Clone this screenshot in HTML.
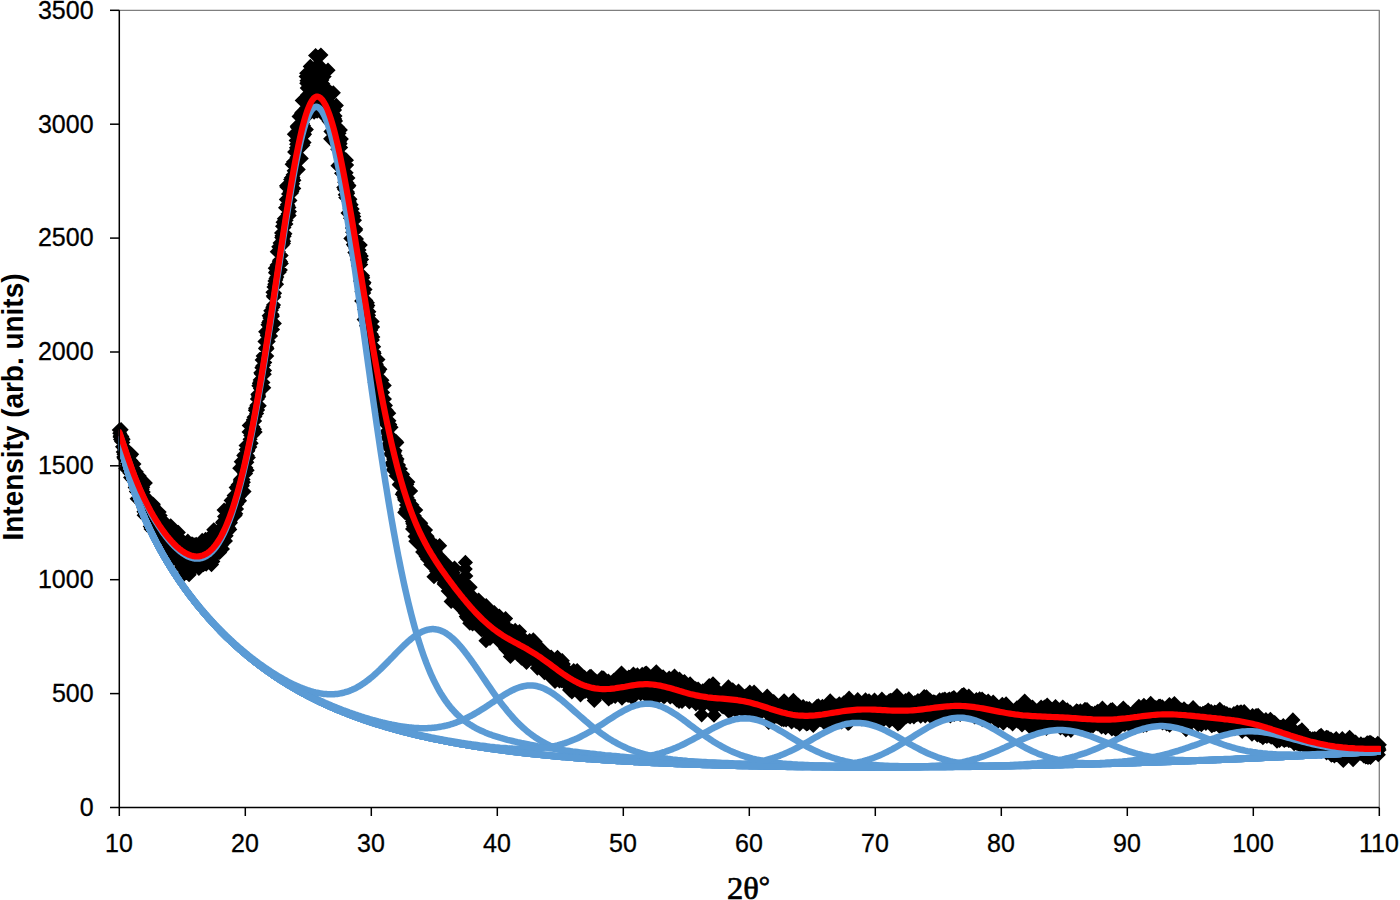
<!DOCTYPE html>
<html><head><meta charset="utf-8"><style>
html,body{margin:0;padding:0;background:#fff;}
body{width:1400px;height:900px;overflow:hidden;position:relative;}
svg{position:absolute;left:0;top:0;}
.t{font-family:"Liberation Sans",sans-serif;font-size:25px;fill:#000;stroke:#000;stroke-width:0.3;}
</style></head><body>
<svg width="1400" height="900" viewBox="0 0 1400 900">
<rect width="1400" height="900" fill="#fff"/>
<path d="M119.3 10.3H1379.3V807.5" fill="none" stroke="#7f7f7f" stroke-width="1.3" stroke-linejoin="round"/>
<clipPath id="c"><rect x="118.8" y="0" width="1262.2" height="900"/></clipPath>
<path d="M119.3 422.5l7.6 7.6-7.6 7.6-7.6-7.6zM119.6 422.2l7.6 7.6-7.6 7.6-7.6-7.6zM119.8 425.6l7.6 7.6-7.6 7.6-7.6-7.6zM120.1 429.3l7.6 7.6-7.6 7.6-7.6-7.6zM120.3 428.3l7.6 7.6-7.6 7.6-7.6-7.6zM120.6 431.8l7.6 7.6-7.6 7.6-7.6-7.6zM120.8 427.6l7.6 7.6-7.6 7.6-7.6-7.6zM121.1 422.1l7.6 7.6-7.6 7.6-7.6-7.6zM121.3 432.2l7.6 7.6-7.6 7.6-7.6-7.6zM121.6 433.8l7.6 7.6-7.6 7.6-7.6-7.6zM121.8 428.9l7.6 7.6-7.6 7.6-7.6-7.6zM122.1 430.4l7.6 7.6-7.6 7.6-7.6-7.6zM122.3 432.6l7.6 7.6-7.6 7.6-7.6-7.6zM122.6 439.2l7.6 7.6-7.6 7.6-7.6-7.6zM122.8 435l7.6 7.6-7.6 7.6-7.6-7.6zM123.1 431.7l7.6 7.6-7.6 7.6-7.6-7.6zM123.3 444.3l7.6 7.6-7.6 7.6-7.6-7.6zM123.6 440l7.6 7.6-7.6 7.6-7.6-7.6zM123.8 449.5l7.6 7.6-7.6 7.6-7.6-7.6zM124.1 446.7l7.6 7.6-7.6 7.6-7.6-7.6zM124.3 451l7.6 7.6-7.6 7.6-7.6-7.6zM124.6 442.1l7.6 7.6-7.6 7.6-7.6-7.6zM124.8 449.3l7.6 7.6-7.6 7.6-7.6-7.6zM125.1 440.5l7.6 7.6-7.6 7.6-7.6-7.6zM125.3 442l7.6 7.6-7.6 7.6-7.6-7.6zM125.6 445l7.6 7.6-7.6 7.6-7.6-7.6zM125.9 460.8l7.6 7.6-7.6 7.6-7.6-7.6zM126.1 448.9l7.6 7.6-7.6 7.6-7.6-7.6zM126.4 446.5l7.6 7.6-7.6 7.6-7.6-7.6zM126.6 446.2l7.6 7.6-7.6 7.6-7.6-7.6zM126.9 457.9l7.6 7.6-7.6 7.6-7.6-7.6zM127.1 451.7l7.6 7.6-7.6 7.6-7.6-7.6zM127.4 455.8l7.6 7.6-7.6 7.6-7.6-7.6zM127.6 455.5l7.6 7.6-7.6 7.6-7.6-7.6zM127.9 443.4l7.6 7.6-7.6 7.6-7.6-7.6zM128.1 457l7.6 7.6-7.6 7.6-7.6-7.6zM128.4 452.4l7.6 7.6-7.6 7.6-7.6-7.6zM128.6 446.8l7.6 7.6-7.6 7.6-7.6-7.6zM128.9 457.8l7.6 7.6-7.6 7.6-7.6-7.6zM129.1 455.2l7.6 7.6-7.6 7.6-7.6-7.6zM129.4 454.3l7.6 7.6-7.6 7.6-7.6-7.6zM129.6 455.4l7.6 7.6-7.6 7.6-7.6-7.6zM129.9 465.3l7.6 7.6-7.6 7.6-7.6-7.6zM130.1 456.7l7.6 7.6-7.6 7.6-7.6-7.6zM130.4 448.1l7.6 7.6-7.6 7.6-7.6-7.6zM130.6 469.9l7.6 7.6-7.6 7.6-7.6-7.6zM130.9 453.1l7.6 7.6-7.6 7.6-7.6-7.6zM131.1 459.2l7.6 7.6-7.6 7.6-7.6-7.6zM131.4 465.5l7.6 7.6-7.6 7.6-7.6-7.6zM131.6 446.7l7.6 7.6-7.6 7.6-7.6-7.6zM131.9 456.5l7.6 7.6-7.6 7.6-7.6-7.6zM132.2 471.7l7.6 7.6-7.6 7.6-7.6-7.6zM132.4 462.9l7.6 7.6-7.6 7.6-7.6-7.6zM132.7 459.8l7.6 7.6-7.6 7.6-7.6-7.6zM132.9 466.2l7.6 7.6-7.6 7.6-7.6-7.6zM133.2 460.3l7.6 7.6-7.6 7.6-7.6-7.6zM133.4 466.6l7.6 7.6-7.6 7.6-7.6-7.6zM133.7 461.7l7.6 7.6-7.6 7.6-7.6-7.6zM133.9 456.5l7.6 7.6-7.6 7.6-7.6-7.6zM134.2 473.2l7.6 7.6-7.6 7.6-7.6-7.6zM134.4 467.2l7.6 7.6-7.6 7.6-7.6-7.6zM134.7 472.9l7.6 7.6-7.6 7.6-7.6-7.6zM134.9 469l7.6 7.6-7.6 7.6-7.6-7.6zM135.2 479.8l7.6 7.6-7.6 7.6-7.6-7.6zM135.4 475.7l7.6 7.6-7.6 7.6-7.6-7.6zM135.7 473.4l7.6 7.6-7.6 7.6-7.6-7.6zM135.9 465.6l7.6 7.6-7.6 7.6-7.6-7.6zM136.2 464.2l7.6 7.6-7.6 7.6-7.6-7.6zM136.4 484l7.6 7.6-7.6 7.6-7.6-7.6zM136.7 480.6l7.6 7.6-7.6 7.6-7.6-7.6zM136.9 469.9l7.6 7.6-7.6 7.6-7.6-7.6zM137.2 491.1l7.6 7.6-7.6 7.6-7.6-7.6zM137.4 479.8l7.6 7.6-7.6 7.6-7.6-7.6zM137.7 477.5l7.6 7.6-7.6 7.6-7.6-7.6zM137.9 467.5l7.6 7.6-7.6 7.6-7.6-7.6zM138.2 472.5l7.6 7.6-7.6 7.6-7.6-7.6zM138.5 481.1l7.6 7.6-7.6 7.6-7.6-7.6zM138.7 482l7.6 7.6-7.6 7.6-7.6-7.6zM139 481.7l7.6 7.6-7.6 7.6-7.6-7.6zM139.2 468.3l7.6 7.6-7.6 7.6-7.6-7.6zM139.5 484.3l7.6 7.6-7.6 7.6-7.6-7.6zM139.7 483.9l7.6 7.6-7.6 7.6-7.6-7.6zM140 479.2l7.6 7.6-7.6 7.6-7.6-7.6zM140.2 483.5l7.6 7.6-7.6 7.6-7.6-7.6zM140.5 484.7l7.6 7.6-7.6 7.6-7.6-7.6zM140.7 492.6l7.6 7.6-7.6 7.6-7.6-7.6zM141 484.4l7.6 7.6-7.6 7.6-7.6-7.6zM141.2 488.4l7.6 7.6-7.6 7.6-7.6-7.6zM141.5 476.1l7.6 7.6-7.6 7.6-7.6-7.6zM141.7 480.7l7.6 7.6-7.6 7.6-7.6-7.6zM142 486.7l7.6 7.6-7.6 7.6-7.6-7.6zM142.2 481.7l7.6 7.6-7.6 7.6-7.6-7.6zM142.5 490.3l7.6 7.6-7.6 7.6-7.6-7.6zM142.7 479.7l7.6 7.6-7.6 7.6-7.6-7.6zM143 488.7l7.6 7.6-7.6 7.6-7.6-7.6zM143.2 484.5l7.6 7.6-7.6 7.6-7.6-7.6zM143.5 500l7.6 7.6-7.6 7.6-7.6-7.6zM143.7 487.4l7.6 7.6-7.6 7.6-7.6-7.6zM144 504.2l7.6 7.6-7.6 7.6-7.6-7.6zM144.2 507.6l7.6 7.6-7.6 7.6-7.6-7.6zM144.5 494.2l7.6 7.6-7.6 7.6-7.6-7.6zM144.8 499.5l7.6 7.6-7.6 7.6-7.6-7.6zM145 491.5l7.6 7.6-7.6 7.6-7.6-7.6zM145.3 475.3l7.6 7.6-7.6 7.6-7.6-7.6zM145.5 500.5l7.6 7.6-7.6 7.6-7.6-7.6zM145.8 499.3l7.6 7.6-7.6 7.6-7.6-7.6zM146 493.2l7.6 7.6-7.6 7.6-7.6-7.6zM146.3 491.4l7.6 7.6-7.6 7.6-7.6-7.6zM146.5 497.2l7.6 7.6-7.6 7.6-7.6-7.6zM146.8 498l7.6 7.6-7.6 7.6-7.6-7.6zM147 491.2l7.6 7.6-7.6 7.6-7.6-7.6zM147.3 493.1l7.6 7.6-7.6 7.6-7.6-7.6zM147.5 506.1l7.6 7.6-7.6 7.6-7.6-7.6zM147.8 498.9l7.6 7.6-7.6 7.6-7.6-7.6zM148 498.5l7.6 7.6-7.6 7.6-7.6-7.6zM148.3 507.7l7.6 7.6-7.6 7.6-7.6-7.6zM148.5 497.6l7.6 7.6-7.6 7.6-7.6-7.6zM148.8 507.1l7.6 7.6-7.6 7.6-7.6-7.6zM149 492.8l7.6 7.6-7.6 7.6-7.6-7.6zM149.3 499.6l7.6 7.6-7.6 7.6-7.6-7.6zM149.5 500.9l7.6 7.6-7.6 7.6-7.6-7.6zM149.8 506.8l7.6 7.6-7.6 7.6-7.6-7.6zM150 503.4l7.6 7.6-7.6 7.6-7.6-7.6zM150.3 519l7.6 7.6-7.6 7.6-7.6-7.6zM150.5 512.5l7.6 7.6-7.6 7.6-7.6-7.6zM150.8 501l7.6 7.6-7.6 7.6-7.6-7.6zM151.1 521.4l7.6 7.6-7.6 7.6-7.6-7.6zM151.3 498l7.6 7.6-7.6 7.6-7.6-7.6zM151.6 519.2l7.6 7.6-7.6 7.6-7.6-7.6zM151.8 499.6l7.6 7.6-7.6 7.6-7.6-7.6zM152.1 512.9l7.6 7.6-7.6 7.6-7.6-7.6zM152.3 500.3l7.6 7.6-7.6 7.6-7.6-7.6zM152.6 505.9l7.6 7.6-7.6 7.6-7.6-7.6zM152.8 519.7l7.6 7.6-7.6 7.6-7.6-7.6zM153.1 497.8l7.6 7.6-7.6 7.6-7.6-7.6zM153.3 496.7l7.6 7.6-7.6 7.6-7.6-7.6zM153.6 509.2l7.6 7.6-7.6 7.6-7.6-7.6zM153.8 511.3l7.6 7.6-7.6 7.6-7.6-7.6zM154.1 510.8l7.6 7.6-7.6 7.6-7.6-7.6zM154.3 517.8l7.6 7.6-7.6 7.6-7.6-7.6zM154.6 501.6l7.6 7.6-7.6 7.6-7.6-7.6zM154.8 515.2l7.6 7.6-7.6 7.6-7.6-7.6zM155.1 511.6l7.6 7.6-7.6 7.6-7.6-7.6zM155.3 518l7.6 7.6-7.6 7.6-7.6-7.6zM155.6 517.1l7.6 7.6-7.6 7.6-7.6-7.6zM155.8 522.7l7.6 7.6-7.6 7.6-7.6-7.6zM156.1 502.8l7.6 7.6-7.6 7.6-7.6-7.6zM156.3 514.5l7.6 7.6-7.6 7.6-7.6-7.6zM156.6 506l7.6 7.6-7.6 7.6-7.6-7.6zM156.8 514l7.6 7.6-7.6 7.6-7.6-7.6zM157.1 520l7.6 7.6-7.6 7.6-7.6-7.6zM157.4 517.5l7.6 7.6-7.6 7.6-7.6-7.6zM157.6 519.7l7.6 7.6-7.6 7.6-7.6-7.6zM157.9 515.6l7.6 7.6-7.6 7.6-7.6-7.6zM158.1 519l7.6 7.6-7.6 7.6-7.6-7.6zM158.4 518.8l7.6 7.6-7.6 7.6-7.6-7.6zM158.6 527.8l7.6 7.6-7.6 7.6-7.6-7.6zM158.9 523.6l7.6 7.6-7.6 7.6-7.6-7.6zM159.1 504.5l7.6 7.6-7.6 7.6-7.6-7.6zM159.4 523.3l7.6 7.6-7.6 7.6-7.6-7.6zM159.6 526.7l7.6 7.6-7.6 7.6-7.6-7.6zM159.9 516l7.6 7.6-7.6 7.6-7.6-7.6zM160.1 507.9l7.6 7.6-7.6 7.6-7.6-7.6zM160.4 531l7.6 7.6-7.6 7.6-7.6-7.6zM160.6 521.5l7.6 7.6-7.6 7.6-7.6-7.6zM160.9 525.2l7.6 7.6-7.6 7.6-7.6-7.6zM161.1 534.5l7.6 7.6-7.6 7.6-7.6-7.6zM161.4 515.1l7.6 7.6-7.6 7.6-7.6-7.6zM161.6 521.5l7.6 7.6-7.6 7.6-7.6-7.6zM161.9 521.1l7.6 7.6-7.6 7.6-7.6-7.6zM162.1 527.9l7.6 7.6-7.6 7.6-7.6-7.6zM162.4 518.7l7.6 7.6-7.6 7.6-7.6-7.6zM162.6 526.9l7.6 7.6-7.6 7.6-7.6-7.6zM162.9 524.2l7.6 7.6-7.6 7.6-7.6-7.6zM163.1 532.1l7.6 7.6-7.6 7.6-7.6-7.6zM163.4 533.3l7.6 7.6-7.6 7.6-7.6-7.6zM163.7 513.6l7.6 7.6-7.6 7.6-7.6-7.6zM163.9 528.4l7.6 7.6-7.6 7.6-7.6-7.6zM164.2 522.5l7.6 7.6-7.6 7.6-7.6-7.6zM164.4 525.4l7.6 7.6-7.6 7.6-7.6-7.6zM164.7 528.9l7.6 7.6-7.6 7.6-7.6-7.6zM164.9 529.7l7.6 7.6-7.6 7.6-7.6-7.6zM165.2 521.1l7.6 7.6-7.6 7.6-7.6-7.6zM165.4 528.8l7.6 7.6-7.6 7.6-7.6-7.6zM165.7 527.9l7.6 7.6-7.6 7.6-7.6-7.6zM165.9 526.9l7.6 7.6-7.6 7.6-7.6-7.6zM166.2 518.2l7.6 7.6-7.6 7.6-7.6-7.6zM166.4 522.4l7.6 7.6-7.6 7.6-7.6-7.6zM166.7 525l7.6 7.6-7.6 7.6-7.6-7.6zM166.9 532.8l7.6 7.6-7.6 7.6-7.6-7.6zM167.2 539.5l7.6 7.6-7.6 7.6-7.6-7.6zM167.4 521.5l7.6 7.6-7.6 7.6-7.6-7.6zM167.7 521.7l7.6 7.6-7.6 7.6-7.6-7.6zM167.9 530.7l7.6 7.6-7.6 7.6-7.6-7.6zM168.2 525.7l7.6 7.6-7.6 7.6-7.6-7.6zM168.4 524.1l7.6 7.6-7.6 7.6-7.6-7.6zM168.7 524l7.6 7.6-7.6 7.6-7.6-7.6zM168.9 523.6l7.6 7.6-7.6 7.6-7.6-7.6zM169.2 534.6l7.6 7.6-7.6 7.6-7.6-7.6zM169.4 519.6l7.6 7.6-7.6 7.6-7.6-7.6zM169.7 541.4l7.6 7.6-7.6 7.6-7.6-7.6zM170 525.3l7.6 7.6-7.6 7.6-7.6-7.6zM170.2 528.4l7.6 7.6-7.6 7.6-7.6-7.6zM170.5 525.7l7.6 7.6-7.6 7.6-7.6-7.6zM170.7 518.2l7.6 7.6-7.6 7.6-7.6-7.6zM171 521.6l7.6 7.6-7.6 7.6-7.6-7.6zM171.2 542.3l7.6 7.6-7.6 7.6-7.6-7.6zM171.5 546.8l7.6 7.6-7.6 7.6-7.6-7.6zM171.7 527.6l7.6 7.6-7.6 7.6-7.6-7.6zM172 542.1l7.6 7.6-7.6 7.6-7.6-7.6zM172.2 534.6l7.6 7.6-7.6 7.6-7.6-7.6zM172.5 528.2l7.6 7.6-7.6 7.6-7.6-7.6zM172.7 547.8l7.6 7.6-7.6 7.6-7.6-7.6zM173 551.6l7.6 7.6-7.6 7.6-7.6-7.6zM173.2 533.5l7.6 7.6-7.6 7.6-7.6-7.6zM173.5 535.5l7.6 7.6-7.6 7.6-7.6-7.6zM173.7 538l7.6 7.6-7.6 7.6-7.6-7.6zM174 536l7.6 7.6-7.6 7.6-7.6-7.6zM174.2 543.2l7.6 7.6-7.6 7.6-7.6-7.6zM174.5 548.5l7.6 7.6-7.6 7.6-7.6-7.6zM174.7 538.4l7.6 7.6-7.6 7.6-7.6-7.6zM175 544.8l7.6 7.6-7.6 7.6-7.6-7.6zM175.2 550.2l7.6 7.6-7.6 7.6-7.6-7.6zM175.5 533.9l7.6 7.6-7.6 7.6-7.6-7.6zM175.7 538.5l7.6 7.6-7.6 7.6-7.6-7.6zM176 535.2l7.6 7.6-7.6 7.6-7.6-7.6zM176.3 546.1l7.6 7.6-7.6 7.6-7.6-7.6zM176.5 543.8l7.6 7.6-7.6 7.6-7.6-7.6zM176.8 546.7l7.6 7.6-7.6 7.6-7.6-7.6zM177 546l7.6 7.6-7.6 7.6-7.6-7.6zM177.3 537.9l7.6 7.6-7.6 7.6-7.6-7.6zM177.5 545.7l7.6 7.6-7.6 7.6-7.6-7.6zM177.8 537.2l7.6 7.6-7.6 7.6-7.6-7.6zM178 537.5l7.6 7.6-7.6 7.6-7.6-7.6zM178.3 524.8l7.6 7.6-7.6 7.6-7.6-7.6zM178.5 551.2l7.6 7.6-7.6 7.6-7.6-7.6zM178.8 533.9l7.6 7.6-7.6 7.6-7.6-7.6zM179 541.7l7.6 7.6-7.6 7.6-7.6-7.6zM179.3 541.3l7.6 7.6-7.6 7.6-7.6-7.6zM179.5 552.5l7.6 7.6-7.6 7.6-7.6-7.6zM179.8 545.1l7.6 7.6-7.6 7.6-7.6-7.6zM180 536.1l7.6 7.6-7.6 7.6-7.6-7.6zM180.3 542.6l7.6 7.6-7.6 7.6-7.6-7.6zM180.5 541.6l7.6 7.6-7.6 7.6-7.6-7.6zM180.8 544.6l7.6 7.6-7.6 7.6-7.6-7.6zM181 533.7l7.6 7.6-7.6 7.6-7.6-7.6zM181.3 542.9l7.6 7.6-7.6 7.6-7.6-7.6zM181.5 559.7l7.6 7.6-7.6 7.6-7.6-7.6zM181.8 548.4l7.6 7.6-7.6 7.6-7.6-7.6zM182 558.3l7.6 7.6-7.6 7.6-7.6-7.6zM182.3 568.3l7.6 7.6-7.6 7.6-7.6-7.6zM182.6 547.7l7.6 7.6-7.6 7.6-7.6-7.6zM182.8 533.6l7.6 7.6-7.6 7.6-7.6-7.6zM183.1 543.6l7.6 7.6-7.6 7.6-7.6-7.6zM183.3 553.1l7.6 7.6-7.6 7.6-7.6-7.6zM183.6 551.5l7.6 7.6-7.6 7.6-7.6-7.6zM183.8 535.9l7.6 7.6-7.6 7.6-7.6-7.6zM184.1 543.4l7.6 7.6-7.6 7.6-7.6-7.6zM184.3 544.4l7.6 7.6-7.6 7.6-7.6-7.6zM184.6 545.4l7.6 7.6-7.6 7.6-7.6-7.6zM184.8 544.8l7.6 7.6-7.6 7.6-7.6-7.6zM185.1 539.1l7.6 7.6-7.6 7.6-7.6-7.6zM185.3 541.2l7.6 7.6-7.6 7.6-7.6-7.6zM185.6 543.9l7.6 7.6-7.6 7.6-7.6-7.6zM185.8 553.6l7.6 7.6-7.6 7.6-7.6-7.6zM186.1 541.9l7.6 7.6-7.6 7.6-7.6-7.6zM186.3 551.2l7.6 7.6-7.6 7.6-7.6-7.6zM186.6 537.8l7.6 7.6-7.6 7.6-7.6-7.6zM186.8 555.9l7.6 7.6-7.6 7.6-7.6-7.6zM187.1 547.4l7.6 7.6-7.6 7.6-7.6-7.6zM187.3 546.5l7.6 7.6-7.6 7.6-7.6-7.6zM187.6 556.6l7.6 7.6-7.6 7.6-7.6-7.6zM187.8 533.6l7.6 7.6-7.6 7.6-7.6-7.6zM188.1 535.7l7.6 7.6-7.6 7.6-7.6-7.6zM188.3 550.4l7.6 7.6-7.6 7.6-7.6-7.6zM188.6 541.2l7.6 7.6-7.6 7.6-7.6-7.6zM188.9 544.3l7.6 7.6-7.6 7.6-7.6-7.6zM189.1 567.1l7.6 7.6-7.6 7.6-7.6-7.6zM189.4 545.4l7.6 7.6-7.6 7.6-7.6-7.6zM189.6 547.9l7.6 7.6-7.6 7.6-7.6-7.6zM189.9 546.9l7.6 7.6-7.6 7.6-7.6-7.6zM190.1 555.8l7.6 7.6-7.6 7.6-7.6-7.6zM190.4 549.8l7.6 7.6-7.6 7.6-7.6-7.6zM190.6 549.2l7.6 7.6-7.6 7.6-7.6-7.6zM190.9 538.9l7.6 7.6-7.6 7.6-7.6-7.6zM191.1 545.4l7.6 7.6-7.6 7.6-7.6-7.6zM191.4 548.1l7.6 7.6-7.6 7.6-7.6-7.6zM191.6 536.5l7.6 7.6-7.6 7.6-7.6-7.6zM191.9 552.4l7.6 7.6-7.6 7.6-7.6-7.6zM192.1 551.2l7.6 7.6-7.6 7.6-7.6-7.6zM192.4 562.1l7.6 7.6-7.6 7.6-7.6-7.6zM192.6 536.5l7.6 7.6-7.6 7.6-7.6-7.6zM192.9 541.1l7.6 7.6-7.6 7.6-7.6-7.6zM193.1 541.5l7.6 7.6-7.6 7.6-7.6-7.6zM193.4 543.5l7.6 7.6-7.6 7.6-7.6-7.6zM193.6 547.7l7.6 7.6-7.6 7.6-7.6-7.6zM193.9 547l7.6 7.6-7.6 7.6-7.6-7.6zM194.1 550.6l7.6 7.6-7.6 7.6-7.6-7.6zM194.4 550.2l7.6 7.6-7.6 7.6-7.6-7.6zM194.6 548.3l7.6 7.6-7.6 7.6-7.6-7.6zM194.9 537.3l7.6 7.6-7.6 7.6-7.6-7.6zM195.2 544.6l7.6 7.6-7.6 7.6-7.6-7.6zM195.4 549.3l7.6 7.6-7.6 7.6-7.6-7.6zM195.7 553.2l7.6 7.6-7.6 7.6-7.6-7.6zM195.9 553.6l7.6 7.6-7.6 7.6-7.6-7.6zM196.2 536.7l7.6 7.6-7.6 7.6-7.6-7.6zM196.4 545l7.6 7.6-7.6 7.6-7.6-7.6zM196.7 548.4l7.6 7.6-7.6 7.6-7.6-7.6zM196.9 551.5l7.6 7.6-7.6 7.6-7.6-7.6zM197.2 557.3l7.6 7.6-7.6 7.6-7.6-7.6zM197.4 549.4l7.6 7.6-7.6 7.6-7.6-7.6zM197.7 542.3l7.6 7.6-7.6 7.6-7.6-7.6zM197.9 551.8l7.6 7.6-7.6 7.6-7.6-7.6zM198.2 550.6l7.6 7.6-7.6 7.6-7.6-7.6zM198.4 550.5l7.6 7.6-7.6 7.6-7.6-7.6zM198.7 548l7.6 7.6-7.6 7.6-7.6-7.6zM198.9 560.8l7.6 7.6-7.6 7.6-7.6-7.6zM199.2 550.5l7.6 7.6-7.6 7.6-7.6-7.6zM199.4 555.2l7.6 7.6-7.6 7.6-7.6-7.6zM199.7 542l7.6 7.6-7.6 7.6-7.6-7.6zM199.9 554.4l7.6 7.6-7.6 7.6-7.6-7.6zM200.2 544.2l7.6 7.6-7.6 7.6-7.6-7.6zM200.4 537l7.6 7.6-7.6 7.6-7.6-7.6zM200.7 550.8l7.6 7.6-7.6 7.6-7.6-7.6zM200.9 553l7.6 7.6-7.6 7.6-7.6-7.6zM201.2 546.9l7.6 7.6-7.6 7.6-7.6-7.6zM201.5 548.3l7.6 7.6-7.6 7.6-7.6-7.6zM201.7 555.7l7.6 7.6-7.6 7.6-7.6-7.6zM202 544.6l7.6 7.6-7.6 7.6-7.6-7.6zM202.2 532.8l7.6 7.6-7.6 7.6-7.6-7.6zM202.5 549.9l7.6 7.6-7.6 7.6-7.6-7.6zM202.7 549.4l7.6 7.6-7.6 7.6-7.6-7.6zM203 555.7l7.6 7.6-7.6 7.6-7.6-7.6zM203.2 545.3l7.6 7.6-7.6 7.6-7.6-7.6zM203.5 557l7.6 7.6-7.6 7.6-7.6-7.6zM203.7 555.9l7.6 7.6-7.6 7.6-7.6-7.6zM204 537.7l7.6 7.6-7.6 7.6-7.6-7.6zM204.2 554.1l7.6 7.6-7.6 7.6-7.6-7.6zM204.5 539l7.6 7.6-7.6 7.6-7.6-7.6zM204.7 535.5l7.6 7.6-7.6 7.6-7.6-7.6zM205 544.9l7.6 7.6-7.6 7.6-7.6-7.6zM205.2 542.6l7.6 7.6-7.6 7.6-7.6-7.6zM205.5 531.8l7.6 7.6-7.6 7.6-7.6-7.6zM205.7 548l7.6 7.6-7.6 7.6-7.6-7.6zM206 550.9l7.6 7.6-7.6 7.6-7.6-7.6zM206.2 556.5l7.6 7.6-7.6 7.6-7.6-7.6zM206.5 545.8l7.6 7.6-7.6 7.6-7.6-7.6zM206.7 534.7l7.6 7.6-7.6 7.6-7.6-7.6zM207 538.5l7.6 7.6-7.6 7.6-7.6-7.6zM207.2 552.8l7.6 7.6-7.6 7.6-7.6-7.6zM207.5 551.9l7.6 7.6-7.6 7.6-7.6-7.6zM207.8 549.1l7.6 7.6-7.6 7.6-7.6-7.6zM208 542.8l7.6 7.6-7.6 7.6-7.6-7.6zM208.3 546.4l7.6 7.6-7.6 7.6-7.6-7.6zM208.5 543.1l7.6 7.6-7.6 7.6-7.6-7.6zM208.8 542.2l7.6 7.6-7.6 7.6-7.6-7.6zM209 546.6l7.6 7.6-7.6 7.6-7.6-7.6zM209.3 544.4l7.6 7.6-7.6 7.6-7.6-7.6zM209.5 542.3l7.6 7.6-7.6 7.6-7.6-7.6zM209.8 544.3l7.6 7.6-7.6 7.6-7.6-7.6zM210 539.6l7.6 7.6-7.6 7.6-7.6-7.6zM210.3 528.9l7.6 7.6-7.6 7.6-7.6-7.6zM210.5 538.5l7.6 7.6-7.6 7.6-7.6-7.6zM210.8 542.3l7.6 7.6-7.6 7.6-7.6-7.6zM211 555.4l7.6 7.6-7.6 7.6-7.6-7.6zM211.3 539.3l7.6 7.6-7.6 7.6-7.6-7.6zM211.5 557l7.6 7.6-7.6 7.6-7.6-7.6zM211.8 552.6l7.6 7.6-7.6 7.6-7.6-7.6zM212 535l7.6 7.6-7.6 7.6-7.6-7.6zM212.3 535.9l7.6 7.6-7.6 7.6-7.6-7.6zM212.5 542.2l7.6 7.6-7.6 7.6-7.6-7.6zM212.8 553.9l7.6 7.6-7.6 7.6-7.6-7.6zM213 543.3l7.6 7.6-7.6 7.6-7.6-7.6zM213.3 545.4l7.6 7.6-7.6 7.6-7.6-7.6zM213.5 535l7.6 7.6-7.6 7.6-7.6-7.6zM213.8 522.2l7.6 7.6-7.6 7.6-7.6-7.6zM214.1 537.6l7.6 7.6-7.6 7.6-7.6-7.6zM214.3 545l7.6 7.6-7.6 7.6-7.6-7.6zM214.6 547.7l7.6 7.6-7.6 7.6-7.6-7.6zM214.8 538.8l7.6 7.6-7.6 7.6-7.6-7.6zM215.1 539.4l7.6 7.6-7.6 7.6-7.6-7.6zM215.3 546.6l7.6 7.6-7.6 7.6-7.6-7.6zM215.6 536.5l7.6 7.6-7.6 7.6-7.6-7.6zM215.8 546l7.6 7.6-7.6 7.6-7.6-7.6zM216.1 528.1l7.6 7.6-7.6 7.6-7.6-7.6zM216.3 528.1l7.6 7.6-7.6 7.6-7.6-7.6zM216.6 527.6l7.6 7.6-7.6 7.6-7.6-7.6zM216.8 539.3l7.6 7.6-7.6 7.6-7.6-7.6zM217.1 531.3l7.6 7.6-7.6 7.6-7.6-7.6zM217.3 535.9l7.6 7.6-7.6 7.6-7.6-7.6zM217.6 537.6l7.6 7.6-7.6 7.6-7.6-7.6zM217.8 536.8l7.6 7.6-7.6 7.6-7.6-7.6zM218.1 543.9l7.6 7.6-7.6 7.6-7.6-7.6zM218.3 544.6l7.6 7.6-7.6 7.6-7.6-7.6zM218.6 526.8l7.6 7.6-7.6 7.6-7.6-7.6zM218.8 534.1l7.6 7.6-7.6 7.6-7.6-7.6zM219.1 530.5l7.6 7.6-7.6 7.6-7.6-7.6zM219.3 523.9l7.6 7.6-7.6 7.6-7.6-7.6zM219.6 544.9l7.6 7.6-7.6 7.6-7.6-7.6zM219.8 537l7.6 7.6-7.6 7.6-7.6-7.6zM220.1 529.1l7.6 7.6-7.6 7.6-7.6-7.6zM220.4 526.9l7.6 7.6-7.6 7.6-7.6-7.6zM220.6 532.5l7.6 7.6-7.6 7.6-7.6-7.6zM220.9 521l7.6 7.6-7.6 7.6-7.6-7.6zM221.1 527l7.6 7.6-7.6 7.6-7.6-7.6zM221.4 537.7l7.6 7.6-7.6 7.6-7.6-7.6zM221.6 535l7.6 7.6-7.6 7.6-7.6-7.6zM221.9 520.9l7.6 7.6-7.6 7.6-7.6-7.6zM222.1 523.1l7.6 7.6-7.6 7.6-7.6-7.6zM222.4 541.3l7.6 7.6-7.6 7.6-7.6-7.6zM222.6 515.1l7.6 7.6-7.6 7.6-7.6-7.6zM222.9 520.5l7.6 7.6-7.6 7.6-7.6-7.6zM223.1 514.1l7.6 7.6-7.6 7.6-7.6-7.6zM223.4 527.3l7.6 7.6-7.6 7.6-7.6-7.6zM223.6 526.1l7.6 7.6-7.6 7.6-7.6-7.6zM223.9 532.2l7.6 7.6-7.6 7.6-7.6-7.6zM224.1 502.5l7.6 7.6-7.6 7.6-7.6-7.6zM224.4 523.5l7.6 7.6-7.6 7.6-7.6-7.6zM224.6 509l7.6 7.6-7.6 7.6-7.6-7.6zM224.9 526.2l7.6 7.6-7.6 7.6-7.6-7.6zM225.1 519.2l7.6 7.6-7.6 7.6-7.6-7.6zM225.4 533.3l7.6 7.6-7.6 7.6-7.6-7.6zM225.6 522.4l7.6 7.6-7.6 7.6-7.6-7.6zM225.9 510.9l7.6 7.6-7.6 7.6-7.6-7.6zM226.1 528.2l7.6 7.6-7.6 7.6-7.6-7.6zM226.4 509l7.6 7.6-7.6 7.6-7.6-7.6zM226.7 514.3l7.6 7.6-7.6 7.6-7.6-7.6zM226.9 524.8l7.6 7.6-7.6 7.6-7.6-7.6zM227.2 519.8l7.6 7.6-7.6 7.6-7.6-7.6zM227.4 518.9l7.6 7.6-7.6 7.6-7.6-7.6zM227.7 514.9l7.6 7.6-7.6 7.6-7.6-7.6zM227.9 518.2l7.6 7.6-7.6 7.6-7.6-7.6zM228.2 520l7.6 7.6-7.6 7.6-7.6-7.6zM228.4 515.1l7.6 7.6-7.6 7.6-7.6-7.6zM228.7 520.3l7.6 7.6-7.6 7.6-7.6-7.6zM228.9 521.8l7.6 7.6-7.6 7.6-7.6-7.6zM229.2 511.1l7.6 7.6-7.6 7.6-7.6-7.6zM229.4 502.8l7.6 7.6-7.6 7.6-7.6-7.6zM229.7 521.8l7.6 7.6-7.6 7.6-7.6-7.6zM229.9 508.6l7.6 7.6-7.6 7.6-7.6-7.6zM230.2 513.2l7.6 7.6-7.6 7.6-7.6-7.6zM230.4 515.2l7.6 7.6-7.6 7.6-7.6-7.6zM230.7 499.6l7.6 7.6-7.6 7.6-7.6-7.6zM230.9 510.1l7.6 7.6-7.6 7.6-7.6-7.6zM231.2 492.8l7.6 7.6-7.6 7.6-7.6-7.6zM231.4 510.8l7.6 7.6-7.6 7.6-7.6-7.6zM231.7 500.5l7.6 7.6-7.6 7.6-7.6-7.6zM231.9 504.8l7.6 7.6-7.6 7.6-7.6-7.6zM232.2 508.4l7.6 7.6-7.6 7.6-7.6-7.6zM232.4 496.6l7.6 7.6-7.6 7.6-7.6-7.6zM232.7 501.9l7.6 7.6-7.6 7.6-7.6-7.6zM233 494.9l7.6 7.6-7.6 7.6-7.6-7.6zM233.2 499.5l7.6 7.6-7.6 7.6-7.6-7.6zM233.5 507.3l7.6 7.6-7.6 7.6-7.6-7.6zM233.7 498.4l7.6 7.6-7.6 7.6-7.6-7.6zM234 496.3l7.6 7.6-7.6 7.6-7.6-7.6zM234.2 488l7.6 7.6-7.6 7.6-7.6-7.6zM234.5 502.7l7.6 7.6-7.6 7.6-7.6-7.6zM234.7 494.7l7.6 7.6-7.6 7.6-7.6-7.6zM235 507.9l7.6 7.6-7.6 7.6-7.6-7.6zM235.2 487.2l7.6 7.6-7.6 7.6-7.6-7.6zM235.5 500.9l7.6 7.6-7.6 7.6-7.6-7.6zM235.7 506.2l7.6 7.6-7.6 7.6-7.6-7.6zM236 490.6l7.6 7.6-7.6 7.6-7.6-7.6zM236.2 480l7.6 7.6-7.6 7.6-7.6-7.6zM236.5 501.3l7.6 7.6-7.6 7.6-7.6-7.6zM236.7 496.7l7.6 7.6-7.6 7.6-7.6-7.6zM237 493l7.6 7.6-7.6 7.6-7.6-7.6zM237.2 495.3l7.6 7.6-7.6 7.6-7.6-7.6zM237.5 481.7l7.6 7.6-7.6 7.6-7.6-7.6zM237.7 490.8l7.6 7.6-7.6 7.6-7.6-7.6zM238 489.2l7.6 7.6-7.6 7.6-7.6-7.6zM238.2 477.2l7.6 7.6-7.6 7.6-7.6-7.6zM238.5 487.7l7.6 7.6-7.6 7.6-7.6-7.6zM238.7 476.6l7.6 7.6-7.6 7.6-7.6-7.6zM239 487.7l7.6 7.6-7.6 7.6-7.6-7.6zM239.3 488.8l7.6 7.6-7.6 7.6-7.6-7.6zM239.5 493.2l7.6 7.6-7.6 7.6-7.6-7.6zM239.8 460.6l7.6 7.6-7.6 7.6-7.6-7.6zM240 478.3l7.6 7.6-7.6 7.6-7.6-7.6zM240.3 472.5l7.6 7.6-7.6 7.6-7.6-7.6zM240.5 473.9l7.6 7.6-7.6 7.6-7.6-7.6zM240.8 471.3l7.6 7.6-7.6 7.6-7.6-7.6zM241 471.2l7.6 7.6-7.6 7.6-7.6-7.6zM241.3 454.1l7.6 7.6-7.6 7.6-7.6-7.6zM241.5 478.6l7.6 7.6-7.6 7.6-7.6-7.6zM241.8 482.1l7.6 7.6-7.6 7.6-7.6-7.6zM242 476.4l7.6 7.6-7.6 7.6-7.6-7.6zM242.3 478.2l7.6 7.6-7.6 7.6-7.6-7.6zM242.5 459l7.6 7.6-7.6 7.6-7.6-7.6zM242.8 457.3l7.6 7.6-7.6 7.6-7.6-7.6zM243 471.8l7.6 7.6-7.6 7.6-7.6-7.6zM243.3 474.6l7.6 7.6-7.6 7.6-7.6-7.6zM243.5 464.4l7.6 7.6-7.6 7.6-7.6-7.6zM243.8 448l7.6 7.6-7.6 7.6-7.6-7.6zM244 484l7.6 7.6-7.6 7.6-7.6-7.6zM244.3 453.4l7.6 7.6-7.6 7.6-7.6-7.6zM244.5 466.5l7.6 7.6-7.6 7.6-7.6-7.6zM244.8 446.7l7.6 7.6-7.6 7.6-7.6-7.6zM245 464.3l7.6 7.6-7.6 7.6-7.6-7.6zM245.3 456.2l7.6 7.6-7.6 7.6-7.6-7.6zM245.6 465.9l7.6 7.6-7.6 7.6-7.6-7.6zM245.8 460.1l7.6 7.6-7.6 7.6-7.6-7.6zM246.1 437.9l7.6 7.6-7.6 7.6-7.6-7.6zM246.3 441.8l7.6 7.6-7.6 7.6-7.6-7.6zM246.6 451.6l7.6 7.6-7.6 7.6-7.6-7.6zM246.8 454.6l7.6 7.6-7.6 7.6-7.6-7.6zM247.1 462.7l7.6 7.6-7.6 7.6-7.6-7.6zM247.3 448l7.6 7.6-7.6 7.6-7.6-7.6zM247.6 443.6l7.6 7.6-7.6 7.6-7.6-7.6zM247.8 442.9l7.6 7.6-7.6 7.6-7.6-7.6zM248.1 441.8l7.6 7.6-7.6 7.6-7.6-7.6zM248.3 449.9l7.6 7.6-7.6 7.6-7.6-7.6zM248.6 439.1l7.6 7.6-7.6 7.6-7.6-7.6zM248.8 437.7l7.6 7.6-7.6 7.6-7.6-7.6zM249.1 424.3l7.6 7.6-7.6 7.6-7.6-7.6zM249.3 417.8l7.6 7.6-7.6 7.6-7.6-7.6zM249.6 434.9l7.6 7.6-7.6 7.6-7.6-7.6zM249.8 439.4l7.6 7.6-7.6 7.6-7.6-7.6zM250.1 431.7l7.6 7.6-7.6 7.6-7.6-7.6zM250.3 435.5l7.6 7.6-7.6 7.6-7.6-7.6zM250.6 435.4l7.6 7.6-7.6 7.6-7.6-7.6zM250.8 427.9l7.6 7.6-7.6 7.6-7.6-7.6zM251.1 435.7l7.6 7.6-7.6 7.6-7.6-7.6zM251.3 419.2l7.6 7.6-7.6 7.6-7.6-7.6zM251.6 424.5l7.6 7.6-7.6 7.6-7.6-7.6zM251.9 419.9l7.6 7.6-7.6 7.6-7.6-7.6zM252.1 422.6l7.6 7.6-7.6 7.6-7.6-7.6zM252.4 426.4l7.6 7.6-7.6 7.6-7.6-7.6zM252.6 427.1l7.6 7.6-7.6 7.6-7.6-7.6zM252.9 419.2l7.6 7.6-7.6 7.6-7.6-7.6zM253.1 420.8l7.6 7.6-7.6 7.6-7.6-7.6zM253.4 412.1l7.6 7.6-7.6 7.6-7.6-7.6zM253.6 413l7.6 7.6-7.6 7.6-7.6-7.6zM253.9 424.4l7.6 7.6-7.6 7.6-7.6-7.6zM254.1 409.6l7.6 7.6-7.6 7.6-7.6-7.6zM254.4 421.6l7.6 7.6-7.6 7.6-7.6-7.6zM254.6 413.4l7.6 7.6-7.6 7.6-7.6-7.6zM254.9 409l7.6 7.6-7.6 7.6-7.6-7.6zM255.1 424.5l7.6 7.6-7.6 7.6-7.6-7.6zM255.4 402.6l7.6 7.6-7.6 7.6-7.6-7.6zM255.6 400.6l7.6 7.6-7.6 7.6-7.6-7.6zM255.9 402.1l7.6 7.6-7.6 7.6-7.6-7.6zM256.1 403.3l7.6 7.6-7.6 7.6-7.6-7.6zM256.4 401.4l7.6 7.6-7.6 7.6-7.6-7.6zM256.6 405.8l7.6 7.6-7.6 7.6-7.6-7.6zM256.9 397.6l7.6 7.6-7.6 7.6-7.6-7.6zM257.1 398.9l7.6 7.6-7.6 7.6-7.6-7.6zM257.4 391.3l7.6 7.6-7.6 7.6-7.6-7.6zM257.6 402.3l7.6 7.6-7.6 7.6-7.6-7.6zM257.9 387l7.6 7.6-7.6 7.6-7.6-7.6zM258.2 386.4l7.6 7.6-7.6 7.6-7.6-7.6zM258.4 387.7l7.6 7.6-7.6 7.6-7.6-7.6zM258.7 389.2l7.6 7.6-7.6 7.6-7.6-7.6zM258.9 378.1l7.6 7.6-7.6 7.6-7.6-7.6zM259.2 398.2l7.6 7.6-7.6 7.6-7.6-7.6zM259.4 376l7.6 7.6-7.6 7.6-7.6-7.6zM259.7 376.6l7.6 7.6-7.6 7.6-7.6-7.6zM259.9 374.7l7.6 7.6-7.6 7.6-7.6-7.6zM260.2 372.3l7.6 7.6-7.6 7.6-7.6-7.6zM260.4 381l7.6 7.6-7.6 7.6-7.6-7.6zM260.7 375.6l7.6 7.6-7.6 7.6-7.6-7.6zM260.9 365.2l7.6 7.6-7.6 7.6-7.6-7.6zM261.2 365.7l7.6 7.6-7.6 7.6-7.6-7.6zM261.4 366.4l7.6 7.6-7.6 7.6-7.6-7.6zM261.7 382l7.6 7.6-7.6 7.6-7.6-7.6zM261.9 360.1l7.6 7.6-7.6 7.6-7.6-7.6zM262.2 352.3l7.6 7.6-7.6 7.6-7.6-7.6zM262.4 352.3l7.6 7.6-7.6 7.6-7.6-7.6zM262.7 358.5l7.6 7.6-7.6 7.6-7.6-7.6zM262.9 374.9l7.6 7.6-7.6 7.6-7.6-7.6zM263.2 348.3l7.6 7.6-7.6 7.6-7.6-7.6zM263.4 357.6l7.6 7.6-7.6 7.6-7.6-7.6zM263.7 380.1l7.6 7.6-7.6 7.6-7.6-7.6zM263.9 349.2l7.6 7.6-7.6 7.6-7.6-7.6zM264.2 366.6l7.6 7.6-7.6 7.6-7.6-7.6zM264.5 363l7.6 7.6-7.6 7.6-7.6-7.6zM264.7 354.8l7.6 7.6-7.6 7.6-7.6-7.6zM265 333.8l7.6 7.6-7.6 7.6-7.6-7.6zM265.2 348.9l7.6 7.6-7.6 7.6-7.6-7.6zM265.5 340.8l7.6 7.6-7.6 7.6-7.6-7.6zM265.7 324.1l7.6 7.6-7.6 7.6-7.6-7.6zM266 324.1l7.6 7.6-7.6 7.6-7.6-7.6zM266.2 339.8l7.6 7.6-7.6 7.6-7.6-7.6zM266.5 339.6l7.6 7.6-7.6 7.6-7.6-7.6zM266.7 348.5l7.6 7.6-7.6 7.6-7.6-7.6zM267 341.1l7.6 7.6-7.6 7.6-7.6-7.6zM267.2 327.9l7.6 7.6-7.6 7.6-7.6-7.6zM267.5 326.6l7.6 7.6-7.6 7.6-7.6-7.6zM267.7 327.9l7.6 7.6-7.6 7.6-7.6-7.6zM268 317.1l7.6 7.6-7.6 7.6-7.6-7.6zM268.2 333.8l7.6 7.6-7.6 7.6-7.6-7.6zM268.5 324.8l7.6 7.6-7.6 7.6-7.6-7.6zM268.7 314.9l7.6 7.6-7.6 7.6-7.6-7.6zM269 314.8l7.6 7.6-7.6 7.6-7.6-7.6zM269.2 308.1l7.6 7.6-7.6 7.6-7.6-7.6zM269.5 313.4l7.6 7.6-7.6 7.6-7.6-7.6zM269.7 319.2l7.6 7.6-7.6 7.6-7.6-7.6zM270 310.5l7.6 7.6-7.6 7.6-7.6-7.6zM270.2 323.2l7.6 7.6-7.6 7.6-7.6-7.6zM270.5 328.3l7.6 7.6-7.6 7.6-7.6-7.6zM270.8 303.2l7.6 7.6-7.6 7.6-7.6-7.6zM271 308.3l7.6 7.6-7.6 7.6-7.6-7.6zM271.3 302.7l7.6 7.6-7.6 7.6-7.6-7.6zM271.5 322.4l7.6 7.6-7.6 7.6-7.6-7.6zM271.8 306.6l7.6 7.6-7.6 7.6-7.6-7.6zM272 307.4l7.6 7.6-7.6 7.6-7.6-7.6zM272.3 308.6l7.6 7.6-7.6 7.6-7.6-7.6zM272.5 321.8l7.6 7.6-7.6 7.6-7.6-7.6zM272.8 299.6l7.6 7.6-7.6 7.6-7.6-7.6zM273 284.7l7.6 7.6-7.6 7.6-7.6-7.6zM273.3 288.5l7.6 7.6-7.6 7.6-7.6-7.6zM273.5 297.4l7.6 7.6-7.6 7.6-7.6-7.6zM273.8 289.4l7.6 7.6-7.6 7.6-7.6-7.6zM274 279.4l7.6 7.6-7.6 7.6-7.6-7.6zM274.3 315.8l7.6 7.6-7.6 7.6-7.6-7.6zM274.5 285.6l7.6 7.6-7.6 7.6-7.6-7.6zM274.8 276.6l7.6 7.6-7.6 7.6-7.6-7.6zM275 273.4l7.6 7.6-7.6 7.6-7.6-7.6zM275.3 260.6l7.6 7.6-7.6 7.6-7.6-7.6zM275.5 265.1l7.6 7.6-7.6 7.6-7.6-7.6zM275.8 272.4l7.6 7.6-7.6 7.6-7.6-7.6zM276 270.8l7.6 7.6-7.6 7.6-7.6-7.6zM276.3 263.8l7.6 7.6-7.6 7.6-7.6-7.6zM276.5 276.6l7.6 7.6-7.6 7.6-7.6-7.6zM276.8 269.5l7.6 7.6-7.6 7.6-7.6-7.6zM277.1 257.4l7.6 7.6-7.6 7.6-7.6-7.6zM277.3 244.1l7.6 7.6-7.6 7.6-7.6-7.6zM277.6 265.7l7.6 7.6-7.6 7.6-7.6-7.6zM277.8 262.8l7.6 7.6-7.6 7.6-7.6-7.6zM278.1 258.4l7.6 7.6-7.6 7.6-7.6-7.6zM278.3 244l7.6 7.6-7.6 7.6-7.6-7.6zM278.6 257.6l7.6 7.6-7.6 7.6-7.6-7.6zM278.8 239.2l7.6 7.6-7.6 7.6-7.6-7.6zM279.1 264.6l7.6 7.6-7.6 7.6-7.6-7.6zM279.3 254.2l7.6 7.6-7.6 7.6-7.6-7.6zM279.6 252.7l7.6 7.6-7.6 7.6-7.6-7.6zM279.8 240l7.6 7.6-7.6 7.6-7.6-7.6zM280.1 235.4l7.6 7.6-7.6 7.6-7.6-7.6zM280.3 262.4l7.6 7.6-7.6 7.6-7.6-7.6zM280.6 254.1l7.6 7.6-7.6 7.6-7.6-7.6zM280.8 238.3l7.6 7.6-7.6 7.6-7.6-7.6zM281.1 247.8l7.6 7.6-7.6 7.6-7.6-7.6zM281.3 255.9l7.6 7.6-7.6 7.6-7.6-7.6zM281.6 225.3l7.6 7.6-7.6 7.6-7.6-7.6zM281.8 229.8l7.6 7.6-7.6 7.6-7.6-7.6zM282.1 228.1l7.6 7.6-7.6 7.6-7.6-7.6zM282.3 237.5l7.6 7.6-7.6 7.6-7.6-7.6zM282.6 218.7l7.6 7.6-7.6 7.6-7.6-7.6zM282.8 231.5l7.6 7.6-7.6 7.6-7.6-7.6zM283.1 214.6l7.6 7.6-7.6 7.6-7.6-7.6zM283.4 235.9l7.6 7.6-7.6 7.6-7.6-7.6zM283.6 233.6l7.6 7.6-7.6 7.6-7.6-7.6zM283.9 219.8l7.6 7.6-7.6 7.6-7.6-7.6zM284.1 228.6l7.6 7.6-7.6 7.6-7.6-7.6zM284.4 211.1l7.6 7.6-7.6 7.6-7.6-7.6zM284.6 214.2l7.6 7.6-7.6 7.6-7.6-7.6zM284.9 226.2l7.6 7.6-7.6 7.6-7.6-7.6zM285.1 213.1l7.6 7.6-7.6 7.6-7.6-7.6zM285.4 216.4l7.6 7.6-7.6 7.6-7.6-7.6zM285.6 200.1l7.6 7.6-7.6 7.6-7.6-7.6zM285.9 216.4l7.6 7.6-7.6 7.6-7.6-7.6zM286.1 212.6l7.6 7.6-7.6 7.6-7.6-7.6zM286.4 191.8l7.6 7.6-7.6 7.6-7.6-7.6zM286.6 178.2l7.6 7.6-7.6 7.6-7.6-7.6zM286.9 179.3l7.6 7.6-7.6 7.6-7.6-7.6zM287.1 200.3l7.6 7.6-7.6 7.6-7.6-7.6zM287.4 196.9l7.6 7.6-7.6 7.6-7.6-7.6zM287.6 179.9l7.6 7.6-7.6 7.6-7.6-7.6zM287.9 197.8l7.6 7.6-7.6 7.6-7.6-7.6zM288.1 206.2l7.6 7.6-7.6 7.6-7.6-7.6zM288.4 191.8l7.6 7.6-7.6 7.6-7.6-7.6zM288.6 186.3l7.6 7.6-7.6 7.6-7.6-7.6zM288.9 199.8l7.6 7.6-7.6 7.6-7.6-7.6zM289.1 207.9l7.6 7.6-7.6 7.6-7.6-7.6zM289.4 203.9l7.6 7.6-7.6 7.6-7.6-7.6zM289.7 177.5l7.6 7.6-7.6 7.6-7.6-7.6zM289.9 192.8l7.6 7.6-7.6 7.6-7.6-7.6zM290.2 184l7.6 7.6-7.6 7.6-7.6-7.6zM290.4 178.2l7.6 7.6-7.6 7.6-7.6-7.6zM290.7 171.9l7.6 7.6-7.6 7.6-7.6-7.6zM290.9 181.7l7.6 7.6-7.6 7.6-7.6-7.6zM291.2 170.3l7.6 7.6-7.6 7.6-7.6-7.6zM291.4 185.3l7.6 7.6-7.6 7.6-7.6-7.6zM291.7 177.6l7.6 7.6-7.6 7.6-7.6-7.6zM291.9 184l7.6 7.6-7.6 7.6-7.6-7.6zM292.2 156.7l7.6 7.6-7.6 7.6-7.6-7.6zM292.4 169.1l7.6 7.6-7.6 7.6-7.6-7.6zM292.7 176.2l7.6 7.6-7.6 7.6-7.6-7.6zM292.9 170.1l7.6 7.6-7.6 7.6-7.6-7.6zM293.2 167.1l7.6 7.6-7.6 7.6-7.6-7.6zM293.4 154.5l7.6 7.6-7.6 7.6-7.6-7.6zM293.7 180.8l7.6 7.6-7.6 7.6-7.6-7.6zM293.9 172.6l7.6 7.6-7.6 7.6-7.6-7.6zM294.2 163.2l7.6 7.6-7.6 7.6-7.6-7.6zM294.4 126.6l7.6 7.6-7.6 7.6-7.6-7.6zM294.7 144.3l7.6 7.6-7.6 7.6-7.6-7.6zM294.9 155.8l7.6 7.6-7.6 7.6-7.6-7.6zM295.2 144.4l7.6 7.6-7.6 7.6-7.6-7.6zM295.4 126.7l7.6 7.6-7.6 7.6-7.6-7.6zM295.7 153.1l7.6 7.6-7.6 7.6-7.6-7.6zM296 153.4l7.6 7.6-7.6 7.6-7.6-7.6zM296.2 132.8l7.6 7.6-7.6 7.6-7.6-7.6zM296.5 140.2l7.6 7.6-7.6 7.6-7.6-7.6zM296.7 136.6l7.6 7.6-7.6 7.6-7.6-7.6zM297 149.7l7.6 7.6-7.6 7.6-7.6-7.6zM297.2 118.6l7.6 7.6-7.6 7.6-7.6-7.6zM297.5 119.9l7.6 7.6-7.6 7.6-7.6-7.6zM297.7 132.6l7.6 7.6-7.6 7.6-7.6-7.6zM298 129.8l7.6 7.6-7.6 7.6-7.6-7.6zM298.2 161.8l7.6 7.6-7.6 7.6-7.6-7.6zM298.5 127.8l7.6 7.6-7.6 7.6-7.6-7.6zM298.7 136.8l7.6 7.6-7.6 7.6-7.6-7.6zM299 127.8l7.6 7.6-7.6 7.6-7.6-7.6zM299.2 123.4l7.6 7.6-7.6 7.6-7.6-7.6zM299.5 134.8l7.6 7.6-7.6 7.6-7.6-7.6zM299.7 150.2l7.6 7.6-7.6 7.6-7.6-7.6zM300 123.6l7.6 7.6-7.6 7.6-7.6-7.6zM300.2 136.1l7.6 7.6-7.6 7.6-7.6-7.6zM300.5 129.8l7.6 7.6-7.6 7.6-7.6-7.6zM300.7 132l7.6 7.6-7.6 7.6-7.6-7.6zM301 127.5l7.6 7.6-7.6 7.6-7.6-7.6zM301.2 150.8l7.6 7.6-7.6 7.6-7.6-7.6zM301.5 105.8l7.6 7.6-7.6 7.6-7.6-7.6zM301.7 116.6l7.6 7.6-7.6 7.6-7.6-7.6zM302 104.8l7.6 7.6-7.6 7.6-7.6-7.6zM302.3 92.9l7.6 7.6-7.6 7.6-7.6-7.6zM302.5 116.1l7.6 7.6-7.6 7.6-7.6-7.6zM302.8 137.7l7.6 7.6-7.6 7.6-7.6-7.6zM303 125.3l7.6 7.6-7.6 7.6-7.6-7.6zM303.3 128.1l7.6 7.6-7.6 7.6-7.6-7.6zM303.5 118.2l7.6 7.6-7.6 7.6-7.6-7.6zM303.8 109.9l7.6 7.6-7.6 7.6-7.6-7.6zM304 134.8l7.6 7.6-7.6 7.6-7.6-7.6zM304.3 104.5l7.6 7.6-7.6 7.6-7.6-7.6zM304.5 126.6l7.6 7.6-7.6 7.6-7.6-7.6zM304.8 102.9l7.6 7.6-7.6 7.6-7.6-7.6zM305 107l7.6 7.6-7.6 7.6-7.6-7.6zM305.3 108.6l7.6 7.6-7.6 7.6-7.6-7.6zM305.5 104.6l7.6 7.6-7.6 7.6-7.6-7.6zM305.8 109.5l7.6 7.6-7.6 7.6-7.6-7.6zM306 109.4l7.6 7.6-7.6 7.6-7.6-7.6zM306.3 121.9l7.6 7.6-7.6 7.6-7.6-7.6zM306.5 100.2l7.6 7.6-7.6 7.6-7.6-7.6zM306.8 75.7l7.6 7.6-7.6 7.6-7.6-7.6zM307 73.1l7.6 7.6-7.6 7.6-7.6-7.6zM307.3 80.5l7.6 7.6-7.6 7.6-7.6-7.6zM307.5 87.3l7.6 7.6-7.6 7.6-7.6-7.6zM307.8 103.9l7.6 7.6-7.6 7.6-7.6-7.6zM308 76.3l7.6 7.6-7.6 7.6-7.6-7.6zM308.3 94.4l7.6 7.6-7.6 7.6-7.6-7.6zM308.6 93.8l7.6 7.6-7.6 7.6-7.6-7.6zM308.8 95.8l7.6 7.6-7.6 7.6-7.6-7.6zM309.1 90.2l7.6 7.6-7.6 7.6-7.6-7.6zM309.3 96.1l7.6 7.6-7.6 7.6-7.6-7.6zM309.6 90.9l7.6 7.6-7.6 7.6-7.6-7.6zM309.8 102.8l7.6 7.6-7.6 7.6-7.6-7.6zM310.1 93.1l7.6 7.6-7.6 7.6-7.6-7.6zM310.3 58.8l7.6 7.6-7.6 7.6-7.6-7.6zM310.6 87.9l7.6 7.6-7.6 7.6-7.6-7.6zM310.8 89.4l7.6 7.6-7.6 7.6-7.6-7.6zM311.1 79l7.6 7.6-7.6 7.6-7.6-7.6zM311.3 76.1l7.6 7.6-7.6 7.6-7.6-7.6zM311.6 98.6l7.6 7.6-7.6 7.6-7.6-7.6zM311.8 86.6l7.6 7.6-7.6 7.6-7.6-7.6zM312.1 71.7l7.6 7.6-7.6 7.6-7.6-7.6zM312.3 79.4l7.6 7.6-7.6 7.6-7.6-7.6zM312.6 80.8l7.6 7.6-7.6 7.6-7.6-7.6zM312.8 62.1l7.6 7.6-7.6 7.6-7.6-7.6zM313.1 90l7.6 7.6-7.6 7.6-7.6-7.6zM313.3 79.9l7.6 7.6-7.6 7.6-7.6-7.6zM313.6 87.1l7.6 7.6-7.6 7.6-7.6-7.6zM313.8 61.2l7.6 7.6-7.6 7.6-7.6-7.6zM314.1 104.6l7.6 7.6-7.6 7.6-7.6-7.6zM314.3 87.9l7.6 7.6-7.6 7.6-7.6-7.6zM314.6 85.8l7.6 7.6-7.6 7.6-7.6-7.6zM314.9 70.4l7.6 7.6-7.6 7.6-7.6-7.6zM315.1 70.8l7.6 7.6-7.6 7.6-7.6-7.6zM315.4 60.5l7.6 7.6-7.6 7.6-7.6-7.6zM315.6 98.1l7.6 7.6-7.6 7.6-7.6-7.6zM315.9 68.3l7.6 7.6-7.6 7.6-7.6-7.6zM316.1 81.4l7.6 7.6-7.6 7.6-7.6-7.6zM316.4 86l7.6 7.6-7.6 7.6-7.6-7.6zM316.6 70.5l7.6 7.6-7.6 7.6-7.6-7.6zM316.9 89l7.6 7.6-7.6 7.6-7.6-7.6zM317.1 103.6l7.6 7.6-7.6 7.6-7.6-7.6zM317.4 81.9l7.6 7.6-7.6 7.6-7.6-7.6zM317.6 96.2l7.6 7.6-7.6 7.6-7.6-7.6zM317.9 85.4l7.6 7.6-7.6 7.6-7.6-7.6zM318.1 72.4l7.6 7.6-7.6 7.6-7.6-7.6zM318.4 73.2l7.6 7.6-7.6 7.6-7.6-7.6zM318.6 57.1l7.6 7.6-7.6 7.6-7.6-7.6zM318.9 79.9l7.6 7.6-7.6 7.6-7.6-7.6zM319.1 97l7.6 7.6-7.6 7.6-7.6-7.6zM319.4 87.3l7.6 7.6-7.6 7.6-7.6-7.6zM319.6 89.5l7.6 7.6-7.6 7.6-7.6-7.6zM319.9 93.5l7.6 7.6-7.6 7.6-7.6-7.6zM320.1 72.7l7.6 7.6-7.6 7.6-7.6-7.6zM320.4 86.6l7.6 7.6-7.6 7.6-7.6-7.6zM320.6 103.8l7.6 7.6-7.6 7.6-7.6-7.6zM320.9 70.1l7.6 7.6-7.6 7.6-7.6-7.6zM321.2 80.7l7.6 7.6-7.6 7.6-7.6-7.6zM321.4 75.1l7.6 7.6-7.6 7.6-7.6-7.6zM321.7 78.6l7.6 7.6-7.6 7.6-7.6-7.6zM321.9 72.3l7.6 7.6-7.6 7.6-7.6-7.6zM322.2 80.2l7.6 7.6-7.6 7.6-7.6-7.6zM322.4 65.4l7.6 7.6-7.6 7.6-7.6-7.6zM322.7 76.1l7.6 7.6-7.6 7.6-7.6-7.6zM322.9 77l7.6 7.6-7.6 7.6-7.6-7.6zM323.2 77.3l7.6 7.6-7.6 7.6-7.6-7.6zM323.4 101.4l7.6 7.6-7.6 7.6-7.6-7.6zM323.7 85.6l7.6 7.6-7.6 7.6-7.6-7.6zM323.9 87.3l7.6 7.6-7.6 7.6-7.6-7.6zM324.2 81.9l7.6 7.6-7.6 7.6-7.6-7.6zM324.4 102.3l7.6 7.6-7.6 7.6-7.6-7.6zM324.7 65l7.6 7.6-7.6 7.6-7.6-7.6zM324.9 85l7.6 7.6-7.6 7.6-7.6-7.6zM325.2 102.3l7.6 7.6-7.6 7.6-7.6-7.6zM325.4 109.2l7.6 7.6-7.6 7.6-7.6-7.6zM325.7 91.8l7.6 7.6-7.6 7.6-7.6-7.6zM325.9 90.1l7.6 7.6-7.6 7.6-7.6-7.6zM326.2 98.7l7.6 7.6-7.6 7.6-7.6-7.6zM326.4 89.2l7.6 7.6-7.6 7.6-7.6-7.6zM326.7 99.2l7.6 7.6-7.6 7.6-7.6-7.6zM326.9 84.9l7.6 7.6-7.6 7.6-7.6-7.6zM327.2 101.8l7.6 7.6-7.6 7.6-7.6-7.6zM327.5 93.9l7.6 7.6-7.6 7.6-7.6-7.6zM327.7 81.9l7.6 7.6-7.6 7.6-7.6-7.6zM328 62.6l7.6 7.6-7.6 7.6-7.6-7.6zM328.2 108.6l7.6 7.6-7.6 7.6-7.6-7.6zM328.5 102.6l7.6 7.6-7.6 7.6-7.6-7.6zM328.7 108.1l7.6 7.6-7.6 7.6-7.6-7.6zM329 88.6l7.6 7.6-7.6 7.6-7.6-7.6zM329.2 113.7l7.6 7.6-7.6 7.6-7.6-7.6zM329.5 106.3l7.6 7.6-7.6 7.6-7.6-7.6zM329.7 101.5l7.6 7.6-7.6 7.6-7.6-7.6zM330 114.3l7.6 7.6-7.6 7.6-7.6-7.6zM330.2 115l7.6 7.6-7.6 7.6-7.6-7.6zM330.5 109.9l7.6 7.6-7.6 7.6-7.6-7.6zM330.7 131.2l7.6 7.6-7.6 7.6-7.6-7.6zM331 124l7.6 7.6-7.6 7.6-7.6-7.6zM331.2 112l7.6 7.6-7.6 7.6-7.6-7.6zM331.5 106l7.6 7.6-7.6 7.6-7.6-7.6zM331.7 111.2l7.6 7.6-7.6 7.6-7.6-7.6zM332 132l7.6 7.6-7.6 7.6-7.6-7.6zM332.2 116.7l7.6 7.6-7.6 7.6-7.6-7.6zM332.5 101.9l7.6 7.6-7.6 7.6-7.6-7.6zM332.7 106l7.6 7.6-7.6 7.6-7.6-7.6zM333 115l7.6 7.6-7.6 7.6-7.6-7.6zM333.2 126.1l7.6 7.6-7.6 7.6-7.6-7.6zM333.5 108.3l7.6 7.6-7.6 7.6-7.6-7.6zM333.8 124.4l7.6 7.6-7.6 7.6-7.6-7.6zM334 132.8l7.6 7.6-7.6 7.6-7.6-7.6zM334.3 129.3l7.6 7.6-7.6 7.6-7.6-7.6zM334.5 102.5l7.6 7.6-7.6 7.6-7.6-7.6zM334.8 118.9l7.6 7.6-7.6 7.6-7.6-7.6zM335 108.4l7.6 7.6-7.6 7.6-7.6-7.6zM335.3 129.8l7.6 7.6-7.6 7.6-7.6-7.6zM335.5 113.4l7.6 7.6-7.6 7.6-7.6-7.6zM335.8 133.6l7.6 7.6-7.6 7.6-7.6-7.6zM336 129.2l7.6 7.6-7.6 7.6-7.6-7.6zM336.3 97.8l7.6 7.6-7.6 7.6-7.6-7.6zM336.5 120.2l7.6 7.6-7.6 7.6-7.6-7.6zM336.8 137l7.6 7.6-7.6 7.6-7.6-7.6zM337 133l7.6 7.6-7.6 7.6-7.6-7.6zM337.3 129.1l7.6 7.6-7.6 7.6-7.6-7.6zM337.5 119.5l7.6 7.6-7.6 7.6-7.6-7.6zM337.8 141.6l7.6 7.6-7.6 7.6-7.6-7.6zM338 158.1l7.6 7.6-7.6 7.6-7.6-7.6zM338.3 141.4l7.6 7.6-7.6 7.6-7.6-7.6zM338.5 139l7.6 7.6-7.6 7.6-7.6-7.6zM338.8 139.1l7.6 7.6-7.6 7.6-7.6-7.6zM339 125.6l7.6 7.6-7.6 7.6-7.6-7.6zM339.3 139l7.6 7.6-7.6 7.6-7.6-7.6zM339.5 134.2l7.6 7.6-7.6 7.6-7.6-7.6zM339.8 158.8l7.6 7.6-7.6 7.6-7.6-7.6zM340.1 136.1l7.6 7.6-7.6 7.6-7.6-7.6zM340.3 122.4l7.6 7.6-7.6 7.6-7.6-7.6zM340.6 139.8l7.6 7.6-7.6 7.6-7.6-7.6zM340.8 147.4l7.6 7.6-7.6 7.6-7.6-7.6zM341.1 149.9l7.6 7.6-7.6 7.6-7.6-7.6zM341.3 131.4l7.6 7.6-7.6 7.6-7.6-7.6zM341.6 165.6l7.6 7.6-7.6 7.6-7.6-7.6zM341.8 157l7.6 7.6-7.6 7.6-7.6-7.6zM342.1 151.4l7.6 7.6-7.6 7.6-7.6-7.6zM342.3 149.3l7.6 7.6-7.6 7.6-7.6-7.6zM342.6 164.9l7.6 7.6-7.6 7.6-7.6-7.6zM342.8 157.2l7.6 7.6-7.6 7.6-7.6-7.6zM343.1 165.6l7.6 7.6-7.6 7.6-7.6-7.6zM343.3 162.1l7.6 7.6-7.6 7.6-7.6-7.6zM343.6 166.5l7.6 7.6-7.6 7.6-7.6-7.6zM343.8 180l7.6 7.6-7.6 7.6-7.6-7.6zM344.1 167.9l7.6 7.6-7.6 7.6-7.6-7.6zM344.3 158.5l7.6 7.6-7.6 7.6-7.6-7.6zM344.6 181.9l7.6 7.6-7.6 7.6-7.6-7.6zM344.8 174.6l7.6 7.6-7.6 7.6-7.6-7.6zM345.1 165.2l7.6 7.6-7.6 7.6-7.6-7.6zM345.3 187.2l7.6 7.6-7.6 7.6-7.6-7.6zM345.6 173.7l7.6 7.6-7.6 7.6-7.6-7.6zM345.8 189.9l7.6 7.6-7.6 7.6-7.6-7.6zM346.1 165.2l7.6 7.6-7.6 7.6-7.6-7.6zM346.4 152.6l7.6 7.6-7.6 7.6-7.6-7.6zM346.6 157.5l7.6 7.6-7.6 7.6-7.6-7.6zM346.9 185.5l7.6 7.6-7.6 7.6-7.6-7.6zM347.1 175.5l7.6 7.6-7.6 7.6-7.6-7.6zM347.4 184.3l7.6 7.6-7.6 7.6-7.6-7.6zM347.6 185.9l7.6 7.6-7.6 7.6-7.6-7.6zM347.9 170.3l7.6 7.6-7.6 7.6-7.6-7.6zM348.1 205.5l7.6 7.6-7.6 7.6-7.6-7.6zM348.4 179l7.6 7.6-7.6 7.6-7.6-7.6zM348.6 193.4l7.6 7.6-7.6 7.6-7.6-7.6zM348.9 177.8l7.6 7.6-7.6 7.6-7.6-7.6zM349.1 193.6l7.6 7.6-7.6 7.6-7.6-7.6zM349.4 205.1l7.6 7.6-7.6 7.6-7.6-7.6zM349.6 195.4l7.6 7.6-7.6 7.6-7.6-7.6zM349.9 191.6l7.6 7.6-7.6 7.6-7.6-7.6zM350.1 201.2l7.6 7.6-7.6 7.6-7.6-7.6zM350.4 197.4l7.6 7.6-7.6 7.6-7.6-7.6zM350.6 210.6l7.6 7.6-7.6 7.6-7.6-7.6zM350.9 230.9l7.6 7.6-7.6 7.6-7.6-7.6zM351.1 197.1l7.6 7.6-7.6 7.6-7.6-7.6zM351.4 200.9l7.6 7.6-7.6 7.6-7.6-7.6zM351.6 208.8l7.6 7.6-7.6 7.6-7.6-7.6zM351.9 211.2l7.6 7.6-7.6 7.6-7.6-7.6zM352.1 201.5l7.6 7.6-7.6 7.6-7.6-7.6zM352.4 220.3l7.6 7.6-7.6 7.6-7.6-7.6zM352.7 224.7l7.6 7.6-7.6 7.6-7.6-7.6zM352.9 220.2l7.6 7.6-7.6 7.6-7.6-7.6zM353.2 205.9l7.6 7.6-7.6 7.6-7.6-7.6zM353.4 237l7.6 7.6-7.6 7.6-7.6-7.6zM353.7 208.9l7.6 7.6-7.6 7.6-7.6-7.6zM353.9 231.4l7.6 7.6-7.6 7.6-7.6-7.6zM354.2 238.2l7.6 7.6-7.6 7.6-7.6-7.6zM354.4 212.7l7.6 7.6-7.6 7.6-7.6-7.6zM354.7 229.8l7.6 7.6-7.6 7.6-7.6-7.6zM354.9 245l7.6 7.6-7.6 7.6-7.6-7.6zM355.2 235.8l7.6 7.6-7.6 7.6-7.6-7.6zM355.4 222.7l7.6 7.6-7.6 7.6-7.6-7.6zM355.7 221.3l7.6 7.6-7.6 7.6-7.6-7.6zM355.9 241.2l7.6 7.6-7.6 7.6-7.6-7.6zM356.2 233.3l7.6 7.6-7.6 7.6-7.6-7.6zM356.4 231.3l7.6 7.6-7.6 7.6-7.6-7.6zM356.7 248.2l7.6 7.6-7.6 7.6-7.6-7.6zM356.9 238.5l7.6 7.6-7.6 7.6-7.6-7.6zM357.2 244.4l7.6 7.6-7.6 7.6-7.6-7.6zM357.4 251.6l7.6 7.6-7.6 7.6-7.6-7.6zM357.7 252.7l7.6 7.6-7.6 7.6-7.6-7.6zM357.9 247.9l7.6 7.6-7.6 7.6-7.6-7.6zM358.2 249.9l7.6 7.6-7.6 7.6-7.6-7.6zM358.4 258.1l7.6 7.6-7.6 7.6-7.6-7.6zM358.7 258.1l7.6 7.6-7.6 7.6-7.6-7.6zM359 242.5l7.6 7.6-7.6 7.6-7.6-7.6zM359.2 254.1l7.6 7.6-7.6 7.6-7.6-7.6zM359.5 248.2l7.6 7.6-7.6 7.6-7.6-7.6zM359.7 246.2l7.6 7.6-7.6 7.6-7.6-7.6zM360 254.6l7.6 7.6-7.6 7.6-7.6-7.6zM360.2 237.5l7.6 7.6-7.6 7.6-7.6-7.6zM360.5 273.3l7.6 7.6-7.6 7.6-7.6-7.6zM360.7 256.9l7.6 7.6-7.6 7.6-7.6-7.6zM361 270.8l7.6 7.6-7.6 7.6-7.6-7.6zM361.2 248.5l7.6 7.6-7.6 7.6-7.6-7.6zM361.5 251.8l7.6 7.6-7.6 7.6-7.6-7.6zM361.7 293.4l7.6 7.6-7.6 7.6-7.6-7.6zM362 284.2l7.6 7.6-7.6 7.6-7.6-7.6zM362.2 267.9l7.6 7.6-7.6 7.6-7.6-7.6zM362.5 268.1l7.6 7.6-7.6 7.6-7.6-7.6zM362.7 270.2l7.6 7.6-7.6 7.6-7.6-7.6zM363 280.6l7.6 7.6-7.6 7.6-7.6-7.6zM363.2 276.4l7.6 7.6-7.6 7.6-7.6-7.6zM363.5 275.8l7.6 7.6-7.6 7.6-7.6-7.6zM363.7 285.3l7.6 7.6-7.6 7.6-7.6-7.6zM364 274.9l7.6 7.6-7.6 7.6-7.6-7.6zM364.2 312l7.6 7.6-7.6 7.6-7.6-7.6zM364.5 282.3l7.6 7.6-7.6 7.6-7.6-7.6zM364.7 301.8l7.6 7.6-7.6 7.6-7.6-7.6zM365 281.9l7.6 7.6-7.6 7.6-7.6-7.6zM365.3 296.2l7.6 7.6-7.6 7.6-7.6-7.6zM365.5 304.8l7.6 7.6-7.6 7.6-7.6-7.6zM365.8 292.8l7.6 7.6-7.6 7.6-7.6-7.6zM366 308.1l7.6 7.6-7.6 7.6-7.6-7.6zM366.3 309.7l7.6 7.6-7.6 7.6-7.6-7.6zM366.5 318.2l7.6 7.6-7.6 7.6-7.6-7.6zM366.8 303.3l7.6 7.6-7.6 7.6-7.6-7.6zM367 299.3l7.6 7.6-7.6 7.6-7.6-7.6zM367.3 295.2l7.6 7.6-7.6 7.6-7.6-7.6zM367.5 309.1l7.6 7.6-7.6 7.6-7.6-7.6zM367.8 298l7.6 7.6-7.6 7.6-7.6-7.6zM368 310.5l7.6 7.6-7.6 7.6-7.6-7.6zM368.3 313.2l7.6 7.6-7.6 7.6-7.6-7.6zM368.5 307.7l7.6 7.6-7.6 7.6-7.6-7.6zM368.8 304.1l7.6 7.6-7.6 7.6-7.6-7.6zM369 320.3l7.6 7.6-7.6 7.6-7.6-7.6zM369.3 320.8l7.6 7.6-7.6 7.6-7.6-7.6zM369.5 321.4l7.6 7.6-7.6 7.6-7.6-7.6zM369.8 320.4l7.6 7.6-7.6 7.6-7.6-7.6zM370 332.2l7.6 7.6-7.6 7.6-7.6-7.6zM370.3 313.6l7.6 7.6-7.6 7.6-7.6-7.6zM370.5 329.9l7.6 7.6-7.6 7.6-7.6-7.6zM370.8 322.5l7.6 7.6-7.6 7.6-7.6-7.6zM371 337.3l7.6 7.6-7.6 7.6-7.6-7.6zM371.3 326.6l7.6 7.6-7.6 7.6-7.6-7.6zM371.6 327.7l7.6 7.6-7.6 7.6-7.6-7.6zM371.8 337.6l7.6 7.6-7.6 7.6-7.6-7.6zM372.1 313.9l7.6 7.6-7.6 7.6-7.6-7.6zM372.3 332.4l7.6 7.6-7.6 7.6-7.6-7.6zM372.6 319.4l7.6 7.6-7.6 7.6-7.6-7.6zM372.8 329.3l7.6 7.6-7.6 7.6-7.6-7.6zM373.1 347.4l7.6 7.6-7.6 7.6-7.6-7.6zM373.3 346l7.6 7.6-7.6 7.6-7.6-7.6zM373.6 339.1l7.6 7.6-7.6 7.6-7.6-7.6zM373.8 344.4l7.6 7.6-7.6 7.6-7.6-7.6zM374.1 346l7.6 7.6-7.6 7.6-7.6-7.6zM374.3 350.8l7.6 7.6-7.6 7.6-7.6-7.6zM374.6 367.7l7.6 7.6-7.6 7.6-7.6-7.6zM374.8 353.1l7.6 7.6-7.6 7.6-7.6-7.6zM375.1 374.6l7.6 7.6-7.6 7.6-7.6-7.6zM375.3 349.9l7.6 7.6-7.6 7.6-7.6-7.6zM375.6 362.4l7.6 7.6-7.6 7.6-7.6-7.6zM375.8 363.7l7.6 7.6-7.6 7.6-7.6-7.6zM376.1 360.2l7.6 7.6-7.6 7.6-7.6-7.6zM376.3 356.6l7.6 7.6-7.6 7.6-7.6-7.6zM376.6 375.1l7.6 7.6-7.6 7.6-7.6-7.6zM376.8 379.7l7.6 7.6-7.6 7.6-7.6-7.6zM377.1 374.2l7.6 7.6-7.6 7.6-7.6-7.6zM377.3 385.3l7.6 7.6-7.6 7.6-7.6-7.6zM377.6 376l7.6 7.6-7.6 7.6-7.6-7.6zM377.9 352l7.6 7.6-7.6 7.6-7.6-7.6zM378.1 379.6l7.6 7.6-7.6 7.6-7.6-7.6zM378.4 364.1l7.6 7.6-7.6 7.6-7.6-7.6zM378.6 385.5l7.6 7.6-7.6 7.6-7.6-7.6zM378.9 370.4l7.6 7.6-7.6 7.6-7.6-7.6zM379.1 377.8l7.6 7.6-7.6 7.6-7.6-7.6zM379.4 376.6l7.6 7.6-7.6 7.6-7.6-7.6zM379.6 371.8l7.6 7.6-7.6 7.6-7.6-7.6zM379.9 361.6l7.6 7.6-7.6 7.6-7.6-7.6zM380.1 378.2l7.6 7.6-7.6 7.6-7.6-7.6zM380.4 380.2l7.6 7.6-7.6 7.6-7.6-7.6zM380.6 392.3l7.6 7.6-7.6 7.6-7.6-7.6zM380.9 378.5l7.6 7.6-7.6 7.6-7.6-7.6zM381.1 387.9l7.6 7.6-7.6 7.6-7.6-7.6zM381.4 378.7l7.6 7.6-7.6 7.6-7.6-7.6zM381.6 388.5l7.6 7.6-7.6 7.6-7.6-7.6zM381.9 372.6l7.6 7.6-7.6 7.6-7.6-7.6zM382.1 409.9l7.6 7.6-7.6 7.6-7.6-7.6zM382.4 394.9l7.6 7.6-7.6 7.6-7.6-7.6zM382.6 384.9l7.6 7.6-7.6 7.6-7.6-7.6zM382.9 398l7.6 7.6-7.6 7.6-7.6-7.6zM383.1 403.5l7.6 7.6-7.6 7.6-7.6-7.6zM383.4 399.7l7.6 7.6-7.6 7.6-7.6-7.6zM383.6 411.7l7.6 7.6-7.6 7.6-7.6-7.6zM383.9 398.6l7.6 7.6-7.6 7.6-7.6-7.6zM384.2 377.8l7.6 7.6-7.6 7.6-7.6-7.6zM384.4 391.4l7.6 7.6-7.6 7.6-7.6-7.6zM384.7 414.1l7.6 7.6-7.6 7.6-7.6-7.6zM384.9 413.1l7.6 7.6-7.6 7.6-7.6-7.6zM385.2 409.9l7.6 7.6-7.6 7.6-7.6-7.6zM385.4 397.8l7.6 7.6-7.6 7.6-7.6-7.6zM385.7 416.3l7.6 7.6-7.6 7.6-7.6-7.6zM385.9 416.3l7.6 7.6-7.6 7.6-7.6-7.6zM386.2 402.6l7.6 7.6-7.6 7.6-7.6-7.6zM386.4 404.1l7.6 7.6-7.6 7.6-7.6-7.6zM386.7 416.9l7.6 7.6-7.6 7.6-7.6-7.6zM386.9 425.1l7.6 7.6-7.6 7.6-7.6-7.6zM387.2 430.3l7.6 7.6-7.6 7.6-7.6-7.6zM387.4 423.5l7.6 7.6-7.6 7.6-7.6-7.6zM387.7 439l7.6 7.6-7.6 7.6-7.6-7.6zM387.9 412.4l7.6 7.6-7.6 7.6-7.6-7.6zM388.2 426.4l7.6 7.6-7.6 7.6-7.6-7.6zM388.4 417.3l7.6 7.6-7.6 7.6-7.6-7.6zM388.7 405.6l7.6 7.6-7.6 7.6-7.6-7.6zM388.9 413.2l7.6 7.6-7.6 7.6-7.6-7.6zM389.2 435.9l7.6 7.6-7.6 7.6-7.6-7.6zM389.4 418.4l7.6 7.6-7.6 7.6-7.6-7.6zM389.7 416.8l7.6 7.6-7.6 7.6-7.6-7.6zM389.9 435.5l7.6 7.6-7.6 7.6-7.6-7.6zM390.2 438.5l7.6 7.6-7.6 7.6-7.6-7.6zM390.5 431.9l7.6 7.6-7.6 7.6-7.6-7.6zM390.7 446.7l7.6 7.6-7.6 7.6-7.6-7.6zM391 419.7l7.6 7.6-7.6 7.6-7.6-7.6zM391.2 456.2l7.6 7.6-7.6 7.6-7.6-7.6zM391.5 445.4l7.6 7.6-7.6 7.6-7.6-7.6zM391.7 438.9l7.6 7.6-7.6 7.6-7.6-7.6zM392 439.6l7.6 7.6-7.6 7.6-7.6-7.6zM392.2 437.1l7.6 7.6-7.6 7.6-7.6-7.6zM392.5 437.3l7.6 7.6-7.6 7.6-7.6-7.6zM392.7 442.7l7.6 7.6-7.6 7.6-7.6-7.6zM393 431.6l7.6 7.6-7.6 7.6-7.6-7.6zM393.2 462.2l7.6 7.6-7.6 7.6-7.6-7.6zM393.5 444l7.6 7.6-7.6 7.6-7.6-7.6zM393.7 451.5l7.6 7.6-7.6 7.6-7.6-7.6zM394 444.9l7.6 7.6-7.6 7.6-7.6-7.6zM394.2 445.1l7.6 7.6-7.6 7.6-7.6-7.6zM394.5 456.3l7.6 7.6-7.6 7.6-7.6-7.6zM394.7 454.9l7.6 7.6-7.6 7.6-7.6-7.6zM395 443.1l7.6 7.6-7.6 7.6-7.6-7.6zM395.2 448.1l7.6 7.6-7.6 7.6-7.6-7.6zM395.5 458.3l7.6 7.6-7.6 7.6-7.6-7.6zM395.7 435.1l7.6 7.6-7.6 7.6-7.6-7.6zM396 433.7l7.6 7.6-7.6 7.6-7.6-7.6zM396.2 468.2l7.6 7.6-7.6 7.6-7.6-7.6zM396.5 453.5l7.6 7.6-7.6 7.6-7.6-7.6zM396.8 435l7.6 7.6-7.6 7.6-7.6-7.6zM397 451.3l7.6 7.6-7.6 7.6-7.6-7.6zM397.3 457.2l7.6 7.6-7.6 7.6-7.6-7.6zM397.5 461.9l7.6 7.6-7.6 7.6-7.6-7.6zM397.8 465.8l7.6 7.6-7.6 7.6-7.6-7.6zM398 463.9l7.6 7.6-7.6 7.6-7.6-7.6zM398.3 467.8l7.6 7.6-7.6 7.6-7.6-7.6zM398.5 457.4l7.6 7.6-7.6 7.6-7.6-7.6zM398.8 468.3l7.6 7.6-7.6 7.6-7.6-7.6zM399 469.6l7.6 7.6-7.6 7.6-7.6-7.6zM399.3 477.2l7.6 7.6-7.6 7.6-7.6-7.6zM399.5 468l7.6 7.6-7.6 7.6-7.6-7.6zM399.8 476.3l7.6 7.6-7.6 7.6-7.6-7.6zM400 471l7.6 7.6-7.6 7.6-7.6-7.6zM400.3 461.3l7.6 7.6-7.6 7.6-7.6-7.6zM400.5 468l7.6 7.6-7.6 7.6-7.6-7.6zM400.8 467.7l7.6 7.6-7.6 7.6-7.6-7.6zM401 469.9l7.6 7.6-7.6 7.6-7.6-7.6zM401.3 473.4l7.6 7.6-7.6 7.6-7.6-7.6zM401.5 475.8l7.6 7.6-7.6 7.6-7.6-7.6zM401.8 478.3l7.6 7.6-7.6 7.6-7.6-7.6zM402 470l7.6 7.6-7.6 7.6-7.6-7.6zM402.3 486.6l7.6 7.6-7.6 7.6-7.6-7.6zM402.5 466.7l7.6 7.6-7.6 7.6-7.6-7.6zM402.8 478.7l7.6 7.6-7.6 7.6-7.6-7.6zM403.1 486.2l7.6 7.6-7.6 7.6-7.6-7.6zM403.3 484.9l7.6 7.6-7.6 7.6-7.6-7.6zM403.6 487.3l7.6 7.6-7.6 7.6-7.6-7.6zM403.8 481l7.6 7.6-7.6 7.6-7.6-7.6zM404.1 489.3l7.6 7.6-7.6 7.6-7.6-7.6zM404.3 474.3l7.6 7.6-7.6 7.6-7.6-7.6zM404.6 491.4l7.6 7.6-7.6 7.6-7.6-7.6zM404.8 504.8l7.6 7.6-7.6 7.6-7.6-7.6zM405.1 492.6l7.6 7.6-7.6 7.6-7.6-7.6zM405.3 504.1l7.6 7.6-7.6 7.6-7.6-7.6zM405.6 488.3l7.6 7.6-7.6 7.6-7.6-7.6zM405.8 479.8l7.6 7.6-7.6 7.6-7.6-7.6zM406.1 484.1l7.6 7.6-7.6 7.6-7.6-7.6zM406.3 501.5l7.6 7.6-7.6 7.6-7.6-7.6zM406.6 497.4l7.6 7.6-7.6 7.6-7.6-7.6zM406.8 476.9l7.6 7.6-7.6 7.6-7.6-7.6zM407.1 489.9l7.6 7.6-7.6 7.6-7.6-7.6zM407.3 493.3l7.6 7.6-7.6 7.6-7.6-7.6zM407.6 485.2l7.6 7.6-7.6 7.6-7.6-7.6zM407.8 474.3l7.6 7.6-7.6 7.6-7.6-7.6zM408.1 484.7l7.6 7.6-7.6 7.6-7.6-7.6zM408.3 495.1l7.6 7.6-7.6 7.6-7.6-7.6zM408.6 494l7.6 7.6-7.6 7.6-7.6-7.6zM408.8 492.6l7.6 7.6-7.6 7.6-7.6-7.6zM409.1 503.5l7.6 7.6-7.6 7.6-7.6-7.6zM409.4 507.9l7.6 7.6-7.6 7.6-7.6-7.6zM409.6 499.4l7.6 7.6-7.6 7.6-7.6-7.6zM409.9 508.3l7.6 7.6-7.6 7.6-7.6-7.6zM410.1 501.7l7.6 7.6-7.6 7.6-7.6-7.6zM410.4 501.1l7.6 7.6-7.6 7.6-7.6-7.6zM410.6 483.3l7.6 7.6-7.6 7.6-7.6-7.6zM410.9 510.3l7.6 7.6-7.6 7.6-7.6-7.6zM411.1 505l7.6 7.6-7.6 7.6-7.6-7.6zM411.4 506l7.6 7.6-7.6 7.6-7.6-7.6zM411.6 501.7l7.6 7.6-7.6 7.6-7.6-7.6zM411.9 497.4l7.6 7.6-7.6 7.6-7.6-7.6zM412.1 510.6l7.6 7.6-7.6 7.6-7.6-7.6zM412.4 514l7.6 7.6-7.6 7.6-7.6-7.6zM412.6 521.3l7.6 7.6-7.6 7.6-7.6-7.6zM412.9 516.1l7.6 7.6-7.6 7.6-7.6-7.6zM413.1 504.8l7.6 7.6-7.6 7.6-7.6-7.6zM413.4 509.5l7.6 7.6-7.6 7.6-7.6-7.6zM413.6 518.7l7.6 7.6-7.6 7.6-7.6-7.6zM413.9 514.1l7.6 7.6-7.6 7.6-7.6-7.6zM414.1 511.5l7.6 7.6-7.6 7.6-7.6-7.6zM414.4 508.3l7.6 7.6-7.6 7.6-7.6-7.6zM414.6 517.8l7.6 7.6-7.6 7.6-7.6-7.6zM414.9 515.6l7.6 7.6-7.6 7.6-7.6-7.6zM415.1 528.8l7.6 7.6-7.6 7.6-7.6-7.6zM415.4 524.1l7.6 7.6-7.6 7.6-7.6-7.6zM415.7 502.4l7.6 7.6-7.6 7.6-7.6-7.6zM415.9 533.6l7.6 7.6-7.6 7.6-7.6-7.6zM416.2 519.3l7.6 7.6-7.6 7.6-7.6-7.6zM416.4 515.4l7.6 7.6-7.6 7.6-7.6-7.6zM416.7 520.7l7.6 7.6-7.6 7.6-7.6-7.6zM416.9 524.8l7.6 7.6-7.6 7.6-7.6-7.6zM417.2 519.4l7.6 7.6-7.6 7.6-7.6-7.6zM417.4 519.5l7.6 7.6-7.6 7.6-7.6-7.6zM417.7 520.7l7.6 7.6-7.6 7.6-7.6-7.6zM417.9 535.6l7.6 7.6-7.6 7.6-7.6-7.6zM418.2 522.3l7.6 7.6-7.6 7.6-7.6-7.6zM418.4 528.5l7.6 7.6-7.6 7.6-7.6-7.6zM418.7 526.6l7.6 7.6-7.6 7.6-7.6-7.6zM418.9 521l7.6 7.6-7.6 7.6-7.6-7.6zM419.2 518.3l7.6 7.6-7.6 7.6-7.6-7.6zM419.4 516.8l7.6 7.6-7.6 7.6-7.6-7.6zM419.7 528.4l7.6 7.6-7.6 7.6-7.6-7.6zM419.9 517.7l7.6 7.6-7.6 7.6-7.6-7.6zM420.2 516.2l7.6 7.6-7.6 7.6-7.6-7.6zM420.4 517.1l7.6 7.6-7.6 7.6-7.6-7.6zM420.7 515.6l7.6 7.6-7.6 7.6-7.6-7.6zM420.9 528.2l7.6 7.6-7.6 7.6-7.6-7.6zM421.2 529l7.6 7.6-7.6 7.6-7.6-7.6zM421.4 521.6l7.6 7.6-7.6 7.6-7.6-7.6zM421.7 539.4l7.6 7.6-7.6 7.6-7.6-7.6zM422 527.5l7.6 7.6-7.6 7.6-7.6-7.6zM422.2 533.8l7.6 7.6-7.6 7.6-7.6-7.6zM422.5 533l7.6 7.6-7.6 7.6-7.6-7.6zM422.7 544.3l7.6 7.6-7.6 7.6-7.6-7.6zM423 538.1l7.6 7.6-7.6 7.6-7.6-7.6zM423.2 531.8l7.6 7.6-7.6 7.6-7.6-7.6zM423.5 525.2l7.6 7.6-7.6 7.6-7.6-7.6zM423.7 524.9l7.6 7.6-7.6 7.6-7.6-7.6zM424 533.7l7.6 7.6-7.6 7.6-7.6-7.6zM424.2 535.1l7.6 7.6-7.6 7.6-7.6-7.6zM424.5 540.5l7.6 7.6-7.6 7.6-7.6-7.6zM424.7 531.4l7.6 7.6-7.6 7.6-7.6-7.6zM425 536.9l7.6 7.6-7.6 7.6-7.6-7.6zM425.2 530.8l7.6 7.6-7.6 7.6-7.6-7.6zM425.5 522.4l7.6 7.6-7.6 7.6-7.6-7.6zM425.7 536.7l7.6 7.6-7.6 7.6-7.6-7.6zM426 548.5l7.6 7.6-7.6 7.6-7.6-7.6zM426.2 544l7.6 7.6-7.6 7.6-7.6-7.6zM426.5 549.1l7.6 7.6-7.6 7.6-7.6-7.6zM426.7 547.5l7.6 7.6-7.6 7.6-7.6-7.6zM427 528.7l7.6 7.6-7.6 7.6-7.6-7.6zM427.2 537.4l7.6 7.6-7.6 7.6-7.6-7.6zM427.5 551.3l7.6 7.6-7.6 7.6-7.6-7.6zM427.7 535.1l7.6 7.6-7.6 7.6-7.6-7.6zM428 530.8l7.6 7.6-7.6 7.6-7.6-7.6zM428.3 543.7l7.6 7.6-7.6 7.6-7.6-7.6zM428.5 546.6l7.6 7.6-7.6 7.6-7.6-7.6zM428.8 544.4l7.6 7.6-7.6 7.6-7.6-7.6zM429 540.1l7.6 7.6-7.6 7.6-7.6-7.6zM429.3 537.8l7.6 7.6-7.6 7.6-7.6-7.6zM429.5 534.1l7.6 7.6-7.6 7.6-7.6-7.6zM429.8 534.3l7.6 7.6-7.6 7.6-7.6-7.6zM430 535l7.6 7.6-7.6 7.6-7.6-7.6zM430.3 534l7.6 7.6-7.6 7.6-7.6-7.6zM430.5 539.8l7.6 7.6-7.6 7.6-7.6-7.6zM430.8 556.9l7.6 7.6-7.6 7.6-7.6-7.6zM431 546.7l7.6 7.6-7.6 7.6-7.6-7.6zM431.3 543.7l7.6 7.6-7.6 7.6-7.6-7.6zM431.5 549.4l7.6 7.6-7.6 7.6-7.6-7.6zM431.8 540l7.6 7.6-7.6 7.6-7.6-7.6zM432 550.1l7.6 7.6-7.6 7.6-7.6-7.6zM432.3 554.8l7.6 7.6-7.6 7.6-7.6-7.6zM432.5 537.3l7.6 7.6-7.6 7.6-7.6-7.6zM432.8 543.6l7.6 7.6-7.6 7.6-7.6-7.6zM433 547.3l7.6 7.6-7.6 7.6-7.6-7.6zM433.3 542.4l7.6 7.6-7.6 7.6-7.6-7.6zM433.5 541.8l7.6 7.6-7.6 7.6-7.6-7.6zM433.8 547.6l7.6 7.6-7.6 7.6-7.6-7.6zM434 569.1l7.6 7.6-7.6 7.6-7.6-7.6zM434.3 556.1l7.6 7.6-7.6 7.6-7.6-7.6zM434.6 554.8l7.6 7.6-7.6 7.6-7.6-7.6zM434.8 559.2l7.6 7.6-7.6 7.6-7.6-7.6zM435.1 550.7l7.6 7.6-7.6 7.6-7.6-7.6zM435.3 543.6l7.6 7.6-7.6 7.6-7.6-7.6zM435.6 556.6l7.6 7.6-7.6 7.6-7.6-7.6zM435.8 561.9l7.6 7.6-7.6 7.6-7.6-7.6zM436.1 538.6l7.6 7.6-7.6 7.6-7.6-7.6zM436.3 557.5l7.6 7.6-7.6 7.6-7.6-7.6zM436.6 563.7l7.6 7.6-7.6 7.6-7.6-7.6zM436.8 553.1l7.6 7.6-7.6 7.6-7.6-7.6zM437.1 552.1l7.6 7.6-7.6 7.6-7.6-7.6zM437.3 560.9l7.6 7.6-7.6 7.6-7.6-7.6zM437.6 550.2l7.6 7.6-7.6 7.6-7.6-7.6zM437.8 560.1l7.6 7.6-7.6 7.6-7.6-7.6zM438.1 563.7l7.6 7.6-7.6 7.6-7.6-7.6zM438.3 555.9l7.6 7.6-7.6 7.6-7.6-7.6zM438.6 551.8l7.6 7.6-7.6 7.6-7.6-7.6zM438.8 562.6l7.6 7.6-7.6 7.6-7.6-7.6zM439.1 555.9l7.6 7.6-7.6 7.6-7.6-7.6zM439.3 559.4l7.6 7.6-7.6 7.6-7.6-7.6zM439.6 538.1l7.6 7.6-7.6 7.6-7.6-7.6zM439.8 564.7l7.6 7.6-7.6 7.6-7.6-7.6zM440.1 549.6l7.6 7.6-7.6 7.6-7.6-7.6zM440.3 560.6l7.6 7.6-7.6 7.6-7.6-7.6zM440.6 561.5l7.6 7.6-7.6 7.6-7.6-7.6zM440.9 555.6l7.6 7.6-7.6 7.6-7.6-7.6zM441.1 554.7l7.6 7.6-7.6 7.6-7.6-7.6zM441.4 552.3l7.6 7.6-7.6 7.6-7.6-7.6zM441.6 559.6l7.6 7.6-7.6 7.6-7.6-7.6zM441.9 566.8l7.6 7.6-7.6 7.6-7.6-7.6zM442.1 566.7l7.6 7.6-7.6 7.6-7.6-7.6zM442.4 559.3l7.6 7.6-7.6 7.6-7.6-7.6zM442.6 559.2l7.6 7.6-7.6 7.6-7.6-7.6zM442.9 553.6l7.6 7.6-7.6 7.6-7.6-7.6zM443.1 561.1l7.6 7.6-7.6 7.6-7.6-7.6zM443.4 556.8l7.6 7.6-7.6 7.6-7.6-7.6zM443.6 553.8l7.6 7.6-7.6 7.6-7.6-7.6zM443.9 564l7.6 7.6-7.6 7.6-7.6-7.6zM444.1 576.4l7.6 7.6-7.6 7.6-7.6-7.6zM444.4 574.6l7.6 7.6-7.6 7.6-7.6-7.6zM444.6 576.8l7.6 7.6-7.6 7.6-7.6-7.6zM444.9 555l7.6 7.6-7.6 7.6-7.6-7.6zM445.1 573.2l7.6 7.6-7.6 7.6-7.6-7.6zM445.4 558.4l7.6 7.6-7.6 7.6-7.6-7.6zM445.6 563.4l7.6 7.6-7.6 7.6-7.6-7.6zM445.9 555.6l7.6 7.6-7.6 7.6-7.6-7.6zM446.1 561.1l7.6 7.6-7.6 7.6-7.6-7.6zM446.4 569.5l7.6 7.6-7.6 7.6-7.6-7.6zM446.6 570.6l7.6 7.6-7.6 7.6-7.6-7.6zM446.9 568.8l7.6 7.6-7.6 7.6-7.6-7.6zM447.2 568.5l7.6 7.6-7.6 7.6-7.6-7.6zM447.4 574l7.6 7.6-7.6 7.6-7.6-7.6zM447.7 570.7l7.6 7.6-7.6 7.6-7.6-7.6zM447.9 559.2l7.6 7.6-7.6 7.6-7.6-7.6zM448.2 583.5l7.6 7.6-7.6 7.6-7.6-7.6zM448.4 569.7l7.6 7.6-7.6 7.6-7.6-7.6zM448.7 578.4l7.6 7.6-7.6 7.6-7.6-7.6zM448.9 570.9l7.6 7.6-7.6 7.6-7.6-7.6zM449.2 566.5l7.6 7.6-7.6 7.6-7.6-7.6zM449.4 573.3l7.6 7.6-7.6 7.6-7.6-7.6zM449.7 567.7l7.6 7.6-7.6 7.6-7.6-7.6zM449.9 585l7.6 7.6-7.6 7.6-7.6-7.6zM450.2 566l7.6 7.6-7.6 7.6-7.6-7.6zM450.4 578.6l7.6 7.6-7.6 7.6-7.6-7.6zM450.7 570.1l7.6 7.6-7.6 7.6-7.6-7.6zM450.9 573.6l7.6 7.6-7.6 7.6-7.6-7.6zM451.2 593.8l7.6 7.6-7.6 7.6-7.6-7.6zM451.4 581l7.6 7.6-7.6 7.6-7.6-7.6zM451.7 574.4l7.6 7.6-7.6 7.6-7.6-7.6zM451.9 565.2l7.6 7.6-7.6 7.6-7.6-7.6zM452.2 574.6l7.6 7.6-7.6 7.6-7.6-7.6zM452.4 575.1l7.6 7.6-7.6 7.6-7.6-7.6zM452.7 587.3l7.6 7.6-7.6 7.6-7.6-7.6zM452.9 567.4l7.6 7.6-7.6 7.6-7.6-7.6zM453.2 565.1l7.6 7.6-7.6 7.6-7.6-7.6zM453.5 578.1l7.6 7.6-7.6 7.6-7.6-7.6zM453.7 580.2l7.6 7.6-7.6 7.6-7.6-7.6zM454 590.4l7.6 7.6-7.6 7.6-7.6-7.6zM454.2 573l7.6 7.6-7.6 7.6-7.6-7.6zM454.5 560.4l7.6 7.6-7.6 7.6-7.6-7.6zM454.7 574.8l7.6 7.6-7.6 7.6-7.6-7.6zM455 571.3l7.6 7.6-7.6 7.6-7.6-7.6zM455.2 576.7l7.6 7.6-7.6 7.6-7.6-7.6zM455.5 587.9l7.6 7.6-7.6 7.6-7.6-7.6zM455.7 571.8l7.6 7.6-7.6 7.6-7.6-7.6zM456 590.3l7.6 7.6-7.6 7.6-7.6-7.6zM456.2 583.4l7.6 7.6-7.6 7.6-7.6-7.6zM456.5 580.2l7.6 7.6-7.6 7.6-7.6-7.6zM456.7 576.3l7.6 7.6-7.6 7.6-7.6-7.6zM457 579.9l7.6 7.6-7.6 7.6-7.6-7.6zM457.2 580.5l7.6 7.6-7.6 7.6-7.6-7.6zM457.5 588.8l7.6 7.6-7.6 7.6-7.6-7.6zM457.7 592.9l7.6 7.6-7.6 7.6-7.6-7.6zM458 583.7l7.6 7.6-7.6 7.6-7.6-7.6zM458.2 589.4l7.6 7.6-7.6 7.6-7.6-7.6zM458.5 593.9l7.6 7.6-7.6 7.6-7.6-7.6zM458.7 594l7.6 7.6-7.6 7.6-7.6-7.6zM459 588.8l7.6 7.6-7.6 7.6-7.6-7.6zM459.2 598.7l7.6 7.6-7.6 7.6-7.6-7.6zM459.5 595.5l7.6 7.6-7.6 7.6-7.6-7.6zM459.8 597.8l7.6 7.6-7.6 7.6-7.6-7.6zM460 585.4l7.6 7.6-7.6 7.6-7.6-7.6zM460.3 584.2l7.6 7.6-7.6 7.6-7.6-7.6zM460.5 573.4l7.6 7.6-7.6 7.6-7.6-7.6zM460.8 598.1l7.6 7.6-7.6 7.6-7.6-7.6zM461 592.7l7.6 7.6-7.6 7.6-7.6-7.6zM461.3 581.9l7.6 7.6-7.6 7.6-7.6-7.6zM461.5 590.1l7.6 7.6-7.6 7.6-7.6-7.6zM461.8 591.2l7.6 7.6-7.6 7.6-7.6-7.6zM462 577.4l7.6 7.6-7.6 7.6-7.6-7.6zM462.3 591.9l7.6 7.6-7.6 7.6-7.6-7.6zM462.5 597.8l7.6 7.6-7.6 7.6-7.6-7.6zM462.8 599.2l7.6 7.6-7.6 7.6-7.6-7.6zM463 588.1l7.6 7.6-7.6 7.6-7.6-7.6zM463.3 588.6l7.6 7.6-7.6 7.6-7.6-7.6zM463.5 600.5l7.6 7.6-7.6 7.6-7.6-7.6zM463.8 598.2l7.6 7.6-7.6 7.6-7.6-7.6zM464 588l7.6 7.6-7.6 7.6-7.6-7.6zM464.3 588l7.6 7.6-7.6 7.6-7.6-7.6zM464.5 596.7l7.6 7.6-7.6 7.6-7.6-7.6zM464.8 588.3l7.6 7.6-7.6 7.6-7.6-7.6zM465 589l7.6 7.6-7.6 7.6-7.6-7.6zM465.3 605.4l7.6 7.6-7.6 7.6-7.6-7.6zM465.5 595.6l7.6 7.6-7.6 7.6-7.6-7.6zM465.8 591l7.6 7.6-7.6 7.6-7.6-7.6zM466.1 598l7.6 7.6-7.6 7.6-7.6-7.6zM466.3 609l7.6 7.6-7.6 7.6-7.6-7.6zM466.6 596.6l7.6 7.6-7.6 7.6-7.6-7.6zM466.8 589.9l7.6 7.6-7.6 7.6-7.6-7.6zM467.1 584.5l7.6 7.6-7.6 7.6-7.6-7.6zM467.3 610.5l7.6 7.6-7.6 7.6-7.6-7.6zM467.6 578.1l7.6 7.6-7.6 7.6-7.6-7.6zM467.8 603.9l7.6 7.6-7.6 7.6-7.6-7.6zM468.1 590l7.6 7.6-7.6 7.6-7.6-7.6zM468.3 588.4l7.6 7.6-7.6 7.6-7.6-7.6zM468.6 590.4l7.6 7.6-7.6 7.6-7.6-7.6zM468.8 596.3l7.6 7.6-7.6 7.6-7.6-7.6zM469.1 605.5l7.6 7.6-7.6 7.6-7.6-7.6zM469.3 593.7l7.6 7.6-7.6 7.6-7.6-7.6zM469.6 603.1l7.6 7.6-7.6 7.6-7.6-7.6zM469.8 615.6l7.6 7.6-7.6 7.6-7.6-7.6zM470.1 579.7l7.6 7.6-7.6 7.6-7.6-7.6zM470.3 594.3l7.6 7.6-7.6 7.6-7.6-7.6zM470.6 587.1l7.6 7.6-7.6 7.6-7.6-7.6zM470.8 605.8l7.6 7.6-7.6 7.6-7.6-7.6zM471.1 590l7.6 7.6-7.6 7.6-7.6-7.6zM471.3 589.5l7.6 7.6-7.6 7.6-7.6-7.6zM471.6 590l7.6 7.6-7.6 7.6-7.6-7.6zM471.8 600.9l7.6 7.6-7.6 7.6-7.6-7.6zM472.1 609.2l7.6 7.6-7.6 7.6-7.6-7.6zM472.4 602.6l7.6 7.6-7.6 7.6-7.6-7.6zM472.6 616.4l7.6 7.6-7.6 7.6-7.6-7.6zM472.9 613.4l7.6 7.6-7.6 7.6-7.6-7.6zM473.1 601.6l7.6 7.6-7.6 7.6-7.6-7.6zM473.4 609.1l7.6 7.6-7.6 7.6-7.6-7.6zM473.6 603.9l7.6 7.6-7.6 7.6-7.6-7.6zM473.9 603.8l7.6 7.6-7.6 7.6-7.6-7.6zM474.1 590.4l7.6 7.6-7.6 7.6-7.6-7.6zM474.4 594.9l7.6 7.6-7.6 7.6-7.6-7.6zM474.6 604.1l7.6 7.6-7.6 7.6-7.6-7.6zM474.9 596l7.6 7.6-7.6 7.6-7.6-7.6zM475.1 609.6l7.6 7.6-7.6 7.6-7.6-7.6zM475.4 606.9l7.6 7.6-7.6 7.6-7.6-7.6zM475.6 598.9l7.6 7.6-7.6 7.6-7.6-7.6zM475.9 613.5l7.6 7.6-7.6 7.6-7.6-7.6zM476.1 607.3l7.6 7.6-7.6 7.6-7.6-7.6zM476.4 614.5l7.6 7.6-7.6 7.6-7.6-7.6zM476.6 605.2l7.6 7.6-7.6 7.6-7.6-7.6zM476.9 595.4l7.6 7.6-7.6 7.6-7.6-7.6zM477.1 611.5l7.6 7.6-7.6 7.6-7.6-7.6zM477.4 605.3l7.6 7.6-7.6 7.6-7.6-7.6zM477.6 613l7.6 7.6-7.6 7.6-7.6-7.6zM477.9 614.9l7.6 7.6-7.6 7.6-7.6-7.6zM478.1 615.7l7.6 7.6-7.6 7.6-7.6-7.6zM478.4 598.2l7.6 7.6-7.6 7.6-7.6-7.6zM478.7 592.5l7.6 7.6-7.6 7.6-7.6-7.6zM478.9 605.1l7.6 7.6-7.6 7.6-7.6-7.6zM479.2 613.3l7.6 7.6-7.6 7.6-7.6-7.6zM479.4 604.2l7.6 7.6-7.6 7.6-7.6-7.6zM479.7 611.3l7.6 7.6-7.6 7.6-7.6-7.6zM479.9 604.1l7.6 7.6-7.6 7.6-7.6-7.6zM480.2 607.7l7.6 7.6-7.6 7.6-7.6-7.6zM480.4 608l7.6 7.6-7.6 7.6-7.6-7.6zM480.7 606.1l7.6 7.6-7.6 7.6-7.6-7.6zM480.9 614.2l7.6 7.6-7.6 7.6-7.6-7.6zM481.2 613.2l7.6 7.6-7.6 7.6-7.6-7.6zM481.4 622.1l7.6 7.6-7.6 7.6-7.6-7.6zM481.7 614l7.6 7.6-7.6 7.6-7.6-7.6zM481.9 620.6l7.6 7.6-7.6 7.6-7.6-7.6zM482.2 612.5l7.6 7.6-7.6 7.6-7.6-7.6zM482.4 618.1l7.6 7.6-7.6 7.6-7.6-7.6zM482.7 611.4l7.6 7.6-7.6 7.6-7.6-7.6zM482.9 609.3l7.6 7.6-7.6 7.6-7.6-7.6zM483.2 621.8l7.6 7.6-7.6 7.6-7.6-7.6zM483.4 618.1l7.6 7.6-7.6 7.6-7.6-7.6zM483.7 619.2l7.6 7.6-7.6 7.6-7.6-7.6zM483.9 608.4l7.6 7.6-7.6 7.6-7.6-7.6zM484.2 602.4l7.6 7.6-7.6 7.6-7.6-7.6zM484.4 608.2l7.6 7.6-7.6 7.6-7.6-7.6zM484.7 616.2l7.6 7.6-7.6 7.6-7.6-7.6zM485 604.6l7.6 7.6-7.6 7.6-7.6-7.6zM485.2 624.2l7.6 7.6-7.6 7.6-7.6-7.6zM485.5 604.9l7.6 7.6-7.6 7.6-7.6-7.6zM485.7 619.1l7.6 7.6-7.6 7.6-7.6-7.6zM486 633.1l7.6 7.6-7.6 7.6-7.6-7.6zM486.2 598.1l7.6 7.6-7.6 7.6-7.6-7.6zM486.5 605.3l7.6 7.6-7.6 7.6-7.6-7.6zM486.7 622.4l7.6 7.6-7.6 7.6-7.6-7.6zM487 614.9l7.6 7.6-7.6 7.6-7.6-7.6zM487.2 617.6l7.6 7.6-7.6 7.6-7.6-7.6zM487.5 615.8l7.6 7.6-7.6 7.6-7.6-7.6zM487.7 626.2l7.6 7.6-7.6 7.6-7.6-7.6zM488 621.3l7.6 7.6-7.6 7.6-7.6-7.6zM488.2 614.1l7.6 7.6-7.6 7.6-7.6-7.6zM488.5 615.9l7.6 7.6-7.6 7.6-7.6-7.6zM488.7 609.8l7.6 7.6-7.6 7.6-7.6-7.6zM489 617.2l7.6 7.6-7.6 7.6-7.6-7.6zM489.2 602.8l7.6 7.6-7.6 7.6-7.6-7.6zM489.5 622.7l7.6 7.6-7.6 7.6-7.6-7.6zM489.7 616.7l7.6 7.6-7.6 7.6-7.6-7.6zM490 630.9l7.6 7.6-7.6 7.6-7.6-7.6zM490.2 626.8l7.6 7.6-7.6 7.6-7.6-7.6zM490.5 610.4l7.6 7.6-7.6 7.6-7.6-7.6zM490.7 625.2l7.6 7.6-7.6 7.6-7.6-7.6zM491 616l7.6 7.6-7.6 7.6-7.6-7.6zM491.3 620l7.6 7.6-7.6 7.6-7.6-7.6zM491.5 626.5l7.6 7.6-7.6 7.6-7.6-7.6zM491.8 622.2l7.6 7.6-7.6 7.6-7.6-7.6zM492 623.5l7.6 7.6-7.6 7.6-7.6-7.6zM492.3 623.5l7.6 7.6-7.6 7.6-7.6-7.6zM492.5 615.8l7.6 7.6-7.6 7.6-7.6-7.6zM492.8 616.6l7.6 7.6-7.6 7.6-7.6-7.6zM493 624.7l7.6 7.6-7.6 7.6-7.6-7.6zM493.3 627l7.6 7.6-7.6 7.6-7.6-7.6zM493.5 619.6l7.6 7.6-7.6 7.6-7.6-7.6zM493.8 622.2l7.6 7.6-7.6 7.6-7.6-7.6zM494 615.2l7.6 7.6-7.6 7.6-7.6-7.6zM494.3 605l7.6 7.6-7.6 7.6-7.6-7.6zM494.5 616.8l7.6 7.6-7.6 7.6-7.6-7.6zM494.8 622.6l7.6 7.6-7.6 7.6-7.6-7.6zM495 623.6l7.6 7.6-7.6 7.6-7.6-7.6zM495.3 628.2l7.6 7.6-7.6 7.6-7.6-7.6zM495.5 628.7l7.6 7.6-7.6 7.6-7.6-7.6zM495.8 629.4l7.6 7.6-7.6 7.6-7.6-7.6zM496 625.8l7.6 7.6-7.6 7.6-7.6-7.6zM496.3 626.2l7.6 7.6-7.6 7.6-7.6-7.6zM496.5 618.9l7.6 7.6-7.6 7.6-7.6-7.6zM496.8 626.3l7.6 7.6-7.6 7.6-7.6-7.6zM497 625.2l7.6 7.6-7.6 7.6-7.6-7.6zM497.3 631.9l7.6 7.6-7.6 7.6-7.6-7.6zM497.6 614l7.6 7.6-7.6 7.6-7.6-7.6zM497.8 621.3l7.6 7.6-7.6 7.6-7.6-7.6zM498.1 613.4l7.6 7.6-7.6 7.6-7.6-7.6zM498.3 619.8l7.6 7.6-7.6 7.6-7.6-7.6zM498.6 615.7l7.6 7.6-7.6 7.6-7.6-7.6zM498.8 626.8l7.6 7.6-7.6 7.6-7.6-7.6zM499.1 620.9l7.6 7.6-7.6 7.6-7.6-7.6zM499.3 608.5l7.6 7.6-7.6 7.6-7.6-7.6zM499.6 633.4l7.6 7.6-7.6 7.6-7.6-7.6zM499.8 618.5l7.6 7.6-7.6 7.6-7.6-7.6zM500.1 615.4l7.6 7.6-7.6 7.6-7.6-7.6zM500.3 623.6l7.6 7.6-7.6 7.6-7.6-7.6zM500.6 621.6l7.6 7.6-7.6 7.6-7.6-7.6zM500.8 618.5l7.6 7.6-7.6 7.6-7.6-7.6zM501.1 631l7.6 7.6-7.6 7.6-7.6-7.6zM501.3 624.3l7.6 7.6-7.6 7.6-7.6-7.6zM501.6 632.7l7.6 7.6-7.6 7.6-7.6-7.6zM501.8 631.6l7.6 7.6-7.6 7.6-7.6-7.6zM502.1 631.4l7.6 7.6-7.6 7.6-7.6-7.6zM502.3 628.5l7.6 7.6-7.6 7.6-7.6-7.6zM502.6 626.8l7.6 7.6-7.6 7.6-7.6-7.6zM502.8 625l7.6 7.6-7.6 7.6-7.6-7.6zM503.1 637.1l7.6 7.6-7.6 7.6-7.6-7.6zM503.3 615.5l7.6 7.6-7.6 7.6-7.6-7.6zM503.6 621l7.6 7.6-7.6 7.6-7.6-7.6zM503.9 623.9l7.6 7.6-7.6 7.6-7.6-7.6zM504.1 631l7.6 7.6-7.6 7.6-7.6-7.6zM504.4 629.4l7.6 7.6-7.6 7.6-7.6-7.6zM504.6 625.5l7.6 7.6-7.6 7.6-7.6-7.6zM504.9 626.5l7.6 7.6-7.6 7.6-7.6-7.6zM505.1 640l7.6 7.6-7.6 7.6-7.6-7.6zM505.4 624.7l7.6 7.6-7.6 7.6-7.6-7.6zM505.6 611l7.6 7.6-7.6 7.6-7.6-7.6zM505.9 641.5l7.6 7.6-7.6 7.6-7.6-7.6zM506.1 623.6l7.6 7.6-7.6 7.6-7.6-7.6zM506.4 627.7l7.6 7.6-7.6 7.6-7.6-7.6zM506.6 630.9l7.6 7.6-7.6 7.6-7.6-7.6zM506.9 621.6l7.6 7.6-7.6 7.6-7.6-7.6zM507.1 638l7.6 7.6-7.6 7.6-7.6-7.6zM507.4 629.6l7.6 7.6-7.6 7.6-7.6-7.6zM507.6 621.5l7.6 7.6-7.6 7.6-7.6-7.6zM507.9 632.2l7.6 7.6-7.6 7.6-7.6-7.6zM508.1 633.7l7.6 7.6-7.6 7.6-7.6-7.6zM508.4 630.5l7.6 7.6-7.6 7.6-7.6-7.6zM508.6 634.2l7.6 7.6-7.6 7.6-7.6-7.6zM508.9 621.7l7.6 7.6-7.6 7.6-7.6-7.6zM509.1 637.4l7.6 7.6-7.6 7.6-7.6-7.6zM509.4 626.3l7.6 7.6-7.6 7.6-7.6-7.6zM509.6 639.9l7.6 7.6-7.6 7.6-7.6-7.6zM509.9 627.8l7.6 7.6-7.6 7.6-7.6-7.6zM510.2 632.9l7.6 7.6-7.6 7.6-7.6-7.6zM510.4 648.8l7.6 7.6-7.6 7.6-7.6-7.6zM510.7 632.5l7.6 7.6-7.6 7.6-7.6-7.6zM510.9 639.4l7.6 7.6-7.6 7.6-7.6-7.6zM511.2 635.6l7.6 7.6-7.6 7.6-7.6-7.6zM511.4 623.2l7.6 7.6-7.6 7.6-7.6-7.6zM511.7 640.1l7.6 7.6-7.6 7.6-7.6-7.6zM511.9 639.9l7.6 7.6-7.6 7.6-7.6-7.6zM512.2 624.2l7.6 7.6-7.6 7.6-7.6-7.6zM512.4 632.8l7.6 7.6-7.6 7.6-7.6-7.6zM512.7 623.9l7.6 7.6-7.6 7.6-7.6-7.6zM512.9 631.7l7.6 7.6-7.6 7.6-7.6-7.6zM513.2 639.5l7.6 7.6-7.6 7.6-7.6-7.6zM513.4 634.5l7.6 7.6-7.6 7.6-7.6-7.6zM513.7 626.4l7.6 7.6-7.6 7.6-7.6-7.6zM513.9 628.4l7.6 7.6-7.6 7.6-7.6-7.6zM514.2 634.4l7.6 7.6-7.6 7.6-7.6-7.6zM514.4 634.3l7.6 7.6-7.6 7.6-7.6-7.6zM514.7 635.4l7.6 7.6-7.6 7.6-7.6-7.6zM514.9 638.5l7.6 7.6-7.6 7.6-7.6-7.6zM515.2 622.8l7.6 7.6-7.6 7.6-7.6-7.6zM515.4 635.1l7.6 7.6-7.6 7.6-7.6-7.6zM515.7 642.4l7.6 7.6-7.6 7.6-7.6-7.6zM515.9 638.4l7.6 7.6-7.6 7.6-7.6-7.6zM516.2 631l7.6 7.6-7.6 7.6-7.6-7.6zM516.5 631.6l7.6 7.6-7.6 7.6-7.6-7.6zM516.7 636.7l7.6 7.6-7.6 7.6-7.6-7.6zM517 640.1l7.6 7.6-7.6 7.6-7.6-7.6zM517.2 635.9l7.6 7.6-7.6 7.6-7.6-7.6zM517.5 646.7l7.6 7.6-7.6 7.6-7.6-7.6zM517.7 644.5l7.6 7.6-7.6 7.6-7.6-7.6zM518 631.5l7.6 7.6-7.6 7.6-7.6-7.6zM518.2 639.6l7.6 7.6-7.6 7.6-7.6-7.6zM518.5 634.4l7.6 7.6-7.6 7.6-7.6-7.6zM518.7 629.2l7.6 7.6-7.6 7.6-7.6-7.6zM519 632.9l7.6 7.6-7.6 7.6-7.6-7.6zM519.2 637l7.6 7.6-7.6 7.6-7.6-7.6zM519.5 624l7.6 7.6-7.6 7.6-7.6-7.6zM519.7 633.2l7.6 7.6-7.6 7.6-7.6-7.6zM520 639.8l7.6 7.6-7.6 7.6-7.6-7.6zM520.2 633.1l7.6 7.6-7.6 7.6-7.6-7.6zM520.5 635.3l7.6 7.6-7.6 7.6-7.6-7.6zM520.7 643.3l7.6 7.6-7.6 7.6-7.6-7.6zM521 637.6l7.6 7.6-7.6 7.6-7.6-7.6zM521.2 639.3l7.6 7.6-7.6 7.6-7.6-7.6zM521.5 650.6l7.6 7.6-7.6 7.6-7.6-7.6zM521.7 639.6l7.6 7.6-7.6 7.6-7.6-7.6zM522 640.4l7.6 7.6-7.6 7.6-7.6-7.6zM522.2 641.5l7.6 7.6-7.6 7.6-7.6-7.6zM522.5 649.2l7.6 7.6-7.6 7.6-7.6-7.6zM522.8 641.3l7.6 7.6-7.6 7.6-7.6-7.6zM523 639.4l7.6 7.6-7.6 7.6-7.6-7.6zM523.3 638.7l7.6 7.6-7.6 7.6-7.6-7.6zM523.5 646.5l7.6 7.6-7.6 7.6-7.6-7.6zM523.8 635.7l7.6 7.6-7.6 7.6-7.6-7.6zM524 647.3l7.6 7.6-7.6 7.6-7.6-7.6zM524.3 641.3l7.6 7.6-7.6 7.6-7.6-7.6zM524.5 631.9l7.6 7.6-7.6 7.6-7.6-7.6zM524.8 644.5l7.6 7.6-7.6 7.6-7.6-7.6zM525 643.5l7.6 7.6-7.6 7.6-7.6-7.6zM525.3 633.8l7.6 7.6-7.6 7.6-7.6-7.6zM525.5 643l7.6 7.6-7.6 7.6-7.6-7.6zM525.8 642.6l7.6 7.6-7.6 7.6-7.6-7.6zM526 639.5l7.6 7.6-7.6 7.6-7.6-7.6zM526.3 634.5l7.6 7.6-7.6 7.6-7.6-7.6zM526.5 654.8l7.6 7.6-7.6 7.6-7.6-7.6zM526.8 646.4l7.6 7.6-7.6 7.6-7.6-7.6zM527 647.7l7.6 7.6-7.6 7.6-7.6-7.6zM527.3 648.3l7.6 7.6-7.6 7.6-7.6-7.6zM527.5 647l7.6 7.6-7.6 7.6-7.6-7.6zM527.8 647l7.6 7.6-7.6 7.6-7.6-7.6zM528 640.2l7.6 7.6-7.6 7.6-7.6-7.6zM528.3 647.6l7.6 7.6-7.6 7.6-7.6-7.6zM528.5 641.6l7.6 7.6-7.6 7.6-7.6-7.6zM528.8 640l7.6 7.6-7.6 7.6-7.6-7.6zM529.1 647.1l7.6 7.6-7.6 7.6-7.6-7.6zM529.3 642l7.6 7.6-7.6 7.6-7.6-7.6zM529.6 632.9l7.6 7.6-7.6 7.6-7.6-7.6zM529.8 641.1l7.6 7.6-7.6 7.6-7.6-7.6zM530.1 647.1l7.6 7.6-7.6 7.6-7.6-7.6zM530.3 643.7l7.6 7.6-7.6 7.6-7.6-7.6zM530.6 649.1l7.6 7.6-7.6 7.6-7.6-7.6zM530.8 642l7.6 7.6-7.6 7.6-7.6-7.6zM531.1 638.5l7.6 7.6-7.6 7.6-7.6-7.6zM531.3 648.9l7.6 7.6-7.6 7.6-7.6-7.6zM531.6 645.4l7.6 7.6-7.6 7.6-7.6-7.6zM531.8 637.5l7.6 7.6-7.6 7.6-7.6-7.6zM532.1 647.4l7.6 7.6-7.6 7.6-7.6-7.6zM532.3 643.4l7.6 7.6-7.6 7.6-7.6-7.6zM532.6 650.9l7.6 7.6-7.6 7.6-7.6-7.6zM532.8 649.9l7.6 7.6-7.6 7.6-7.6-7.6zM533.1 648.1l7.6 7.6-7.6 7.6-7.6-7.6zM533.3 632.3l7.6 7.6-7.6 7.6-7.6-7.6zM533.6 647.8l7.6 7.6-7.6 7.6-7.6-7.6zM533.8 648.6l7.6 7.6-7.6 7.6-7.6-7.6zM534.1 649l7.6 7.6-7.6 7.6-7.6-7.6zM534.3 646.8l7.6 7.6-7.6 7.6-7.6-7.6zM534.6 642.1l7.6 7.6-7.6 7.6-7.6-7.6zM534.8 645l7.6 7.6-7.6 7.6-7.6-7.6zM535.1 634.1l7.6 7.6-7.6 7.6-7.6-7.6zM535.4 645.2l7.6 7.6-7.6 7.6-7.6-7.6zM535.6 638.1l7.6 7.6-7.6 7.6-7.6-7.6zM535.9 645.2l7.6 7.6-7.6 7.6-7.6-7.6zM536.1 643.4l7.6 7.6-7.6 7.6-7.6-7.6zM536.4 655.6l7.6 7.6-7.6 7.6-7.6-7.6zM536.6 648l7.6 7.6-7.6 7.6-7.6-7.6zM536.9 647.9l7.6 7.6-7.6 7.6-7.6-7.6zM537.1 649l7.6 7.6-7.6 7.6-7.6-7.6zM537.4 660.5l7.6 7.6-7.6 7.6-7.6-7.6zM537.6 642.8l7.6 7.6-7.6 7.6-7.6-7.6zM537.9 650.4l7.6 7.6-7.6 7.6-7.6-7.6zM538.1 650.9l7.6 7.6-7.6 7.6-7.6-7.6zM538.4 649.9l7.6 7.6-7.6 7.6-7.6-7.6zM538.6 650l7.6 7.6-7.6 7.6-7.6-7.6zM538.9 646.4l7.6 7.6-7.6 7.6-7.6-7.6zM539.1 656.4l7.6 7.6-7.6 7.6-7.6-7.6zM539.4 654.6l7.6 7.6-7.6 7.6-7.6-7.6zM539.6 647.6l7.6 7.6-7.6 7.6-7.6-7.6zM539.9 648.6l7.6 7.6-7.6 7.6-7.6-7.6zM540.1 651.8l7.6 7.6-7.6 7.6-7.6-7.6zM540.4 653.2l7.6 7.6-7.6 7.6-7.6-7.6zM540.6 654.9l7.6 7.6-7.6 7.6-7.6-7.6zM540.9 650.5l7.6 7.6-7.6 7.6-7.6-7.6zM541.1 643.4l7.6 7.6-7.6 7.6-7.6-7.6zM541.4 656.7l7.6 7.6-7.6 7.6-7.6-7.6zM541.7 641.8l7.6 7.6-7.6 7.6-7.6-7.6zM541.9 645.9l7.6 7.6-7.6 7.6-7.6-7.6zM542.2 653.7l7.6 7.6-7.6 7.6-7.6-7.6zM542.4 646.7l7.6 7.6-7.6 7.6-7.6-7.6zM542.7 659.9l7.6 7.6-7.6 7.6-7.6-7.6zM542.9 661.6l7.6 7.6-7.6 7.6-7.6-7.6zM543.2 659.2l7.6 7.6-7.6 7.6-7.6-7.6zM543.4 654.3l7.6 7.6-7.6 7.6-7.6-7.6zM543.7 654l7.6 7.6-7.6 7.6-7.6-7.6zM543.9 655.3l7.6 7.6-7.6 7.6-7.6-7.6zM544.2 651.9l7.6 7.6-7.6 7.6-7.6-7.6zM544.4 665l7.6 7.6-7.6 7.6-7.6-7.6zM544.7 650l7.6 7.6-7.6 7.6-7.6-7.6zM544.9 661.2l7.6 7.6-7.6 7.6-7.6-7.6zM545.2 657l7.6 7.6-7.6 7.6-7.6-7.6zM545.4 655.8l7.6 7.6-7.6 7.6-7.6-7.6zM545.7 660.2l7.6 7.6-7.6 7.6-7.6-7.6zM545.9 661.7l7.6 7.6-7.6 7.6-7.6-7.6zM546.2 659.7l7.6 7.6-7.6 7.6-7.6-7.6zM546.4 654.2l7.6 7.6-7.6 7.6-7.6-7.6zM546.7 650.9l7.6 7.6-7.6 7.6-7.6-7.6zM546.9 651.2l7.6 7.6-7.6 7.6-7.6-7.6zM547.2 660.4l7.6 7.6-7.6 7.6-7.6-7.6zM547.4 659.4l7.6 7.6-7.6 7.6-7.6-7.6zM547.7 660.3l7.6 7.6-7.6 7.6-7.6-7.6zM548 652.6l7.6 7.6-7.6 7.6-7.6-7.6zM548.2 667.1l7.6 7.6-7.6 7.6-7.6-7.6zM548.5 648.5l7.6 7.6-7.6 7.6-7.6-7.6zM548.7 658.5l7.6 7.6-7.6 7.6-7.6-7.6zM549 660.4l7.6 7.6-7.6 7.6-7.6-7.6zM549.2 654.2l7.6 7.6-7.6 7.6-7.6-7.6zM549.5 650.4l7.6 7.6-7.6 7.6-7.6-7.6zM549.7 654.6l7.6 7.6-7.6 7.6-7.6-7.6zM550 650.7l7.6 7.6-7.6 7.6-7.6-7.6zM550.2 656.1l7.6 7.6-7.6 7.6-7.6-7.6zM550.5 650.1l7.6 7.6-7.6 7.6-7.6-7.6zM550.7 650.2l7.6 7.6-7.6 7.6-7.6-7.6zM551 658l7.6 7.6-7.6 7.6-7.6-7.6zM551.2 649.4l7.6 7.6-7.6 7.6-7.6-7.6zM551.5 656.9l7.6 7.6-7.6 7.6-7.6-7.6zM551.7 657.5l7.6 7.6-7.6 7.6-7.6-7.6zM552 663.4l7.6 7.6-7.6 7.6-7.6-7.6zM552.2 660l7.6 7.6-7.6 7.6-7.6-7.6zM552.5 654.2l7.6 7.6-7.6 7.6-7.6-7.6zM552.7 666.2l7.6 7.6-7.6 7.6-7.6-7.6zM553 655.3l7.6 7.6-7.6 7.6-7.6-7.6zM553.2 657.2l7.6 7.6-7.6 7.6-7.6-7.6zM553.5 657.7l7.6 7.6-7.6 7.6-7.6-7.6zM553.7 672l7.6 7.6-7.6 7.6-7.6-7.6zM554 660.3l7.6 7.6-7.6 7.6-7.6-7.6zM554.3 656.2l7.6 7.6-7.6 7.6-7.6-7.6zM554.5 664.4l7.6 7.6-7.6 7.6-7.6-7.6zM554.8 659.7l7.6 7.6-7.6 7.6-7.6-7.6zM555 673.8l7.6 7.6-7.6 7.6-7.6-7.6zM555.3 656.8l7.6 7.6-7.6 7.6-7.6-7.6zM555.5 664.5l7.6 7.6-7.6 7.6-7.6-7.6zM555.8 656.1l7.6 7.6-7.6 7.6-7.6-7.6zM556 671.5l7.6 7.6-7.6 7.6-7.6-7.6zM556.3 657.5l7.6 7.6-7.6 7.6-7.6-7.6zM556.5 662.9l7.6 7.6-7.6 7.6-7.6-7.6zM556.8 657.2l7.6 7.6-7.6 7.6-7.6-7.6zM557 667.1l7.6 7.6-7.6 7.6-7.6-7.6zM557.3 665.6l7.6 7.6-7.6 7.6-7.6-7.6zM557.5 649.7l7.6 7.6-7.6 7.6-7.6-7.6zM557.8 667.1l7.6 7.6-7.6 7.6-7.6-7.6zM558 666.6l7.6 7.6-7.6 7.6-7.6-7.6zM558.3 664.4l7.6 7.6-7.6 7.6-7.6-7.6zM558.5 668.7l7.6 7.6-7.6 7.6-7.6-7.6zM558.8 656.6l7.6 7.6-7.6 7.6-7.6-7.6zM559 653.8l7.6 7.6-7.6 7.6-7.6-7.6zM559.3 667.5l7.6 7.6-7.6 7.6-7.6-7.6zM559.5 673.4l7.6 7.6-7.6 7.6-7.6-7.6zM559.8 657.4l7.6 7.6-7.6 7.6-7.6-7.6zM560 658l7.6 7.6-7.6 7.6-7.6-7.6zM560.3 659.7l7.6 7.6-7.6 7.6-7.6-7.6zM560.6 658.1l7.6 7.6-7.6 7.6-7.6-7.6zM560.8 669.5l7.6 7.6-7.6 7.6-7.6-7.6zM561.1 665.8l7.6 7.6-7.6 7.6-7.6-7.6zM561.3 672.7l7.6 7.6-7.6 7.6-7.6-7.6zM561.6 673.1l7.6 7.6-7.6 7.6-7.6-7.6zM561.8 660l7.6 7.6-7.6 7.6-7.6-7.6zM562.1 669.3l7.6 7.6-7.6 7.6-7.6-7.6zM562.3 653.1l7.6 7.6-7.6 7.6-7.6-7.6zM562.6 665.5l7.6 7.6-7.6 7.6-7.6-7.6zM562.8 669.6l7.6 7.6-7.6 7.6-7.6-7.6zM563.1 661.9l7.6 7.6-7.6 7.6-7.6-7.6zM563.3 656.5l7.6 7.6-7.6 7.6-7.6-7.6zM563.6 663.9l7.6 7.6-7.6 7.6-7.6-7.6zM563.8 673.5l7.6 7.6-7.6 7.6-7.6-7.6zM564.1 664.9l7.6 7.6-7.6 7.6-7.6-7.6zM564.3 659.6l7.6 7.6-7.6 7.6-7.6-7.6zM564.6 670l7.6 7.6-7.6 7.6-7.6-7.6zM564.8 671.7l7.6 7.6-7.6 7.6-7.6-7.6zM565.1 662.1l7.6 7.6-7.6 7.6-7.6-7.6zM565.3 667l7.6 7.6-7.6 7.6-7.6-7.6zM565.6 674l7.6 7.6-7.6 7.6-7.6-7.6zM565.8 670.2l7.6 7.6-7.6 7.6-7.6-7.6zM566.1 672.5l7.6 7.6-7.6 7.6-7.6-7.6zM566.3 666.9l7.6 7.6-7.6 7.6-7.6-7.6zM566.6 668.1l7.6 7.6-7.6 7.6-7.6-7.6zM566.9 662.5l7.6 7.6-7.6 7.6-7.6-7.6zM567.1 665.1l7.6 7.6-7.6 7.6-7.6-7.6zM567.4 677.7l7.6 7.6-7.6 7.6-7.6-7.6zM567.6 667.1l7.6 7.6-7.6 7.6-7.6-7.6zM567.9 664.6l7.6 7.6-7.6 7.6-7.6-7.6zM568.1 667.2l7.6 7.6-7.6 7.6-7.6-7.6zM568.4 664.2l7.6 7.6-7.6 7.6-7.6-7.6zM568.6 672.9l7.6 7.6-7.6 7.6-7.6-7.6zM568.9 675.3l7.6 7.6-7.6 7.6-7.6-7.6zM569.1 665.2l7.6 7.6-7.6 7.6-7.6-7.6zM569.4 676.2l7.6 7.6-7.6 7.6-7.6-7.6zM569.6 682.3l7.6 7.6-7.6 7.6-7.6-7.6zM569.9 665.2l7.6 7.6-7.6 7.6-7.6-7.6zM570.1 674.8l7.6 7.6-7.6 7.6-7.6-7.6zM570.4 672.7l7.6 7.6-7.6 7.6-7.6-7.6zM570.6 678.8l7.6 7.6-7.6 7.6-7.6-7.6zM570.9 678.5l7.6 7.6-7.6 7.6-7.6-7.6zM571.1 677.8l7.6 7.6-7.6 7.6-7.6-7.6zM571.4 673.6l7.6 7.6-7.6 7.6-7.6-7.6zM571.6 669.8l7.6 7.6-7.6 7.6-7.6-7.6zM571.9 684.4l7.6 7.6-7.6 7.6-7.6-7.6zM572.1 668l7.6 7.6-7.6 7.6-7.6-7.6zM572.4 678.6l7.6 7.6-7.6 7.6-7.6-7.6zM572.6 678.1l7.6 7.6-7.6 7.6-7.6-7.6zM572.9 668.9l7.6 7.6-7.6 7.6-7.6-7.6zM573.2 673.1l7.6 7.6-7.6 7.6-7.6-7.6zM573.4 681.1l7.6 7.6-7.6 7.6-7.6-7.6zM573.7 663.1l7.6 7.6-7.6 7.6-7.6-7.6zM573.9 677.7l7.6 7.6-7.6 7.6-7.6-7.6zM574.2 671.9l7.6 7.6-7.6 7.6-7.6-7.6zM574.4 672.3l7.6 7.6-7.6 7.6-7.6-7.6zM574.7 666l7.6 7.6-7.6 7.6-7.6-7.6zM574.9 676.1l7.6 7.6-7.6 7.6-7.6-7.6zM575.2 668.4l7.6 7.6-7.6 7.6-7.6-7.6zM575.4 677.9l7.6 7.6-7.6 7.6-7.6-7.6zM575.7 668.1l7.6 7.6-7.6 7.6-7.6-7.6zM575.9 678.3l7.6 7.6-7.6 7.6-7.6-7.6zM576.2 676.3l7.6 7.6-7.6 7.6-7.6-7.6zM576.4 664.3l7.6 7.6-7.6 7.6-7.6-7.6zM576.7 672.9l7.6 7.6-7.6 7.6-7.6-7.6zM576.9 674.1l7.6 7.6-7.6 7.6-7.6-7.6zM577.2 662.9l7.6 7.6-7.6 7.6-7.6-7.6zM577.4 673l7.6 7.6-7.6 7.6-7.6-7.6zM577.7 679.4l7.6 7.6-7.6 7.6-7.6-7.6zM577.9 671.3l7.6 7.6-7.6 7.6-7.6-7.6zM578.2 681.6l7.6 7.6-7.6 7.6-7.6-7.6zM578.4 669.5l7.6 7.6-7.6 7.6-7.6-7.6zM578.7 669.2l7.6 7.6-7.6 7.6-7.6-7.6zM578.9 678.8l7.6 7.6-7.6 7.6-7.6-7.6zM579.2 679.2l7.6 7.6-7.6 7.6-7.6-7.6zM579.5 675l7.6 7.6-7.6 7.6-7.6-7.6zM579.7 676l7.6 7.6-7.6 7.6-7.6-7.6zM580 681.4l7.6 7.6-7.6 7.6-7.6-7.6zM580.2 673.3l7.6 7.6-7.6 7.6-7.6-7.6zM580.5 687.2l7.6 7.6-7.6 7.6-7.6-7.6zM580.7 678.8l7.6 7.6-7.6 7.6-7.6-7.6zM581 678.8l7.6 7.6-7.6 7.6-7.6-7.6zM581.2 678.2l7.6 7.6-7.6 7.6-7.6-7.6zM581.5 675.2l7.6 7.6-7.6 7.6-7.6-7.6zM581.7 683.4l7.6 7.6-7.6 7.6-7.6-7.6zM582 673.9l7.6 7.6-7.6 7.6-7.6-7.6zM582.2 678.1l7.6 7.6-7.6 7.6-7.6-7.6zM582.5 680.7l7.6 7.6-7.6 7.6-7.6-7.6zM582.7 684.6l7.6 7.6-7.6 7.6-7.6-7.6zM583 683.7l7.6 7.6-7.6 7.6-7.6-7.6zM583.2 675.6l7.6 7.6-7.6 7.6-7.6-7.6zM583.5 682.7l7.6 7.6-7.6 7.6-7.6-7.6zM583.7 677.4l7.6 7.6-7.6 7.6-7.6-7.6zM584 672.2l7.6 7.6-7.6 7.6-7.6-7.6zM584.2 672.5l7.6 7.6-7.6 7.6-7.6-7.6zM584.5 669.8l7.6 7.6-7.6 7.6-7.6-7.6zM584.7 679.7l7.6 7.6-7.6 7.6-7.6-7.6zM585 683.9l7.6 7.6-7.6 7.6-7.6-7.6zM585.2 672.9l7.6 7.6-7.6 7.6-7.6-7.6zM585.5 676.8l7.6 7.6-7.6 7.6-7.6-7.6zM585.8 672.6l7.6 7.6-7.6 7.6-7.6-7.6zM586 678.5l7.6 7.6-7.6 7.6-7.6-7.6zM586.3 672.4l7.6 7.6-7.6 7.6-7.6-7.6zM586.5 674.3l7.6 7.6-7.6 7.6-7.6-7.6zM586.8 675l7.6 7.6-7.6 7.6-7.6-7.6zM587 676.2l7.6 7.6-7.6 7.6-7.6-7.6zM587.3 676.9l7.6 7.6-7.6 7.6-7.6-7.6zM587.5 677.8l7.6 7.6-7.6 7.6-7.6-7.6zM587.8 677.9l7.6 7.6-7.6 7.6-7.6-7.6zM588 674l7.6 7.6-7.6 7.6-7.6-7.6zM588.3 682l7.6 7.6-7.6 7.6-7.6-7.6zM588.5 670.2l7.6 7.6-7.6 7.6-7.6-7.6zM588.8 680l7.6 7.6-7.6 7.6-7.6-7.6zM589 674.3l7.6 7.6-7.6 7.6-7.6-7.6zM589.3 680l7.6 7.6-7.6 7.6-7.6-7.6zM589.5 680.9l7.6 7.6-7.6 7.6-7.6-7.6zM589.8 669.1l7.6 7.6-7.6 7.6-7.6-7.6zM590 681.4l7.6 7.6-7.6 7.6-7.6-7.6zM590.3 686.5l7.6 7.6-7.6 7.6-7.6-7.6zM590.5 683.6l7.6 7.6-7.6 7.6-7.6-7.6zM590.8 681.6l7.6 7.6-7.6 7.6-7.6-7.6zM591 668.7l7.6 7.6-7.6 7.6-7.6-7.6zM591.3 679l7.6 7.6-7.6 7.6-7.6-7.6zM591.5 675.2l7.6 7.6-7.6 7.6-7.6-7.6zM591.8 685.4l7.6 7.6-7.6 7.6-7.6-7.6zM592.1 678.4l7.6 7.6-7.6 7.6-7.6-7.6zM592.3 676.8l7.6 7.6-7.6 7.6-7.6-7.6zM592.6 670.9l7.6 7.6-7.6 7.6-7.6-7.6zM592.8 684l7.6 7.6-7.6 7.6-7.6-7.6zM593.1 677.3l7.6 7.6-7.6 7.6-7.6-7.6zM593.3 678.9l7.6 7.6-7.6 7.6-7.6-7.6zM593.6 685.9l7.6 7.6-7.6 7.6-7.6-7.6zM593.8 680.7l7.6 7.6-7.6 7.6-7.6-7.6zM594.1 682l7.6 7.6-7.6 7.6-7.6-7.6zM594.3 692.8l7.6 7.6-7.6 7.6-7.6-7.6zM594.6 677.6l7.6 7.6-7.6 7.6-7.6-7.6zM594.8 677.9l7.6 7.6-7.6 7.6-7.6-7.6zM595.1 683.1l7.6 7.6-7.6 7.6-7.6-7.6zM595.3 687.8l7.6 7.6-7.6 7.6-7.6-7.6zM595.6 673.2l7.6 7.6-7.6 7.6-7.6-7.6zM595.8 679.5l7.6 7.6-7.6 7.6-7.6-7.6zM596.1 675.7l7.6 7.6-7.6 7.6-7.6-7.6zM596.3 673.7l7.6 7.6-7.6 7.6-7.6-7.6zM596.6 683.7l7.6 7.6-7.6 7.6-7.6-7.6zM596.8 676.8l7.6 7.6-7.6 7.6-7.6-7.6zM597.1 682.3l7.6 7.6-7.6 7.6-7.6-7.6zM597.3 681.4l7.6 7.6-7.6 7.6-7.6-7.6zM597.6 681.6l7.6 7.6-7.6 7.6-7.6-7.6zM597.8 681.2l7.6 7.6-7.6 7.6-7.6-7.6zM598.1 675.4l7.6 7.6-7.6 7.6-7.6-7.6zM598.4 680.6l7.6 7.6-7.6 7.6-7.6-7.6zM598.6 682.1l7.6 7.6-7.6 7.6-7.6-7.6zM598.9 682.7l7.6 7.6-7.6 7.6-7.6-7.6zM599.1 679.5l7.6 7.6-7.6 7.6-7.6-7.6zM599.4 686l7.6 7.6-7.6 7.6-7.6-7.6zM599.6 684l7.6 7.6-7.6 7.6-7.6-7.6zM599.9 681.6l7.6 7.6-7.6 7.6-7.6-7.6zM600.1 684.3l7.6 7.6-7.6 7.6-7.6-7.6zM600.4 682l7.6 7.6-7.6 7.6-7.6-7.6zM600.6 684.6l7.6 7.6-7.6 7.6-7.6-7.6zM600.9 671l7.6 7.6-7.6 7.6-7.6-7.6zM601.1 674.5l7.6 7.6-7.6 7.6-7.6-7.6zM601.4 679.1l7.6 7.6-7.6 7.6-7.6-7.6zM601.6 681.7l7.6 7.6-7.6 7.6-7.6-7.6zM601.9 670.1l7.6 7.6-7.6 7.6-7.6-7.6zM602.1 679.8l7.6 7.6-7.6 7.6-7.6-7.6zM602.4 681.9l7.6 7.6-7.6 7.6-7.6-7.6zM602.6 679.9l7.6 7.6-7.6 7.6-7.6-7.6zM602.9 679.9l7.6 7.6-7.6 7.6-7.6-7.6zM603.1 674.2l7.6 7.6-7.6 7.6-7.6-7.6zM603.4 681.6l7.6 7.6-7.6 7.6-7.6-7.6zM603.6 670.6l7.6 7.6-7.6 7.6-7.6-7.6zM603.9 686.1l7.6 7.6-7.6 7.6-7.6-7.6zM604.1 677.9l7.6 7.6-7.6 7.6-7.6-7.6zM604.4 686.7l7.6 7.6-7.6 7.6-7.6-7.6zM604.7 672.1l7.6 7.6-7.6 7.6-7.6-7.6zM604.9 683.2l7.6 7.6-7.6 7.6-7.6-7.6zM605.2 681.8l7.6 7.6-7.6 7.6-7.6-7.6zM605.4 676.7l7.6 7.6-7.6 7.6-7.6-7.6zM605.7 675l7.6 7.6-7.6 7.6-7.6-7.6zM605.9 687.3l7.6 7.6-7.6 7.6-7.6-7.6zM606.2 683.3l7.6 7.6-7.6 7.6-7.6-7.6zM606.4 688.7l7.6 7.6-7.6 7.6-7.6-7.6zM606.7 680.8l7.6 7.6-7.6 7.6-7.6-7.6zM606.9 682l7.6 7.6-7.6 7.6-7.6-7.6zM607.2 683.3l7.6 7.6-7.6 7.6-7.6-7.6zM607.4 685l7.6 7.6-7.6 7.6-7.6-7.6zM607.7 683.4l7.6 7.6-7.6 7.6-7.6-7.6zM607.9 685.3l7.6 7.6-7.6 7.6-7.6-7.6zM608.2 678.6l7.6 7.6-7.6 7.6-7.6-7.6zM608.4 673.5l7.6 7.6-7.6 7.6-7.6-7.6zM608.7 691.4l7.6 7.6-7.6 7.6-7.6-7.6zM608.9 681.9l7.6 7.6-7.6 7.6-7.6-7.6zM609.2 683.5l7.6 7.6-7.6 7.6-7.6-7.6zM609.4 678.7l7.6 7.6-7.6 7.6-7.6-7.6zM609.7 686.2l7.6 7.6-7.6 7.6-7.6-7.6zM609.9 682l7.6 7.6-7.6 7.6-7.6-7.6zM610.2 686.7l7.6 7.6-7.6 7.6-7.6-7.6zM610.4 677.6l7.6 7.6-7.6 7.6-7.6-7.6zM610.7 680.7l7.6 7.6-7.6 7.6-7.6-7.6zM611 682l7.6 7.6-7.6 7.6-7.6-7.6zM611.2 679.2l7.6 7.6-7.6 7.6-7.6-7.6zM611.5 682.4l7.6 7.6-7.6 7.6-7.6-7.6zM611.7 689.2l7.6 7.6-7.6 7.6-7.6-7.6zM612 678l7.6 7.6-7.6 7.6-7.6-7.6zM612.2 679.6l7.6 7.6-7.6 7.6-7.6-7.6zM612.5 681.8l7.6 7.6-7.6 7.6-7.6-7.6zM612.7 675.9l7.6 7.6-7.6 7.6-7.6-7.6zM613 674.6l7.6 7.6-7.6 7.6-7.6-7.6zM613.2 686.6l7.6 7.6-7.6 7.6-7.6-7.6zM613.5 685l7.6 7.6-7.6 7.6-7.6-7.6zM613.7 672.8l7.6 7.6-7.6 7.6-7.6-7.6zM614 673.5l7.6 7.6-7.6 7.6-7.6-7.6zM614.2 684.7l7.6 7.6-7.6 7.6-7.6-7.6zM614.5 686.9l7.6 7.6-7.6 7.6-7.6-7.6zM614.7 684.1l7.6 7.6-7.6 7.6-7.6-7.6zM615 683.3l7.6 7.6-7.6 7.6-7.6-7.6zM615.2 688.9l7.6 7.6-7.6 7.6-7.6-7.6zM615.5 680.5l7.6 7.6-7.6 7.6-7.6-7.6zM615.7 687.3l7.6 7.6-7.6 7.6-7.6-7.6zM616 686.9l7.6 7.6-7.6 7.6-7.6-7.6zM616.2 675.8l7.6 7.6-7.6 7.6-7.6-7.6zM616.5 684.1l7.6 7.6-7.6 7.6-7.6-7.6zM616.7 680.8l7.6 7.6-7.6 7.6-7.6-7.6zM617 677.1l7.6 7.6-7.6 7.6-7.6-7.6zM617.3 676.1l7.6 7.6-7.6 7.6-7.6-7.6zM617.5 682.1l7.6 7.6-7.6 7.6-7.6-7.6zM617.8 680.1l7.6 7.6-7.6 7.6-7.6-7.6zM618 684.6l7.6 7.6-7.6 7.6-7.6-7.6zM618.3 671.1l7.6 7.6-7.6 7.6-7.6-7.6zM618.5 676.8l7.6 7.6-7.6 7.6-7.6-7.6zM618.8 685.9l7.6 7.6-7.6 7.6-7.6-7.6zM619 680.1l7.6 7.6-7.6 7.6-7.6-7.6zM619.3 676.3l7.6 7.6-7.6 7.6-7.6-7.6zM619.5 677.5l7.6 7.6-7.6 7.6-7.6-7.6zM619.8 670.4l7.6 7.6-7.6 7.6-7.6-7.6zM620 672.8l7.6 7.6-7.6 7.6-7.6-7.6zM620.3 682.7l7.6 7.6-7.6 7.6-7.6-7.6zM620.5 680.3l7.6 7.6-7.6 7.6-7.6-7.6zM620.8 686.5l7.6 7.6-7.6 7.6-7.6-7.6zM621 678.5l7.6 7.6-7.6 7.6-7.6-7.6zM621.3 678.9l7.6 7.6-7.6 7.6-7.6-7.6zM621.5 665.5l7.6 7.6-7.6 7.6-7.6-7.6zM621.8 679.1l7.6 7.6-7.6 7.6-7.6-7.6zM622 690.5l7.6 7.6-7.6 7.6-7.6-7.6zM622.3 683.1l7.6 7.6-7.6 7.6-7.6-7.6zM622.5 678.9l7.6 7.6-7.6 7.6-7.6-7.6zM622.8 686l7.6 7.6-7.6 7.6-7.6-7.6zM623 684l7.6 7.6-7.6 7.6-7.6-7.6zM623.3 681.3l7.6 7.6-7.6 7.6-7.6-7.6zM623.6 677.5l7.6 7.6-7.6 7.6-7.6-7.6zM623.8 680.1l7.6 7.6-7.6 7.6-7.6-7.6zM624.1 683.9l7.6 7.6-7.6 7.6-7.6-7.6zM624.3 675.1l7.6 7.6-7.6 7.6-7.6-7.6zM624.6 682l7.6 7.6-7.6 7.6-7.6-7.6zM624.8 681.7l7.6 7.6-7.6 7.6-7.6-7.6zM625.1 686.3l7.6 7.6-7.6 7.6-7.6-7.6zM625.3 683.1l7.6 7.6-7.6 7.6-7.6-7.6zM625.6 675.5l7.6 7.6-7.6 7.6-7.6-7.6zM625.8 687.4l7.6 7.6-7.6 7.6-7.6-7.6zM626.1 679.2l7.6 7.6-7.6 7.6-7.6-7.6zM626.3 675l7.6 7.6-7.6 7.6-7.6-7.6zM626.6 680.8l7.6 7.6-7.6 7.6-7.6-7.6zM626.8 677.5l7.6 7.6-7.6 7.6-7.6-7.6zM627.1 684.6l7.6 7.6-7.6 7.6-7.6-7.6zM627.3 671.8l7.6 7.6-7.6 7.6-7.6-7.6zM627.6 672.8l7.6 7.6-7.6 7.6-7.6-7.6zM627.8 677.3l7.6 7.6-7.6 7.6-7.6-7.6zM628.1 687.7l7.6 7.6-7.6 7.6-7.6-7.6zM628.3 684l7.6 7.6-7.6 7.6-7.6-7.6zM628.6 673.3l7.6 7.6-7.6 7.6-7.6-7.6zM628.8 669.4l7.6 7.6-7.6 7.6-7.6-7.6zM629.1 676.8l7.6 7.6-7.6 7.6-7.6-7.6zM629.3 671.7l7.6 7.6-7.6 7.6-7.6-7.6zM629.6 681.4l7.6 7.6-7.6 7.6-7.6-7.6zM629.9 679.2l7.6 7.6-7.6 7.6-7.6-7.6zM630.1 678.1l7.6 7.6-7.6 7.6-7.6-7.6zM630.4 675.9l7.6 7.6-7.6 7.6-7.6-7.6zM630.6 686.1l7.6 7.6-7.6 7.6-7.6-7.6zM630.9 673.1l7.6 7.6-7.6 7.6-7.6-7.6zM631.1 671l7.6 7.6-7.6 7.6-7.6-7.6zM631.4 684l7.6 7.6-7.6 7.6-7.6-7.6zM631.6 685l7.6 7.6-7.6 7.6-7.6-7.6zM631.9 676l7.6 7.6-7.6 7.6-7.6-7.6zM632.1 681.3l7.6 7.6-7.6 7.6-7.6-7.6zM632.4 690.3l7.6 7.6-7.6 7.6-7.6-7.6zM632.6 673.5l7.6 7.6-7.6 7.6-7.6-7.6zM632.9 676.9l7.6 7.6-7.6 7.6-7.6-7.6zM633.1 680.2l7.6 7.6-7.6 7.6-7.6-7.6zM633.4 666.5l7.6 7.6-7.6 7.6-7.6-7.6zM633.6 676.9l7.6 7.6-7.6 7.6-7.6-7.6zM633.9 681.5l7.6 7.6-7.6 7.6-7.6-7.6zM634.1 677l7.6 7.6-7.6 7.6-7.6-7.6zM634.4 683l7.6 7.6-7.6 7.6-7.6-7.6zM634.6 681.5l7.6 7.6-7.6 7.6-7.6-7.6zM634.9 675.4l7.6 7.6-7.6 7.6-7.6-7.6zM635.1 680.3l7.6 7.6-7.6 7.6-7.6-7.6zM635.4 679.7l7.6 7.6-7.6 7.6-7.6-7.6zM635.6 668.5l7.6 7.6-7.6 7.6-7.6-7.6zM635.9 672.7l7.6 7.6-7.6 7.6-7.6-7.6zM636.2 673l7.6 7.6-7.6 7.6-7.6-7.6zM636.4 674.4l7.6 7.6-7.6 7.6-7.6-7.6zM636.7 674.6l7.6 7.6-7.6 7.6-7.6-7.6zM636.9 669.5l7.6 7.6-7.6 7.6-7.6-7.6zM637.2 677.2l7.6 7.6-7.6 7.6-7.6-7.6zM637.4 667.3l7.6 7.6-7.6 7.6-7.6-7.6zM637.7 682.1l7.6 7.6-7.6 7.6-7.6-7.6zM637.9 678.4l7.6 7.6-7.6 7.6-7.6-7.6zM638.2 684.3l7.6 7.6-7.6 7.6-7.6-7.6zM638.4 678.8l7.6 7.6-7.6 7.6-7.6-7.6zM638.7 674.2l7.6 7.6-7.6 7.6-7.6-7.6zM638.9 669.3l7.6 7.6-7.6 7.6-7.6-7.6zM639.2 680.4l7.6 7.6-7.6 7.6-7.6-7.6zM639.4 676.9l7.6 7.6-7.6 7.6-7.6-7.6zM639.7 678.8l7.6 7.6-7.6 7.6-7.6-7.6zM639.9 680.8l7.6 7.6-7.6 7.6-7.6-7.6zM640.2 683.1l7.6 7.6-7.6 7.6-7.6-7.6zM640.4 676.5l7.6 7.6-7.6 7.6-7.6-7.6zM640.7 686l7.6 7.6-7.6 7.6-7.6-7.6zM640.9 676.2l7.6 7.6-7.6 7.6-7.6-7.6zM641.2 676.6l7.6 7.6-7.6 7.6-7.6-7.6zM641.4 680.2l7.6 7.6-7.6 7.6-7.6-7.6zM641.7 682.1l7.6 7.6-7.6 7.6-7.6-7.6zM641.9 684l7.6 7.6-7.6 7.6-7.6-7.6zM642.2 666.8l7.6 7.6-7.6 7.6-7.6-7.6zM642.5 683.8l7.6 7.6-7.6 7.6-7.6-7.6zM642.7 668.4l7.6 7.6-7.6 7.6-7.6-7.6zM643 673.5l7.6 7.6-7.6 7.6-7.6-7.6zM643.2 678.6l7.6 7.6-7.6 7.6-7.6-7.6zM643.5 682.8l7.6 7.6-7.6 7.6-7.6-7.6zM643.7 671.1l7.6 7.6-7.6 7.6-7.6-7.6zM644 667.5l7.6 7.6-7.6 7.6-7.6-7.6zM644.2 681.6l7.6 7.6-7.6 7.6-7.6-7.6zM644.5 678.2l7.6 7.6-7.6 7.6-7.6-7.6zM644.7 671l7.6 7.6-7.6 7.6-7.6-7.6zM645 674.8l7.6 7.6-7.6 7.6-7.6-7.6zM645.2 666l7.6 7.6-7.6 7.6-7.6-7.6zM645.5 679.6l7.6 7.6-7.6 7.6-7.6-7.6zM645.7 673.7l7.6 7.6-7.6 7.6-7.6-7.6zM646 683.2l7.6 7.6-7.6 7.6-7.6-7.6zM646.2 665.5l7.6 7.6-7.6 7.6-7.6-7.6zM646.5 680.5l7.6 7.6-7.6 7.6-7.6-7.6zM646.7 688.3l7.6 7.6-7.6 7.6-7.6-7.6zM647 677.3l7.6 7.6-7.6 7.6-7.6-7.6zM647.2 677.3l7.6 7.6-7.6 7.6-7.6-7.6zM647.5 666.5l7.6 7.6-7.6 7.6-7.6-7.6zM647.7 678.4l7.6 7.6-7.6 7.6-7.6-7.6zM648 676.7l7.6 7.6-7.6 7.6-7.6-7.6zM648.2 673.5l7.6 7.6-7.6 7.6-7.6-7.6zM648.5 668.2l7.6 7.6-7.6 7.6-7.6-7.6zM648.8 677l7.6 7.6-7.6 7.6-7.6-7.6zM649 671.1l7.6 7.6-7.6 7.6-7.6-7.6zM649.3 673.9l7.6 7.6-7.6 7.6-7.6-7.6zM649.5 678.2l7.6 7.6-7.6 7.6-7.6-7.6zM649.8 676.3l7.6 7.6-7.6 7.6-7.6-7.6zM650 676.6l7.6 7.6-7.6 7.6-7.6-7.6zM650.3 681.6l7.6 7.6-7.6 7.6-7.6-7.6zM650.5 670.3l7.6 7.6-7.6 7.6-7.6-7.6zM650.8 684.1l7.6 7.6-7.6 7.6-7.6-7.6zM651 670.6l7.6 7.6-7.6 7.6-7.6-7.6zM651.3 671.7l7.6 7.6-7.6 7.6-7.6-7.6zM651.5 677.3l7.6 7.6-7.6 7.6-7.6-7.6zM651.8 680.9l7.6 7.6-7.6 7.6-7.6-7.6zM652 678.1l7.6 7.6-7.6 7.6-7.6-7.6zM652.3 674.4l7.6 7.6-7.6 7.6-7.6-7.6zM652.5 673l7.6 7.6-7.6 7.6-7.6-7.6zM652.8 675.4l7.6 7.6-7.6 7.6-7.6-7.6zM653 671.7l7.6 7.6-7.6 7.6-7.6-7.6zM653.3 679.9l7.6 7.6-7.6 7.6-7.6-7.6zM653.5 675.8l7.6 7.6-7.6 7.6-7.6-7.6zM653.8 685.3l7.6 7.6-7.6 7.6-7.6-7.6zM654 673l7.6 7.6-7.6 7.6-7.6-7.6zM654.3 676.3l7.6 7.6-7.6 7.6-7.6-7.6zM654.5 679.3l7.6 7.6-7.6 7.6-7.6-7.6zM654.8 671l7.6 7.6-7.6 7.6-7.6-7.6zM655.1 673.5l7.6 7.6-7.6 7.6-7.6-7.6zM655.3 692.1l7.6 7.6-7.6 7.6-7.6-7.6zM655.6 677.1l7.6 7.6-7.6 7.6-7.6-7.6zM655.8 685l7.6 7.6-7.6 7.6-7.6-7.6zM656.1 671.7l7.6 7.6-7.6 7.6-7.6-7.6zM656.3 664.2l7.6 7.6-7.6 7.6-7.6-7.6zM656.6 680.2l7.6 7.6-7.6 7.6-7.6-7.6zM656.8 677.1l7.6 7.6-7.6 7.6-7.6-7.6zM657.1 678.8l7.6 7.6-7.6 7.6-7.6-7.6zM657.3 675.7l7.6 7.6-7.6 7.6-7.6-7.6zM657.6 674.2l7.6 7.6-7.6 7.6-7.6-7.6zM657.8 670.8l7.6 7.6-7.6 7.6-7.6-7.6zM658.1 682.9l7.6 7.6-7.6 7.6-7.6-7.6zM658.3 669.4l7.6 7.6-7.6 7.6-7.6-7.6zM658.6 682.7l7.6 7.6-7.6 7.6-7.6-7.6zM658.8 676.3l7.6 7.6-7.6 7.6-7.6-7.6zM659.1 671.7l7.6 7.6-7.6 7.6-7.6-7.6zM659.3 674.1l7.6 7.6-7.6 7.6-7.6-7.6zM659.6 682.9l7.6 7.6-7.6 7.6-7.6-7.6zM659.8 681.7l7.6 7.6-7.6 7.6-7.6-7.6zM660.1 680.5l7.6 7.6-7.6 7.6-7.6-7.6zM660.3 678.4l7.6 7.6-7.6 7.6-7.6-7.6zM660.6 672.1l7.6 7.6-7.6 7.6-7.6-7.6zM660.8 685l7.6 7.6-7.6 7.6-7.6-7.6zM661.1 675.8l7.6 7.6-7.6 7.6-7.6-7.6zM661.4 675.1l7.6 7.6-7.6 7.6-7.6-7.6zM661.6 675.4l7.6 7.6-7.6 7.6-7.6-7.6zM661.9 676l7.6 7.6-7.6 7.6-7.6-7.6zM662.1 670.5l7.6 7.6-7.6 7.6-7.6-7.6zM662.4 676l7.6 7.6-7.6 7.6-7.6-7.6zM662.6 674.1l7.6 7.6-7.6 7.6-7.6-7.6zM662.9 675.7l7.6 7.6-7.6 7.6-7.6-7.6zM663.1 669.3l7.6 7.6-7.6 7.6-7.6-7.6zM663.4 688.7l7.6 7.6-7.6 7.6-7.6-7.6zM663.6 672.1l7.6 7.6-7.6 7.6-7.6-7.6zM663.9 680.3l7.6 7.6-7.6 7.6-7.6-7.6zM664.1 680.4l7.6 7.6-7.6 7.6-7.6-7.6zM664.4 684.1l7.6 7.6-7.6 7.6-7.6-7.6zM664.6 688.9l7.6 7.6-7.6 7.6-7.6-7.6zM664.9 681.1l7.6 7.6-7.6 7.6-7.6-7.6zM665.1 682.8l7.6 7.6-7.6 7.6-7.6-7.6zM665.4 676.7l7.6 7.6-7.6 7.6-7.6-7.6zM665.6 687l7.6 7.6-7.6 7.6-7.6-7.6zM665.9 671.9l7.6 7.6-7.6 7.6-7.6-7.6zM666.1 678l7.6 7.6-7.6 7.6-7.6-7.6zM666.4 680.8l7.6 7.6-7.6 7.6-7.6-7.6zM666.6 683.3l7.6 7.6-7.6 7.6-7.6-7.6zM666.9 683.8l7.6 7.6-7.6 7.6-7.6-7.6zM667.1 685.6l7.6 7.6-7.6 7.6-7.6-7.6zM667.4 682.6l7.6 7.6-7.6 7.6-7.6-7.6zM667.7 679.8l7.6 7.6-7.6 7.6-7.6-7.6zM667.9 680.9l7.6 7.6-7.6 7.6-7.6-7.6zM668.2 687.4l7.6 7.6-7.6 7.6-7.6-7.6zM668.4 681.5l7.6 7.6-7.6 7.6-7.6-7.6zM668.7 684.8l7.6 7.6-7.6 7.6-7.6-7.6zM668.9 679.4l7.6 7.6-7.6 7.6-7.6-7.6zM669.2 670.5l7.6 7.6-7.6 7.6-7.6-7.6zM669.4 677.1l7.6 7.6-7.6 7.6-7.6-7.6zM669.7 682.1l7.6 7.6-7.6 7.6-7.6-7.6zM669.9 689l7.6 7.6-7.6 7.6-7.6-7.6zM670.2 687.9l7.6 7.6-7.6 7.6-7.6-7.6zM670.4 689.4l7.6 7.6-7.6 7.6-7.6-7.6zM670.7 676.9l7.6 7.6-7.6 7.6-7.6-7.6zM670.9 684.8l7.6 7.6-7.6 7.6-7.6-7.6zM671.2 680.5l7.6 7.6-7.6 7.6-7.6-7.6zM671.4 684.2l7.6 7.6-7.6 7.6-7.6-7.6zM671.7 680.5l7.6 7.6-7.6 7.6-7.6-7.6zM671.9 673.8l7.6 7.6-7.6 7.6-7.6-7.6zM672.2 684.7l7.6 7.6-7.6 7.6-7.6-7.6zM672.4 683l7.6 7.6-7.6 7.6-7.6-7.6zM672.7 685.5l7.6 7.6-7.6 7.6-7.6-7.6zM672.9 676.8l7.6 7.6-7.6 7.6-7.6-7.6zM673.2 686.8l7.6 7.6-7.6 7.6-7.6-7.6zM673.4 687.4l7.6 7.6-7.6 7.6-7.6-7.6zM673.7 688.8l7.6 7.6-7.6 7.6-7.6-7.6zM674 689l7.6 7.6-7.6 7.6-7.6-7.6zM674.2 679.3l7.6 7.6-7.6 7.6-7.6-7.6zM674.5 668.5l7.6 7.6-7.6 7.6-7.6-7.6zM674.7 687.1l7.6 7.6-7.6 7.6-7.6-7.6zM675 677l7.6 7.6-7.6 7.6-7.6-7.6zM675.2 680.8l7.6 7.6-7.6 7.6-7.6-7.6zM675.5 687.8l7.6 7.6-7.6 7.6-7.6-7.6zM675.7 683.6l7.6 7.6-7.6 7.6-7.6-7.6zM676 683.5l7.6 7.6-7.6 7.6-7.6-7.6zM676.2 685.9l7.6 7.6-7.6 7.6-7.6-7.6zM676.5 672.4l7.6 7.6-7.6 7.6-7.6-7.6zM676.7 692.4l7.6 7.6-7.6 7.6-7.6-7.6zM677 680.6l7.6 7.6-7.6 7.6-7.6-7.6zM677.2 680.9l7.6 7.6-7.6 7.6-7.6-7.6zM677.5 685.7l7.6 7.6-7.6 7.6-7.6-7.6zM677.7 682l7.6 7.6-7.6 7.6-7.6-7.6zM678 678.4l7.6 7.6-7.6 7.6-7.6-7.6zM678.2 682.2l7.6 7.6-7.6 7.6-7.6-7.6zM678.5 680.9l7.6 7.6-7.6 7.6-7.6-7.6zM678.7 679.5l7.6 7.6-7.6 7.6-7.6-7.6zM679 693.7l7.6 7.6-7.6 7.6-7.6-7.6zM679.2 675.6l7.6 7.6-7.6 7.6-7.6-7.6zM679.5 671.6l7.6 7.6-7.6 7.6-7.6-7.6zM679.7 678.4l7.6 7.6-7.6 7.6-7.6-7.6zM680 678.3l7.6 7.6-7.6 7.6-7.6-7.6zM680.3 690.8l7.6 7.6-7.6 7.6-7.6-7.6zM680.5 684.3l7.6 7.6-7.6 7.6-7.6-7.6zM680.8 687.9l7.6 7.6-7.6 7.6-7.6-7.6zM681 686.8l7.6 7.6-7.6 7.6-7.6-7.6zM681.3 678.9l7.6 7.6-7.6 7.6-7.6-7.6zM681.5 688.1l7.6 7.6-7.6 7.6-7.6-7.6zM681.8 684.7l7.6 7.6-7.6 7.6-7.6-7.6zM682 693.9l7.6 7.6-7.6 7.6-7.6-7.6zM682.3 685l7.6 7.6-7.6 7.6-7.6-7.6zM682.5 683.8l7.6 7.6-7.6 7.6-7.6-7.6zM682.8 687.9l7.6 7.6-7.6 7.6-7.6-7.6zM683 688.1l7.6 7.6-7.6 7.6-7.6-7.6zM683.3 674.8l7.6 7.6-7.6 7.6-7.6-7.6zM683.5 690.7l7.6 7.6-7.6 7.6-7.6-7.6zM683.8 690l7.6 7.6-7.6 7.6-7.6-7.6zM684 688.8l7.6 7.6-7.6 7.6-7.6-7.6zM684.3 678.6l7.6 7.6-7.6 7.6-7.6-7.6zM684.5 674.1l7.6 7.6-7.6 7.6-7.6-7.6zM684.8 683.2l7.6 7.6-7.6 7.6-7.6-7.6zM685 688.6l7.6 7.6-7.6 7.6-7.6-7.6zM685.3 687.2l7.6 7.6-7.6 7.6-7.6-7.6zM685.5 679.7l7.6 7.6-7.6 7.6-7.6-7.6zM685.8 689.8l7.6 7.6-7.6 7.6-7.6-7.6zM686 677.8l7.6 7.6-7.6 7.6-7.6-7.6zM686.3 678.1l7.6 7.6-7.6 7.6-7.6-7.6zM686.6 685l7.6 7.6-7.6 7.6-7.6-7.6zM686.8 682.2l7.6 7.6-7.6 7.6-7.6-7.6zM687.1 681.7l7.6 7.6-7.6 7.6-7.6-7.6zM687.3 677.7l7.6 7.6-7.6 7.6-7.6-7.6zM687.6 691l7.6 7.6-7.6 7.6-7.6-7.6zM687.8 679.7l7.6 7.6-7.6 7.6-7.6-7.6zM688.1 687.7l7.6 7.6-7.6 7.6-7.6-7.6zM688.3 689.8l7.6 7.6-7.6 7.6-7.6-7.6zM688.6 685.4l7.6 7.6-7.6 7.6-7.6-7.6zM688.8 687.1l7.6 7.6-7.6 7.6-7.6-7.6zM689.1 691.1l7.6 7.6-7.6 7.6-7.6-7.6zM689.3 694.3l7.6 7.6-7.6 7.6-7.6-7.6zM689.6 691l7.6 7.6-7.6 7.6-7.6-7.6zM689.8 678.9l7.6 7.6-7.6 7.6-7.6-7.6zM690.1 676.3l7.6 7.6-7.6 7.6-7.6-7.6zM690.3 683.1l7.6 7.6-7.6 7.6-7.6-7.6zM690.6 680.4l7.6 7.6-7.6 7.6-7.6-7.6zM690.8 689.1l7.6 7.6-7.6 7.6-7.6-7.6zM691.1 687l7.6 7.6-7.6 7.6-7.6-7.6zM691.3 685.2l7.6 7.6-7.6 7.6-7.6-7.6zM691.6 692.2l7.6 7.6-7.6 7.6-7.6-7.6zM691.8 691.8l7.6 7.6-7.6 7.6-7.6-7.6zM692.1 686.3l7.6 7.6-7.6 7.6-7.6-7.6zM692.3 688.5l7.6 7.6-7.6 7.6-7.6-7.6zM692.6 692.3l7.6 7.6-7.6 7.6-7.6-7.6zM692.9 685l7.6 7.6-7.6 7.6-7.6-7.6zM693.1 688.4l7.6 7.6-7.6 7.6-7.6-7.6zM693.4 682l7.6 7.6-7.6 7.6-7.6-7.6zM693.6 687.2l7.6 7.6-7.6 7.6-7.6-7.6zM693.9 688.8l7.6 7.6-7.6 7.6-7.6-7.6zM694.1 686.7l7.6 7.6-7.6 7.6-7.6-7.6zM694.4 688.2l7.6 7.6-7.6 7.6-7.6-7.6zM694.6 690.8l7.6 7.6-7.6 7.6-7.6-7.6zM694.9 689.5l7.6 7.6-7.6 7.6-7.6-7.6zM695.1 683.7l7.6 7.6-7.6 7.6-7.6-7.6zM695.4 684.3l7.6 7.6-7.6 7.6-7.6-7.6zM695.6 681.1l7.6 7.6-7.6 7.6-7.6-7.6zM695.9 696.2l7.6 7.6-7.6 7.6-7.6-7.6zM696.1 689.7l7.6 7.6-7.6 7.6-7.6-7.6zM696.4 689.9l7.6 7.6-7.6 7.6-7.6-7.6zM696.6 687l7.6 7.6-7.6 7.6-7.6-7.6zM696.9 690.2l7.6 7.6-7.6 7.6-7.6-7.6zM697.1 690.5l7.6 7.6-7.6 7.6-7.6-7.6zM697.4 684.1l7.6 7.6-7.6 7.6-7.6-7.6zM697.6 687.2l7.6 7.6-7.6 7.6-7.6-7.6zM697.9 694l7.6 7.6-7.6 7.6-7.6-7.6zM698.1 681.4l7.6 7.6-7.6 7.6-7.6-7.6zM698.4 683.2l7.6 7.6-7.6 7.6-7.6-7.6zM698.6 691.2l7.6 7.6-7.6 7.6-7.6-7.6zM698.9 684.1l7.6 7.6-7.6 7.6-7.6-7.6zM699.2 692.1l7.6 7.6-7.6 7.6-7.6-7.6zM699.4 682.7l7.6 7.6-7.6 7.6-7.6-7.6zM699.7 689.5l7.6 7.6-7.6 7.6-7.6-7.6zM699.9 692.5l7.6 7.6-7.6 7.6-7.6-7.6zM700.2 690.4l7.6 7.6-7.6 7.6-7.6-7.6zM700.4 692.4l7.6 7.6-7.6 7.6-7.6-7.6zM700.7 687.7l7.6 7.6-7.6 7.6-7.6-7.6zM700.9 687.8l7.6 7.6-7.6 7.6-7.6-7.6zM701.2 688.5l7.6 7.6-7.6 7.6-7.6-7.6zM701.4 691.6l7.6 7.6-7.6 7.6-7.6-7.6zM701.7 707.2l7.6 7.6-7.6 7.6-7.6-7.6zM701.9 688.4l7.6 7.6-7.6 7.6-7.6-7.6zM702.2 698.4l7.6 7.6-7.6 7.6-7.6-7.6zM702.4 687.7l7.6 7.6-7.6 7.6-7.6-7.6zM702.7 683.3l7.6 7.6-7.6 7.6-7.6-7.6zM702.9 687.6l7.6 7.6-7.6 7.6-7.6-7.6zM703.2 691l7.6 7.6-7.6 7.6-7.6-7.6zM703.4 690l7.6 7.6-7.6 7.6-7.6-7.6zM703.7 689.8l7.6 7.6-7.6 7.6-7.6-7.6zM703.9 691.9l7.6 7.6-7.6 7.6-7.6-7.6zM704.2 692.1l7.6 7.6-7.6 7.6-7.6-7.6zM704.4 693.9l7.6 7.6-7.6 7.6-7.6-7.6zM704.7 683.3l7.6 7.6-7.6 7.6-7.6-7.6zM704.9 689.4l7.6 7.6-7.6 7.6-7.6-7.6zM705.2 684.6l7.6 7.6-7.6 7.6-7.6-7.6zM705.5 690.7l7.6 7.6-7.6 7.6-7.6-7.6zM705.7 689.1l7.6 7.6-7.6 7.6-7.6-7.6zM706 690.3l7.6 7.6-7.6 7.6-7.6-7.6zM706.2 687.2l7.6 7.6-7.6 7.6-7.6-7.6zM706.5 685.4l7.6 7.6-7.6 7.6-7.6-7.6zM706.7 688.4l7.6 7.6-7.6 7.6-7.6-7.6zM707 693l7.6 7.6-7.6 7.6-7.6-7.6zM707.2 693.6l7.6 7.6-7.6 7.6-7.6-7.6zM707.5 681.4l7.6 7.6-7.6 7.6-7.6-7.6zM707.7 691.1l7.6 7.6-7.6 7.6-7.6-7.6zM708 691.2l7.6 7.6-7.6 7.6-7.6-7.6zM708.2 682.4l7.6 7.6-7.6 7.6-7.6-7.6zM708.5 684.4l7.6 7.6-7.6 7.6-7.6-7.6zM708.7 687.2l7.6 7.6-7.6 7.6-7.6-7.6zM709 691.9l7.6 7.6-7.6 7.6-7.6-7.6zM709.2 678.1l7.6 7.6-7.6 7.6-7.6-7.6zM709.5 688l7.6 7.6-7.6 7.6-7.6-7.6zM709.7 687.2l7.6 7.6-7.6 7.6-7.6-7.6zM710 690.8l7.6 7.6-7.6 7.6-7.6-7.6zM710.2 697.1l7.6 7.6-7.6 7.6-7.6-7.6zM710.5 696.7l7.6 7.6-7.6 7.6-7.6-7.6zM710.7 688l7.6 7.6-7.6 7.6-7.6-7.6zM711 688.1l7.6 7.6-7.6 7.6-7.6-7.6zM711.2 691.3l7.6 7.6-7.6 7.6-7.6-7.6zM711.5 696l7.6 7.6-7.6 7.6-7.6-7.6zM711.8 697.4l7.6 7.6-7.6 7.6-7.6-7.6zM712 691.8l7.6 7.6-7.6 7.6-7.6-7.6zM712.3 697.5l7.6 7.6-7.6 7.6-7.6-7.6zM712.5 685.8l7.6 7.6-7.6 7.6-7.6-7.6zM712.8 684.5l7.6 7.6-7.6 7.6-7.6-7.6zM713 676.2l7.6 7.6-7.6 7.6-7.6-7.6zM713.3 685.9l7.6 7.6-7.6 7.6-7.6-7.6zM713.5 693.3l7.6 7.6-7.6 7.6-7.6-7.6zM713.8 694.7l7.6 7.6-7.6 7.6-7.6-7.6zM714 707.6l7.6 7.6-7.6 7.6-7.6-7.6zM714.3 693.4l7.6 7.6-7.6 7.6-7.6-7.6zM714.5 691.3l7.6 7.6-7.6 7.6-7.6-7.6zM714.8 685.6l7.6 7.6-7.6 7.6-7.6-7.6zM715 687.4l7.6 7.6-7.6 7.6-7.6-7.6zM715.3 687.6l7.6 7.6-7.6 7.6-7.6-7.6zM715.5 689.5l7.6 7.6-7.6 7.6-7.6-7.6zM715.8 687.3l7.6 7.6-7.6 7.6-7.6-7.6zM716 683.4l7.6 7.6-7.6 7.6-7.6-7.6zM716.3 695.9l7.6 7.6-7.6 7.6-7.6-7.6zM716.5 692.9l7.6 7.6-7.6 7.6-7.6-7.6zM716.8 697.6l7.6 7.6-7.6 7.6-7.6-7.6zM717 682.6l7.6 7.6-7.6 7.6-7.6-7.6zM717.3 684.2l7.6 7.6-7.6 7.6-7.6-7.6zM717.5 687l7.6 7.6-7.6 7.6-7.6-7.6zM717.8 696.7l7.6 7.6-7.6 7.6-7.6-7.6zM718.1 689.9l7.6 7.6-7.6 7.6-7.6-7.6zM718.3 691.9l7.6 7.6-7.6 7.6-7.6-7.6zM718.6 690.4l7.6 7.6-7.6 7.6-7.6-7.6zM718.8 691.8l7.6 7.6-7.6 7.6-7.6-7.6zM719.1 688.2l7.6 7.6-7.6 7.6-7.6-7.6zM719.3 692.8l7.6 7.6-7.6 7.6-7.6-7.6zM719.6 686.6l7.6 7.6-7.6 7.6-7.6-7.6zM719.8 689.7l7.6 7.6-7.6 7.6-7.6-7.6zM720.1 692.4l7.6 7.6-7.6 7.6-7.6-7.6zM720.3 691.5l7.6 7.6-7.6 7.6-7.6-7.6zM720.6 693.2l7.6 7.6-7.6 7.6-7.6-7.6zM720.8 686.9l7.6 7.6-7.6 7.6-7.6-7.6zM721.1 692.4l7.6 7.6-7.6 7.6-7.6-7.6zM721.3 689.6l7.6 7.6-7.6 7.6-7.6-7.6zM721.6 693l7.6 7.6-7.6 7.6-7.6-7.6zM721.8 698.5l7.6 7.6-7.6 7.6-7.6-7.6zM722.1 686.6l7.6 7.6-7.6 7.6-7.6-7.6zM722.3 696.4l7.6 7.6-7.6 7.6-7.6-7.6zM722.6 687.7l7.6 7.6-7.6 7.6-7.6-7.6zM722.8 689l7.6 7.6-7.6 7.6-7.6-7.6zM723.1 699.4l7.6 7.6-7.6 7.6-7.6-7.6zM723.3 695.9l7.6 7.6-7.6 7.6-7.6-7.6zM723.6 693.8l7.6 7.6-7.6 7.6-7.6-7.6zM723.8 695.3l7.6 7.6-7.6 7.6-7.6-7.6zM724.1 697.1l7.6 7.6-7.6 7.6-7.6-7.6zM724.4 687.6l7.6 7.6-7.6 7.6-7.6-7.6zM724.6 692.5l7.6 7.6-7.6 7.6-7.6-7.6zM724.9 689.4l7.6 7.6-7.6 7.6-7.6-7.6zM725.1 693.5l7.6 7.6-7.6 7.6-7.6-7.6zM725.4 689.8l7.6 7.6-7.6 7.6-7.6-7.6zM725.6 695.1l7.6 7.6-7.6 7.6-7.6-7.6zM725.9 691.5l7.6 7.6-7.6 7.6-7.6-7.6zM726.1 688.5l7.6 7.6-7.6 7.6-7.6-7.6zM726.4 691.2l7.6 7.6-7.6 7.6-7.6-7.6zM726.6 693.7l7.6 7.6-7.6 7.6-7.6-7.6zM726.9 696.9l7.6 7.6-7.6 7.6-7.6-7.6zM727.1 690.6l7.6 7.6-7.6 7.6-7.6-7.6zM727.4 689.8l7.6 7.6-7.6 7.6-7.6-7.6zM727.6 692.8l7.6 7.6-7.6 7.6-7.6-7.6zM727.9 695.4l7.6 7.6-7.6 7.6-7.6-7.6zM728.1 688.9l7.6 7.6-7.6 7.6-7.6-7.6zM728.4 679.3l7.6 7.6-7.6 7.6-7.6-7.6zM728.6 693.1l7.6 7.6-7.6 7.6-7.6-7.6zM728.9 690l7.6 7.6-7.6 7.6-7.6-7.6zM729.1 689.8l7.6 7.6-7.6 7.6-7.6-7.6zM729.4 704.4l7.6 7.6-7.6 7.6-7.6-7.6zM729.6 691.1l7.6 7.6-7.6 7.6-7.6-7.6zM729.9 695.2l7.6 7.6-7.6 7.6-7.6-7.6zM730.1 684.9l7.6 7.6-7.6 7.6-7.6-7.6zM730.4 693l7.6 7.6-7.6 7.6-7.6-7.6zM730.7 695.7l7.6 7.6-7.6 7.6-7.6-7.6zM730.9 692.9l7.6 7.6-7.6 7.6-7.6-7.6zM731.2 691l7.6 7.6-7.6 7.6-7.6-7.6zM731.4 694.6l7.6 7.6-7.6 7.6-7.6-7.6zM731.7 692.2l7.6 7.6-7.6 7.6-7.6-7.6zM731.9 698.6l7.6 7.6-7.6 7.6-7.6-7.6zM732.2 693.1l7.6 7.6-7.6 7.6-7.6-7.6zM732.4 688.1l7.6 7.6-7.6 7.6-7.6-7.6zM732.7 682.2l7.6 7.6-7.6 7.6-7.6-7.6zM732.9 688.5l7.6 7.6-7.6 7.6-7.6-7.6zM733.2 690.7l7.6 7.6-7.6 7.6-7.6-7.6zM733.4 686.2l7.6 7.6-7.6 7.6-7.6-7.6zM733.7 687.1l7.6 7.6-7.6 7.6-7.6-7.6zM733.9 683.9l7.6 7.6-7.6 7.6-7.6-7.6zM734.2 686.8l7.6 7.6-7.6 7.6-7.6-7.6zM734.4 692.8l7.6 7.6-7.6 7.6-7.6-7.6zM734.7 690.9l7.6 7.6-7.6 7.6-7.6-7.6zM734.9 691.4l7.6 7.6-7.6 7.6-7.6-7.6zM735.2 690.8l7.6 7.6-7.6 7.6-7.6-7.6zM735.4 691.3l7.6 7.6-7.6 7.6-7.6-7.6zM735.7 696.2l7.6 7.6-7.6 7.6-7.6-7.6zM735.9 702.8l7.6 7.6-7.6 7.6-7.6-7.6zM736.2 695.7l7.6 7.6-7.6 7.6-7.6-7.6zM736.4 702.5l7.6 7.6-7.6 7.6-7.6-7.6zM736.7 692.1l7.6 7.6-7.6 7.6-7.6-7.6zM737 692.5l7.6 7.6-7.6 7.6-7.6-7.6zM737.2 700.8l7.6 7.6-7.6 7.6-7.6-7.6zM737.5 689.2l7.6 7.6-7.6 7.6-7.6-7.6zM737.7 688.3l7.6 7.6-7.6 7.6-7.6-7.6zM738 692.2l7.6 7.6-7.6 7.6-7.6-7.6zM738.2 684.4l7.6 7.6-7.6 7.6-7.6-7.6zM738.5 683.5l7.6 7.6-7.6 7.6-7.6-7.6zM738.7 698.7l7.6 7.6-7.6 7.6-7.6-7.6zM739 687.7l7.6 7.6-7.6 7.6-7.6-7.6zM739.2 690.7l7.6 7.6-7.6 7.6-7.6-7.6zM739.5 690.8l7.6 7.6-7.6 7.6-7.6-7.6zM739.7 688.3l7.6 7.6-7.6 7.6-7.6-7.6zM740 696.5l7.6 7.6-7.6 7.6-7.6-7.6zM740.2 695.9l7.6 7.6-7.6 7.6-7.6-7.6zM740.5 697.1l7.6 7.6-7.6 7.6-7.6-7.6zM740.7 696.8l7.6 7.6-7.6 7.6-7.6-7.6zM741 693.6l7.6 7.6-7.6 7.6-7.6-7.6zM741.2 700.3l7.6 7.6-7.6 7.6-7.6-7.6zM741.5 698.4l7.6 7.6-7.6 7.6-7.6-7.6zM741.7 690.4l7.6 7.6-7.6 7.6-7.6-7.6zM742 693.6l7.6 7.6-7.6 7.6-7.6-7.6zM742.2 691.4l7.6 7.6-7.6 7.6-7.6-7.6zM742.5 702.7l7.6 7.6-7.6 7.6-7.6-7.6zM742.7 697.3l7.6 7.6-7.6 7.6-7.6-7.6zM743 696.2l7.6 7.6-7.6 7.6-7.6-7.6zM743.3 693.3l7.6 7.6-7.6 7.6-7.6-7.6zM743.5 696.4l7.6 7.6-7.6 7.6-7.6-7.6zM743.8 689l7.6 7.6-7.6 7.6-7.6-7.6zM744 693.9l7.6 7.6-7.6 7.6-7.6-7.6zM744.3 693.6l7.6 7.6-7.6 7.6-7.6-7.6zM744.5 693.7l7.6 7.6-7.6 7.6-7.6-7.6zM744.8 690.3l7.6 7.6-7.6 7.6-7.6-7.6zM745 696.2l7.6 7.6-7.6 7.6-7.6-7.6zM745.3 688.4l7.6 7.6-7.6 7.6-7.6-7.6zM745.5 691.7l7.6 7.6-7.6 7.6-7.6-7.6zM745.8 693.2l7.6 7.6-7.6 7.6-7.6-7.6zM746 693.9l7.6 7.6-7.6 7.6-7.6-7.6zM746.3 691.6l7.6 7.6-7.6 7.6-7.6-7.6zM746.5 689.2l7.6 7.6-7.6 7.6-7.6-7.6zM746.8 689.6l7.6 7.6-7.6 7.6-7.6-7.6zM747 692.4l7.6 7.6-7.6 7.6-7.6-7.6zM747.3 690l7.6 7.6-7.6 7.6-7.6-7.6zM747.5 693.8l7.6 7.6-7.6 7.6-7.6-7.6zM747.8 688.3l7.6 7.6-7.6 7.6-7.6-7.6zM748 694.6l7.6 7.6-7.6 7.6-7.6-7.6zM748.3 704.7l7.6 7.6-7.6 7.6-7.6-7.6zM748.5 688.1l7.6 7.6-7.6 7.6-7.6-7.6zM748.8 694.1l7.6 7.6-7.6 7.6-7.6-7.6zM749 700.5l7.6 7.6-7.6 7.6-7.6-7.6zM749.3 695.8l7.6 7.6-7.6 7.6-7.6-7.6zM749.6 699.2l7.6 7.6-7.6 7.6-7.6-7.6zM749.8 684.6l7.6 7.6-7.6 7.6-7.6-7.6zM750.1 692.5l7.6 7.6-7.6 7.6-7.6-7.6zM750.3 702.7l7.6 7.6-7.6 7.6-7.6-7.6zM750.6 692.4l7.6 7.6-7.6 7.6-7.6-7.6zM750.8 697.1l7.6 7.6-7.6 7.6-7.6-7.6zM751.1 685.9l7.6 7.6-7.6 7.6-7.6-7.6zM751.3 700.4l7.6 7.6-7.6 7.6-7.6-7.6zM751.6 706.3l7.6 7.6-7.6 7.6-7.6-7.6zM751.8 695.1l7.6 7.6-7.6 7.6-7.6-7.6zM752.1 697.2l7.6 7.6-7.6 7.6-7.6-7.6zM752.3 697.6l7.6 7.6-7.6 7.6-7.6-7.6zM752.6 706.1l7.6 7.6-7.6 7.6-7.6-7.6zM752.8 693.6l7.6 7.6-7.6 7.6-7.6-7.6zM753.1 687.6l7.6 7.6-7.6 7.6-7.6-7.6zM753.3 705.1l7.6 7.6-7.6 7.6-7.6-7.6zM753.6 690.2l7.6 7.6-7.6 7.6-7.6-7.6zM753.8 698.7l7.6 7.6-7.6 7.6-7.6-7.6zM754.1 684.6l7.6 7.6-7.6 7.6-7.6-7.6zM754.3 694l7.6 7.6-7.6 7.6-7.6-7.6zM754.6 697.1l7.6 7.6-7.6 7.6-7.6-7.6zM754.8 690.9l7.6 7.6-7.6 7.6-7.6-7.6zM755.1 693.8l7.6 7.6-7.6 7.6-7.6-7.6zM755.3 699.3l7.6 7.6-7.6 7.6-7.6-7.6zM755.6 693l7.6 7.6-7.6 7.6-7.6-7.6zM755.9 699l7.6 7.6-7.6 7.6-7.6-7.6zM756.1 705.3l7.6 7.6-7.6 7.6-7.6-7.6zM756.4 686.8l7.6 7.6-7.6 7.6-7.6-7.6zM756.6 698.5l7.6 7.6-7.6 7.6-7.6-7.6zM756.9 699.8l7.6 7.6-7.6 7.6-7.6-7.6zM757.1 695.3l7.6 7.6-7.6 7.6-7.6-7.6zM757.4 704.5l7.6 7.6-7.6 7.6-7.6-7.6zM757.6 703.6l7.6 7.6-7.6 7.6-7.6-7.6zM757.9 699.6l7.6 7.6-7.6 7.6-7.6-7.6zM758.1 699.7l7.6 7.6-7.6 7.6-7.6-7.6zM758.4 696.9l7.6 7.6-7.6 7.6-7.6-7.6zM758.6 691.9l7.6 7.6-7.6 7.6-7.6-7.6zM758.9 699.7l7.6 7.6-7.6 7.6-7.6-7.6zM759.1 695.1l7.6 7.6-7.6 7.6-7.6-7.6zM759.4 694.7l7.6 7.6-7.6 7.6-7.6-7.6zM759.6 702.9l7.6 7.6-7.6 7.6-7.6-7.6zM759.9 696.7l7.6 7.6-7.6 7.6-7.6-7.6zM760.1 702.4l7.6 7.6-7.6 7.6-7.6-7.6zM760.4 692.8l7.6 7.6-7.6 7.6-7.6-7.6zM760.6 695.8l7.6 7.6-7.6 7.6-7.6-7.6zM760.9 698l7.6 7.6-7.6 7.6-7.6-7.6zM761.1 704.6l7.6 7.6-7.6 7.6-7.6-7.6zM761.4 697.7l7.6 7.6-7.6 7.6-7.6-7.6zM761.6 702l7.6 7.6-7.6 7.6-7.6-7.6zM761.9 695l7.6 7.6-7.6 7.6-7.6-7.6zM762.2 699.1l7.6 7.6-7.6 7.6-7.6-7.6zM762.4 702.5l7.6 7.6-7.6 7.6-7.6-7.6zM762.7 694.2l7.6 7.6-7.6 7.6-7.6-7.6zM762.9 695.3l7.6 7.6-7.6 7.6-7.6-7.6zM763.2 701.7l7.6 7.6-7.6 7.6-7.6-7.6zM763.4 693.3l7.6 7.6-7.6 7.6-7.6-7.6zM763.7 700.4l7.6 7.6-7.6 7.6-7.6-7.6zM763.9 700.5l7.6 7.6-7.6 7.6-7.6-7.6zM764.2 698.5l7.6 7.6-7.6 7.6-7.6-7.6zM764.4 702.8l7.6 7.6-7.6 7.6-7.6-7.6zM764.7 701.4l7.6 7.6-7.6 7.6-7.6-7.6zM764.9 700.2l7.6 7.6-7.6 7.6-7.6-7.6zM765.2 692.1l7.6 7.6-7.6 7.6-7.6-7.6zM765.4 692.4l7.6 7.6-7.6 7.6-7.6-7.6zM765.7 700.9l7.6 7.6-7.6 7.6-7.6-7.6zM765.9 692l7.6 7.6-7.6 7.6-7.6-7.6zM766.2 700l7.6 7.6-7.6 7.6-7.6-7.6zM766.4 698.1l7.6 7.6-7.6 7.6-7.6-7.6zM766.7 695.8l7.6 7.6-7.6 7.6-7.6-7.6zM766.9 698.7l7.6 7.6-7.6 7.6-7.6-7.6zM767.2 688.6l7.6 7.6-7.6 7.6-7.6-7.6zM767.4 699.1l7.6 7.6-7.6 7.6-7.6-7.6zM767.7 706l7.6 7.6-7.6 7.6-7.6-7.6zM767.9 694.2l7.6 7.6-7.6 7.6-7.6-7.6zM768.2 702.4l7.6 7.6-7.6 7.6-7.6-7.6zM768.5 702l7.6 7.6-7.6 7.6-7.6-7.6zM768.7 714.9l7.6 7.6-7.6 7.6-7.6-7.6zM769 696l7.6 7.6-7.6 7.6-7.6-7.6zM769.2 696.9l7.6 7.6-7.6 7.6-7.6-7.6zM769.5 697.1l7.6 7.6-7.6 7.6-7.6-7.6zM769.7 696.3l7.6 7.6-7.6 7.6-7.6-7.6zM770 693l7.6 7.6-7.6 7.6-7.6-7.6zM770.2 701.4l7.6 7.6-7.6 7.6-7.6-7.6zM770.5 696.8l7.6 7.6-7.6 7.6-7.6-7.6zM770.7 704.8l7.6 7.6-7.6 7.6-7.6-7.6zM771 703.1l7.6 7.6-7.6 7.6-7.6-7.6zM771.2 696.5l7.6 7.6-7.6 7.6-7.6-7.6zM771.5 699.7l7.6 7.6-7.6 7.6-7.6-7.6zM771.7 707.9l7.6 7.6-7.6 7.6-7.6-7.6zM772 700l7.6 7.6-7.6 7.6-7.6-7.6zM772.2 702.7l7.6 7.6-7.6 7.6-7.6-7.6zM772.5 705.8l7.6 7.6-7.6 7.6-7.6-7.6zM772.7 699.9l7.6 7.6-7.6 7.6-7.6-7.6zM773 704l7.6 7.6-7.6 7.6-7.6-7.6zM773.2 709.5l7.6 7.6-7.6 7.6-7.6-7.6zM773.5 707.5l7.6 7.6-7.6 7.6-7.6-7.6zM773.7 693.9l7.6 7.6-7.6 7.6-7.6-7.6zM774 709.5l7.6 7.6-7.6 7.6-7.6-7.6zM774.2 701.4l7.6 7.6-7.6 7.6-7.6-7.6zM774.5 699.7l7.6 7.6-7.6 7.6-7.6-7.6zM774.8 699.6l7.6 7.6-7.6 7.6-7.6-7.6zM775 708.5l7.6 7.6-7.6 7.6-7.6-7.6zM775.3 704.3l7.6 7.6-7.6 7.6-7.6-7.6zM775.5 702.2l7.6 7.6-7.6 7.6-7.6-7.6zM775.8 699.2l7.6 7.6-7.6 7.6-7.6-7.6zM776 706l7.6 7.6-7.6 7.6-7.6-7.6zM776.3 708.5l7.6 7.6-7.6 7.6-7.6-7.6zM776.5 698.5l7.6 7.6-7.6 7.6-7.6-7.6zM776.8 698.1l7.6 7.6-7.6 7.6-7.6-7.6zM777 701.6l7.6 7.6-7.6 7.6-7.6-7.6zM777.3 706.2l7.6 7.6-7.6 7.6-7.6-7.6zM777.5 701.6l7.6 7.6-7.6 7.6-7.6-7.6zM777.8 703l7.6 7.6-7.6 7.6-7.6-7.6zM778 699.7l7.6 7.6-7.6 7.6-7.6-7.6zM778.3 709.5l7.6 7.6-7.6 7.6-7.6-7.6zM778.5 703.2l7.6 7.6-7.6 7.6-7.6-7.6zM778.8 704.6l7.6 7.6-7.6 7.6-7.6-7.6zM779 709.1l7.6 7.6-7.6 7.6-7.6-7.6zM779.3 703l7.6 7.6-7.6 7.6-7.6-7.6zM779.5 703.9l7.6 7.6-7.6 7.6-7.6-7.6zM779.8 706.1l7.6 7.6-7.6 7.6-7.6-7.6zM780 702.4l7.6 7.6-7.6 7.6-7.6-7.6zM780.3 710.9l7.6 7.6-7.6 7.6-7.6-7.6zM780.5 704.6l7.6 7.6-7.6 7.6-7.6-7.6zM780.8 702.4l7.6 7.6-7.6 7.6-7.6-7.6zM781.1 703.2l7.6 7.6-7.6 7.6-7.6-7.6zM781.3 699.6l7.6 7.6-7.6 7.6-7.6-7.6zM781.6 710.2l7.6 7.6-7.6 7.6-7.6-7.6zM781.8 711.7l7.6 7.6-7.6 7.6-7.6-7.6zM782.1 703.7l7.6 7.6-7.6 7.6-7.6-7.6zM782.3 702.7l7.6 7.6-7.6 7.6-7.6-7.6zM782.6 695.1l7.6 7.6-7.6 7.6-7.6-7.6zM782.8 702.1l7.6 7.6-7.6 7.6-7.6-7.6zM783.1 709.1l7.6 7.6-7.6 7.6-7.6-7.6zM783.3 701.4l7.6 7.6-7.6 7.6-7.6-7.6zM783.6 709.1l7.6 7.6-7.6 7.6-7.6-7.6zM783.8 712.1l7.6 7.6-7.6 7.6-7.6-7.6zM784.1 693.2l7.6 7.6-7.6 7.6-7.6-7.6zM784.3 703.9l7.6 7.6-7.6 7.6-7.6-7.6zM784.6 702.1l7.6 7.6-7.6 7.6-7.6-7.6zM784.8 702.9l7.6 7.6-7.6 7.6-7.6-7.6zM785.1 697.2l7.6 7.6-7.6 7.6-7.6-7.6zM785.3 704.3l7.6 7.6-7.6 7.6-7.6-7.6zM785.6 700l7.6 7.6-7.6 7.6-7.6-7.6zM785.8 710.5l7.6 7.6-7.6 7.6-7.6-7.6zM786.1 712.2l7.6 7.6-7.6 7.6-7.6-7.6zM786.3 699.3l7.6 7.6-7.6 7.6-7.6-7.6zM786.6 699.1l7.6 7.6-7.6 7.6-7.6-7.6zM786.8 703.6l7.6 7.6-7.6 7.6-7.6-7.6zM787.1 705l7.6 7.6-7.6 7.6-7.6-7.6zM787.4 705.3l7.6 7.6-7.6 7.6-7.6-7.6zM787.6 709.3l7.6 7.6-7.6 7.6-7.6-7.6zM787.9 699.1l7.6 7.6-7.6 7.6-7.6-7.6zM788.1 703.2l7.6 7.6-7.6 7.6-7.6-7.6zM788.4 704l7.6 7.6-7.6 7.6-7.6-7.6zM788.6 704.6l7.6 7.6-7.6 7.6-7.6-7.6zM788.9 701.6l7.6 7.6-7.6 7.6-7.6-7.6zM789.1 704.1l7.6 7.6-7.6 7.6-7.6-7.6zM789.4 703.1l7.6 7.6-7.6 7.6-7.6-7.6zM789.6 711.9l7.6 7.6-7.6 7.6-7.6-7.6zM789.9 704.3l7.6 7.6-7.6 7.6-7.6-7.6zM790.1 696.6l7.6 7.6-7.6 7.6-7.6-7.6zM790.4 709.1l7.6 7.6-7.6 7.6-7.6-7.6zM790.6 707.3l7.6 7.6-7.6 7.6-7.6-7.6zM790.9 702.7l7.6 7.6-7.6 7.6-7.6-7.6zM791.1 702.4l7.6 7.6-7.6 7.6-7.6-7.6zM791.4 704l7.6 7.6-7.6 7.6-7.6-7.6zM791.6 714.4l7.6 7.6-7.6 7.6-7.6-7.6zM791.9 704.7l7.6 7.6-7.6 7.6-7.6-7.6zM792.1 712.5l7.6 7.6-7.6 7.6-7.6-7.6zM792.4 710.9l7.6 7.6-7.6 7.6-7.6-7.6zM792.6 704.6l7.6 7.6-7.6 7.6-7.6-7.6zM792.9 708.5l7.6 7.6-7.6 7.6-7.6-7.6zM793.1 703.5l7.6 7.6-7.6 7.6-7.6-7.6zM793.4 692.8l7.6 7.6-7.6 7.6-7.6-7.6zM793.7 703.7l7.6 7.6-7.6 7.6-7.6-7.6zM793.9 704l7.6 7.6-7.6 7.6-7.6-7.6zM794.2 711.4l7.6 7.6-7.6 7.6-7.6-7.6zM794.4 710.3l7.6 7.6-7.6 7.6-7.6-7.6zM794.7 712.3l7.6 7.6-7.6 7.6-7.6-7.6zM794.9 709.9l7.6 7.6-7.6 7.6-7.6-7.6zM795.2 712.5l7.6 7.6-7.6 7.6-7.6-7.6zM795.4 710.5l7.6 7.6-7.6 7.6-7.6-7.6zM795.7 708.5l7.6 7.6-7.6 7.6-7.6-7.6zM795.9 712.2l7.6 7.6-7.6 7.6-7.6-7.6zM796.2 714.1l7.6 7.6-7.6 7.6-7.6-7.6zM796.4 713.9l7.6 7.6-7.6 7.6-7.6-7.6zM796.7 705.6l7.6 7.6-7.6 7.6-7.6-7.6zM796.9 707.4l7.6 7.6-7.6 7.6-7.6-7.6zM797.2 703l7.6 7.6-7.6 7.6-7.6-7.6zM797.4 703l7.6 7.6-7.6 7.6-7.6-7.6zM797.7 709.3l7.6 7.6-7.6 7.6-7.6-7.6zM797.9 704.7l7.6 7.6-7.6 7.6-7.6-7.6zM798.2 714.4l7.6 7.6-7.6 7.6-7.6-7.6zM798.4 697.4l7.6 7.6-7.6 7.6-7.6-7.6zM798.7 702.4l7.6 7.6-7.6 7.6-7.6-7.6zM798.9 708.9l7.6 7.6-7.6 7.6-7.6-7.6zM799.2 713.2l7.6 7.6-7.6 7.6-7.6-7.6zM799.4 706.2l7.6 7.6-7.6 7.6-7.6-7.6zM799.7 716.5l7.6 7.6-7.6 7.6-7.6-7.6zM800 711.5l7.6 7.6-7.6 7.6-7.6-7.6zM800.2 704.6l7.6 7.6-7.6 7.6-7.6-7.6zM800.5 707.7l7.6 7.6-7.6 7.6-7.6-7.6zM800.7 710.3l7.6 7.6-7.6 7.6-7.6-7.6zM801 703.7l7.6 7.6-7.6 7.6-7.6-7.6zM801.2 712.8l7.6 7.6-7.6 7.6-7.6-7.6zM801.5 706.8l7.6 7.6-7.6 7.6-7.6-7.6zM801.7 710.4l7.6 7.6-7.6 7.6-7.6-7.6zM802 712l7.6 7.6-7.6 7.6-7.6-7.6zM802.2 706l7.6 7.6-7.6 7.6-7.6-7.6zM802.5 712.7l7.6 7.6-7.6 7.6-7.6-7.6zM802.7 699.4l7.6 7.6-7.6 7.6-7.6-7.6zM803 710.8l7.6 7.6-7.6 7.6-7.6-7.6zM803.2 699.1l7.6 7.6-7.6 7.6-7.6-7.6zM803.5 713.2l7.6 7.6-7.6 7.6-7.6-7.6zM803.7 705.4l7.6 7.6-7.6 7.6-7.6-7.6zM804 713.7l7.6 7.6-7.6 7.6-7.6-7.6zM804.2 714.3l7.6 7.6-7.6 7.6-7.6-7.6zM804.5 707.5l7.6 7.6-7.6 7.6-7.6-7.6zM804.7 705.1l7.6 7.6-7.6 7.6-7.6-7.6zM805 714l7.6 7.6-7.6 7.6-7.6-7.6zM805.2 702.8l7.6 7.6-7.6 7.6-7.6-7.6zM805.5 711.8l7.6 7.6-7.6 7.6-7.6-7.6zM805.7 707.6l7.6 7.6-7.6 7.6-7.6-7.6zM806 706.5l7.6 7.6-7.6 7.6-7.6-7.6zM806.3 705.5l7.6 7.6-7.6 7.6-7.6-7.6zM806.5 716.4l7.6 7.6-7.6 7.6-7.6-7.6zM806.8 700.8l7.6 7.6-7.6 7.6-7.6-7.6zM807 705.6l7.6 7.6-7.6 7.6-7.6-7.6zM807.3 710.1l7.6 7.6-7.6 7.6-7.6-7.6zM807.5 712.9l7.6 7.6-7.6 7.6-7.6-7.6zM807.8 715.9l7.6 7.6-7.6 7.6-7.6-7.6zM808 714.4l7.6 7.6-7.6 7.6-7.6-7.6zM808.3 705.7l7.6 7.6-7.6 7.6-7.6-7.6zM808.5 709.7l7.6 7.6-7.6 7.6-7.6-7.6zM808.8 713.3l7.6 7.6-7.6 7.6-7.6-7.6zM809 710.6l7.6 7.6-7.6 7.6-7.6-7.6zM809.3 701l7.6 7.6-7.6 7.6-7.6-7.6zM809.5 709.7l7.6 7.6-7.6 7.6-7.6-7.6zM809.8 710.8l7.6 7.6-7.6 7.6-7.6-7.6zM810 701.9l7.6 7.6-7.6 7.6-7.6-7.6zM810.3 706l7.6 7.6-7.6 7.6-7.6-7.6zM810.5 707.9l7.6 7.6-7.6 7.6-7.6-7.6zM810.8 710.9l7.6 7.6-7.6 7.6-7.6-7.6zM811 715.2l7.6 7.6-7.6 7.6-7.6-7.6zM811.3 713.4l7.6 7.6-7.6 7.6-7.6-7.6zM811.5 710.2l7.6 7.6-7.6 7.6-7.6-7.6zM811.8 709l7.6 7.6-7.6 7.6-7.6-7.6zM812 706.4l7.6 7.6-7.6 7.6-7.6-7.6zM812.3 705.5l7.6 7.6-7.6 7.6-7.6-7.6zM812.6 707l7.6 7.6-7.6 7.6-7.6-7.6zM812.8 707l7.6 7.6-7.6 7.6-7.6-7.6zM813.1 712.6l7.6 7.6-7.6 7.6-7.6-7.6zM813.3 717.8l7.6 7.6-7.6 7.6-7.6-7.6zM813.6 710.3l7.6 7.6-7.6 7.6-7.6-7.6zM813.8 712.3l7.6 7.6-7.6 7.6-7.6-7.6zM814.1 710.9l7.6 7.6-7.6 7.6-7.6-7.6zM814.3 709.1l7.6 7.6-7.6 7.6-7.6-7.6zM814.6 713.5l7.6 7.6-7.6 7.6-7.6-7.6zM814.8 712.9l7.6 7.6-7.6 7.6-7.6-7.6zM815.1 708.2l7.6 7.6-7.6 7.6-7.6-7.6zM815.3 707.2l7.6 7.6-7.6 7.6-7.6-7.6zM815.6 710.7l7.6 7.6-7.6 7.6-7.6-7.6zM815.8 705.4l7.6 7.6-7.6 7.6-7.6-7.6zM816.1 708.7l7.6 7.6-7.6 7.6-7.6-7.6zM816.3 712.3l7.6 7.6-7.6 7.6-7.6-7.6zM816.6 707.5l7.6 7.6-7.6 7.6-7.6-7.6zM816.8 699l7.6 7.6-7.6 7.6-7.6-7.6zM817.1 710.7l7.6 7.6-7.6 7.6-7.6-7.6zM817.3 702.2l7.6 7.6-7.6 7.6-7.6-7.6zM817.6 701.2l7.6 7.6-7.6 7.6-7.6-7.6zM817.8 700.6l7.6 7.6-7.6 7.6-7.6-7.6zM818.1 711.3l7.6 7.6-7.6 7.6-7.6-7.6zM818.3 698.2l7.6 7.6-7.6 7.6-7.6-7.6zM818.6 706.9l7.6 7.6-7.6 7.6-7.6-7.6zM818.9 708.6l7.6 7.6-7.6 7.6-7.6-7.6zM819.1 708.4l7.6 7.6-7.6 7.6-7.6-7.6zM819.4 704.6l7.6 7.6-7.6 7.6-7.6-7.6zM819.6 707.1l7.6 7.6-7.6 7.6-7.6-7.6zM819.9 708.1l7.6 7.6-7.6 7.6-7.6-7.6zM820.1 701.3l7.6 7.6-7.6 7.6-7.6-7.6zM820.4 710.5l7.6 7.6-7.6 7.6-7.6-7.6zM820.6 712l7.6 7.6-7.6 7.6-7.6-7.6zM820.9 703.5l7.6 7.6-7.6 7.6-7.6-7.6zM821.1 703.9l7.6 7.6-7.6 7.6-7.6-7.6zM821.4 702l7.6 7.6-7.6 7.6-7.6-7.6zM821.6 712l7.6 7.6-7.6 7.6-7.6-7.6zM821.9 702l7.6 7.6-7.6 7.6-7.6-7.6zM822.1 704.7l7.6 7.6-7.6 7.6-7.6-7.6zM822.4 698.8l7.6 7.6-7.6 7.6-7.6-7.6zM822.6 712.6l7.6 7.6-7.6 7.6-7.6-7.6zM822.9 705.8l7.6 7.6-7.6 7.6-7.6-7.6zM823.1 708.1l7.6 7.6-7.6 7.6-7.6-7.6zM823.4 714.1l7.6 7.6-7.6 7.6-7.6-7.6zM823.6 710l7.6 7.6-7.6 7.6-7.6-7.6zM823.9 701.5l7.6 7.6-7.6 7.6-7.6-7.6zM824.1 708.8l7.6 7.6-7.6 7.6-7.6-7.6zM824.4 710l7.6 7.6-7.6 7.6-7.6-7.6zM824.6 702.6l7.6 7.6-7.6 7.6-7.6-7.6zM824.9 702l7.6 7.6-7.6 7.6-7.6-7.6zM825.2 702l7.6 7.6-7.6 7.6-7.6-7.6zM825.4 710.1l7.6 7.6-7.6 7.6-7.6-7.6zM825.7 706.7l7.6 7.6-7.6 7.6-7.6-7.6zM825.9 701.6l7.6 7.6-7.6 7.6-7.6-7.6zM826.2 709.4l7.6 7.6-7.6 7.6-7.6-7.6zM826.4 709.8l7.6 7.6-7.6 7.6-7.6-7.6zM826.7 702.4l7.6 7.6-7.6 7.6-7.6-7.6zM826.9 699l7.6 7.6-7.6 7.6-7.6-7.6zM827.2 711.5l7.6 7.6-7.6 7.6-7.6-7.6zM827.4 718.2l7.6 7.6-7.6 7.6-7.6-7.6zM827.7 712.8l7.6 7.6-7.6 7.6-7.6-7.6zM827.9 710.7l7.6 7.6-7.6 7.6-7.6-7.6zM828.2 706.7l7.6 7.6-7.6 7.6-7.6-7.6zM828.4 703.1l7.6 7.6-7.6 7.6-7.6-7.6zM828.7 706.6l7.6 7.6-7.6 7.6-7.6-7.6zM828.9 709.1l7.6 7.6-7.6 7.6-7.6-7.6zM829.2 705.2l7.6 7.6-7.6 7.6-7.6-7.6zM829.4 710.3l7.6 7.6-7.6 7.6-7.6-7.6zM829.7 706l7.6 7.6-7.6 7.6-7.6-7.6zM829.9 708.7l7.6 7.6-7.6 7.6-7.6-7.6zM830.2 693.3l7.6 7.6-7.6 7.6-7.6-7.6zM830.4 701.9l7.6 7.6-7.6 7.6-7.6-7.6zM830.7 709.5l7.6 7.6-7.6 7.6-7.6-7.6zM830.9 710.2l7.6 7.6-7.6 7.6-7.6-7.6zM831.2 707.6l7.6 7.6-7.6 7.6-7.6-7.6zM831.5 713.1l7.6 7.6-7.6 7.6-7.6-7.6zM831.7 708.8l7.6 7.6-7.6 7.6-7.6-7.6zM832 708.8l7.6 7.6-7.6 7.6-7.6-7.6zM832.2 701.2l7.6 7.6-7.6 7.6-7.6-7.6zM832.5 707.3l7.6 7.6-7.6 7.6-7.6-7.6zM832.7 708.9l7.6 7.6-7.6 7.6-7.6-7.6zM833 711.4l7.6 7.6-7.6 7.6-7.6-7.6zM833.2 710.6l7.6 7.6-7.6 7.6-7.6-7.6zM833.5 705.4l7.6 7.6-7.6 7.6-7.6-7.6zM833.7 706.1l7.6 7.6-7.6 7.6-7.6-7.6zM834 699.8l7.6 7.6-7.6 7.6-7.6-7.6zM834.2 707.9l7.6 7.6-7.6 7.6-7.6-7.6zM834.5 700l7.6 7.6-7.6 7.6-7.6-7.6zM834.7 703.7l7.6 7.6-7.6 7.6-7.6-7.6zM835 704.9l7.6 7.6-7.6 7.6-7.6-7.6zM835.2 714.2l7.6 7.6-7.6 7.6-7.6-7.6zM835.5 710.8l7.6 7.6-7.6 7.6-7.6-7.6zM835.7 701.3l7.6 7.6-7.6 7.6-7.6-7.6zM836 698.2l7.6 7.6-7.6 7.6-7.6-7.6zM836.2 703.7l7.6 7.6-7.6 7.6-7.6-7.6zM836.5 701.1l7.6 7.6-7.6 7.6-7.6-7.6zM836.7 706.5l7.6 7.6-7.6 7.6-7.6-7.6zM837 706.3l7.6 7.6-7.6 7.6-7.6-7.6zM837.2 707.6l7.6 7.6-7.6 7.6-7.6-7.6zM837.5 699.9l7.6 7.6-7.6 7.6-7.6-7.6zM837.8 702.8l7.6 7.6-7.6 7.6-7.6-7.6zM838 705.5l7.6 7.6-7.6 7.6-7.6-7.6zM838.3 705.9l7.6 7.6-7.6 7.6-7.6-7.6zM838.5 701.7l7.6 7.6-7.6 7.6-7.6-7.6zM838.8 702.7l7.6 7.6-7.6 7.6-7.6-7.6zM839 708.1l7.6 7.6-7.6 7.6-7.6-7.6zM839.3 696.2l7.6 7.6-7.6 7.6-7.6-7.6zM839.5 702.9l7.6 7.6-7.6 7.6-7.6-7.6zM839.8 704l7.6 7.6-7.6 7.6-7.6-7.6zM840 697.2l7.6 7.6-7.6 7.6-7.6-7.6zM840.3 699.2l7.6 7.6-7.6 7.6-7.6-7.6zM840.5 704.4l7.6 7.6-7.6 7.6-7.6-7.6zM840.8 701.4l7.6 7.6-7.6 7.6-7.6-7.6zM841 708.9l7.6 7.6-7.6 7.6-7.6-7.6zM841.3 706.9l7.6 7.6-7.6 7.6-7.6-7.6zM841.5 714.4l7.6 7.6-7.6 7.6-7.6-7.6zM841.8 698.1l7.6 7.6-7.6 7.6-7.6-7.6zM842 712.6l7.6 7.6-7.6 7.6-7.6-7.6zM842.3 700.5l7.6 7.6-7.6 7.6-7.6-7.6zM842.5 707.6l7.6 7.6-7.6 7.6-7.6-7.6zM842.8 708.2l7.6 7.6-7.6 7.6-7.6-7.6zM843 704.5l7.6 7.6-7.6 7.6-7.6-7.6zM843.3 702.3l7.6 7.6-7.6 7.6-7.6-7.6zM843.5 700.7l7.6 7.6-7.6 7.6-7.6-7.6zM843.8 695.2l7.6 7.6-7.6 7.6-7.6-7.6zM844.1 701.8l7.6 7.6-7.6 7.6-7.6-7.6zM844.3 699.3l7.6 7.6-7.6 7.6-7.6-7.6zM844.6 706.2l7.6 7.6-7.6 7.6-7.6-7.6zM844.8 700l7.6 7.6-7.6 7.6-7.6-7.6zM845.1 702.6l7.6 7.6-7.6 7.6-7.6-7.6zM845.3 705.5l7.6 7.6-7.6 7.6-7.6-7.6zM845.6 703.7l7.6 7.6-7.6 7.6-7.6-7.6zM845.8 703.5l7.6 7.6-7.6 7.6-7.6-7.6zM846.1 702.3l7.6 7.6-7.6 7.6-7.6-7.6zM846.3 701.3l7.6 7.6-7.6 7.6-7.6-7.6zM846.6 705.5l7.6 7.6-7.6 7.6-7.6-7.6zM846.8 706.6l7.6 7.6-7.6 7.6-7.6-7.6zM847.1 699.5l7.6 7.6-7.6 7.6-7.6-7.6zM847.3 711l7.6 7.6-7.6 7.6-7.6-7.6zM847.6 705.9l7.6 7.6-7.6 7.6-7.6-7.6zM847.8 695.7l7.6 7.6-7.6 7.6-7.6-7.6zM848.1 715.7l7.6 7.6-7.6 7.6-7.6-7.6zM848.3 706.2l7.6 7.6-7.6 7.6-7.6-7.6zM848.6 699.6l7.6 7.6-7.6 7.6-7.6-7.6zM848.8 710.6l7.6 7.6-7.6 7.6-7.6-7.6zM849.1 690.6l7.6 7.6-7.6 7.6-7.6-7.6zM849.3 715l7.6 7.6-7.6 7.6-7.6-7.6zM849.6 696l7.6 7.6-7.6 7.6-7.6-7.6zM849.8 695.4l7.6 7.6-7.6 7.6-7.6-7.6zM850.1 698.4l7.6 7.6-7.6 7.6-7.6-7.6zM850.4 703.7l7.6 7.6-7.6 7.6-7.6-7.6zM850.6 701l7.6 7.6-7.6 7.6-7.6-7.6zM850.9 706.8l7.6 7.6-7.6 7.6-7.6-7.6zM851.1 698.8l7.6 7.6-7.6 7.6-7.6-7.6zM851.4 707.8l7.6 7.6-7.6 7.6-7.6-7.6zM851.6 703.8l7.6 7.6-7.6 7.6-7.6-7.6zM851.9 697.8l7.6 7.6-7.6 7.6-7.6-7.6zM852.1 707.8l7.6 7.6-7.6 7.6-7.6-7.6zM852.4 704.2l7.6 7.6-7.6 7.6-7.6-7.6zM852.6 701.7l7.6 7.6-7.6 7.6-7.6-7.6zM852.9 708.8l7.6 7.6-7.6 7.6-7.6-7.6zM853.1 696.9l7.6 7.6-7.6 7.6-7.6-7.6zM853.4 700.8l7.6 7.6-7.6 7.6-7.6-7.6zM853.6 709.5l7.6 7.6-7.6 7.6-7.6-7.6zM853.9 702.6l7.6 7.6-7.6 7.6-7.6-7.6zM854.1 706l7.6 7.6-7.6 7.6-7.6-7.6zM854.4 705.4l7.6 7.6-7.6 7.6-7.6-7.6zM854.6 701.9l7.6 7.6-7.6 7.6-7.6-7.6zM854.9 705.6l7.6 7.6-7.6 7.6-7.6-7.6zM855.1 697.7l7.6 7.6-7.6 7.6-7.6-7.6zM855.4 705.6l7.6 7.6-7.6 7.6-7.6-7.6zM855.6 697.6l7.6 7.6-7.6 7.6-7.6-7.6zM855.9 702.4l7.6 7.6-7.6 7.6-7.6-7.6zM856.1 698.1l7.6 7.6-7.6 7.6-7.6-7.6zM856.4 704.7l7.6 7.6-7.6 7.6-7.6-7.6zM856.7 704.5l7.6 7.6-7.6 7.6-7.6-7.6zM856.9 707.6l7.6 7.6-7.6 7.6-7.6-7.6zM857.2 699.4l7.6 7.6-7.6 7.6-7.6-7.6zM857.4 697.7l7.6 7.6-7.6 7.6-7.6-7.6zM857.7 692.1l7.6 7.6-7.6 7.6-7.6-7.6zM857.9 696l7.6 7.6-7.6 7.6-7.6-7.6zM858.2 700.9l7.6 7.6-7.6 7.6-7.6-7.6zM858.4 703l7.6 7.6-7.6 7.6-7.6-7.6zM858.7 700.2l7.6 7.6-7.6 7.6-7.6-7.6zM858.9 702.2l7.6 7.6-7.6 7.6-7.6-7.6zM859.2 695.1l7.6 7.6-7.6 7.6-7.6-7.6zM859.4 697.5l7.6 7.6-7.6 7.6-7.6-7.6zM859.7 705.9l7.6 7.6-7.6 7.6-7.6-7.6zM859.9 705.2l7.6 7.6-7.6 7.6-7.6-7.6zM860.2 695.5l7.6 7.6-7.6 7.6-7.6-7.6zM860.4 700.5l7.6 7.6-7.6 7.6-7.6-7.6zM860.7 703.1l7.6 7.6-7.6 7.6-7.6-7.6zM860.9 696.3l7.6 7.6-7.6 7.6-7.6-7.6zM861.2 703.8l7.6 7.6-7.6 7.6-7.6-7.6zM861.4 703.3l7.6 7.6-7.6 7.6-7.6-7.6zM861.7 704.1l7.6 7.6-7.6 7.6-7.6-7.6zM861.9 711.2l7.6 7.6-7.6 7.6-7.6-7.6zM862.2 697.8l7.6 7.6-7.6 7.6-7.6-7.6zM862.4 707.6l7.6 7.6-7.6 7.6-7.6-7.6zM862.7 704.6l7.6 7.6-7.6 7.6-7.6-7.6zM863 705.4l7.6 7.6-7.6 7.6-7.6-7.6zM863.2 698.5l7.6 7.6-7.6 7.6-7.6-7.6zM863.5 702.2l7.6 7.6-7.6 7.6-7.6-7.6zM863.7 701.8l7.6 7.6-7.6 7.6-7.6-7.6zM864 709.8l7.6 7.6-7.6 7.6-7.6-7.6zM864.2 702.3l7.6 7.6-7.6 7.6-7.6-7.6zM864.5 708.9l7.6 7.6-7.6 7.6-7.6-7.6zM864.7 700.4l7.6 7.6-7.6 7.6-7.6-7.6zM865 700.1l7.6 7.6-7.6 7.6-7.6-7.6zM865.2 702l7.6 7.6-7.6 7.6-7.6-7.6zM865.5 692.2l7.6 7.6-7.6 7.6-7.6-7.6zM865.7 699.4l7.6 7.6-7.6 7.6-7.6-7.6zM866 699.1l7.6 7.6-7.6 7.6-7.6-7.6zM866.2 701.2l7.6 7.6-7.6 7.6-7.6-7.6zM866.5 702.8l7.6 7.6-7.6 7.6-7.6-7.6zM866.7 697.3l7.6 7.6-7.6 7.6-7.6-7.6zM867 696.7l7.6 7.6-7.6 7.6-7.6-7.6zM867.2 708l7.6 7.6-7.6 7.6-7.6-7.6zM867.5 696.9l7.6 7.6-7.6 7.6-7.6-7.6zM867.7 699.5l7.6 7.6-7.6 7.6-7.6-7.6zM868 697.3l7.6 7.6-7.6 7.6-7.6-7.6zM868.2 699.7l7.6 7.6-7.6 7.6-7.6-7.6zM868.5 707.8l7.6 7.6-7.6 7.6-7.6-7.6zM868.7 707.4l7.6 7.6-7.6 7.6-7.6-7.6zM869 693.3l7.6 7.6-7.6 7.6-7.6-7.6zM869.3 700.7l7.6 7.6-7.6 7.6-7.6-7.6zM869.5 708.6l7.6 7.6-7.6 7.6-7.6-7.6zM869.8 700.3l7.6 7.6-7.6 7.6-7.6-7.6zM870 703.6l7.6 7.6-7.6 7.6-7.6-7.6zM870.3 710.6l7.6 7.6-7.6 7.6-7.6-7.6zM870.5 712.7l7.6 7.6-7.6 7.6-7.6-7.6zM870.8 709.5l7.6 7.6-7.6 7.6-7.6-7.6zM871 700.7l7.6 7.6-7.6 7.6-7.6-7.6zM871.3 702.2l7.6 7.6-7.6 7.6-7.6-7.6zM871.5 703.1l7.6 7.6-7.6 7.6-7.6-7.6zM871.8 700.6l7.6 7.6-7.6 7.6-7.6-7.6zM872 699.1l7.6 7.6-7.6 7.6-7.6-7.6zM872.3 711.9l7.6 7.6-7.6 7.6-7.6-7.6zM872.5 703.4l7.6 7.6-7.6 7.6-7.6-7.6zM872.8 705.9l7.6 7.6-7.6 7.6-7.6-7.6zM873 707.8l7.6 7.6-7.6 7.6-7.6-7.6zM873.3 704.6l7.6 7.6-7.6 7.6-7.6-7.6zM873.5 702.6l7.6 7.6-7.6 7.6-7.6-7.6zM873.8 703.3l7.6 7.6-7.6 7.6-7.6-7.6zM874 708.9l7.6 7.6-7.6 7.6-7.6-7.6zM874.3 704.3l7.6 7.6-7.6 7.6-7.6-7.6zM874.5 692.5l7.6 7.6-7.6 7.6-7.6-7.6zM874.8 707.1l7.6 7.6-7.6 7.6-7.6-7.6zM875 710l7.6 7.6-7.6 7.6-7.6-7.6zM875.3 700.8l7.6 7.6-7.6 7.6-7.6-7.6zM875.6 699.3l7.6 7.6-7.6 7.6-7.6-7.6zM875.8 699.9l7.6 7.6-7.6 7.6-7.6-7.6zM876.1 707.4l7.6 7.6-7.6 7.6-7.6-7.6zM876.3 697.4l7.6 7.6-7.6 7.6-7.6-7.6zM876.6 705.9l7.6 7.6-7.6 7.6-7.6-7.6zM876.8 707.5l7.6 7.6-7.6 7.6-7.6-7.6zM877.1 705l7.6 7.6-7.6 7.6-7.6-7.6zM877.3 702.7l7.6 7.6-7.6 7.6-7.6-7.6zM877.6 698.8l7.6 7.6-7.6 7.6-7.6-7.6zM877.8 699.3l7.6 7.6-7.6 7.6-7.6-7.6zM878.1 702.3l7.6 7.6-7.6 7.6-7.6-7.6zM878.3 697.8l7.6 7.6-7.6 7.6-7.6-7.6zM878.6 701.9l7.6 7.6-7.6 7.6-7.6-7.6zM878.8 698l7.6 7.6-7.6 7.6-7.6-7.6zM879.1 708.9l7.6 7.6-7.6 7.6-7.6-7.6zM879.3 709.7l7.6 7.6-7.6 7.6-7.6-7.6zM879.6 698.6l7.6 7.6-7.6 7.6-7.6-7.6zM879.8 708.9l7.6 7.6-7.6 7.6-7.6-7.6zM880.1 703.8l7.6 7.6-7.6 7.6-7.6-7.6zM880.3 702.8l7.6 7.6-7.6 7.6-7.6-7.6zM880.6 704.7l7.6 7.6-7.6 7.6-7.6-7.6zM880.8 704.5l7.6 7.6-7.6 7.6-7.6-7.6zM881.1 695.8l7.6 7.6-7.6 7.6-7.6-7.6zM881.3 714.3l7.6 7.6-7.6 7.6-7.6-7.6zM881.6 698.2l7.6 7.6-7.6 7.6-7.6-7.6zM881.9 691.6l7.6 7.6-7.6 7.6-7.6-7.6zM882.1 702.3l7.6 7.6-7.6 7.6-7.6-7.6zM882.4 702.5l7.6 7.6-7.6 7.6-7.6-7.6zM882.6 699l7.6 7.6-7.6 7.6-7.6-7.6zM882.9 693.9l7.6 7.6-7.6 7.6-7.6-7.6zM883.1 708.1l7.6 7.6-7.6 7.6-7.6-7.6zM883.4 702.1l7.6 7.6-7.6 7.6-7.6-7.6zM883.6 703.4l7.6 7.6-7.6 7.6-7.6-7.6zM883.9 699.9l7.6 7.6-7.6 7.6-7.6-7.6zM884.1 701.8l7.6 7.6-7.6 7.6-7.6-7.6zM884.4 699.5l7.6 7.6-7.6 7.6-7.6-7.6zM884.6 704.6l7.6 7.6-7.6 7.6-7.6-7.6zM884.9 702.4l7.6 7.6-7.6 7.6-7.6-7.6zM885.1 705.8l7.6 7.6-7.6 7.6-7.6-7.6zM885.4 705.7l7.6 7.6-7.6 7.6-7.6-7.6zM885.6 703.3l7.6 7.6-7.6 7.6-7.6-7.6zM885.9 703.3l7.6 7.6-7.6 7.6-7.6-7.6zM886.1 708.2l7.6 7.6-7.6 7.6-7.6-7.6zM886.4 695.3l7.6 7.6-7.6 7.6-7.6-7.6zM886.6 703.3l7.6 7.6-7.6 7.6-7.6-7.6zM886.9 709.2l7.6 7.6-7.6 7.6-7.6-7.6zM887.1 697.5l7.6 7.6-7.6 7.6-7.6-7.6zM887.4 706.2l7.6 7.6-7.6 7.6-7.6-7.6zM887.6 700.3l7.6 7.6-7.6 7.6-7.6-7.6zM887.9 702.8l7.6 7.6-7.6 7.6-7.6-7.6zM888.2 701.6l7.6 7.6-7.6 7.6-7.6-7.6zM888.4 702l7.6 7.6-7.6 7.6-7.6-7.6zM888.7 705.5l7.6 7.6-7.6 7.6-7.6-7.6zM888.9 702.6l7.6 7.6-7.6 7.6-7.6-7.6zM889.2 693.3l7.6 7.6-7.6 7.6-7.6-7.6zM889.4 713.3l7.6 7.6-7.6 7.6-7.6-7.6zM889.7 702.5l7.6 7.6-7.6 7.6-7.6-7.6zM889.9 700.8l7.6 7.6-7.6 7.6-7.6-7.6zM890.2 707.8l7.6 7.6-7.6 7.6-7.6-7.6zM890.4 709.3l7.6 7.6-7.6 7.6-7.6-7.6zM890.7 692.7l7.6 7.6-7.6 7.6-7.6-7.6zM890.9 704.6l7.6 7.6-7.6 7.6-7.6-7.6zM891.2 693.1l7.6 7.6-7.6 7.6-7.6-7.6zM891.4 700.4l7.6 7.6-7.6 7.6-7.6-7.6zM891.7 702.6l7.6 7.6-7.6 7.6-7.6-7.6zM891.9 700.7l7.6 7.6-7.6 7.6-7.6-7.6zM892.2 700l7.6 7.6-7.6 7.6-7.6-7.6zM892.4 697.4l7.6 7.6-7.6 7.6-7.6-7.6zM892.7 700.9l7.6 7.6-7.6 7.6-7.6-7.6zM892.9 702.3l7.6 7.6-7.6 7.6-7.6-7.6zM893.2 702.2l7.6 7.6-7.6 7.6-7.6-7.6zM893.4 696.6l7.6 7.6-7.6 7.6-7.6-7.6zM893.7 699.2l7.6 7.6-7.6 7.6-7.6-7.6zM893.9 707.7l7.6 7.6-7.6 7.6-7.6-7.6zM894.2 706l7.6 7.6-7.6 7.6-7.6-7.6zM894.5 701.5l7.6 7.6-7.6 7.6-7.6-7.6zM894.7 706l7.6 7.6-7.6 7.6-7.6-7.6zM895 704.8l7.6 7.6-7.6 7.6-7.6-7.6zM895.2 707.5l7.6 7.6-7.6 7.6-7.6-7.6zM895.5 704.3l7.6 7.6-7.6 7.6-7.6-7.6zM895.7 701.1l7.6 7.6-7.6 7.6-7.6-7.6zM896 698.4l7.6 7.6-7.6 7.6-7.6-7.6zM896.2 703l7.6 7.6-7.6 7.6-7.6-7.6zM896.5 693.3l7.6 7.6-7.6 7.6-7.6-7.6zM896.7 703.4l7.6 7.6-7.6 7.6-7.6-7.6zM897 688.1l7.6 7.6-7.6 7.6-7.6-7.6zM897.2 698.4l7.6 7.6-7.6 7.6-7.6-7.6zM897.5 700.8l7.6 7.6-7.6 7.6-7.6-7.6zM897.7 705.4l7.6 7.6-7.6 7.6-7.6-7.6zM898 716.4l7.6 7.6-7.6 7.6-7.6-7.6zM898.2 703.8l7.6 7.6-7.6 7.6-7.6-7.6zM898.5 702.3l7.6 7.6-7.6 7.6-7.6-7.6zM898.7 694.1l7.6 7.6-7.6 7.6-7.6-7.6zM899 709.6l7.6 7.6-7.6 7.6-7.6-7.6zM899.2 694.2l7.6 7.6-7.6 7.6-7.6-7.6zM899.5 704.3l7.6 7.6-7.6 7.6-7.6-7.6zM899.7 699.7l7.6 7.6-7.6 7.6-7.6-7.6zM900 715l7.6 7.6-7.6 7.6-7.6-7.6zM900.2 702.5l7.6 7.6-7.6 7.6-7.6-7.6zM900.5 704.7l7.6 7.6-7.6 7.6-7.6-7.6zM900.8 699.9l7.6 7.6-7.6 7.6-7.6-7.6zM901 702.7l7.6 7.6-7.6 7.6-7.6-7.6zM901.3 708.5l7.6 7.6-7.6 7.6-7.6-7.6zM901.5 698.7l7.6 7.6-7.6 7.6-7.6-7.6zM901.8 699.9l7.6 7.6-7.6 7.6-7.6-7.6zM902 700.3l7.6 7.6-7.6 7.6-7.6-7.6zM902.3 698.4l7.6 7.6-7.6 7.6-7.6-7.6zM902.5 697.9l7.6 7.6-7.6 7.6-7.6-7.6zM902.8 703.2l7.6 7.6-7.6 7.6-7.6-7.6zM903 709.5l7.6 7.6-7.6 7.6-7.6-7.6zM903.3 709.6l7.6 7.6-7.6 7.6-7.6-7.6zM903.5 696.8l7.6 7.6-7.6 7.6-7.6-7.6zM903.8 699.8l7.6 7.6-7.6 7.6-7.6-7.6zM904 702.6l7.6 7.6-7.6 7.6-7.6-7.6zM904.3 705.1l7.6 7.6-7.6 7.6-7.6-7.6zM904.5 702.9l7.6 7.6-7.6 7.6-7.6-7.6zM904.8 703l7.6 7.6-7.6 7.6-7.6-7.6zM905 704.6l7.6 7.6-7.6 7.6-7.6-7.6zM905.3 706.3l7.6 7.6-7.6 7.6-7.6-7.6zM905.5 692.9l7.6 7.6-7.6 7.6-7.6-7.6zM905.8 702l7.6 7.6-7.6 7.6-7.6-7.6zM906 705.9l7.6 7.6-7.6 7.6-7.6-7.6zM906.3 709.1l7.6 7.6-7.6 7.6-7.6-7.6zM906.5 706.4l7.6 7.6-7.6 7.6-7.6-7.6zM906.8 699.6l7.6 7.6-7.6 7.6-7.6-7.6zM907.1 699.4l7.6 7.6-7.6 7.6-7.6-7.6zM907.3 704l7.6 7.6-7.6 7.6-7.6-7.6zM907.6 702.7l7.6 7.6-7.6 7.6-7.6-7.6zM907.8 704.4l7.6 7.6-7.6 7.6-7.6-7.6zM908.1 708.2l7.6 7.6-7.6 7.6-7.6-7.6zM908.3 696.8l7.6 7.6-7.6 7.6-7.6-7.6zM908.6 701.2l7.6 7.6-7.6 7.6-7.6-7.6zM908.8 691.3l7.6 7.6-7.6 7.6-7.6-7.6zM909.1 706.5l7.6 7.6-7.6 7.6-7.6-7.6zM909.3 703.5l7.6 7.6-7.6 7.6-7.6-7.6zM909.6 698.7l7.6 7.6-7.6 7.6-7.6-7.6zM909.8 704l7.6 7.6-7.6 7.6-7.6-7.6zM910.1 709.4l7.6 7.6-7.6 7.6-7.6-7.6zM910.3 707.3l7.6 7.6-7.6 7.6-7.6-7.6zM910.6 702.3l7.6 7.6-7.6 7.6-7.6-7.6zM910.8 701.2l7.6 7.6-7.6 7.6-7.6-7.6zM911.1 703.2l7.6 7.6-7.6 7.6-7.6-7.6zM911.3 698.1l7.6 7.6-7.6 7.6-7.6-7.6zM911.6 698.1l7.6 7.6-7.6 7.6-7.6-7.6zM911.8 701.2l7.6 7.6-7.6 7.6-7.6-7.6zM912.1 702.6l7.6 7.6-7.6 7.6-7.6-7.6zM912.3 703.9l7.6 7.6-7.6 7.6-7.6-7.6zM912.6 700.1l7.6 7.6-7.6 7.6-7.6-7.6zM912.8 698.3l7.6 7.6-7.6 7.6-7.6-7.6zM913.1 702.4l7.6 7.6-7.6 7.6-7.6-7.6zM913.4 700.5l7.6 7.6-7.6 7.6-7.6-7.6zM913.6 704.1l7.6 7.6-7.6 7.6-7.6-7.6zM913.9 709.2l7.6 7.6-7.6 7.6-7.6-7.6zM914.1 707.3l7.6 7.6-7.6 7.6-7.6-7.6zM914.4 698.9l7.6 7.6-7.6 7.6-7.6-7.6zM914.6 700.4l7.6 7.6-7.6 7.6-7.6-7.6zM914.9 695l7.6 7.6-7.6 7.6-7.6-7.6zM915.1 702.2l7.6 7.6-7.6 7.6-7.6-7.6zM915.4 698.4l7.6 7.6-7.6 7.6-7.6-7.6zM915.6 696.2l7.6 7.6-7.6 7.6-7.6-7.6zM915.9 697.7l7.6 7.6-7.6 7.6-7.6-7.6zM916.1 705.3l7.6 7.6-7.6 7.6-7.6-7.6zM916.4 703.2l7.6 7.6-7.6 7.6-7.6-7.6zM916.6 701.7l7.6 7.6-7.6 7.6-7.6-7.6zM916.9 707l7.6 7.6-7.6 7.6-7.6-7.6zM917.1 700.1l7.6 7.6-7.6 7.6-7.6-7.6zM917.4 697.5l7.6 7.6-7.6 7.6-7.6-7.6zM917.6 704.5l7.6 7.6-7.6 7.6-7.6-7.6zM917.9 692.9l7.6 7.6-7.6 7.6-7.6-7.6zM918.1 703.6l7.6 7.6-7.6 7.6-7.6-7.6zM918.4 703.1l7.6 7.6-7.6 7.6-7.6-7.6zM918.6 703.3l7.6 7.6-7.6 7.6-7.6-7.6zM918.9 705.5l7.6 7.6-7.6 7.6-7.6-7.6zM919.1 700.1l7.6 7.6-7.6 7.6-7.6-7.6zM919.4 702l7.6 7.6-7.6 7.6-7.6-7.6zM919.7 694.2l7.6 7.6-7.6 7.6-7.6-7.6zM919.9 699.2l7.6 7.6-7.6 7.6-7.6-7.6zM920.2 699.5l7.6 7.6-7.6 7.6-7.6-7.6zM920.4 703l7.6 7.6-7.6 7.6-7.6-7.6zM920.7 708.6l7.6 7.6-7.6 7.6-7.6-7.6zM920.9 702.3l7.6 7.6-7.6 7.6-7.6-7.6zM921.2 705.9l7.6 7.6-7.6 7.6-7.6-7.6zM921.4 697.4l7.6 7.6-7.6 7.6-7.6-7.6zM921.7 702l7.6 7.6-7.6 7.6-7.6-7.6zM921.9 693.9l7.6 7.6-7.6 7.6-7.6-7.6zM922.2 698.3l7.6 7.6-7.6 7.6-7.6-7.6zM922.4 697.8l7.6 7.6-7.6 7.6-7.6-7.6zM922.7 700.6l7.6 7.6-7.6 7.6-7.6-7.6zM922.9 700.7l7.6 7.6-7.6 7.6-7.6-7.6zM923.2 698.6l7.6 7.6-7.6 7.6-7.6-7.6zM923.4 697.2l7.6 7.6-7.6 7.6-7.6-7.6zM923.7 704.9l7.6 7.6-7.6 7.6-7.6-7.6zM923.9 699.2l7.6 7.6-7.6 7.6-7.6-7.6zM924.2 689.1l7.6 7.6-7.6 7.6-7.6-7.6zM924.4 701.9l7.6 7.6-7.6 7.6-7.6-7.6zM924.7 702.7l7.6 7.6-7.6 7.6-7.6-7.6zM924.9 704.7l7.6 7.6-7.6 7.6-7.6-7.6zM925.2 708.3l7.6 7.6-7.6 7.6-7.6-7.6zM925.4 695.7l7.6 7.6-7.6 7.6-7.6-7.6zM925.7 701l7.6 7.6-7.6 7.6-7.6-7.6zM926 699.9l7.6 7.6-7.6 7.6-7.6-7.6zM926.2 692.5l7.6 7.6-7.6 7.6-7.6-7.6zM926.5 689.3l7.6 7.6-7.6 7.6-7.6-7.6zM926.7 705.4l7.6 7.6-7.6 7.6-7.6-7.6zM927 696.2l7.6 7.6-7.6 7.6-7.6-7.6zM927.2 698.2l7.6 7.6-7.6 7.6-7.6-7.6zM927.5 699.2l7.6 7.6-7.6 7.6-7.6-7.6zM927.7 698.8l7.6 7.6-7.6 7.6-7.6-7.6zM928 701.1l7.6 7.6-7.6 7.6-7.6-7.6zM928.2 693.4l7.6 7.6-7.6 7.6-7.6-7.6zM928.5 698l7.6 7.6-7.6 7.6-7.6-7.6zM928.7 699.3l7.6 7.6-7.6 7.6-7.6-7.6zM929 695l7.6 7.6-7.6 7.6-7.6-7.6zM929.2 696.6l7.6 7.6-7.6 7.6-7.6-7.6zM929.5 698.6l7.6 7.6-7.6 7.6-7.6-7.6zM929.7 699.2l7.6 7.6-7.6 7.6-7.6-7.6zM930 692.4l7.6 7.6-7.6 7.6-7.6-7.6zM930.2 698.3l7.6 7.6-7.6 7.6-7.6-7.6zM930.5 701.1l7.6 7.6-7.6 7.6-7.6-7.6zM930.7 704.7l7.6 7.6-7.6 7.6-7.6-7.6zM931 702.3l7.6 7.6-7.6 7.6-7.6-7.6zM931.2 705.6l7.6 7.6-7.6 7.6-7.6-7.6zM931.5 700l7.6 7.6-7.6 7.6-7.6-7.6zM931.7 699.3l7.6 7.6-7.6 7.6-7.6-7.6zM932 710.2l7.6 7.6-7.6 7.6-7.6-7.6zM932.3 700.4l7.6 7.6-7.6 7.6-7.6-7.6zM932.5 697.3l7.6 7.6-7.6 7.6-7.6-7.6zM932.8 699.6l7.6 7.6-7.6 7.6-7.6-7.6zM933 704.9l7.6 7.6-7.6 7.6-7.6-7.6zM933.3 694.3l7.6 7.6-7.6 7.6-7.6-7.6zM933.5 703.6l7.6 7.6-7.6 7.6-7.6-7.6zM933.8 706.1l7.6 7.6-7.6 7.6-7.6-7.6zM934 705.4l7.6 7.6-7.6 7.6-7.6-7.6zM934.3 700.2l7.6 7.6-7.6 7.6-7.6-7.6zM934.5 695.5l7.6 7.6-7.6 7.6-7.6-7.6zM934.8 694.6l7.6 7.6-7.6 7.6-7.6-7.6zM935 699.1l7.6 7.6-7.6 7.6-7.6-7.6zM935.3 705.7l7.6 7.6-7.6 7.6-7.6-7.6zM935.5 703.1l7.6 7.6-7.6 7.6-7.6-7.6zM935.8 704.3l7.6 7.6-7.6 7.6-7.6-7.6zM936 700.8l7.6 7.6-7.6 7.6-7.6-7.6zM936.3 708.4l7.6 7.6-7.6 7.6-7.6-7.6zM936.5 699.4l7.6 7.6-7.6 7.6-7.6-7.6zM936.8 696.8l7.6 7.6-7.6 7.6-7.6-7.6zM937 700.5l7.6 7.6-7.6 7.6-7.6-7.6zM937.3 697.6l7.6 7.6-7.6 7.6-7.6-7.6zM937.5 704.2l7.6 7.6-7.6 7.6-7.6-7.6zM937.8 706.7l7.6 7.6-7.6 7.6-7.6-7.6zM938 702.7l7.6 7.6-7.6 7.6-7.6-7.6zM938.3 694.1l7.6 7.6-7.6 7.6-7.6-7.6zM938.6 694.7l7.6 7.6-7.6 7.6-7.6-7.6zM938.8 701.8l7.6 7.6-7.6 7.6-7.6-7.6zM939.1 693.8l7.6 7.6-7.6 7.6-7.6-7.6zM939.3 701.1l7.6 7.6-7.6 7.6-7.6-7.6zM939.6 692.3l7.6 7.6-7.6 7.6-7.6-7.6zM939.8 697.2l7.6 7.6-7.6 7.6-7.6-7.6zM940.1 701.6l7.6 7.6-7.6 7.6-7.6-7.6zM940.3 695.6l7.6 7.6-7.6 7.6-7.6-7.6zM940.6 703.1l7.6 7.6-7.6 7.6-7.6-7.6zM940.8 703.9l7.6 7.6-7.6 7.6-7.6-7.6zM941.1 706.3l7.6 7.6-7.6 7.6-7.6-7.6zM941.3 698.1l7.6 7.6-7.6 7.6-7.6-7.6zM941.6 699.5l7.6 7.6-7.6 7.6-7.6-7.6zM941.8 699.6l7.6 7.6-7.6 7.6-7.6-7.6zM942.1 701.2l7.6 7.6-7.6 7.6-7.6-7.6zM942.3 692.3l7.6 7.6-7.6 7.6-7.6-7.6zM942.6 701.2l7.6 7.6-7.6 7.6-7.6-7.6zM942.8 702.6l7.6 7.6-7.6 7.6-7.6-7.6zM943.1 693.2l7.6 7.6-7.6 7.6-7.6-7.6zM943.3 692.3l7.6 7.6-7.6 7.6-7.6-7.6zM943.6 697.5l7.6 7.6-7.6 7.6-7.6-7.6zM943.8 707.4l7.6 7.6-7.6 7.6-7.6-7.6zM944.1 701.9l7.6 7.6-7.6 7.6-7.6-7.6zM944.3 696.1l7.6 7.6-7.6 7.6-7.6-7.6zM944.6 698.9l7.6 7.6-7.6 7.6-7.6-7.6zM944.9 691.5l7.6 7.6-7.6 7.6-7.6-7.6zM945.1 705.5l7.6 7.6-7.6 7.6-7.6-7.6zM945.4 695.7l7.6 7.6-7.6 7.6-7.6-7.6zM945.6 701.9l7.6 7.6-7.6 7.6-7.6-7.6zM945.9 692.5l7.6 7.6-7.6 7.6-7.6-7.6zM946.1 699.2l7.6 7.6-7.6 7.6-7.6-7.6zM946.4 693.9l7.6 7.6-7.6 7.6-7.6-7.6zM946.6 701.9l7.6 7.6-7.6 7.6-7.6-7.6zM946.9 705.5l7.6 7.6-7.6 7.6-7.6-7.6zM947.1 704.1l7.6 7.6-7.6 7.6-7.6-7.6zM947.4 701.6l7.6 7.6-7.6 7.6-7.6-7.6zM947.6 703.6l7.6 7.6-7.6 7.6-7.6-7.6zM947.9 692.9l7.6 7.6-7.6 7.6-7.6-7.6zM948.1 692.2l7.6 7.6-7.6 7.6-7.6-7.6zM948.4 697.3l7.6 7.6-7.6 7.6-7.6-7.6zM948.6 703.6l7.6 7.6-7.6 7.6-7.6-7.6zM948.9 699.2l7.6 7.6-7.6 7.6-7.6-7.6zM949.1 701.9l7.6 7.6-7.6 7.6-7.6-7.6zM949.4 691.6l7.6 7.6-7.6 7.6-7.6-7.6zM949.6 697.1l7.6 7.6-7.6 7.6-7.6-7.6zM949.9 696.2l7.6 7.6-7.6 7.6-7.6-7.6zM950.1 700.5l7.6 7.6-7.6 7.6-7.6-7.6zM950.4 708.2l7.6 7.6-7.6 7.6-7.6-7.6zM950.6 702.2l7.6 7.6-7.6 7.6-7.6-7.6zM950.9 703.9l7.6 7.6-7.6 7.6-7.6-7.6zM951.2 696.7l7.6 7.6-7.6 7.6-7.6-7.6zM951.4 698l7.6 7.6-7.6 7.6-7.6-7.6zM951.7 702.3l7.6 7.6-7.6 7.6-7.6-7.6zM951.9 700.3l7.6 7.6-7.6 7.6-7.6-7.6zM952.2 690.9l7.6 7.6-7.6 7.6-7.6-7.6zM952.4 703l7.6 7.6-7.6 7.6-7.6-7.6zM952.7 702.8l7.6 7.6-7.6 7.6-7.6-7.6zM952.9 699.5l7.6 7.6-7.6 7.6-7.6-7.6zM953.2 701.8l7.6 7.6-7.6 7.6-7.6-7.6zM953.4 700.4l7.6 7.6-7.6 7.6-7.6-7.6zM953.7 695.8l7.6 7.6-7.6 7.6-7.6-7.6zM953.9 690l7.6 7.6-7.6 7.6-7.6-7.6zM954.2 706.9l7.6 7.6-7.6 7.6-7.6-7.6zM954.4 698.4l7.6 7.6-7.6 7.6-7.6-7.6zM954.7 698.1l7.6 7.6-7.6 7.6-7.6-7.6zM954.9 698.7l7.6 7.6-7.6 7.6-7.6-7.6zM955.2 699.2l7.6 7.6-7.6 7.6-7.6-7.6zM955.4 700l7.6 7.6-7.6 7.6-7.6-7.6zM955.7 693.5l7.6 7.6-7.6 7.6-7.6-7.6zM955.9 700.6l7.6 7.6-7.6 7.6-7.6-7.6zM956.2 698.9l7.6 7.6-7.6 7.6-7.6-7.6zM956.4 698.3l7.6 7.6-7.6 7.6-7.6-7.6zM956.7 697.8l7.6 7.6-7.6 7.6-7.6-7.6zM956.9 699.1l7.6 7.6-7.6 7.6-7.6-7.6zM957.2 693.5l7.6 7.6-7.6 7.6-7.6-7.6zM957.5 698.4l7.6 7.6-7.6 7.6-7.6-7.6zM957.7 697.5l7.6 7.6-7.6 7.6-7.6-7.6zM958 698.6l7.6 7.6-7.6 7.6-7.6-7.6zM958.2 703.1l7.6 7.6-7.6 7.6-7.6-7.6zM958.5 702.3l7.6 7.6-7.6 7.6-7.6-7.6zM958.7 703.4l7.6 7.6-7.6 7.6-7.6-7.6zM959 697.4l7.6 7.6-7.6 7.6-7.6-7.6zM959.2 701.8l7.6 7.6-7.6 7.6-7.6-7.6zM959.5 703.4l7.6 7.6-7.6 7.6-7.6-7.6zM959.7 697.2l7.6 7.6-7.6 7.6-7.6-7.6zM960 695.8l7.6 7.6-7.6 7.6-7.6-7.6zM960.2 706.8l7.6 7.6-7.6 7.6-7.6-7.6zM960.5 690.2l7.6 7.6-7.6 7.6-7.6-7.6zM960.7 698.2l7.6 7.6-7.6 7.6-7.6-7.6zM961 698.9l7.6 7.6-7.6 7.6-7.6-7.6zM961.2 693.2l7.6 7.6-7.6 7.6-7.6-7.6zM961.5 698l7.6 7.6-7.6 7.6-7.6-7.6zM961.7 701.3l7.6 7.6-7.6 7.6-7.6-7.6zM962 687.8l7.6 7.6-7.6 7.6-7.6-7.6zM962.2 703.6l7.6 7.6-7.6 7.6-7.6-7.6zM962.5 698.9l7.6 7.6-7.6 7.6-7.6-7.6zM962.7 694.4l7.6 7.6-7.6 7.6-7.6-7.6zM963 703.6l7.6 7.6-7.6 7.6-7.6-7.6zM963.2 698.9l7.6 7.6-7.6 7.6-7.6-7.6zM963.5 696.6l7.6 7.6-7.6 7.6-7.6-7.6zM963.8 686.9l7.6 7.6-7.6 7.6-7.6-7.6zM964 702.8l7.6 7.6-7.6 7.6-7.6-7.6zM964.3 698.7l7.6 7.6-7.6 7.6-7.6-7.6zM964.5 695.4l7.6 7.6-7.6 7.6-7.6-7.6zM964.8 698.1l7.6 7.6-7.6 7.6-7.6-7.6zM965 704.3l7.6 7.6-7.6 7.6-7.6-7.6zM965.3 696.6l7.6 7.6-7.6 7.6-7.6-7.6zM965.5 698.1l7.6 7.6-7.6 7.6-7.6-7.6zM965.8 696.5l7.6 7.6-7.6 7.6-7.6-7.6zM966 693.2l7.6 7.6-7.6 7.6-7.6-7.6zM966.3 693.8l7.6 7.6-7.6 7.6-7.6-7.6zM966.5 696.7l7.6 7.6-7.6 7.6-7.6-7.6zM966.8 697.2l7.6 7.6-7.6 7.6-7.6-7.6zM967 704l7.6 7.6-7.6 7.6-7.6-7.6zM967.3 699.4l7.6 7.6-7.6 7.6-7.6-7.6zM967.5 697.7l7.6 7.6-7.6 7.6-7.6-7.6zM967.8 700.7l7.6 7.6-7.6 7.6-7.6-7.6zM968 698.3l7.6 7.6-7.6 7.6-7.6-7.6zM968.3 702.8l7.6 7.6-7.6 7.6-7.6-7.6zM968.5 691.5l7.6 7.6-7.6 7.6-7.6-7.6zM968.8 688.5l7.6 7.6-7.6 7.6-7.6-7.6zM969 700.7l7.6 7.6-7.6 7.6-7.6-7.6zM969.3 697l7.6 7.6-7.6 7.6-7.6-7.6zM969.5 700l7.6 7.6-7.6 7.6-7.6-7.6zM969.8 692.9l7.6 7.6-7.6 7.6-7.6-7.6zM970.1 696.9l7.6 7.6-7.6 7.6-7.6-7.6zM970.3 698.6l7.6 7.6-7.6 7.6-7.6-7.6zM970.6 700.1l7.6 7.6-7.6 7.6-7.6-7.6zM970.8 698.5l7.6 7.6-7.6 7.6-7.6-7.6zM971.1 703.9l7.6 7.6-7.6 7.6-7.6-7.6zM971.3 695.9l7.6 7.6-7.6 7.6-7.6-7.6zM971.6 702.6l7.6 7.6-7.6 7.6-7.6-7.6zM971.8 696.6l7.6 7.6-7.6 7.6-7.6-7.6zM972.1 698.6l7.6 7.6-7.6 7.6-7.6-7.6zM972.3 694l7.6 7.6-7.6 7.6-7.6-7.6zM972.6 699.3l7.6 7.6-7.6 7.6-7.6-7.6zM972.8 694.4l7.6 7.6-7.6 7.6-7.6-7.6zM973.1 703.7l7.6 7.6-7.6 7.6-7.6-7.6zM973.3 696.4l7.6 7.6-7.6 7.6-7.6-7.6zM973.6 700.5l7.6 7.6-7.6 7.6-7.6-7.6zM973.8 698.5l7.6 7.6-7.6 7.6-7.6-7.6zM974.1 699.1l7.6 7.6-7.6 7.6-7.6-7.6zM974.3 695l7.6 7.6-7.6 7.6-7.6-7.6zM974.6 709.2l7.6 7.6-7.6 7.6-7.6-7.6zM974.8 698l7.6 7.6-7.6 7.6-7.6-7.6zM975.1 706.7l7.6 7.6-7.6 7.6-7.6-7.6zM975.3 693.9l7.6 7.6-7.6 7.6-7.6-7.6zM975.6 709.1l7.6 7.6-7.6 7.6-7.6-7.6zM975.8 704.5l7.6 7.6-7.6 7.6-7.6-7.6zM976.1 707.7l7.6 7.6-7.6 7.6-7.6-7.6zM976.4 692l7.6 7.6-7.6 7.6-7.6-7.6zM976.6 706l7.6 7.6-7.6 7.6-7.6-7.6zM976.9 699.3l7.6 7.6-7.6 7.6-7.6-7.6zM977.1 702.5l7.6 7.6-7.6 7.6-7.6-7.6zM977.4 708.5l7.6 7.6-7.6 7.6-7.6-7.6zM977.6 701.6l7.6 7.6-7.6 7.6-7.6-7.6zM977.9 696.9l7.6 7.6-7.6 7.6-7.6-7.6zM978.1 700.9l7.6 7.6-7.6 7.6-7.6-7.6zM978.4 695.6l7.6 7.6-7.6 7.6-7.6-7.6zM978.6 701.9l7.6 7.6-7.6 7.6-7.6-7.6zM978.9 700.1l7.6 7.6-7.6 7.6-7.6-7.6zM979.1 702.1l7.6 7.6-7.6 7.6-7.6-7.6zM979.4 698.6l7.6 7.6-7.6 7.6-7.6-7.6zM979.6 691.3l7.6 7.6-7.6 7.6-7.6-7.6zM979.9 698.6l7.6 7.6-7.6 7.6-7.6-7.6zM980.1 699.5l7.6 7.6-7.6 7.6-7.6-7.6zM980.4 703.4l7.6 7.6-7.6 7.6-7.6-7.6zM980.6 704.1l7.6 7.6-7.6 7.6-7.6-7.6zM980.9 693.6l7.6 7.6-7.6 7.6-7.6-7.6zM981.1 705.9l7.6 7.6-7.6 7.6-7.6-7.6zM981.4 704.9l7.6 7.6-7.6 7.6-7.6-7.6zM981.6 701.1l7.6 7.6-7.6 7.6-7.6-7.6zM981.9 702.7l7.6 7.6-7.6 7.6-7.6-7.6zM982.1 691.4l7.6 7.6-7.6 7.6-7.6-7.6zM982.4 712l7.6 7.6-7.6 7.6-7.6-7.6zM982.7 699.1l7.6 7.6-7.6 7.6-7.6-7.6zM982.9 697.5l7.6 7.6-7.6 7.6-7.6-7.6zM983.2 706.2l7.6 7.6-7.6 7.6-7.6-7.6zM983.4 704l7.6 7.6-7.6 7.6-7.6-7.6zM983.7 699l7.6 7.6-7.6 7.6-7.6-7.6zM983.9 693.3l7.6 7.6-7.6 7.6-7.6-7.6zM984.2 705.5l7.6 7.6-7.6 7.6-7.6-7.6zM984.4 708.6l7.6 7.6-7.6 7.6-7.6-7.6zM984.7 696.6l7.6 7.6-7.6 7.6-7.6-7.6zM984.9 694l7.6 7.6-7.6 7.6-7.6-7.6zM985.2 702.9l7.6 7.6-7.6 7.6-7.6-7.6zM985.4 711.8l7.6 7.6-7.6 7.6-7.6-7.6zM985.7 694.5l7.6 7.6-7.6 7.6-7.6-7.6zM985.9 702.4l7.6 7.6-7.6 7.6-7.6-7.6zM986.2 696.2l7.6 7.6-7.6 7.6-7.6-7.6zM986.4 701.8l7.6 7.6-7.6 7.6-7.6-7.6zM986.7 703.4l7.6 7.6-7.6 7.6-7.6-7.6zM986.9 703.8l7.6 7.6-7.6 7.6-7.6-7.6zM987.2 694.7l7.6 7.6-7.6 7.6-7.6-7.6zM987.4 695l7.6 7.6-7.6 7.6-7.6-7.6zM987.7 711.9l7.6 7.6-7.6 7.6-7.6-7.6zM987.9 706.3l7.6 7.6-7.6 7.6-7.6-7.6zM988.2 693.5l7.6 7.6-7.6 7.6-7.6-7.6zM988.4 703.7l7.6 7.6-7.6 7.6-7.6-7.6zM988.7 708.4l7.6 7.6-7.6 7.6-7.6-7.6zM989 702l7.6 7.6-7.6 7.6-7.6-7.6zM989.2 702.6l7.6 7.6-7.6 7.6-7.6-7.6zM989.5 702.6l7.6 7.6-7.6 7.6-7.6-7.6zM989.7 704.5l7.6 7.6-7.6 7.6-7.6-7.6zM990 703.7l7.6 7.6-7.6 7.6-7.6-7.6zM990.2 704.4l7.6 7.6-7.6 7.6-7.6-7.6zM990.5 700.8l7.6 7.6-7.6 7.6-7.6-7.6zM990.7 706.2l7.6 7.6-7.6 7.6-7.6-7.6zM991 703.8l7.6 7.6-7.6 7.6-7.6-7.6zM991.2 703.2l7.6 7.6-7.6 7.6-7.6-7.6zM991.5 696.4l7.6 7.6-7.6 7.6-7.6-7.6zM991.7 700.8l7.6 7.6-7.6 7.6-7.6-7.6zM992 703.2l7.6 7.6-7.6 7.6-7.6-7.6zM992.2 700.2l7.6 7.6-7.6 7.6-7.6-7.6zM992.5 700.8l7.6 7.6-7.6 7.6-7.6-7.6zM992.7 697.7l7.6 7.6-7.6 7.6-7.6-7.6zM993 700.5l7.6 7.6-7.6 7.6-7.6-7.6zM993.2 694.5l7.6 7.6-7.6 7.6-7.6-7.6zM993.5 696.6l7.6 7.6-7.6 7.6-7.6-7.6zM993.7 703.2l7.6 7.6-7.6 7.6-7.6-7.6zM994 705l7.6 7.6-7.6 7.6-7.6-7.6zM994.2 699l7.6 7.6-7.6 7.6-7.6-7.6zM994.5 700.7l7.6 7.6-7.6 7.6-7.6-7.6zM994.7 703.7l7.6 7.6-7.6 7.6-7.6-7.6zM995 710.2l7.6 7.6-7.6 7.6-7.6-7.6zM995.3 711.9l7.6 7.6-7.6 7.6-7.6-7.6zM995.5 701.7l7.6 7.6-7.6 7.6-7.6-7.6zM995.8 699.8l7.6 7.6-7.6 7.6-7.6-7.6zM996 699.7l7.6 7.6-7.6 7.6-7.6-7.6zM996.3 709.5l7.6 7.6-7.6 7.6-7.6-7.6zM996.5 698.7l7.6 7.6-7.6 7.6-7.6-7.6zM996.8 706.1l7.6 7.6-7.6 7.6-7.6-7.6zM997 701.9l7.6 7.6-7.6 7.6-7.6-7.6zM997.3 701.8l7.6 7.6-7.6 7.6-7.6-7.6zM997.5 707.5l7.6 7.6-7.6 7.6-7.6-7.6zM997.8 706.6l7.6 7.6-7.6 7.6-7.6-7.6zM998 713.6l7.6 7.6-7.6 7.6-7.6-7.6zM998.3 708.2l7.6 7.6-7.6 7.6-7.6-7.6zM998.5 712.4l7.6 7.6-7.6 7.6-7.6-7.6zM998.8 702l7.6 7.6-7.6 7.6-7.6-7.6zM999 703.8l7.6 7.6-7.6 7.6-7.6-7.6zM999.3 699.9l7.6 7.6-7.6 7.6-7.6-7.6zM999.5 702.5l7.6 7.6-7.6 7.6-7.6-7.6zM999.8 707.2l7.6 7.6-7.6 7.6-7.6-7.6zM1000 702.7l7.6 7.6-7.6 7.6-7.6-7.6zM1000.3 706.1l7.6 7.6-7.6 7.6-7.6-7.6zM1000.5 701.5l7.6 7.6-7.6 7.6-7.6-7.6zM1000.8 702.9l7.6 7.6-7.6 7.6-7.6-7.6zM1001 709.1l7.6 7.6-7.6 7.6-7.6-7.6zM1001.3 704.5l7.6 7.6-7.6 7.6-7.6-7.6zM1001.6 704.3l7.6 7.6-7.6 7.6-7.6-7.6zM1001.8 706l7.6 7.6-7.6 7.6-7.6-7.6zM1002.1 700.5l7.6 7.6-7.6 7.6-7.6-7.6zM1002.3 696.7l7.6 7.6-7.6 7.6-7.6-7.6zM1002.6 706.5l7.6 7.6-7.6 7.6-7.6-7.6zM1002.8 706.4l7.6 7.6-7.6 7.6-7.6-7.6zM1003.1 715.3l7.6 7.6-7.6 7.6-7.6-7.6zM1003.3 705.5l7.6 7.6-7.6 7.6-7.6-7.6zM1003.6 707l7.6 7.6-7.6 7.6-7.6-7.6zM1003.8 715l7.6 7.6-7.6 7.6-7.6-7.6zM1004.1 703.7l7.6 7.6-7.6 7.6-7.6-7.6zM1004.3 702.3l7.6 7.6-7.6 7.6-7.6-7.6zM1004.6 708.5l7.6 7.6-7.6 7.6-7.6-7.6zM1004.8 706.9l7.6 7.6-7.6 7.6-7.6-7.6zM1005.1 709.7l7.6 7.6-7.6 7.6-7.6-7.6zM1005.3 701.7l7.6 7.6-7.6 7.6-7.6-7.6zM1005.6 712.3l7.6 7.6-7.6 7.6-7.6-7.6zM1005.8 706.8l7.6 7.6-7.6 7.6-7.6-7.6zM1006.1 696.3l7.6 7.6-7.6 7.6-7.6-7.6zM1006.3 705.2l7.6 7.6-7.6 7.6-7.6-7.6zM1006.6 703.3l7.6 7.6-7.6 7.6-7.6-7.6zM1006.8 706.2l7.6 7.6-7.6 7.6-7.6-7.6zM1007.1 711l7.6 7.6-7.6 7.6-7.6-7.6zM1007.3 705.8l7.6 7.6-7.6 7.6-7.6-7.6zM1007.6 703.8l7.6 7.6-7.6 7.6-7.6-7.6zM1007.9 710.4l7.6 7.6-7.6 7.6-7.6-7.6zM1008.1 704.2l7.6 7.6-7.6 7.6-7.6-7.6zM1008.4 700l7.6 7.6-7.6 7.6-7.6-7.6zM1008.6 700.9l7.6 7.6-7.6 7.6-7.6-7.6zM1008.9 713.2l7.6 7.6-7.6 7.6-7.6-7.6zM1009.1 710.4l7.6 7.6-7.6 7.6-7.6-7.6zM1009.4 713.4l7.6 7.6-7.6 7.6-7.6-7.6zM1009.6 701l7.6 7.6-7.6 7.6-7.6-7.6zM1009.9 703.2l7.6 7.6-7.6 7.6-7.6-7.6zM1010.1 702.8l7.6 7.6-7.6 7.6-7.6-7.6zM1010.4 710.2l7.6 7.6-7.6 7.6-7.6-7.6zM1010.6 711.5l7.6 7.6-7.6 7.6-7.6-7.6zM1010.9 705.8l7.6 7.6-7.6 7.6-7.6-7.6zM1011.1 705.8l7.6 7.6-7.6 7.6-7.6-7.6zM1011.4 710.2l7.6 7.6-7.6 7.6-7.6-7.6zM1011.6 705.6l7.6 7.6-7.6 7.6-7.6-7.6zM1011.9 703.4l7.6 7.6-7.6 7.6-7.6-7.6zM1012.1 705.3l7.6 7.6-7.6 7.6-7.6-7.6zM1012.4 711.2l7.6 7.6-7.6 7.6-7.6-7.6zM1012.6 716.2l7.6 7.6-7.6 7.6-7.6-7.6zM1012.9 707.7l7.6 7.6-7.6 7.6-7.6-7.6zM1013.1 705.8l7.6 7.6-7.6 7.6-7.6-7.6zM1013.4 707.8l7.6 7.6-7.6 7.6-7.6-7.6zM1013.6 708.6l7.6 7.6-7.6 7.6-7.6-7.6zM1013.9 709.8l7.6 7.6-7.6 7.6-7.6-7.6zM1014.2 703.4l7.6 7.6-7.6 7.6-7.6-7.6zM1014.4 706.9l7.6 7.6-7.6 7.6-7.6-7.6zM1014.7 706.2l7.6 7.6-7.6 7.6-7.6-7.6zM1014.9 711.3l7.6 7.6-7.6 7.6-7.6-7.6zM1015.2 709.7l7.6 7.6-7.6 7.6-7.6-7.6zM1015.4 706.1l7.6 7.6-7.6 7.6-7.6-7.6zM1015.7 711.5l7.6 7.6-7.6 7.6-7.6-7.6zM1015.9 712.7l7.6 7.6-7.6 7.6-7.6-7.6zM1016.2 708.5l7.6 7.6-7.6 7.6-7.6-7.6zM1016.4 701.5l7.6 7.6-7.6 7.6-7.6-7.6zM1016.7 706.1l7.6 7.6-7.6 7.6-7.6-7.6zM1016.9 700.3l7.6 7.6-7.6 7.6-7.6-7.6zM1017.2 707.7l7.6 7.6-7.6 7.6-7.6-7.6zM1017.4 708.5l7.6 7.6-7.6 7.6-7.6-7.6zM1017.7 713.5l7.6 7.6-7.6 7.6-7.6-7.6zM1017.9 709.8l7.6 7.6-7.6 7.6-7.6-7.6zM1018.2 700.6l7.6 7.6-7.6 7.6-7.6-7.6zM1018.4 705.7l7.6 7.6-7.6 7.6-7.6-7.6zM1018.7 703.9l7.6 7.6-7.6 7.6-7.6-7.6zM1018.9 704l7.6 7.6-7.6 7.6-7.6-7.6zM1019.2 707.4l7.6 7.6-7.6 7.6-7.6-7.6zM1019.4 708.3l7.6 7.6-7.6 7.6-7.6-7.6zM1019.7 706.8l7.6 7.6-7.6 7.6-7.6-7.6zM1019.9 704.3l7.6 7.6-7.6 7.6-7.6-7.6zM1020.2 705.3l7.6 7.6-7.6 7.6-7.6-7.6zM1020.5 705.2l7.6 7.6-7.6 7.6-7.6-7.6zM1020.7 706.8l7.6 7.6-7.6 7.6-7.6-7.6zM1021 711l7.6 7.6-7.6 7.6-7.6-7.6zM1021.2 708.7l7.6 7.6-7.6 7.6-7.6-7.6zM1021.5 711.9l7.6 7.6-7.6 7.6-7.6-7.6zM1021.7 703l7.6 7.6-7.6 7.6-7.6-7.6zM1022 717.3l7.6 7.6-7.6 7.6-7.6-7.6zM1022.2 708.6l7.6 7.6-7.6 7.6-7.6-7.6zM1022.5 696.7l7.6 7.6-7.6 7.6-7.6-7.6zM1022.7 709.3l7.6 7.6-7.6 7.6-7.6-7.6zM1023 712.9l7.6 7.6-7.6 7.6-7.6-7.6zM1023.2 707.8l7.6 7.6-7.6 7.6-7.6-7.6zM1023.5 701.9l7.6 7.6-7.6 7.6-7.6-7.6zM1023.7 708.5l7.6 7.6-7.6 7.6-7.6-7.6zM1024 705l7.6 7.6-7.6 7.6-7.6-7.6zM1024.2 707.4l7.6 7.6-7.6 7.6-7.6-7.6zM1024.5 709.6l7.6 7.6-7.6 7.6-7.6-7.6zM1024.7 693.5l7.6 7.6-7.6 7.6-7.6-7.6zM1025 707.6l7.6 7.6-7.6 7.6-7.6-7.6zM1025.2 710.4l7.6 7.6-7.6 7.6-7.6-7.6zM1025.5 710.2l7.6 7.6-7.6 7.6-7.6-7.6zM1025.7 706.2l7.6 7.6-7.6 7.6-7.6-7.6zM1026 706.1l7.6 7.6-7.6 7.6-7.6-7.6zM1026.2 704.5l7.6 7.6-7.6 7.6-7.6-7.6zM1026.5 707.4l7.6 7.6-7.6 7.6-7.6-7.6zM1026.8 714.6l7.6 7.6-7.6 7.6-7.6-7.6zM1027 705.6l7.6 7.6-7.6 7.6-7.6-7.6zM1027.3 709.5l7.6 7.6-7.6 7.6-7.6-7.6zM1027.5 709.4l7.6 7.6-7.6 7.6-7.6-7.6zM1027.8 714.9l7.6 7.6-7.6 7.6-7.6-7.6zM1028 710.8l7.6 7.6-7.6 7.6-7.6-7.6zM1028.3 711.5l7.6 7.6-7.6 7.6-7.6-7.6zM1028.5 708.4l7.6 7.6-7.6 7.6-7.6-7.6zM1028.8 714.9l7.6 7.6-7.6 7.6-7.6-7.6zM1029 708l7.6 7.6-7.6 7.6-7.6-7.6zM1029.3 707.7l7.6 7.6-7.6 7.6-7.6-7.6zM1029.5 713.4l7.6 7.6-7.6 7.6-7.6-7.6zM1029.8 711.1l7.6 7.6-7.6 7.6-7.6-7.6zM1030 712.2l7.6 7.6-7.6 7.6-7.6-7.6zM1030.3 704.2l7.6 7.6-7.6 7.6-7.6-7.6zM1030.5 719.9l7.6 7.6-7.6 7.6-7.6-7.6zM1030.8 709.9l7.6 7.6-7.6 7.6-7.6-7.6zM1031 716l7.6 7.6-7.6 7.6-7.6-7.6zM1031.3 710.4l7.6 7.6-7.6 7.6-7.6-7.6zM1031.5 704.5l7.6 7.6-7.6 7.6-7.6-7.6zM1031.8 711.3l7.6 7.6-7.6 7.6-7.6-7.6zM1032 707.8l7.6 7.6-7.6 7.6-7.6-7.6zM1032.3 712.3l7.6 7.6-7.6 7.6-7.6-7.6zM1032.5 699.6l7.6 7.6-7.6 7.6-7.6-7.6zM1032.8 704.3l7.6 7.6-7.6 7.6-7.6-7.6zM1033.1 703.4l7.6 7.6-7.6 7.6-7.6-7.6zM1033.3 714.6l7.6 7.6-7.6 7.6-7.6-7.6zM1033.6 713.5l7.6 7.6-7.6 7.6-7.6-7.6zM1033.8 703.6l7.6 7.6-7.6 7.6-7.6-7.6zM1034.1 709.4l7.6 7.6-7.6 7.6-7.6-7.6zM1034.3 709.7l7.6 7.6-7.6 7.6-7.6-7.6zM1034.6 707.1l7.6 7.6-7.6 7.6-7.6-7.6zM1034.8 714.3l7.6 7.6-7.6 7.6-7.6-7.6zM1035.1 705.1l7.6 7.6-7.6 7.6-7.6-7.6zM1035.3 708.5l7.6 7.6-7.6 7.6-7.6-7.6zM1035.6 706.5l7.6 7.6-7.6 7.6-7.6-7.6zM1035.8 711.7l7.6 7.6-7.6 7.6-7.6-7.6zM1036.1 706.3l7.6 7.6-7.6 7.6-7.6-7.6zM1036.3 711.9l7.6 7.6-7.6 7.6-7.6-7.6zM1036.6 704.3l7.6 7.6-7.6 7.6-7.6-7.6zM1036.8 703.6l7.6 7.6-7.6 7.6-7.6-7.6zM1037.1 704.6l7.6 7.6-7.6 7.6-7.6-7.6zM1037.3 706.4l7.6 7.6-7.6 7.6-7.6-7.6zM1037.6 705.9l7.6 7.6-7.6 7.6-7.6-7.6zM1037.8 721.1l7.6 7.6-7.6 7.6-7.6-7.6zM1038.1 705l7.6 7.6-7.6 7.6-7.6-7.6zM1038.3 710l7.6 7.6-7.6 7.6-7.6-7.6zM1038.6 708.4l7.6 7.6-7.6 7.6-7.6-7.6zM1038.8 710.1l7.6 7.6-7.6 7.6-7.6-7.6zM1039.1 715.1l7.6 7.6-7.6 7.6-7.6-7.6zM1039.4 711.3l7.6 7.6-7.6 7.6-7.6-7.6zM1039.6 705.8l7.6 7.6-7.6 7.6-7.6-7.6zM1039.9 702.4l7.6 7.6-7.6 7.6-7.6-7.6zM1040.1 711.7l7.6 7.6-7.6 7.6-7.6-7.6zM1040.4 713l7.6 7.6-7.6 7.6-7.6-7.6zM1040.6 702.3l7.6 7.6-7.6 7.6-7.6-7.6zM1040.9 712.9l7.6 7.6-7.6 7.6-7.6-7.6zM1041.1 699.5l7.6 7.6-7.6 7.6-7.6-7.6zM1041.4 708.7l7.6 7.6-7.6 7.6-7.6-7.6zM1041.6 712.9l7.6 7.6-7.6 7.6-7.6-7.6zM1041.9 704.4l7.6 7.6-7.6 7.6-7.6-7.6zM1042.1 701.2l7.6 7.6-7.6 7.6-7.6-7.6zM1042.4 715.5l7.6 7.6-7.6 7.6-7.6-7.6zM1042.6 701.9l7.6 7.6-7.6 7.6-7.6-7.6zM1042.9 710.3l7.6 7.6-7.6 7.6-7.6-7.6zM1043.1 702.2l7.6 7.6-7.6 7.6-7.6-7.6zM1043.4 710.7l7.6 7.6-7.6 7.6-7.6-7.6zM1043.6 716.2l7.6 7.6-7.6 7.6-7.6-7.6zM1043.9 706.7l7.6 7.6-7.6 7.6-7.6-7.6zM1044.1 704.8l7.6 7.6-7.6 7.6-7.6-7.6zM1044.4 699.5l7.6 7.6-7.6 7.6-7.6-7.6zM1044.6 701.2l7.6 7.6-7.6 7.6-7.6-7.6zM1044.9 705.9l7.6 7.6-7.6 7.6-7.6-7.6zM1045.1 710.1l7.6 7.6-7.6 7.6-7.6-7.6zM1045.4 711.4l7.6 7.6-7.6 7.6-7.6-7.6zM1045.7 710.4l7.6 7.6-7.6 7.6-7.6-7.6zM1045.9 712.9l7.6 7.6-7.6 7.6-7.6-7.6zM1046.2 710.3l7.6 7.6-7.6 7.6-7.6-7.6zM1046.4 720.7l7.6 7.6-7.6 7.6-7.6-7.6zM1046.7 708.3l7.6 7.6-7.6 7.6-7.6-7.6zM1046.9 709.3l7.6 7.6-7.6 7.6-7.6-7.6zM1047.2 697.5l7.6 7.6-7.6 7.6-7.6-7.6zM1047.4 705.7l7.6 7.6-7.6 7.6-7.6-7.6zM1047.7 711.3l7.6 7.6-7.6 7.6-7.6-7.6zM1047.9 706.6l7.6 7.6-7.6 7.6-7.6-7.6zM1048.2 714.8l7.6 7.6-7.6 7.6-7.6-7.6zM1048.4 711.9l7.6 7.6-7.6 7.6-7.6-7.6zM1048.7 717.7l7.6 7.6-7.6 7.6-7.6-7.6zM1048.9 702.7l7.6 7.6-7.6 7.6-7.6-7.6zM1049.2 706.5l7.6 7.6-7.6 7.6-7.6-7.6zM1049.4 714.6l7.6 7.6-7.6 7.6-7.6-7.6zM1049.7 709.5l7.6 7.6-7.6 7.6-7.6-7.6zM1049.9 704.9l7.6 7.6-7.6 7.6-7.6-7.6zM1050.2 707l7.6 7.6-7.6 7.6-7.6-7.6zM1050.4 707.5l7.6 7.6-7.6 7.6-7.6-7.6zM1050.7 713.2l7.6 7.6-7.6 7.6-7.6-7.6zM1050.9 712.2l7.6 7.6-7.6 7.6-7.6-7.6zM1051.2 708.9l7.6 7.6-7.6 7.6-7.6-7.6zM1051.4 705.1l7.6 7.6-7.6 7.6-7.6-7.6zM1051.7 713.1l7.6 7.6-7.6 7.6-7.6-7.6zM1052 714.4l7.6 7.6-7.6 7.6-7.6-7.6zM1052.2 704.1l7.6 7.6-7.6 7.6-7.6-7.6zM1052.5 713.6l7.6 7.6-7.6 7.6-7.6-7.6zM1052.7 704.5l7.6 7.6-7.6 7.6-7.6-7.6zM1053 708.3l7.6 7.6-7.6 7.6-7.6-7.6zM1053.2 705.4l7.6 7.6-7.6 7.6-7.6-7.6zM1053.5 701.5l7.6 7.6-7.6 7.6-7.6-7.6zM1053.7 706.3l7.6 7.6-7.6 7.6-7.6-7.6zM1054 705.9l7.6 7.6-7.6 7.6-7.6-7.6zM1054.2 713.6l7.6 7.6-7.6 7.6-7.6-7.6zM1054.5 712.6l7.6 7.6-7.6 7.6-7.6-7.6zM1054.7 706.5l7.6 7.6-7.6 7.6-7.6-7.6zM1055 702.5l7.6 7.6-7.6 7.6-7.6-7.6zM1055.2 703.2l7.6 7.6-7.6 7.6-7.6-7.6zM1055.5 699l7.6 7.6-7.6 7.6-7.6-7.6zM1055.7 708.1l7.6 7.6-7.6 7.6-7.6-7.6zM1056 708.6l7.6 7.6-7.6 7.6-7.6-7.6zM1056.2 705l7.6 7.6-7.6 7.6-7.6-7.6zM1056.5 709.4l7.6 7.6-7.6 7.6-7.6-7.6zM1056.7 709.8l7.6 7.6-7.6 7.6-7.6-7.6zM1057 714.3l7.6 7.6-7.6 7.6-7.6-7.6zM1057.2 705.1l7.6 7.6-7.6 7.6-7.6-7.6zM1057.5 714.4l7.6 7.6-7.6 7.6-7.6-7.6zM1057.7 707.3l7.6 7.6-7.6 7.6-7.6-7.6zM1058 716l7.6 7.6-7.6 7.6-7.6-7.6zM1058.3 704.6l7.6 7.6-7.6 7.6-7.6-7.6zM1058.5 714.3l7.6 7.6-7.6 7.6-7.6-7.6zM1058.8 705.8l7.6 7.6-7.6 7.6-7.6-7.6zM1059 716.9l7.6 7.6-7.6 7.6-7.6-7.6zM1059.3 711.7l7.6 7.6-7.6 7.6-7.6-7.6zM1059.5 704.3l7.6 7.6-7.6 7.6-7.6-7.6zM1059.8 713.3l7.6 7.6-7.6 7.6-7.6-7.6zM1060 709.4l7.6 7.6-7.6 7.6-7.6-7.6zM1060.3 711.9l7.6 7.6-7.6 7.6-7.6-7.6zM1060.5 720.2l7.6 7.6-7.6 7.6-7.6-7.6zM1060.8 708.3l7.6 7.6-7.6 7.6-7.6-7.6zM1061 707.8l7.6 7.6-7.6 7.6-7.6-7.6zM1061.3 714.8l7.6 7.6-7.6 7.6-7.6-7.6zM1061.5 707.2l7.6 7.6-7.6 7.6-7.6-7.6zM1061.8 713.4l7.6 7.6-7.6 7.6-7.6-7.6zM1062 714.4l7.6 7.6-7.6 7.6-7.6-7.6zM1062.3 709.8l7.6 7.6-7.6 7.6-7.6-7.6zM1062.5 712.9l7.6 7.6-7.6 7.6-7.6-7.6zM1062.8 699.5l7.6 7.6-7.6 7.6-7.6-7.6zM1063 716.9l7.6 7.6-7.6 7.6-7.6-7.6zM1063.3 706.5l7.6 7.6-7.6 7.6-7.6-7.6zM1063.5 705.4l7.6 7.6-7.6 7.6-7.6-7.6zM1063.8 718.9l7.6 7.6-7.6 7.6-7.6-7.6zM1064 717.8l7.6 7.6-7.6 7.6-7.6-7.6zM1064.3 707.4l7.6 7.6-7.6 7.6-7.6-7.6zM1064.6 712.1l7.6 7.6-7.6 7.6-7.6-7.6zM1064.8 708.2l7.6 7.6-7.6 7.6-7.6-7.6zM1065.1 704.8l7.6 7.6-7.6 7.6-7.6-7.6zM1065.3 711.7l7.6 7.6-7.6 7.6-7.6-7.6zM1065.6 714.8l7.6 7.6-7.6 7.6-7.6-7.6zM1065.8 722.4l7.6 7.6-7.6 7.6-7.6-7.6zM1066.1 709.1l7.6 7.6-7.6 7.6-7.6-7.6zM1066.3 714.3l7.6 7.6-7.6 7.6-7.6-7.6zM1066.6 708.7l7.6 7.6-7.6 7.6-7.6-7.6zM1066.8 709l7.6 7.6-7.6 7.6-7.6-7.6zM1067.1 716.4l7.6 7.6-7.6 7.6-7.6-7.6zM1067.3 702.3l7.6 7.6-7.6 7.6-7.6-7.6zM1067.6 705.2l7.6 7.6-7.6 7.6-7.6-7.6zM1067.8 706.3l7.6 7.6-7.6 7.6-7.6-7.6zM1068.1 715.5l7.6 7.6-7.6 7.6-7.6-7.6zM1068.3 712l7.6 7.6-7.6 7.6-7.6-7.6zM1068.6 712.7l7.6 7.6-7.6 7.6-7.6-7.6zM1068.8 712.1l7.6 7.6-7.6 7.6-7.6-7.6zM1069.1 715.3l7.6 7.6-7.6 7.6-7.6-7.6zM1069.3 708.3l7.6 7.6-7.6 7.6-7.6-7.6zM1069.6 709.2l7.6 7.6-7.6 7.6-7.6-7.6zM1069.8 708.6l7.6 7.6-7.6 7.6-7.6-7.6zM1070.1 712.6l7.6 7.6-7.6 7.6-7.6-7.6zM1070.3 704.5l7.6 7.6-7.6 7.6-7.6-7.6zM1070.6 709.5l7.6 7.6-7.6 7.6-7.6-7.6zM1070.9 722.7l7.6 7.6-7.6 7.6-7.6-7.6zM1071.1 713.3l7.6 7.6-7.6 7.6-7.6-7.6zM1071.4 710.6l7.6 7.6-7.6 7.6-7.6-7.6zM1071.6 706l7.6 7.6-7.6 7.6-7.6-7.6zM1071.9 711.8l7.6 7.6-7.6 7.6-7.6-7.6zM1072.1 711.6l7.6 7.6-7.6 7.6-7.6-7.6zM1072.4 713.4l7.6 7.6-7.6 7.6-7.6-7.6zM1072.6 707.5l7.6 7.6-7.6 7.6-7.6-7.6zM1072.9 712.5l7.6 7.6-7.6 7.6-7.6-7.6zM1073.1 713.2l7.6 7.6-7.6 7.6-7.6-7.6zM1073.4 713.9l7.6 7.6-7.6 7.6-7.6-7.6zM1073.6 708l7.6 7.6-7.6 7.6-7.6-7.6zM1073.9 713l7.6 7.6-7.6 7.6-7.6-7.6zM1074.1 718.1l7.6 7.6-7.6 7.6-7.6-7.6zM1074.4 707.8l7.6 7.6-7.6 7.6-7.6-7.6zM1074.6 713.8l7.6 7.6-7.6 7.6-7.6-7.6zM1074.9 709l7.6 7.6-7.6 7.6-7.6-7.6zM1075.1 709l7.6 7.6-7.6 7.6-7.6-7.6zM1075.4 705.2l7.6 7.6-7.6 7.6-7.6-7.6zM1075.6 706l7.6 7.6-7.6 7.6-7.6-7.6zM1075.9 713.3l7.6 7.6-7.6 7.6-7.6-7.6zM1076.1 711.5l7.6 7.6-7.6 7.6-7.6-7.6zM1076.4 716.6l7.6 7.6-7.6 7.6-7.6-7.6zM1076.6 703.2l7.6 7.6-7.6 7.6-7.6-7.6zM1076.9 708.8l7.6 7.6-7.6 7.6-7.6-7.6zM1077.2 704.5l7.6 7.6-7.6 7.6-7.6-7.6zM1077.4 712.2l7.6 7.6-7.6 7.6-7.6-7.6zM1077.7 720.1l7.6 7.6-7.6 7.6-7.6-7.6zM1077.9 703.9l7.6 7.6-7.6 7.6-7.6-7.6zM1078.2 710.4l7.6 7.6-7.6 7.6-7.6-7.6zM1078.4 710.3l7.6 7.6-7.6 7.6-7.6-7.6zM1078.7 710.6l7.6 7.6-7.6 7.6-7.6-7.6zM1078.9 708l7.6 7.6-7.6 7.6-7.6-7.6zM1079.2 708.5l7.6 7.6-7.6 7.6-7.6-7.6zM1079.4 718.1l7.6 7.6-7.6 7.6-7.6-7.6zM1079.7 706.1l7.6 7.6-7.6 7.6-7.6-7.6zM1079.9 713.4l7.6 7.6-7.6 7.6-7.6-7.6zM1080.2 713.1l7.6 7.6-7.6 7.6-7.6-7.6zM1080.4 703.3l7.6 7.6-7.6 7.6-7.6-7.6zM1080.7 706.9l7.6 7.6-7.6 7.6-7.6-7.6zM1080.9 712.6l7.6 7.6-7.6 7.6-7.6-7.6zM1081.2 719.4l7.6 7.6-7.6 7.6-7.6-7.6zM1081.4 710.4l7.6 7.6-7.6 7.6-7.6-7.6zM1081.7 708.7l7.6 7.6-7.6 7.6-7.6-7.6zM1081.9 711.5l7.6 7.6-7.6 7.6-7.6-7.6zM1082.2 716.7l7.6 7.6-7.6 7.6-7.6-7.6zM1082.4 714.7l7.6 7.6-7.6 7.6-7.6-7.6zM1082.7 716.8l7.6 7.6-7.6 7.6-7.6-7.6zM1082.9 710.2l7.6 7.6-7.6 7.6-7.6-7.6zM1083.2 707.5l7.6 7.6-7.6 7.6-7.6-7.6zM1083.5 706.6l7.6 7.6-7.6 7.6-7.6-7.6zM1083.7 714.5l7.6 7.6-7.6 7.6-7.6-7.6zM1084 710.2l7.6 7.6-7.6 7.6-7.6-7.6zM1084.2 708.8l7.6 7.6-7.6 7.6-7.6-7.6zM1084.5 713.6l7.6 7.6-7.6 7.6-7.6-7.6zM1084.7 712l7.6 7.6-7.6 7.6-7.6-7.6zM1085 701.8l7.6 7.6-7.6 7.6-7.6-7.6zM1085.2 710.4l7.6 7.6-7.6 7.6-7.6-7.6zM1085.5 707.4l7.6 7.6-7.6 7.6-7.6-7.6zM1085.7 713.3l7.6 7.6-7.6 7.6-7.6-7.6zM1086 711.2l7.6 7.6-7.6 7.6-7.6-7.6zM1086.2 719.1l7.6 7.6-7.6 7.6-7.6-7.6zM1086.5 711.5l7.6 7.6-7.6 7.6-7.6-7.6zM1086.7 706.1l7.6 7.6-7.6 7.6-7.6-7.6zM1087 702l7.6 7.6-7.6 7.6-7.6-7.6zM1087.2 706.1l7.6 7.6-7.6 7.6-7.6-7.6zM1087.5 708.4l7.6 7.6-7.6 7.6-7.6-7.6zM1087.7 711.3l7.6 7.6-7.6 7.6-7.6-7.6zM1088 714.2l7.6 7.6-7.6 7.6-7.6-7.6zM1088.2 712.3l7.6 7.6-7.6 7.6-7.6-7.6zM1088.5 708.8l7.6 7.6-7.6 7.6-7.6-7.6zM1088.7 715.1l7.6 7.6-7.6 7.6-7.6-7.6zM1089 707.4l7.6 7.6-7.6 7.6-7.6-7.6zM1089.2 716l7.6 7.6-7.6 7.6-7.6-7.6zM1089.5 719.6l7.6 7.6-7.6 7.6-7.6-7.6zM1089.8 716.2l7.6 7.6-7.6 7.6-7.6-7.6zM1090 719.1l7.6 7.6-7.6 7.6-7.6-7.6zM1090.3 717.8l7.6 7.6-7.6 7.6-7.6-7.6zM1090.5 706.6l7.6 7.6-7.6 7.6-7.6-7.6zM1090.8 712.6l7.6 7.6-7.6 7.6-7.6-7.6zM1091 710.7l7.6 7.6-7.6 7.6-7.6-7.6zM1091.3 706.5l7.6 7.6-7.6 7.6-7.6-7.6zM1091.5 706.1l7.6 7.6-7.6 7.6-7.6-7.6zM1091.8 714l7.6 7.6-7.6 7.6-7.6-7.6zM1092 705.8l7.6 7.6-7.6 7.6-7.6-7.6zM1092.3 710l7.6 7.6-7.6 7.6-7.6-7.6zM1092.5 711.8l7.6 7.6-7.6 7.6-7.6-7.6zM1092.8 709.8l7.6 7.6-7.6 7.6-7.6-7.6zM1093 718.2l7.6 7.6-7.6 7.6-7.6-7.6zM1093.3 715.3l7.6 7.6-7.6 7.6-7.6-7.6zM1093.5 712.3l7.6 7.6-7.6 7.6-7.6-7.6zM1093.8 709.1l7.6 7.6-7.6 7.6-7.6-7.6zM1094 713.5l7.6 7.6-7.6 7.6-7.6-7.6zM1094.3 712.4l7.6 7.6-7.6 7.6-7.6-7.6zM1094.5 707.5l7.6 7.6-7.6 7.6-7.6-7.6zM1094.8 705.6l7.6 7.6-7.6 7.6-7.6-7.6zM1095 708.5l7.6 7.6-7.6 7.6-7.6-7.6zM1095.3 706.2l7.6 7.6-7.6 7.6-7.6-7.6zM1095.5 713.7l7.6 7.6-7.6 7.6-7.6-7.6zM1095.8 713.3l7.6 7.6-7.6 7.6-7.6-7.6zM1096.1 710.5l7.6 7.6-7.6 7.6-7.6-7.6zM1096.3 713.3l7.6 7.6-7.6 7.6-7.6-7.6zM1096.6 714.2l7.6 7.6-7.6 7.6-7.6-7.6zM1096.8 704.6l7.6 7.6-7.6 7.6-7.6-7.6zM1097.1 712.9l7.6 7.6-7.6 7.6-7.6-7.6zM1097.3 716.3l7.6 7.6-7.6 7.6-7.6-7.6zM1097.6 709.8l7.6 7.6-7.6 7.6-7.6-7.6zM1097.8 703.8l7.6 7.6-7.6 7.6-7.6-7.6zM1098.1 711.6l7.6 7.6-7.6 7.6-7.6-7.6zM1098.3 706.5l7.6 7.6-7.6 7.6-7.6-7.6zM1098.6 714l7.6 7.6-7.6 7.6-7.6-7.6zM1098.8 714.2l7.6 7.6-7.6 7.6-7.6-7.6zM1099.1 715.1l7.6 7.6-7.6 7.6-7.6-7.6zM1099.3 712.7l7.6 7.6-7.6 7.6-7.6-7.6zM1099.6 703.8l7.6 7.6-7.6 7.6-7.6-7.6zM1099.8 717.2l7.6 7.6-7.6 7.6-7.6-7.6zM1100.1 704.7l7.6 7.6-7.6 7.6-7.6-7.6zM1100.3 716.5l7.6 7.6-7.6 7.6-7.6-7.6zM1100.6 713.1l7.6 7.6-7.6 7.6-7.6-7.6zM1100.8 708.3l7.6 7.6-7.6 7.6-7.6-7.6zM1101.1 709.2l7.6 7.6-7.6 7.6-7.6-7.6zM1101.3 710.8l7.6 7.6-7.6 7.6-7.6-7.6zM1101.6 719.4l7.6 7.6-7.6 7.6-7.6-7.6zM1101.8 710.4l7.6 7.6-7.6 7.6-7.6-7.6zM1102.1 716.6l7.6 7.6-7.6 7.6-7.6-7.6zM1102.4 700.6l7.6 7.6-7.6 7.6-7.6-7.6zM1102.6 713l7.6 7.6-7.6 7.6-7.6-7.6zM1102.9 711.2l7.6 7.6-7.6 7.6-7.6-7.6zM1103.1 717.2l7.6 7.6-7.6 7.6-7.6-7.6zM1103.4 714.2l7.6 7.6-7.6 7.6-7.6-7.6zM1103.6 717.8l7.6 7.6-7.6 7.6-7.6-7.6zM1103.9 707.7l7.6 7.6-7.6 7.6-7.6-7.6zM1104.1 713.2l7.6 7.6-7.6 7.6-7.6-7.6zM1104.4 709.5l7.6 7.6-7.6 7.6-7.6-7.6zM1104.6 715.1l7.6 7.6-7.6 7.6-7.6-7.6zM1104.9 714.3l7.6 7.6-7.6 7.6-7.6-7.6zM1105.1 706.3l7.6 7.6-7.6 7.6-7.6-7.6zM1105.4 716.4l7.6 7.6-7.6 7.6-7.6-7.6zM1105.6 720.1l7.6 7.6-7.6 7.6-7.6-7.6zM1105.9 710.2l7.6 7.6-7.6 7.6-7.6-7.6zM1106.1 717.2l7.6 7.6-7.6 7.6-7.6-7.6zM1106.4 714l7.6 7.6-7.6 7.6-7.6-7.6zM1106.6 708l7.6 7.6-7.6 7.6-7.6-7.6zM1106.9 715.7l7.6 7.6-7.6 7.6-7.6-7.6zM1107.1 708.1l7.6 7.6-7.6 7.6-7.6-7.6zM1107.4 715.1l7.6 7.6-7.6 7.6-7.6-7.6zM1107.6 705.4l7.6 7.6-7.6 7.6-7.6-7.6zM1107.9 706.1l7.6 7.6-7.6 7.6-7.6-7.6zM1108.1 714.1l7.6 7.6-7.6 7.6-7.6-7.6zM1108.4 713l7.6 7.6-7.6 7.6-7.6-7.6zM1108.7 715.7l7.6 7.6-7.6 7.6-7.6-7.6zM1108.9 711.1l7.6 7.6-7.6 7.6-7.6-7.6zM1109.2 706.8l7.6 7.6-7.6 7.6-7.6-7.6zM1109.4 718.5l7.6 7.6-7.6 7.6-7.6-7.6zM1109.7 707.9l7.6 7.6-7.6 7.6-7.6-7.6zM1109.9 717.9l7.6 7.6-7.6 7.6-7.6-7.6zM1110.2 715.8l7.6 7.6-7.6 7.6-7.6-7.6zM1110.4 719.9l7.6 7.6-7.6 7.6-7.6-7.6zM1110.7 702.5l7.6 7.6-7.6 7.6-7.6-7.6zM1110.9 711.7l7.6 7.6-7.6 7.6-7.6-7.6zM1111.2 710.8l7.6 7.6-7.6 7.6-7.6-7.6zM1111.4 714.9l7.6 7.6-7.6 7.6-7.6-7.6zM1111.7 707.1l7.6 7.6-7.6 7.6-7.6-7.6zM1111.9 721.3l7.6 7.6-7.6 7.6-7.6-7.6zM1112.2 711.8l7.6 7.6-7.6 7.6-7.6-7.6zM1112.4 702l7.6 7.6-7.6 7.6-7.6-7.6zM1112.7 713.6l7.6 7.6-7.6 7.6-7.6-7.6zM1112.9 711.8l7.6 7.6-7.6 7.6-7.6-7.6zM1113.2 708.8l7.6 7.6-7.6 7.6-7.6-7.6zM1113.4 715.4l7.6 7.6-7.6 7.6-7.6-7.6zM1113.7 711.7l7.6 7.6-7.6 7.6-7.6-7.6zM1113.9 707.5l7.6 7.6-7.6 7.6-7.6-7.6zM1114.2 710.9l7.6 7.6-7.6 7.6-7.6-7.6zM1114.4 710.1l7.6 7.6-7.6 7.6-7.6-7.6zM1114.7 713.3l7.6 7.6-7.6 7.6-7.6-7.6zM1115 710.3l7.6 7.6-7.6 7.6-7.6-7.6zM1115.2 711.5l7.6 7.6-7.6 7.6-7.6-7.6zM1115.5 705.2l7.6 7.6-7.6 7.6-7.6-7.6zM1115.7 708.4l7.6 7.6-7.6 7.6-7.6-7.6zM1116 712.8l7.6 7.6-7.6 7.6-7.6-7.6zM1116.2 722.6l7.6 7.6-7.6 7.6-7.6-7.6zM1116.5 708.4l7.6 7.6-7.6 7.6-7.6-7.6zM1116.7 708.2l7.6 7.6-7.6 7.6-7.6-7.6zM1117 715.7l7.6 7.6-7.6 7.6-7.6-7.6zM1117.2 720.5l7.6 7.6-7.6 7.6-7.6-7.6zM1117.5 716.7l7.6 7.6-7.6 7.6-7.6-7.6zM1117.7 707.4l7.6 7.6-7.6 7.6-7.6-7.6zM1118 716.3l7.6 7.6-7.6 7.6-7.6-7.6zM1118.2 713.6l7.6 7.6-7.6 7.6-7.6-7.6zM1118.5 710.5l7.6 7.6-7.6 7.6-7.6-7.6zM1118.7 706l7.6 7.6-7.6 7.6-7.6-7.6zM1119 711.5l7.6 7.6-7.6 7.6-7.6-7.6zM1119.2 711.9l7.6 7.6-7.6 7.6-7.6-7.6zM1119.5 713.9l7.6 7.6-7.6 7.6-7.6-7.6zM1119.7 704l7.6 7.6-7.6 7.6-7.6-7.6zM1120 706.6l7.6 7.6-7.6 7.6-7.6-7.6zM1120.2 711.8l7.6 7.6-7.6 7.6-7.6-7.6zM1120.5 717.6l7.6 7.6-7.6 7.6-7.6-7.6zM1120.7 714.8l7.6 7.6-7.6 7.6-7.6-7.6zM1121 708.7l7.6 7.6-7.6 7.6-7.6-7.6zM1121.3 714.5l7.6 7.6-7.6 7.6-7.6-7.6zM1121.5 707.2l7.6 7.6-7.6 7.6-7.6-7.6zM1121.8 709.6l7.6 7.6-7.6 7.6-7.6-7.6zM1122 709.8l7.6 7.6-7.6 7.6-7.6-7.6zM1122.3 708.2l7.6 7.6-7.6 7.6-7.6-7.6zM1122.5 708.9l7.6 7.6-7.6 7.6-7.6-7.6zM1122.8 714.9l7.6 7.6-7.6 7.6-7.6-7.6zM1123 712.5l7.6 7.6-7.6 7.6-7.6-7.6zM1123.3 700.5l7.6 7.6-7.6 7.6-7.6-7.6zM1123.5 716.4l7.6 7.6-7.6 7.6-7.6-7.6zM1123.8 713.1l7.6 7.6-7.6 7.6-7.6-7.6zM1124 706.2l7.6 7.6-7.6 7.6-7.6-7.6zM1124.3 711.6l7.6 7.6-7.6 7.6-7.6-7.6zM1124.5 714.6l7.6 7.6-7.6 7.6-7.6-7.6zM1124.8 716.8l7.6 7.6-7.6 7.6-7.6-7.6zM1125 708.4l7.6 7.6-7.6 7.6-7.6-7.6zM1125.3 706.2l7.6 7.6-7.6 7.6-7.6-7.6zM1125.5 704.5l7.6 7.6-7.6 7.6-7.6-7.6zM1125.8 710.5l7.6 7.6-7.6 7.6-7.6-7.6zM1126 706l7.6 7.6-7.6 7.6-7.6-7.6zM1126.3 715.4l7.6 7.6-7.6 7.6-7.6-7.6zM1126.5 709.9l7.6 7.6-7.6 7.6-7.6-7.6zM1126.8 713.7l7.6 7.6-7.6 7.6-7.6-7.6zM1127 709.8l7.6 7.6-7.6 7.6-7.6-7.6zM1127.3 707.2l7.6 7.6-7.6 7.6-7.6-7.6zM1127.6 705.7l7.6 7.6-7.6 7.6-7.6-7.6zM1127.8 715l7.6 7.6-7.6 7.6-7.6-7.6zM1128.1 704.8l7.6 7.6-7.6 7.6-7.6-7.6zM1128.3 712.6l7.6 7.6-7.6 7.6-7.6-7.6zM1128.6 715.1l7.6 7.6-7.6 7.6-7.6-7.6zM1128.8 711.2l7.6 7.6-7.6 7.6-7.6-7.6zM1129.1 717l7.6 7.6-7.6 7.6-7.6-7.6zM1129.3 710.3l7.6 7.6-7.6 7.6-7.6-7.6zM1129.6 709l7.6 7.6-7.6 7.6-7.6-7.6zM1129.8 711.2l7.6 7.6-7.6 7.6-7.6-7.6zM1130.1 707.8l7.6 7.6-7.6 7.6-7.6-7.6zM1130.3 711.6l7.6 7.6-7.6 7.6-7.6-7.6zM1130.6 710.2l7.6 7.6-7.6 7.6-7.6-7.6zM1130.8 716.7l7.6 7.6-7.6 7.6-7.6-7.6zM1131.1 709.9l7.6 7.6-7.6 7.6-7.6-7.6zM1131.3 713.9l7.6 7.6-7.6 7.6-7.6-7.6zM1131.6 712.1l7.6 7.6-7.6 7.6-7.6-7.6zM1131.8 710.4l7.6 7.6-7.6 7.6-7.6-7.6zM1132.1 709.1l7.6 7.6-7.6 7.6-7.6-7.6zM1132.3 717.4l7.6 7.6-7.6 7.6-7.6-7.6zM1132.6 717l7.6 7.6-7.6 7.6-7.6-7.6zM1132.8 711.3l7.6 7.6-7.6 7.6-7.6-7.6zM1133.1 707.7l7.6 7.6-7.6 7.6-7.6-7.6zM1133.3 708.2l7.6 7.6-7.6 7.6-7.6-7.6zM1133.6 705.7l7.6 7.6-7.6 7.6-7.6-7.6zM1133.9 703.9l7.6 7.6-7.6 7.6-7.6-7.6zM1134.1 707.5l7.6 7.6-7.6 7.6-7.6-7.6zM1134.4 709.8l7.6 7.6-7.6 7.6-7.6-7.6zM1134.6 714.3l7.6 7.6-7.6 7.6-7.6-7.6zM1134.9 713.9l7.6 7.6-7.6 7.6-7.6-7.6zM1135.1 711.7l7.6 7.6-7.6 7.6-7.6-7.6zM1135.4 708.3l7.6 7.6-7.6 7.6-7.6-7.6zM1135.6 708.5l7.6 7.6-7.6 7.6-7.6-7.6zM1135.9 709.5l7.6 7.6-7.6 7.6-7.6-7.6zM1136.1 710.1l7.6 7.6-7.6 7.6-7.6-7.6zM1136.4 706.5l7.6 7.6-7.6 7.6-7.6-7.6zM1136.6 708.4l7.6 7.6-7.6 7.6-7.6-7.6zM1136.9 708l7.6 7.6-7.6 7.6-7.6-7.6zM1137.1 707.9l7.6 7.6-7.6 7.6-7.6-7.6zM1137.4 711.8l7.6 7.6-7.6 7.6-7.6-7.6zM1137.6 713.9l7.6 7.6-7.6 7.6-7.6-7.6zM1137.9 707l7.6 7.6-7.6 7.6-7.6-7.6zM1138.1 707.3l7.6 7.6-7.6 7.6-7.6-7.6zM1138.4 710.1l7.6 7.6-7.6 7.6-7.6-7.6zM1138.6 711l7.6 7.6-7.6 7.6-7.6-7.6zM1138.9 698.7l7.6 7.6-7.6 7.6-7.6-7.6zM1139.1 712.5l7.6 7.6-7.6 7.6-7.6-7.6zM1139.4 710l7.6 7.6-7.6 7.6-7.6-7.6zM1139.6 707.8l7.6 7.6-7.6 7.6-7.6-7.6zM1139.9 714.2l7.6 7.6-7.6 7.6-7.6-7.6zM1140.2 708.4l7.6 7.6-7.6 7.6-7.6-7.6zM1140.4 700.7l7.6 7.6-7.6 7.6-7.6-7.6zM1140.7 704.6l7.6 7.6-7.6 7.6-7.6-7.6zM1140.9 705.9l7.6 7.6-7.6 7.6-7.6-7.6zM1141.2 706.1l7.6 7.6-7.6 7.6-7.6-7.6zM1141.4 708.2l7.6 7.6-7.6 7.6-7.6-7.6zM1141.7 704.3l7.6 7.6-7.6 7.6-7.6-7.6zM1141.9 709.4l7.6 7.6-7.6 7.6-7.6-7.6zM1142.2 710.6l7.6 7.6-7.6 7.6-7.6-7.6zM1142.4 708.1l7.6 7.6-7.6 7.6-7.6-7.6zM1142.7 704.4l7.6 7.6-7.6 7.6-7.6-7.6zM1142.9 707l7.6 7.6-7.6 7.6-7.6-7.6zM1143.2 705.4l7.6 7.6-7.6 7.6-7.6-7.6zM1143.4 717.7l7.6 7.6-7.6 7.6-7.6-7.6zM1143.7 703l7.6 7.6-7.6 7.6-7.6-7.6zM1143.9 697.7l7.6 7.6-7.6 7.6-7.6-7.6zM1144.2 702.3l7.6 7.6-7.6 7.6-7.6-7.6zM1144.4 709.8l7.6 7.6-7.6 7.6-7.6-7.6zM1144.7 712.2l7.6 7.6-7.6 7.6-7.6-7.6zM1144.9 707l7.6 7.6-7.6 7.6-7.6-7.6zM1145.2 712.7l7.6 7.6-7.6 7.6-7.6-7.6zM1145.4 704.9l7.6 7.6-7.6 7.6-7.6-7.6zM1145.7 710.6l7.6 7.6-7.6 7.6-7.6-7.6zM1145.9 703.8l7.6 7.6-7.6 7.6-7.6-7.6zM1146.2 701.9l7.6 7.6-7.6 7.6-7.6-7.6zM1146.5 717.4l7.6 7.6-7.6 7.6-7.6-7.6zM1146.7 706.7l7.6 7.6-7.6 7.6-7.6-7.6zM1147 711.2l7.6 7.6-7.6 7.6-7.6-7.6zM1147.2 714.4l7.6 7.6-7.6 7.6-7.6-7.6zM1147.5 710.8l7.6 7.6-7.6 7.6-7.6-7.6zM1147.7 708.9l7.6 7.6-7.6 7.6-7.6-7.6zM1148 703.2l7.6 7.6-7.6 7.6-7.6-7.6zM1148.2 714.8l7.6 7.6-7.6 7.6-7.6-7.6zM1148.5 703l7.6 7.6-7.6 7.6-7.6-7.6zM1148.7 698.6l7.6 7.6-7.6 7.6-7.6-7.6zM1149 705.1l7.6 7.6-7.6 7.6-7.6-7.6zM1149.2 705.3l7.6 7.6-7.6 7.6-7.6-7.6zM1149.5 707.8l7.6 7.6-7.6 7.6-7.6-7.6zM1149.7 713.1l7.6 7.6-7.6 7.6-7.6-7.6zM1150 705.2l7.6 7.6-7.6 7.6-7.6-7.6zM1150.2 705.9l7.6 7.6-7.6 7.6-7.6-7.6zM1150.5 704.3l7.6 7.6-7.6 7.6-7.6-7.6zM1150.7 695.8l7.6 7.6-7.6 7.6-7.6-7.6zM1151 704.2l7.6 7.6-7.6 7.6-7.6-7.6zM1151.2 705.6l7.6 7.6-7.6 7.6-7.6-7.6zM1151.5 700.4l7.6 7.6-7.6 7.6-7.6-7.6zM1151.7 713.7l7.6 7.6-7.6 7.6-7.6-7.6zM1152 712.7l7.6 7.6-7.6 7.6-7.6-7.6zM1152.2 709.2l7.6 7.6-7.6 7.6-7.6-7.6zM1152.5 710.4l7.6 7.6-7.6 7.6-7.6-7.6zM1152.8 704.2l7.6 7.6-7.6 7.6-7.6-7.6zM1153 708.8l7.6 7.6-7.6 7.6-7.6-7.6zM1153.3 699.4l7.6 7.6-7.6 7.6-7.6-7.6zM1153.5 700.4l7.6 7.6-7.6 7.6-7.6-7.6zM1153.8 703.8l7.6 7.6-7.6 7.6-7.6-7.6zM1154 709.1l7.6 7.6-7.6 7.6-7.6-7.6zM1154.3 704.4l7.6 7.6-7.6 7.6-7.6-7.6zM1154.5 703.5l7.6 7.6-7.6 7.6-7.6-7.6zM1154.8 712.1l7.6 7.6-7.6 7.6-7.6-7.6zM1155 705.6l7.6 7.6-7.6 7.6-7.6-7.6zM1155.3 704l7.6 7.6-7.6 7.6-7.6-7.6zM1155.5 706.2l7.6 7.6-7.6 7.6-7.6-7.6zM1155.8 699.9l7.6 7.6-7.6 7.6-7.6-7.6zM1156 701.6l7.6 7.6-7.6 7.6-7.6-7.6zM1156.3 710.9l7.6 7.6-7.6 7.6-7.6-7.6zM1156.5 706.5l7.6 7.6-7.6 7.6-7.6-7.6zM1156.8 710.9l7.6 7.6-7.6 7.6-7.6-7.6zM1157 704.4l7.6 7.6-7.6 7.6-7.6-7.6zM1157.3 711l7.6 7.6-7.6 7.6-7.6-7.6zM1157.5 702.8l7.6 7.6-7.6 7.6-7.6-7.6zM1157.8 705.2l7.6 7.6-7.6 7.6-7.6-7.6zM1158 702.5l7.6 7.6-7.6 7.6-7.6-7.6zM1158.3 707.7l7.6 7.6-7.6 7.6-7.6-7.6zM1158.5 713.7l7.6 7.6-7.6 7.6-7.6-7.6zM1158.8 698.8l7.6 7.6-7.6 7.6-7.6-7.6zM1159.1 707.8l7.6 7.6-7.6 7.6-7.6-7.6zM1159.3 700.6l7.6 7.6-7.6 7.6-7.6-7.6zM1159.6 705l7.6 7.6-7.6 7.6-7.6-7.6zM1159.8 703.8l7.6 7.6-7.6 7.6-7.6-7.6zM1160.1 698.5l7.6 7.6-7.6 7.6-7.6-7.6zM1160.3 705.3l7.6 7.6-7.6 7.6-7.6-7.6zM1160.6 700.4l7.6 7.6-7.6 7.6-7.6-7.6zM1160.8 713.7l7.6 7.6-7.6 7.6-7.6-7.6zM1161.1 702.9l7.6 7.6-7.6 7.6-7.6-7.6zM1161.3 708l7.6 7.6-7.6 7.6-7.6-7.6zM1161.6 707.5l7.6 7.6-7.6 7.6-7.6-7.6zM1161.8 706.8l7.6 7.6-7.6 7.6-7.6-7.6zM1162.1 705.2l7.6 7.6-7.6 7.6-7.6-7.6zM1162.3 699.2l7.6 7.6-7.6 7.6-7.6-7.6zM1162.6 715.3l7.6 7.6-7.6 7.6-7.6-7.6zM1162.8 706.6l7.6 7.6-7.6 7.6-7.6-7.6zM1163.1 710.1l7.6 7.6-7.6 7.6-7.6-7.6zM1163.3 701.4l7.6 7.6-7.6 7.6-7.6-7.6zM1163.6 708.7l7.6 7.6-7.6 7.6-7.6-7.6zM1163.8 704.7l7.6 7.6-7.6 7.6-7.6-7.6zM1164.1 708.6l7.6 7.6-7.6 7.6-7.6-7.6zM1164.3 703.7l7.6 7.6-7.6 7.6-7.6-7.6zM1164.6 702.1l7.6 7.6-7.6 7.6-7.6-7.6zM1164.8 708.6l7.6 7.6-7.6 7.6-7.6-7.6zM1165.1 706.5l7.6 7.6-7.6 7.6-7.6-7.6zM1165.4 713.3l7.6 7.6-7.6 7.6-7.6-7.6zM1165.6 705.3l7.6 7.6-7.6 7.6-7.6-7.6zM1165.9 702.8l7.6 7.6-7.6 7.6-7.6-7.6zM1166.1 709.3l7.6 7.6-7.6 7.6-7.6-7.6zM1166.4 701.6l7.6 7.6-7.6 7.6-7.6-7.6zM1166.6 716.3l7.6 7.6-7.6 7.6-7.6-7.6zM1166.9 715.3l7.6 7.6-7.6 7.6-7.6-7.6zM1167.1 713.1l7.6 7.6-7.6 7.6-7.6-7.6zM1167.4 709l7.6 7.6-7.6 7.6-7.6-7.6zM1167.6 706.7l7.6 7.6-7.6 7.6-7.6-7.6zM1167.9 707.1l7.6 7.6-7.6 7.6-7.6-7.6zM1168.1 707.1l7.6 7.6-7.6 7.6-7.6-7.6zM1168.4 703.4l7.6 7.6-7.6 7.6-7.6-7.6zM1168.6 708.9l7.6 7.6-7.6 7.6-7.6-7.6zM1168.9 712.6l7.6 7.6-7.6 7.6-7.6-7.6zM1169.1 712.5l7.6 7.6-7.6 7.6-7.6-7.6zM1169.4 697l7.6 7.6-7.6 7.6-7.6-7.6zM1169.6 717.6l7.6 7.6-7.6 7.6-7.6-7.6zM1169.9 707.6l7.6 7.6-7.6 7.6-7.6-7.6zM1170.1 700.1l7.6 7.6-7.6 7.6-7.6-7.6zM1170.4 704.6l7.6 7.6-7.6 7.6-7.6-7.6zM1170.6 710.6l7.6 7.6-7.6 7.6-7.6-7.6zM1170.9 706.8l7.6 7.6-7.6 7.6-7.6-7.6zM1171.1 702.8l7.6 7.6-7.6 7.6-7.6-7.6zM1171.4 701.2l7.6 7.6-7.6 7.6-7.6-7.6zM1171.7 711l7.6 7.6-7.6 7.6-7.6-7.6zM1171.9 703.3l7.6 7.6-7.6 7.6-7.6-7.6zM1172.2 705.7l7.6 7.6-7.6 7.6-7.6-7.6zM1172.4 701.8l7.6 7.6-7.6 7.6-7.6-7.6zM1172.7 700.4l7.6 7.6-7.6 7.6-7.6-7.6zM1172.9 708.4l7.6 7.6-7.6 7.6-7.6-7.6zM1173.2 713.5l7.6 7.6-7.6 7.6-7.6-7.6zM1173.4 705.1l7.6 7.6-7.6 7.6-7.6-7.6zM1173.7 698.7l7.6 7.6-7.6 7.6-7.6-7.6zM1173.9 703.7l7.6 7.6-7.6 7.6-7.6-7.6zM1174.2 705.8l7.6 7.6-7.6 7.6-7.6-7.6zM1174.4 695.9l7.6 7.6-7.6 7.6-7.6-7.6zM1174.7 711.7l7.6 7.6-7.6 7.6-7.6-7.6zM1174.9 702.8l7.6 7.6-7.6 7.6-7.6-7.6zM1175.2 709.6l7.6 7.6-7.6 7.6-7.6-7.6zM1175.4 706.7l7.6 7.6-7.6 7.6-7.6-7.6zM1175.7 706.6l7.6 7.6-7.6 7.6-7.6-7.6zM1175.9 700l7.6 7.6-7.6 7.6-7.6-7.6zM1176.2 711.3l7.6 7.6-7.6 7.6-7.6-7.6zM1176.4 709.5l7.6 7.6-7.6 7.6-7.6-7.6zM1176.7 714.4l7.6 7.6-7.6 7.6-7.6-7.6zM1176.9 704.8l7.6 7.6-7.6 7.6-7.6-7.6zM1177.2 709.2l7.6 7.6-7.6 7.6-7.6-7.6zM1177.4 705.1l7.6 7.6-7.6 7.6-7.6-7.6zM1177.7 712l7.6 7.6-7.6 7.6-7.6-7.6zM1178 708.8l7.6 7.6-7.6 7.6-7.6-7.6zM1178.2 702.3l7.6 7.6-7.6 7.6-7.6-7.6zM1178.5 707.9l7.6 7.6-7.6 7.6-7.6-7.6zM1178.7 704.3l7.6 7.6-7.6 7.6-7.6-7.6zM1179 704.7l7.6 7.6-7.6 7.6-7.6-7.6zM1179.2 708.8l7.6 7.6-7.6 7.6-7.6-7.6zM1179.5 714.4l7.6 7.6-7.6 7.6-7.6-7.6zM1179.7 702.7l7.6 7.6-7.6 7.6-7.6-7.6zM1180 706.5l7.6 7.6-7.6 7.6-7.6-7.6zM1180.2 702.7l7.6 7.6-7.6 7.6-7.6-7.6zM1180.5 716.5l7.6 7.6-7.6 7.6-7.6-7.6zM1180.7 714.9l7.6 7.6-7.6 7.6-7.6-7.6zM1181 717.1l7.6 7.6-7.6 7.6-7.6-7.6zM1181.2 711.4l7.6 7.6-7.6 7.6-7.6-7.6zM1181.5 702.6l7.6 7.6-7.6 7.6-7.6-7.6zM1181.7 704.8l7.6 7.6-7.6 7.6-7.6-7.6zM1182 707.5l7.6 7.6-7.6 7.6-7.6-7.6zM1182.2 706.8l7.6 7.6-7.6 7.6-7.6-7.6zM1182.5 703.9l7.6 7.6-7.6 7.6-7.6-7.6zM1182.7 708.8l7.6 7.6-7.6 7.6-7.6-7.6zM1183 705.6l7.6 7.6-7.6 7.6-7.6-7.6zM1183.2 706.8l7.6 7.6-7.6 7.6-7.6-7.6zM1183.5 717.5l7.6 7.6-7.6 7.6-7.6-7.6zM1183.7 709.3l7.6 7.6-7.6 7.6-7.6-7.6zM1184 701.3l7.6 7.6-7.6 7.6-7.6-7.6zM1184.3 709.4l7.6 7.6-7.6 7.6-7.6-7.6zM1184.5 708.2l7.6 7.6-7.6 7.6-7.6-7.6zM1184.8 710.4l7.6 7.6-7.6 7.6-7.6-7.6zM1185 709.9l7.6 7.6-7.6 7.6-7.6-7.6zM1185.3 702.5l7.6 7.6-7.6 7.6-7.6-7.6zM1185.5 708.9l7.6 7.6-7.6 7.6-7.6-7.6zM1185.8 712.4l7.6 7.6-7.6 7.6-7.6-7.6zM1186 722l7.6 7.6-7.6 7.6-7.6-7.6zM1186.3 710.4l7.6 7.6-7.6 7.6-7.6-7.6zM1186.5 716.8l7.6 7.6-7.6 7.6-7.6-7.6zM1186.8 716.1l7.6 7.6-7.6 7.6-7.6-7.6zM1187 704.2l7.6 7.6-7.6 7.6-7.6-7.6zM1187.3 704.6l7.6 7.6-7.6 7.6-7.6-7.6zM1187.5 716.6l7.6 7.6-7.6 7.6-7.6-7.6zM1187.8 704l7.6 7.6-7.6 7.6-7.6-7.6zM1188 705.8l7.6 7.6-7.6 7.6-7.6-7.6zM1188.3 711.5l7.6 7.6-7.6 7.6-7.6-7.6zM1188.5 704.6l7.6 7.6-7.6 7.6-7.6-7.6zM1188.8 715.4l7.6 7.6-7.6 7.6-7.6-7.6zM1189 713.5l7.6 7.6-7.6 7.6-7.6-7.6zM1189.3 714.6l7.6 7.6-7.6 7.6-7.6-7.6zM1189.5 713.1l7.6 7.6-7.6 7.6-7.6-7.6zM1189.8 704l7.6 7.6-7.6 7.6-7.6-7.6zM1190 714.2l7.6 7.6-7.6 7.6-7.6-7.6zM1190.3 713.4l7.6 7.6-7.6 7.6-7.6-7.6zM1190.6 712.5l7.6 7.6-7.6 7.6-7.6-7.6zM1190.8 707.3l7.6 7.6-7.6 7.6-7.6-7.6zM1191.1 709.7l7.6 7.6-7.6 7.6-7.6-7.6zM1191.3 704.3l7.6 7.6-7.6 7.6-7.6-7.6zM1191.6 711.5l7.6 7.6-7.6 7.6-7.6-7.6zM1191.8 714.2l7.6 7.6-7.6 7.6-7.6-7.6zM1192.1 710.6l7.6 7.6-7.6 7.6-7.6-7.6zM1192.3 708.2l7.6 7.6-7.6 7.6-7.6-7.6zM1192.6 712.6l7.6 7.6-7.6 7.6-7.6-7.6zM1192.8 707.1l7.6 7.6-7.6 7.6-7.6-7.6zM1193.1 700.1l7.6 7.6-7.6 7.6-7.6-7.6zM1193.3 711.1l7.6 7.6-7.6 7.6-7.6-7.6zM1193.6 708.3l7.6 7.6-7.6 7.6-7.6-7.6zM1193.8 702.3l7.6 7.6-7.6 7.6-7.6-7.6zM1194.1 711.5l7.6 7.6-7.6 7.6-7.6-7.6zM1194.3 712.4l7.6 7.6-7.6 7.6-7.6-7.6zM1194.6 713.6l7.6 7.6-7.6 7.6-7.6-7.6zM1194.8 706.8l7.6 7.6-7.6 7.6-7.6-7.6zM1195.1 706.3l7.6 7.6-7.6 7.6-7.6-7.6zM1195.3 709.4l7.6 7.6-7.6 7.6-7.6-7.6zM1195.6 708.5l7.6 7.6-7.6 7.6-7.6-7.6zM1195.8 702.9l7.6 7.6-7.6 7.6-7.6-7.6zM1196.1 704.8l7.6 7.6-7.6 7.6-7.6-7.6zM1196.3 715.2l7.6 7.6-7.6 7.6-7.6-7.6zM1196.6 708.9l7.6 7.6-7.6 7.6-7.6-7.6zM1196.9 708.4l7.6 7.6-7.6 7.6-7.6-7.6zM1197.1 705.6l7.6 7.6-7.6 7.6-7.6-7.6zM1197.4 709.9l7.6 7.6-7.6 7.6-7.6-7.6zM1197.6 711.9l7.6 7.6-7.6 7.6-7.6-7.6zM1197.9 711.1l7.6 7.6-7.6 7.6-7.6-7.6zM1198.1 717.1l7.6 7.6-7.6 7.6-7.6-7.6zM1198.4 709.2l7.6 7.6-7.6 7.6-7.6-7.6zM1198.6 711.8l7.6 7.6-7.6 7.6-7.6-7.6zM1198.9 707l7.6 7.6-7.6 7.6-7.6-7.6zM1199.1 713.8l7.6 7.6-7.6 7.6-7.6-7.6zM1199.4 711.1l7.6 7.6-7.6 7.6-7.6-7.6zM1199.6 713.6l7.6 7.6-7.6 7.6-7.6-7.6zM1199.9 714.1l7.6 7.6-7.6 7.6-7.6-7.6zM1200.1 706.1l7.6 7.6-7.6 7.6-7.6-7.6zM1200.4 711.4l7.6 7.6-7.6 7.6-7.6-7.6zM1200.6 707.3l7.6 7.6-7.6 7.6-7.6-7.6zM1200.9 714.4l7.6 7.6-7.6 7.6-7.6-7.6zM1201.1 708.9l7.6 7.6-7.6 7.6-7.6-7.6zM1201.4 717.1l7.6 7.6-7.6 7.6-7.6-7.6zM1201.6 711.6l7.6 7.6-7.6 7.6-7.6-7.6zM1201.9 711.7l7.6 7.6-7.6 7.6-7.6-7.6zM1202.1 706.8l7.6 7.6-7.6 7.6-7.6-7.6zM1202.4 708.7l7.6 7.6-7.6 7.6-7.6-7.6zM1202.6 710.3l7.6 7.6-7.6 7.6-7.6-7.6zM1202.9 705.8l7.6 7.6-7.6 7.6-7.6-7.6zM1203.2 708.7l7.6 7.6-7.6 7.6-7.6-7.6zM1203.4 707.2l7.6 7.6-7.6 7.6-7.6-7.6zM1203.7 706.2l7.6 7.6-7.6 7.6-7.6-7.6zM1203.9 710l7.6 7.6-7.6 7.6-7.6-7.6zM1204.2 711l7.6 7.6-7.6 7.6-7.6-7.6zM1204.4 708.3l7.6 7.6-7.6 7.6-7.6-7.6zM1204.7 711.7l7.6 7.6-7.6 7.6-7.6-7.6zM1204.9 708l7.6 7.6-7.6 7.6-7.6-7.6zM1205.2 704.8l7.6 7.6-7.6 7.6-7.6-7.6zM1205.4 706l7.6 7.6-7.6 7.6-7.6-7.6zM1205.7 711.6l7.6 7.6-7.6 7.6-7.6-7.6zM1205.9 715.7l7.6 7.6-7.6 7.6-7.6-7.6zM1206.2 710.2l7.6 7.6-7.6 7.6-7.6-7.6zM1206.4 710.5l7.6 7.6-7.6 7.6-7.6-7.6zM1206.7 705l7.6 7.6-7.6 7.6-7.6-7.6zM1206.9 711.7l7.6 7.6-7.6 7.6-7.6-7.6zM1207.2 711l7.6 7.6-7.6 7.6-7.6-7.6zM1207.4 706.7l7.6 7.6-7.6 7.6-7.6-7.6zM1207.7 712.2l7.6 7.6-7.6 7.6-7.6-7.6zM1207.9 710.8l7.6 7.6-7.6 7.6-7.6-7.6zM1208.2 702.4l7.6 7.6-7.6 7.6-7.6-7.6zM1208.4 703.4l7.6 7.6-7.6 7.6-7.6-7.6zM1208.7 707.3l7.6 7.6-7.6 7.6-7.6-7.6zM1208.9 709l7.6 7.6-7.6 7.6-7.6-7.6zM1209.2 714.6l7.6 7.6-7.6 7.6-7.6-7.6zM1209.5 707.7l7.6 7.6-7.6 7.6-7.6-7.6zM1209.7 710l7.6 7.6-7.6 7.6-7.6-7.6zM1210 709.3l7.6 7.6-7.6 7.6-7.6-7.6zM1210.2 712.7l7.6 7.6-7.6 7.6-7.6-7.6zM1210.5 710.4l7.6 7.6-7.6 7.6-7.6-7.6zM1210.7 711.2l7.6 7.6-7.6 7.6-7.6-7.6zM1211 709l7.6 7.6-7.6 7.6-7.6-7.6zM1211.2 704l7.6 7.6-7.6 7.6-7.6-7.6zM1211.5 708.8l7.6 7.6-7.6 7.6-7.6-7.6zM1211.7 718l7.6 7.6-7.6 7.6-7.6-7.6zM1212 714.9l7.6 7.6-7.6 7.6-7.6-7.6zM1212.2 717.7l7.6 7.6-7.6 7.6-7.6-7.6zM1212.5 714.1l7.6 7.6-7.6 7.6-7.6-7.6zM1212.7 708.1l7.6 7.6-7.6 7.6-7.6-7.6zM1213 708.8l7.6 7.6-7.6 7.6-7.6-7.6zM1213.2 713.3l7.6 7.6-7.6 7.6-7.6-7.6zM1213.5 709.5l7.6 7.6-7.6 7.6-7.6-7.6zM1213.7 714.1l7.6 7.6-7.6 7.6-7.6-7.6zM1214 717.1l7.6 7.6-7.6 7.6-7.6-7.6zM1214.2 717.1l7.6 7.6-7.6 7.6-7.6-7.6zM1214.5 714.6l7.6 7.6-7.6 7.6-7.6-7.6zM1214.7 704.4l7.6 7.6-7.6 7.6-7.6-7.6zM1215 716.9l7.6 7.6-7.6 7.6-7.6-7.6zM1215.2 705.3l7.6 7.6-7.6 7.6-7.6-7.6zM1215.5 704.9l7.6 7.6-7.6 7.6-7.6-7.6zM1215.8 711.7l7.6 7.6-7.6 7.6-7.6-7.6zM1216 711.2l7.6 7.6-7.6 7.6-7.6-7.6zM1216.3 713.7l7.6 7.6-7.6 7.6-7.6-7.6zM1216.5 711.1l7.6 7.6-7.6 7.6-7.6-7.6zM1216.8 708.1l7.6 7.6-7.6 7.6-7.6-7.6zM1217 711l7.6 7.6-7.6 7.6-7.6-7.6zM1217.3 706.6l7.6 7.6-7.6 7.6-7.6-7.6zM1217.5 705.8l7.6 7.6-7.6 7.6-7.6-7.6zM1217.8 709.6l7.6 7.6-7.6 7.6-7.6-7.6zM1218 709.7l7.6 7.6-7.6 7.6-7.6-7.6zM1218.3 711.4l7.6 7.6-7.6 7.6-7.6-7.6zM1218.5 709.6l7.6 7.6-7.6 7.6-7.6-7.6zM1218.8 716.2l7.6 7.6-7.6 7.6-7.6-7.6zM1219 709.4l7.6 7.6-7.6 7.6-7.6-7.6zM1219.3 710.4l7.6 7.6-7.6 7.6-7.6-7.6zM1219.5 715.2l7.6 7.6-7.6 7.6-7.6-7.6zM1219.8 701.7l7.6 7.6-7.6 7.6-7.6-7.6zM1220 715.7l7.6 7.6-7.6 7.6-7.6-7.6zM1220.3 715.3l7.6 7.6-7.6 7.6-7.6-7.6zM1220.5 710.2l7.6 7.6-7.6 7.6-7.6-7.6zM1220.8 720.1l7.6 7.6-7.6 7.6-7.6-7.6zM1221 715l7.6 7.6-7.6 7.6-7.6-7.6zM1221.3 718.3l7.6 7.6-7.6 7.6-7.6-7.6zM1221.5 715.9l7.6 7.6-7.6 7.6-7.6-7.6zM1221.8 712.1l7.6 7.6-7.6 7.6-7.6-7.6zM1222.1 710.1l7.6 7.6-7.6 7.6-7.6-7.6zM1222.3 706.7l7.6 7.6-7.6 7.6-7.6-7.6zM1222.6 708l7.6 7.6-7.6 7.6-7.6-7.6zM1222.8 706.3l7.6 7.6-7.6 7.6-7.6-7.6zM1223.1 709l7.6 7.6-7.6 7.6-7.6-7.6zM1223.3 713.8l7.6 7.6-7.6 7.6-7.6-7.6zM1223.6 706.7l7.6 7.6-7.6 7.6-7.6-7.6zM1223.8 714l7.6 7.6-7.6 7.6-7.6-7.6zM1224.1 714.5l7.6 7.6-7.6 7.6-7.6-7.6zM1224.3 705l7.6 7.6-7.6 7.6-7.6-7.6zM1224.6 708.3l7.6 7.6-7.6 7.6-7.6-7.6zM1224.8 710.9l7.6 7.6-7.6 7.6-7.6-7.6zM1225.1 708.5l7.6 7.6-7.6 7.6-7.6-7.6zM1225.3 708l7.6 7.6-7.6 7.6-7.6-7.6zM1225.6 718.1l7.6 7.6-7.6 7.6-7.6-7.6zM1225.8 712.4l7.6 7.6-7.6 7.6-7.6-7.6zM1226.1 717.3l7.6 7.6-7.6 7.6-7.6-7.6zM1226.3 711.5l7.6 7.6-7.6 7.6-7.6-7.6zM1226.6 715.1l7.6 7.6-7.6 7.6-7.6-7.6zM1226.8 706l7.6 7.6-7.6 7.6-7.6-7.6zM1227.1 709.8l7.6 7.6-7.6 7.6-7.6-7.6zM1227.3 715.8l7.6 7.6-7.6 7.6-7.6-7.6zM1227.6 712.3l7.6 7.6-7.6 7.6-7.6-7.6zM1227.8 717.6l7.6 7.6-7.6 7.6-7.6-7.6zM1228.1 712.1l7.6 7.6-7.6 7.6-7.6-7.6zM1228.4 709.9l7.6 7.6-7.6 7.6-7.6-7.6zM1228.6 711.1l7.6 7.6-7.6 7.6-7.6-7.6zM1228.9 721l7.6 7.6-7.6 7.6-7.6-7.6zM1229.1 713.9l7.6 7.6-7.6 7.6-7.6-7.6zM1229.4 710.1l7.6 7.6-7.6 7.6-7.6-7.6zM1229.6 711.1l7.6 7.6-7.6 7.6-7.6-7.6zM1229.9 707.3l7.6 7.6-7.6 7.6-7.6-7.6zM1230.1 718.3l7.6 7.6-7.6 7.6-7.6-7.6zM1230.4 710.2l7.6 7.6-7.6 7.6-7.6-7.6zM1230.6 715.5l7.6 7.6-7.6 7.6-7.6-7.6zM1230.9 711.7l7.6 7.6-7.6 7.6-7.6-7.6zM1231.1 710.8l7.6 7.6-7.6 7.6-7.6-7.6zM1231.4 709.6l7.6 7.6-7.6 7.6-7.6-7.6zM1231.6 715.3l7.6 7.6-7.6 7.6-7.6-7.6zM1231.9 711.9l7.6 7.6-7.6 7.6-7.6-7.6zM1232.1 718l7.6 7.6-7.6 7.6-7.6-7.6zM1232.4 719.1l7.6 7.6-7.6 7.6-7.6-7.6zM1232.6 710.4l7.6 7.6-7.6 7.6-7.6-7.6zM1232.9 713.1l7.6 7.6-7.6 7.6-7.6-7.6zM1233.1 720.1l7.6 7.6-7.6 7.6-7.6-7.6zM1233.4 716.7l7.6 7.6-7.6 7.6-7.6-7.6zM1233.6 712.9l7.6 7.6-7.6 7.6-7.6-7.6zM1233.9 706.1l7.6 7.6-7.6 7.6-7.6-7.6zM1234.1 708.4l7.6 7.6-7.6 7.6-7.6-7.6zM1234.4 709.5l7.6 7.6-7.6 7.6-7.6-7.6zM1234.7 721.1l7.6 7.6-7.6 7.6-7.6-7.6zM1234.9 713.6l7.6 7.6-7.6 7.6-7.6-7.6zM1235.2 711.1l7.6 7.6-7.6 7.6-7.6-7.6zM1235.4 711.5l7.6 7.6-7.6 7.6-7.6-7.6zM1235.7 711.4l7.6 7.6-7.6 7.6-7.6-7.6zM1235.9 714.3l7.6 7.6-7.6 7.6-7.6-7.6zM1236.2 705.5l7.6 7.6-7.6 7.6-7.6-7.6zM1236.4 706.8l7.6 7.6-7.6 7.6-7.6-7.6zM1236.7 713.8l7.6 7.6-7.6 7.6-7.6-7.6zM1236.9 717.8l7.6 7.6-7.6 7.6-7.6-7.6zM1237.2 704.4l7.6 7.6-7.6 7.6-7.6-7.6zM1237.4 716l7.6 7.6-7.6 7.6-7.6-7.6zM1237.7 708.3l7.6 7.6-7.6 7.6-7.6-7.6zM1237.9 705.1l7.6 7.6-7.6 7.6-7.6-7.6zM1238.2 717.8l7.6 7.6-7.6 7.6-7.6-7.6zM1238.4 712.4l7.6 7.6-7.6 7.6-7.6-7.6zM1238.7 715.3l7.6 7.6-7.6 7.6-7.6-7.6zM1238.9 711.5l7.6 7.6-7.6 7.6-7.6-7.6zM1239.2 712.4l7.6 7.6-7.6 7.6-7.6-7.6zM1239.4 705.2l7.6 7.6-7.6 7.6-7.6-7.6zM1239.7 711.3l7.6 7.6-7.6 7.6-7.6-7.6zM1239.9 714l7.6 7.6-7.6 7.6-7.6-7.6zM1240.2 709l7.6 7.6-7.6 7.6-7.6-7.6zM1240.4 715.2l7.6 7.6-7.6 7.6-7.6-7.6zM1240.7 715.7l7.6 7.6-7.6 7.6-7.6-7.6zM1241 704.2l7.6 7.6-7.6 7.6-7.6-7.6zM1241.2 717.8l7.6 7.6-7.6 7.6-7.6-7.6zM1241.5 716.4l7.6 7.6-7.6 7.6-7.6-7.6zM1241.7 714l7.6 7.6-7.6 7.6-7.6-7.6zM1242 719l7.6 7.6-7.6 7.6-7.6-7.6zM1242.2 723.7l7.6 7.6-7.6 7.6-7.6-7.6zM1242.5 709.7l7.6 7.6-7.6 7.6-7.6-7.6zM1242.7 717.9l7.6 7.6-7.6 7.6-7.6-7.6zM1243 716.9l7.6 7.6-7.6 7.6-7.6-7.6zM1243.2 716.2l7.6 7.6-7.6 7.6-7.6-7.6zM1243.5 718.9l7.6 7.6-7.6 7.6-7.6-7.6zM1243.7 719.4l7.6 7.6-7.6 7.6-7.6-7.6zM1244 713.9l7.6 7.6-7.6 7.6-7.6-7.6zM1244.2 704.1l7.6 7.6-7.6 7.6-7.6-7.6zM1244.5 711.5l7.6 7.6-7.6 7.6-7.6-7.6zM1244.7 711.5l7.6 7.6-7.6 7.6-7.6-7.6zM1245 721.5l7.6 7.6-7.6 7.6-7.6-7.6zM1245.2 715l7.6 7.6-7.6 7.6-7.6-7.6zM1245.5 720.2l7.6 7.6-7.6 7.6-7.6-7.6zM1245.7 711.6l7.6 7.6-7.6 7.6-7.6-7.6zM1246 716.1l7.6 7.6-7.6 7.6-7.6-7.6zM1246.2 714.9l7.6 7.6-7.6 7.6-7.6-7.6zM1246.5 715.5l7.6 7.6-7.6 7.6-7.6-7.6zM1246.7 717.8l7.6 7.6-7.6 7.6-7.6-7.6zM1247 721.9l7.6 7.6-7.6 7.6-7.6-7.6zM1247.3 712.8l7.6 7.6-7.6 7.6-7.6-7.6zM1247.5 721.4l7.6 7.6-7.6 7.6-7.6-7.6zM1247.8 720.6l7.6 7.6-7.6 7.6-7.6-7.6zM1248 716.8l7.6 7.6-7.6 7.6-7.6-7.6zM1248.3 718.6l7.6 7.6-7.6 7.6-7.6-7.6zM1248.5 714.4l7.6 7.6-7.6 7.6-7.6-7.6zM1248.8 711.2l7.6 7.6-7.6 7.6-7.6-7.6zM1249 714.6l7.6 7.6-7.6 7.6-7.6-7.6zM1249.3 714.9l7.6 7.6-7.6 7.6-7.6-7.6zM1249.5 715.7l7.6 7.6-7.6 7.6-7.6-7.6zM1249.8 712.1l7.6 7.6-7.6 7.6-7.6-7.6zM1250 724l7.6 7.6-7.6 7.6-7.6-7.6zM1250.3 714.3l7.6 7.6-7.6 7.6-7.6-7.6zM1250.5 720.1l7.6 7.6-7.6 7.6-7.6-7.6zM1250.8 721.5l7.6 7.6-7.6 7.6-7.6-7.6zM1251 716.1l7.6 7.6-7.6 7.6-7.6-7.6zM1251.3 717.9l7.6 7.6-7.6 7.6-7.6-7.6zM1251.5 713.7l7.6 7.6-7.6 7.6-7.6-7.6zM1251.8 711.5l7.6 7.6-7.6 7.6-7.6-7.6zM1252 726.5l7.6 7.6-7.6 7.6-7.6-7.6zM1252.3 716.7l7.6 7.6-7.6 7.6-7.6-7.6zM1252.5 707.9l7.6 7.6-7.6 7.6-7.6-7.6zM1252.8 712.8l7.6 7.6-7.6 7.6-7.6-7.6zM1253 710.3l7.6 7.6-7.6 7.6-7.6-7.6zM1253.3 716.2l7.6 7.6-7.6 7.6-7.6-7.6zM1253.6 723l7.6 7.6-7.6 7.6-7.6-7.6zM1253.8 721.7l7.6 7.6-7.6 7.6-7.6-7.6zM1254.1 713.7l7.6 7.6-7.6 7.6-7.6-7.6zM1254.3 712.7l7.6 7.6-7.6 7.6-7.6-7.6zM1254.6 720.2l7.6 7.6-7.6 7.6-7.6-7.6zM1254.8 718.2l7.6 7.6-7.6 7.6-7.6-7.6zM1255.1 716l7.6 7.6-7.6 7.6-7.6-7.6zM1255.3 724.8l7.6 7.6-7.6 7.6-7.6-7.6zM1255.6 718.7l7.6 7.6-7.6 7.6-7.6-7.6zM1255.8 710.3l7.6 7.6-7.6 7.6-7.6-7.6zM1256.1 707.9l7.6 7.6-7.6 7.6-7.6-7.6zM1256.3 717.9l7.6 7.6-7.6 7.6-7.6-7.6zM1256.6 709.5l7.6 7.6-7.6 7.6-7.6-7.6zM1256.8 719.8l7.6 7.6-7.6 7.6-7.6-7.6zM1257.1 721.1l7.6 7.6-7.6 7.6-7.6-7.6zM1257.3 727.4l7.6 7.6-7.6 7.6-7.6-7.6zM1257.6 713.6l7.6 7.6-7.6 7.6-7.6-7.6zM1257.8 719.4l7.6 7.6-7.6 7.6-7.6-7.6zM1258.1 707.8l7.6 7.6-7.6 7.6-7.6-7.6zM1258.3 716.5l7.6 7.6-7.6 7.6-7.6-7.6zM1258.6 717.2l7.6 7.6-7.6 7.6-7.6-7.6zM1258.8 725.9l7.6 7.6-7.6 7.6-7.6-7.6zM1259.1 711.7l7.6 7.6-7.6 7.6-7.6-7.6zM1259.3 719.8l7.6 7.6-7.6 7.6-7.6-7.6zM1259.6 719l7.6 7.6-7.6 7.6-7.6-7.6zM1259.9 727.9l7.6 7.6-7.6 7.6-7.6-7.6zM1260.1 714.4l7.6 7.6-7.6 7.6-7.6-7.6zM1260.4 714.2l7.6 7.6-7.6 7.6-7.6-7.6zM1260.6 721.2l7.6 7.6-7.6 7.6-7.6-7.6zM1260.9 718.2l7.6 7.6-7.6 7.6-7.6-7.6zM1261.1 717l7.6 7.6-7.6 7.6-7.6-7.6zM1261.4 714.6l7.6 7.6-7.6 7.6-7.6-7.6zM1261.6 718.4l7.6 7.6-7.6 7.6-7.6-7.6zM1261.9 711.5l7.6 7.6-7.6 7.6-7.6-7.6zM1262.1 720l7.6 7.6-7.6 7.6-7.6-7.6zM1262.4 721.7l7.6 7.6-7.6 7.6-7.6-7.6zM1262.6 721.1l7.6 7.6-7.6 7.6-7.6-7.6zM1262.9 730.1l7.6 7.6-7.6 7.6-7.6-7.6zM1263.1 722.8l7.6 7.6-7.6 7.6-7.6-7.6zM1263.4 715l7.6 7.6-7.6 7.6-7.6-7.6zM1263.6 718.3l7.6 7.6-7.6 7.6-7.6-7.6zM1263.9 723l7.6 7.6-7.6 7.6-7.6-7.6zM1264.1 718.1l7.6 7.6-7.6 7.6-7.6-7.6zM1264.4 728.3l7.6 7.6-7.6 7.6-7.6-7.6zM1264.6 720.9l7.6 7.6-7.6 7.6-7.6-7.6zM1264.9 717.6l7.6 7.6-7.6 7.6-7.6-7.6zM1265.1 716.9l7.6 7.6-7.6 7.6-7.6-7.6zM1265.4 723.3l7.6 7.6-7.6 7.6-7.6-7.6zM1265.6 716.1l7.6 7.6-7.6 7.6-7.6-7.6zM1265.9 712.1l7.6 7.6-7.6 7.6-7.6-7.6zM1266.2 722l7.6 7.6-7.6 7.6-7.6-7.6zM1266.4 717.1l7.6 7.6-7.6 7.6-7.6-7.6zM1266.7 727l7.6 7.6-7.6 7.6-7.6-7.6zM1266.9 728.8l7.6 7.6-7.6 7.6-7.6-7.6zM1267.2 717.9l7.6 7.6-7.6 7.6-7.6-7.6zM1267.4 720.4l7.6 7.6-7.6 7.6-7.6-7.6zM1267.7 719.8l7.6 7.6-7.6 7.6-7.6-7.6zM1267.9 723.2l7.6 7.6-7.6 7.6-7.6-7.6zM1268.2 722l7.6 7.6-7.6 7.6-7.6-7.6zM1268.4 717.4l7.6 7.6-7.6 7.6-7.6-7.6zM1268.7 713.7l7.6 7.6-7.6 7.6-7.6-7.6zM1268.9 722l7.6 7.6-7.6 7.6-7.6-7.6zM1269.2 728.1l7.6 7.6-7.6 7.6-7.6-7.6zM1269.4 715.8l7.6 7.6-7.6 7.6-7.6-7.6zM1269.7 718.7l7.6 7.6-7.6 7.6-7.6-7.6zM1269.9 718.5l7.6 7.6-7.6 7.6-7.6-7.6zM1270.2 720.7l7.6 7.6-7.6 7.6-7.6-7.6zM1270.4 711.7l7.6 7.6-7.6 7.6-7.6-7.6zM1270.7 721.3l7.6 7.6-7.6 7.6-7.6-7.6zM1270.9 719.5l7.6 7.6-7.6 7.6-7.6-7.6zM1271.2 729.6l7.6 7.6-7.6 7.6-7.6-7.6zM1271.4 724.3l7.6 7.6-7.6 7.6-7.6-7.6zM1271.7 724.8l7.6 7.6-7.6 7.6-7.6-7.6zM1271.9 722.1l7.6 7.6-7.6 7.6-7.6-7.6zM1272.2 720.6l7.6 7.6-7.6 7.6-7.6-7.6zM1272.5 725.3l7.6 7.6-7.6 7.6-7.6-7.6zM1272.7 714.9l7.6 7.6-7.6 7.6-7.6-7.6zM1273 726.8l7.6 7.6-7.6 7.6-7.6-7.6zM1273.2 724.3l7.6 7.6-7.6 7.6-7.6-7.6zM1273.5 721.5l7.6 7.6-7.6 7.6-7.6-7.6zM1273.7 727.8l7.6 7.6-7.6 7.6-7.6-7.6zM1274 720.2l7.6 7.6-7.6 7.6-7.6-7.6zM1274.2 720.1l7.6 7.6-7.6 7.6-7.6-7.6zM1274.5 724l7.6 7.6-7.6 7.6-7.6-7.6zM1274.7 714.9l7.6 7.6-7.6 7.6-7.6-7.6zM1275 722.6l7.6 7.6-7.6 7.6-7.6-7.6zM1275.2 721.9l7.6 7.6-7.6 7.6-7.6-7.6zM1275.5 727.2l7.6 7.6-7.6 7.6-7.6-7.6zM1275.7 730.2l7.6 7.6-7.6 7.6-7.6-7.6zM1276 725.9l7.6 7.6-7.6 7.6-7.6-7.6zM1276.2 724.7l7.6 7.6-7.6 7.6-7.6-7.6zM1276.5 725.4l7.6 7.6-7.6 7.6-7.6-7.6zM1276.7 720.3l7.6 7.6-7.6 7.6-7.6-7.6zM1277 733.6l7.6 7.6-7.6 7.6-7.6-7.6zM1277.2 728.5l7.6 7.6-7.6 7.6-7.6-7.6zM1277.5 731.4l7.6 7.6-7.6 7.6-7.6-7.6zM1277.7 718.3l7.6 7.6-7.6 7.6-7.6-7.6zM1278 726.3l7.6 7.6-7.6 7.6-7.6-7.6zM1278.2 726.2l7.6 7.6-7.6 7.6-7.6-7.6zM1278.5 728.7l7.6 7.6-7.6 7.6-7.6-7.6zM1278.8 720.5l7.6 7.6-7.6 7.6-7.6-7.6zM1279 726l7.6 7.6-7.6 7.6-7.6-7.6zM1279.3 723.5l7.6 7.6-7.6 7.6-7.6-7.6zM1279.5 732.9l7.6 7.6-7.6 7.6-7.6-7.6zM1279.8 719.7l7.6 7.6-7.6 7.6-7.6-7.6zM1280 723l7.6 7.6-7.6 7.6-7.6-7.6zM1280.3 722.4l7.6 7.6-7.6 7.6-7.6-7.6zM1280.5 719.7l7.6 7.6-7.6 7.6-7.6-7.6zM1280.8 725.7l7.6 7.6-7.6 7.6-7.6-7.6zM1281 725.7l7.6 7.6-7.6 7.6-7.6-7.6zM1281.3 722.1l7.6 7.6-7.6 7.6-7.6-7.6zM1281.5 723.4l7.6 7.6-7.6 7.6-7.6-7.6zM1281.8 726.2l7.6 7.6-7.6 7.6-7.6-7.6zM1282 725.1l7.6 7.6-7.6 7.6-7.6-7.6zM1282.3 727.5l7.6 7.6-7.6 7.6-7.6-7.6zM1282.5 722.5l7.6 7.6-7.6 7.6-7.6-7.6zM1282.8 721.7l7.6 7.6-7.6 7.6-7.6-7.6zM1283 725.6l7.6 7.6-7.6 7.6-7.6-7.6zM1283.3 718l7.6 7.6-7.6 7.6-7.6-7.6zM1283.5 732.2l7.6 7.6-7.6 7.6-7.6-7.6zM1283.8 726.9l7.6 7.6-7.6 7.6-7.6-7.6zM1284 718.9l7.6 7.6-7.6 7.6-7.6-7.6zM1284.3 727.8l7.6 7.6-7.6 7.6-7.6-7.6zM1284.5 732.7l7.6 7.6-7.6 7.6-7.6-7.6zM1284.8 720.5l7.6 7.6-7.6 7.6-7.6-7.6zM1285.1 724.1l7.6 7.6-7.6 7.6-7.6-7.6zM1285.3 731.3l7.6 7.6-7.6 7.6-7.6-7.6zM1285.6 723.3l7.6 7.6-7.6 7.6-7.6-7.6zM1285.8 730.8l7.6 7.6-7.6 7.6-7.6-7.6zM1286.1 732.1l7.6 7.6-7.6 7.6-7.6-7.6zM1286.3 727.4l7.6 7.6-7.6 7.6-7.6-7.6zM1286.6 728.8l7.6 7.6-7.6 7.6-7.6-7.6zM1286.8 731.4l7.6 7.6-7.6 7.6-7.6-7.6zM1287.1 728.5l7.6 7.6-7.6 7.6-7.6-7.6zM1287.3 731.2l7.6 7.6-7.6 7.6-7.6-7.6zM1287.6 726.9l7.6 7.6-7.6 7.6-7.6-7.6zM1287.8 727.3l7.6 7.6-7.6 7.6-7.6-7.6zM1288.1 724.3l7.6 7.6-7.6 7.6-7.6-7.6zM1288.3 729.3l7.6 7.6-7.6 7.6-7.6-7.6zM1288.6 732.9l7.6 7.6-7.6 7.6-7.6-7.6zM1288.8 732.9l7.6 7.6-7.6 7.6-7.6-7.6zM1289.1 728.7l7.6 7.6-7.6 7.6-7.6-7.6zM1289.3 721.5l7.6 7.6-7.6 7.6-7.6-7.6zM1289.6 724.4l7.6 7.6-7.6 7.6-7.6-7.6zM1289.8 730.5l7.6 7.6-7.6 7.6-7.6-7.6zM1290.1 724.2l7.6 7.6-7.6 7.6-7.6-7.6zM1290.3 732.8l7.6 7.6-7.6 7.6-7.6-7.6zM1290.6 724l7.6 7.6-7.6 7.6-7.6-7.6zM1290.8 729.8l7.6 7.6-7.6 7.6-7.6-7.6zM1291.1 725.2l7.6 7.6-7.6 7.6-7.6-7.6zM1291.4 725.9l7.6 7.6-7.6 7.6-7.6-7.6zM1291.6 729.6l7.6 7.6-7.6 7.6-7.6-7.6zM1291.9 727.2l7.6 7.6-7.6 7.6-7.6-7.6zM1292.1 733l7.6 7.6-7.6 7.6-7.6-7.6zM1292.4 729l7.6 7.6-7.6 7.6-7.6-7.6zM1292.6 724.4l7.6 7.6-7.6 7.6-7.6-7.6zM1292.9 712.3l7.6 7.6-7.6 7.6-7.6-7.6zM1293.1 726.1l7.6 7.6-7.6 7.6-7.6-7.6zM1293.4 728.7l7.6 7.6-7.6 7.6-7.6-7.6zM1293.6 733.2l7.6 7.6-7.6 7.6-7.6-7.6zM1293.9 724.9l7.6 7.6-7.6 7.6-7.6-7.6zM1294.1 736l7.6 7.6-7.6 7.6-7.6-7.6zM1294.4 732.6l7.6 7.6-7.6 7.6-7.6-7.6zM1294.6 728l7.6 7.6-7.6 7.6-7.6-7.6zM1294.9 734.4l7.6 7.6-7.6 7.6-7.6-7.6zM1295.1 723.4l7.6 7.6-7.6 7.6-7.6-7.6zM1295.4 725.3l7.6 7.6-7.6 7.6-7.6-7.6zM1295.6 732l7.6 7.6-7.6 7.6-7.6-7.6zM1295.9 732.1l7.6 7.6-7.6 7.6-7.6-7.6zM1296.1 735.2l7.6 7.6-7.6 7.6-7.6-7.6zM1296.4 735.6l7.6 7.6-7.6 7.6-7.6-7.6zM1296.6 728.3l7.6 7.6-7.6 7.6-7.6-7.6zM1296.9 727.7l7.6 7.6-7.6 7.6-7.6-7.6zM1297.1 728.8l7.6 7.6-7.6 7.6-7.6-7.6zM1297.4 729.3l7.6 7.6-7.6 7.6-7.6-7.6zM1297.7 732.6l7.6 7.6-7.6 7.6-7.6-7.6zM1297.9 729l7.6 7.6-7.6 7.6-7.6-7.6zM1298.2 736.4l7.6 7.6-7.6 7.6-7.6-7.6zM1298.4 730.6l7.6 7.6-7.6 7.6-7.6-7.6zM1298.7 724.8l7.6 7.6-7.6 7.6-7.6-7.6zM1298.9 725.5l7.6 7.6-7.6 7.6-7.6-7.6zM1299.2 732.7l7.6 7.6-7.6 7.6-7.6-7.6zM1299.4 732.3l7.6 7.6-7.6 7.6-7.6-7.6zM1299.7 725.5l7.6 7.6-7.6 7.6-7.6-7.6zM1299.9 724l7.6 7.6-7.6 7.6-7.6-7.6zM1300.2 737.1l7.6 7.6-7.6 7.6-7.6-7.6zM1300.4 732.9l7.6 7.6-7.6 7.6-7.6-7.6zM1300.7 730.4l7.6 7.6-7.6 7.6-7.6-7.6zM1300.9 726.6l7.6 7.6-7.6 7.6-7.6-7.6zM1301.2 734.8l7.6 7.6-7.6 7.6-7.6-7.6zM1301.4 729l7.6 7.6-7.6 7.6-7.6-7.6zM1301.7 732.8l7.6 7.6-7.6 7.6-7.6-7.6zM1301.9 722.3l7.6 7.6-7.6 7.6-7.6-7.6zM1302.2 730.1l7.6 7.6-7.6 7.6-7.6-7.6zM1302.4 732.4l7.6 7.6-7.6 7.6-7.6-7.6zM1302.7 733.2l7.6 7.6-7.6 7.6-7.6-7.6zM1302.9 727.8l7.6 7.6-7.6 7.6-7.6-7.6zM1303.2 729.4l7.6 7.6-7.6 7.6-7.6-7.6zM1303.4 736.4l7.6 7.6-7.6 7.6-7.6-7.6zM1303.7 731.4l7.6 7.6-7.6 7.6-7.6-7.6zM1304 737.6l7.6 7.6-7.6 7.6-7.6-7.6zM1304.2 735.3l7.6 7.6-7.6 7.6-7.6-7.6zM1304.5 737.5l7.6 7.6-7.6 7.6-7.6-7.6zM1304.7 737.7l7.6 7.6-7.6 7.6-7.6-7.6zM1305 735.3l7.6 7.6-7.6 7.6-7.6-7.6zM1305.2 736.5l7.6 7.6-7.6 7.6-7.6-7.6zM1305.5 730.6l7.6 7.6-7.6 7.6-7.6-7.6zM1305.7 729.7l7.6 7.6-7.6 7.6-7.6-7.6zM1306 733.8l7.6 7.6-7.6 7.6-7.6-7.6zM1306.2 737.3l7.6 7.6-7.6 7.6-7.6-7.6zM1306.5 729.8l7.6 7.6-7.6 7.6-7.6-7.6zM1306.7 741l7.6 7.6-7.6 7.6-7.6-7.6zM1307 740.7l7.6 7.6-7.6 7.6-7.6-7.6zM1307.2 730.4l7.6 7.6-7.6 7.6-7.6-7.6zM1307.5 730.7l7.6 7.6-7.6 7.6-7.6-7.6zM1307.7 729.5l7.6 7.6-7.6 7.6-7.6-7.6zM1308 734.3l7.6 7.6-7.6 7.6-7.6-7.6zM1308.2 738.4l7.6 7.6-7.6 7.6-7.6-7.6zM1308.5 735.5l7.6 7.6-7.6 7.6-7.6-7.6zM1308.7 731.4l7.6 7.6-7.6 7.6-7.6-7.6zM1309 736.7l7.6 7.6-7.6 7.6-7.6-7.6zM1309.2 736.5l7.6 7.6-7.6 7.6-7.6-7.6zM1309.5 739.3l7.6 7.6-7.6 7.6-7.6-7.6zM1309.7 738.4l7.6 7.6-7.6 7.6-7.6-7.6zM1310 730.7l7.6 7.6-7.6 7.6-7.6-7.6zM1310.3 732.2l7.6 7.6-7.6 7.6-7.6-7.6zM1310.5 738.6l7.6 7.6-7.6 7.6-7.6-7.6zM1310.8 738.4l7.6 7.6-7.6 7.6-7.6-7.6zM1311 736.4l7.6 7.6-7.6 7.6-7.6-7.6zM1311.3 732.2l7.6 7.6-7.6 7.6-7.6-7.6zM1311.5 738.9l7.6 7.6-7.6 7.6-7.6-7.6zM1311.8 735.1l7.6 7.6-7.6 7.6-7.6-7.6zM1312 742.8l7.6 7.6-7.6 7.6-7.6-7.6zM1312.3 739.4l7.6 7.6-7.6 7.6-7.6-7.6zM1312.5 733l7.6 7.6-7.6 7.6-7.6-7.6zM1312.8 731.2l7.6 7.6-7.6 7.6-7.6-7.6zM1313 739.2l7.6 7.6-7.6 7.6-7.6-7.6zM1313.3 737.8l7.6 7.6-7.6 7.6-7.6-7.6zM1313.5 731.8l7.6 7.6-7.6 7.6-7.6-7.6zM1313.8 736.4l7.6 7.6-7.6 7.6-7.6-7.6zM1314 737.1l7.6 7.6-7.6 7.6-7.6-7.6zM1314.3 733l7.6 7.6-7.6 7.6-7.6-7.6zM1314.5 734.3l7.6 7.6-7.6 7.6-7.6-7.6zM1314.8 730.9l7.6 7.6-7.6 7.6-7.6-7.6zM1315 732.2l7.6 7.6-7.6 7.6-7.6-7.6zM1315.3 737.5l7.6 7.6-7.6 7.6-7.6-7.6zM1315.5 735.8l7.6 7.6-7.6 7.6-7.6-7.6zM1315.8 735.6l7.6 7.6-7.6 7.6-7.6-7.6zM1316 740.7l7.6 7.6-7.6 7.6-7.6-7.6zM1316.3 739.3l7.6 7.6-7.6 7.6-7.6-7.6zM1316.6 731.8l7.6 7.6-7.6 7.6-7.6-7.6zM1316.8 741.7l7.6 7.6-7.6 7.6-7.6-7.6zM1317.1 731.9l7.6 7.6-7.6 7.6-7.6-7.6zM1317.3 734.7l7.6 7.6-7.6 7.6-7.6-7.6zM1317.6 736.3l7.6 7.6-7.6 7.6-7.6-7.6zM1317.8 733.8l7.6 7.6-7.6 7.6-7.6-7.6zM1318.1 734.1l7.6 7.6-7.6 7.6-7.6-7.6zM1318.3 731.3l7.6 7.6-7.6 7.6-7.6-7.6zM1318.6 737.6l7.6 7.6-7.6 7.6-7.6-7.6zM1318.8 737l7.6 7.6-7.6 7.6-7.6-7.6zM1319.1 737.1l7.6 7.6-7.6 7.6-7.6-7.6zM1319.3 729l7.6 7.6-7.6 7.6-7.6-7.6zM1319.6 732.6l7.6 7.6-7.6 7.6-7.6-7.6zM1319.8 739.8l7.6 7.6-7.6 7.6-7.6-7.6zM1320.1 737.6l7.6 7.6-7.6 7.6-7.6-7.6zM1320.3 739.1l7.6 7.6-7.6 7.6-7.6-7.6zM1320.6 736.4l7.6 7.6-7.6 7.6-7.6-7.6zM1320.8 735.7l7.6 7.6-7.6 7.6-7.6-7.6zM1321.1 727.8l7.6 7.6-7.6 7.6-7.6-7.6zM1321.3 743.6l7.6 7.6-7.6 7.6-7.6-7.6zM1321.6 732.8l7.6 7.6-7.6 7.6-7.6-7.6zM1321.8 735.1l7.6 7.6-7.6 7.6-7.6-7.6zM1322.1 739.5l7.6 7.6-7.6 7.6-7.6-7.6zM1322.3 737.4l7.6 7.6-7.6 7.6-7.6-7.6zM1322.6 738.8l7.6 7.6-7.6 7.6-7.6-7.6zM1322.9 736.7l7.6 7.6-7.6 7.6-7.6-7.6zM1323.1 733.2l7.6 7.6-7.6 7.6-7.6-7.6zM1323.4 742.8l7.6 7.6-7.6 7.6-7.6-7.6zM1323.6 732.1l7.6 7.6-7.6 7.6-7.6-7.6zM1323.9 738.6l7.6 7.6-7.6 7.6-7.6-7.6zM1324.1 731.5l7.6 7.6-7.6 7.6-7.6-7.6zM1324.4 735.7l7.6 7.6-7.6 7.6-7.6-7.6zM1324.6 732.6l7.6 7.6-7.6 7.6-7.6-7.6zM1324.9 735.2l7.6 7.6-7.6 7.6-7.6-7.6zM1325.1 733.3l7.6 7.6-7.6 7.6-7.6-7.6zM1325.4 737.2l7.6 7.6-7.6 7.6-7.6-7.6zM1325.6 740.6l7.6 7.6-7.6 7.6-7.6-7.6zM1325.9 735l7.6 7.6-7.6 7.6-7.6-7.6zM1326.1 734.9l7.6 7.6-7.6 7.6-7.6-7.6zM1326.4 729.7l7.6 7.6-7.6 7.6-7.6-7.6zM1326.6 745.2l7.6 7.6-7.6 7.6-7.6-7.6zM1326.9 738.4l7.6 7.6-7.6 7.6-7.6-7.6zM1327.1 733.7l7.6 7.6-7.6 7.6-7.6-7.6zM1327.4 742.5l7.6 7.6-7.6 7.6-7.6-7.6zM1327.6 738.7l7.6 7.6-7.6 7.6-7.6-7.6zM1327.9 729.9l7.6 7.6-7.6 7.6-7.6-7.6zM1328.1 732.6l7.6 7.6-7.6 7.6-7.6-7.6zM1328.4 741.3l7.6 7.6-7.6 7.6-7.6-7.6zM1328.6 732.6l7.6 7.6-7.6 7.6-7.6-7.6zM1328.9 733.6l7.6 7.6-7.6 7.6-7.6-7.6zM1329.2 735.2l7.6 7.6-7.6 7.6-7.6-7.6zM1329.4 736.7l7.6 7.6-7.6 7.6-7.6-7.6zM1329.7 737.3l7.6 7.6-7.6 7.6-7.6-7.6zM1329.9 741.5l7.6 7.6-7.6 7.6-7.6-7.6zM1330.2 740.2l7.6 7.6-7.6 7.6-7.6-7.6zM1330.4 735.5l7.6 7.6-7.6 7.6-7.6-7.6zM1330.7 737.8l7.6 7.6-7.6 7.6-7.6-7.6zM1330.9 731.4l7.6 7.6-7.6 7.6-7.6-7.6zM1331.2 739.7l7.6 7.6-7.6 7.6-7.6-7.6zM1331.4 747.5l7.6 7.6-7.6 7.6-7.6-7.6zM1331.7 739.7l7.6 7.6-7.6 7.6-7.6-7.6zM1331.9 737.5l7.6 7.6-7.6 7.6-7.6-7.6zM1332.2 737.1l7.6 7.6-7.6 7.6-7.6-7.6zM1332.4 738.3l7.6 7.6-7.6 7.6-7.6-7.6zM1332.7 741.7l7.6 7.6-7.6 7.6-7.6-7.6zM1332.9 733.1l7.6 7.6-7.6 7.6-7.6-7.6zM1333.2 741.2l7.6 7.6-7.6 7.6-7.6-7.6zM1333.4 736.1l7.6 7.6-7.6 7.6-7.6-7.6zM1333.7 739.9l7.6 7.6-7.6 7.6-7.6-7.6zM1333.9 743.3l7.6 7.6-7.6 7.6-7.6-7.6zM1334.2 733.6l7.6 7.6-7.6 7.6-7.6-7.6zM1334.4 748.3l7.6 7.6-7.6 7.6-7.6-7.6zM1334.7 742.1l7.6 7.6-7.6 7.6-7.6-7.6zM1334.9 737.3l7.6 7.6-7.6 7.6-7.6-7.6zM1335.2 740.3l7.6 7.6-7.6 7.6-7.6-7.6zM1335.5 736.2l7.6 7.6-7.6 7.6-7.6-7.6zM1335.7 739.4l7.6 7.6-7.6 7.6-7.6-7.6zM1336 740.8l7.6 7.6-7.6 7.6-7.6-7.6zM1336.2 731.1l7.6 7.6-7.6 7.6-7.6-7.6zM1336.5 740l7.6 7.6-7.6 7.6-7.6-7.6zM1336.7 739.8l7.6 7.6-7.6 7.6-7.6-7.6zM1337 743.3l7.6 7.6-7.6 7.6-7.6-7.6zM1337.2 742l7.6 7.6-7.6 7.6-7.6-7.6zM1337.5 736.9l7.6 7.6-7.6 7.6-7.6-7.6zM1337.7 737.2l7.6 7.6-7.6 7.6-7.6-7.6zM1338 739.3l7.6 7.6-7.6 7.6-7.6-7.6zM1338.2 742l7.6 7.6-7.6 7.6-7.6-7.6zM1338.5 736.9l7.6 7.6-7.6 7.6-7.6-7.6zM1338.7 745.8l7.6 7.6-7.6 7.6-7.6-7.6zM1339 740.7l7.6 7.6-7.6 7.6-7.6-7.6zM1339.2 740.4l7.6 7.6-7.6 7.6-7.6-7.6zM1339.5 742.7l7.6 7.6-7.6 7.6-7.6-7.6zM1339.7 739l7.6 7.6-7.6 7.6-7.6-7.6zM1340 742.1l7.6 7.6-7.6 7.6-7.6-7.6zM1340.2 742.6l7.6 7.6-7.6 7.6-7.6-7.6zM1340.5 733l7.6 7.6-7.6 7.6-7.6-7.6zM1340.7 736.9l7.6 7.6-7.6 7.6-7.6-7.6zM1341 735.2l7.6 7.6-7.6 7.6-7.6-7.6zM1341.2 739.5l7.6 7.6-7.6 7.6-7.6-7.6zM1341.5 736.2l7.6 7.6-7.6 7.6-7.6-7.6zM1341.8 736.9l7.6 7.6-7.6 7.6-7.6-7.6zM1342 735.3l7.6 7.6-7.6 7.6-7.6-7.6zM1342.3 731.1l7.6 7.6-7.6 7.6-7.6-7.6zM1342.5 740.7l7.6 7.6-7.6 7.6-7.6-7.6zM1342.8 738.9l7.6 7.6-7.6 7.6-7.6-7.6zM1343 740.1l7.6 7.6-7.6 7.6-7.6-7.6zM1343.3 752.9l7.6 7.6-7.6 7.6-7.6-7.6zM1343.5 745.1l7.6 7.6-7.6 7.6-7.6-7.6zM1343.8 739.9l7.6 7.6-7.6 7.6-7.6-7.6zM1344 737.6l7.6 7.6-7.6 7.6-7.6-7.6zM1344.3 742.1l7.6 7.6-7.6 7.6-7.6-7.6zM1344.5 735.8l7.6 7.6-7.6 7.6-7.6-7.6zM1344.8 735.3l7.6 7.6-7.6 7.6-7.6-7.6zM1345 741.6l7.6 7.6-7.6 7.6-7.6-7.6zM1345.3 734.8l7.6 7.6-7.6 7.6-7.6-7.6zM1345.5 733.7l7.6 7.6-7.6 7.6-7.6-7.6zM1345.8 738.4l7.6 7.6-7.6 7.6-7.6-7.6zM1346 743.8l7.6 7.6-7.6 7.6-7.6-7.6zM1346.3 734.8l7.6 7.6-7.6 7.6-7.6-7.6zM1346.5 740.8l7.6 7.6-7.6 7.6-7.6-7.6zM1346.8 741.6l7.6 7.6-7.6 7.6-7.6-7.6zM1347 739.8l7.6 7.6-7.6 7.6-7.6-7.6zM1347.3 742.2l7.6 7.6-7.6 7.6-7.6-7.6zM1347.5 736.3l7.6 7.6-7.6 7.6-7.6-7.6zM1347.8 737.4l7.6 7.6-7.6 7.6-7.6-7.6zM1348.1 735.8l7.6 7.6-7.6 7.6-7.6-7.6zM1348.3 738.2l7.6 7.6-7.6 7.6-7.6-7.6zM1348.6 743.3l7.6 7.6-7.6 7.6-7.6-7.6zM1348.8 741l7.6 7.6-7.6 7.6-7.6-7.6zM1349.1 737.2l7.6 7.6-7.6 7.6-7.6-7.6zM1349.3 741.9l7.6 7.6-7.6 7.6-7.6-7.6zM1349.6 729.7l7.6 7.6-7.6 7.6-7.6-7.6zM1349.8 741.3l7.6 7.6-7.6 7.6-7.6-7.6zM1350.1 742.6l7.6 7.6-7.6 7.6-7.6-7.6zM1350.3 736.3l7.6 7.6-7.6 7.6-7.6-7.6zM1350.6 737.8l7.6 7.6-7.6 7.6-7.6-7.6zM1350.8 740.6l7.6 7.6-7.6 7.6-7.6-7.6zM1351.1 741.4l7.6 7.6-7.6 7.6-7.6-7.6zM1351.3 739l7.6 7.6-7.6 7.6-7.6-7.6zM1351.6 737.5l7.6 7.6-7.6 7.6-7.6-7.6zM1351.8 737.8l7.6 7.6-7.6 7.6-7.6-7.6zM1352.1 741.7l7.6 7.6-7.6 7.6-7.6-7.6zM1352.3 739l7.6 7.6-7.6 7.6-7.6-7.6zM1352.6 737.5l7.6 7.6-7.6 7.6-7.6-7.6zM1352.8 737.9l7.6 7.6-7.6 7.6-7.6-7.6zM1353.1 752l7.6 7.6-7.6 7.6-7.6-7.6zM1353.3 744l7.6 7.6-7.6 7.6-7.6-7.6zM1353.6 743.6l7.6 7.6-7.6 7.6-7.6-7.6zM1353.8 741.6l7.6 7.6-7.6 7.6-7.6-7.6zM1354.1 740.1l7.6 7.6-7.6 7.6-7.6-7.6zM1354.4 737.4l7.6 7.6-7.6 7.6-7.6-7.6zM1354.6 738.5l7.6 7.6-7.6 7.6-7.6-7.6zM1354.9 741.3l7.6 7.6-7.6 7.6-7.6-7.6zM1355.1 740.7l7.6 7.6-7.6 7.6-7.6-7.6zM1355.4 734.4l7.6 7.6-7.6 7.6-7.6-7.6zM1355.6 743.1l7.6 7.6-7.6 7.6-7.6-7.6zM1355.9 739.7l7.6 7.6-7.6 7.6-7.6-7.6zM1356.1 735.1l7.6 7.6-7.6 7.6-7.6-7.6zM1356.4 739.6l7.6 7.6-7.6 7.6-7.6-7.6zM1356.6 748.4l7.6 7.6-7.6 7.6-7.6-7.6zM1356.9 739.5l7.6 7.6-7.6 7.6-7.6-7.6zM1357.1 742.3l7.6 7.6-7.6 7.6-7.6-7.6zM1357.4 741.3l7.6 7.6-7.6 7.6-7.6-7.6zM1357.6 737.1l7.6 7.6-7.6 7.6-7.6-7.6zM1357.9 739.2l7.6 7.6-7.6 7.6-7.6-7.6zM1358.1 741.9l7.6 7.6-7.6 7.6-7.6-7.6zM1358.4 737.7l7.6 7.6-7.6 7.6-7.6-7.6zM1358.6 739.4l7.6 7.6-7.6 7.6-7.6-7.6zM1358.9 740.6l7.6 7.6-7.6 7.6-7.6-7.6zM1359.1 739.9l7.6 7.6-7.6 7.6-7.6-7.6zM1359.4 740.1l7.6 7.6-7.6 7.6-7.6-7.6zM1359.6 742.3l7.6 7.6-7.6 7.6-7.6-7.6zM1359.9 742.7l7.6 7.6-7.6 7.6-7.6-7.6zM1360.1 740.9l7.6 7.6-7.6 7.6-7.6-7.6zM1360.4 744.5l7.6 7.6-7.6 7.6-7.6-7.6zM1360.7 745.7l7.6 7.6-7.6 7.6-7.6-7.6zM1360.9 736.3l7.6 7.6-7.6 7.6-7.6-7.6zM1361.2 741.9l7.6 7.6-7.6 7.6-7.6-7.6zM1361.4 741.2l7.6 7.6-7.6 7.6-7.6-7.6zM1361.7 741.6l7.6 7.6-7.6 7.6-7.6-7.6zM1361.9 741l7.6 7.6-7.6 7.6-7.6-7.6zM1362.2 741l7.6 7.6-7.6 7.6-7.6-7.6zM1362.4 740.9l7.6 7.6-7.6 7.6-7.6-7.6zM1362.7 744.1l7.6 7.6-7.6 7.6-7.6-7.6zM1362.9 737.7l7.6 7.6-7.6 7.6-7.6-7.6zM1363.2 743.7l7.6 7.6-7.6 7.6-7.6-7.6zM1363.4 737.4l7.6 7.6-7.6 7.6-7.6-7.6zM1363.7 748.2l7.6 7.6-7.6 7.6-7.6-7.6zM1363.9 745l7.6 7.6-7.6 7.6-7.6-7.6zM1364.2 737.5l7.6 7.6-7.6 7.6-7.6-7.6zM1364.4 741.7l7.6 7.6-7.6 7.6-7.6-7.6zM1364.7 743.6l7.6 7.6-7.6 7.6-7.6-7.6zM1364.9 739.8l7.6 7.6-7.6 7.6-7.6-7.6zM1365.2 745l7.6 7.6-7.6 7.6-7.6-7.6zM1365.4 740.9l7.6 7.6-7.6 7.6-7.6-7.6zM1365.7 749.3l7.6 7.6-7.6 7.6-7.6-7.6zM1365.9 742.9l7.6 7.6-7.6 7.6-7.6-7.6zM1366.2 743.6l7.6 7.6-7.6 7.6-7.6-7.6zM1366.4 739.2l7.6 7.6-7.6 7.6-7.6-7.6zM1366.7 738l7.6 7.6-7.6 7.6-7.6-7.6zM1367 744.3l7.6 7.6-7.6 7.6-7.6-7.6zM1367.2 735.3l7.6 7.6-7.6 7.6-7.6-7.6zM1367.5 743.4l7.6 7.6-7.6 7.6-7.6-7.6zM1367.7 748.7l7.6 7.6-7.6 7.6-7.6-7.6zM1368 749.9l7.6 7.6-7.6 7.6-7.6-7.6zM1368.2 735.6l7.6 7.6-7.6 7.6-7.6-7.6zM1368.5 741.6l7.6 7.6-7.6 7.6-7.6-7.6zM1368.7 743.6l7.6 7.6-7.6 7.6-7.6-7.6zM1369 744l7.6 7.6-7.6 7.6-7.6-7.6zM1369.2 745.2l7.6 7.6-7.6 7.6-7.6-7.6zM1369.5 736.3l7.6 7.6-7.6 7.6-7.6-7.6zM1369.7 741.6l7.6 7.6-7.6 7.6-7.6-7.6zM1370 734.7l7.6 7.6-7.6 7.6-7.6-7.6zM1370.2 742l7.6 7.6-7.6 7.6-7.6-7.6zM1370.5 749.8l7.6 7.6-7.6 7.6-7.6-7.6zM1370.7 738.2l7.6 7.6-7.6 7.6-7.6-7.6zM1371 742.6l7.6 7.6-7.6 7.6-7.6-7.6zM1371.2 742.1l7.6 7.6-7.6 7.6-7.6-7.6zM1371.5 735.5l7.6 7.6-7.6 7.6-7.6-7.6zM1371.7 742.2l7.6 7.6-7.6 7.6-7.6-7.6zM1372 737l7.6 7.6-7.6 7.6-7.6-7.6zM1372.2 741.3l7.6 7.6-7.6 7.6-7.6-7.6zM1372.5 744l7.6 7.6-7.6 7.6-7.6-7.6zM1372.7 739.4l7.6 7.6-7.6 7.6-7.6-7.6zM1373 743.5l7.6 7.6-7.6 7.6-7.6-7.6zM1373.3 736.8l7.6 7.6-7.6 7.6-7.6-7.6zM1373.5 737.8l7.6 7.6-7.6 7.6-7.6-7.6zM1373.8 741l7.6 7.6-7.6 7.6-7.6-7.6zM1374 739l7.6 7.6-7.6 7.6-7.6-7.6zM1374.3 739.2l7.6 7.6-7.6 7.6-7.6-7.6zM1374.5 742.3l7.6 7.6-7.6 7.6-7.6-7.6zM1374.8 738l7.6 7.6-7.6 7.6-7.6-7.6zM1375 742.1l7.6 7.6-7.6 7.6-7.6-7.6zM1375.3 739l7.6 7.6-7.6 7.6-7.6-7.6zM1375.5 744.7l7.6 7.6-7.6 7.6-7.6-7.6zM1375.8 740.9l7.6 7.6-7.6 7.6-7.6-7.6zM1376 739.7l7.6 7.6-7.6 7.6-7.6-7.6zM1376.3 744.1l7.6 7.6-7.6 7.6-7.6-7.6zM1376.5 742.8l7.6 7.6-7.6 7.6-7.6-7.6zM1376.8 743.2l7.6 7.6-7.6 7.6-7.6-7.6zM1377 738.6l7.6 7.6-7.6 7.6-7.6-7.6zM1377.3 743.9l7.6 7.6-7.6 7.6-7.6-7.6zM1377.5 739.6l7.6 7.6-7.6 7.6-7.6-7.6zM1377.8 735.7l7.6 7.6-7.6 7.6-7.6-7.6zM1378 739.9l7.6 7.6-7.6 7.6-7.6-7.6zM1378.3 747.1l7.6 7.6-7.6 7.6-7.6-7.6zM1378.5 740.8l7.6 7.6-7.6 7.6-7.6-7.6zM1378.8 737.4l7.6 7.6-7.6 7.6-7.6-7.6zM1379 742.3l7.6 7.6-7.6 7.6-7.6-7.6zM1379.3 737.2l7.6 7.6-7.6 7.6-7.6-7.6zM315.6 47.9l7.6 7.6-7.6 7.6-7.6-7.6zM320.9 47.4l7.6 7.6-7.6 7.6-7.6-7.6zM306.7 65.7l7.6 7.6-7.6 7.6-7.6-7.6zM306.2 68.8l7.6 7.6-7.6 7.6-7.6-7.6zM324.1 68.8l7.6 7.6-7.6 7.6-7.6-7.6zM308.8 78.4l7.6 7.6-7.6 7.6-7.6-7.6zM333.3 85.2l7.6 7.6-7.6 7.6-7.6-7.6zM304.4 92.8l7.6 7.6-7.6 7.6-7.6-7.6zM299.1 108.8l7.6 7.6-7.6 7.6-7.6-7.6zM334.7 111.4l7.6 7.6-7.6 7.6-7.6-7.6zM465.4 554.8l7.6 7.6-7.6 7.6-7.6-7.6zM465.2 561.4l7.6 7.6-7.6 7.6-7.6-7.6zM465.8 568.4l7.6 7.6-7.6 7.6-7.6-7.6z" fill="#000"/>
<g clip-path="url(#c)" fill="none" stroke="#5b9bd5" stroke-width="6.5" stroke-linejoin="round" stroke-linecap="round"><path d="M119.3,439.7 L120.3,444 L121.3,448 L122.3,452 L123.3,455.8 L124.3,459.6 L125.3,463.2 L126.3,466.7 L127.3,470.1 L128.3,473.5 L129.3,476.7 L130.3,479.9 L131.3,483 L132.3,486 L133.3,488.9 L134.3,491.8 L135.3,494.6 L136.3,497.4 L137.3,500.1 L138.3,502.7 L139.3,505.3 L140.3,507.8 L141.3,510.3 L142.3,512.7 L143.3,515.1 L144.3,517.4 L145.3,519.7 L146.3,522 L147.3,524.2 L148.3,526.4 L149.3,528.5 L150.3,530.6 L151.3,532.7 L152.3,534.7 L153.3,536.8 L154.3,538.7 L155.3,540.7 L156.3,542.6 L157.3,544.5 L158.3,546.4 L159.3,548.2 L160.3,550.1 L161.3,551.9 L162.3,553.6 L163.3,555.4 L164.3,557.1 L165.3,558.8 L166.3,560.5 L167.3,562.2 L168.3,563.9 L169.3,565.5 L170.3,567.1 L171.3,568.7 L172.3,570.3 L173.3,571.9 L174.3,573.4 L175.3,574.9 L176.3,576.5 L177.3,578 L178.3,579.5 L179.3,580.9 L180.3,582.4 L181.3,583.8 L182.3,585.2 L183.3,586.7 L184.3,588.1 L185.3,589.5 L186.3,590.8 L187.3,592.2 L188.3,593.5 L189.3,594.9 L190.3,596.2 L191.3,597.5 L192.3,598.8 L193.3,600.1 L194.3,601.4 L195.3,602.7 L196.3,603.9 L197.3,605.2 L198.3,606.4 L199.3,607.6 L200.3,608.8 L201.3,610 L202.3,611.2 L203.3,612.4 L204.3,613.6 L205.3,614.7 L206.3,615.9 L207.3,617 L208.3,618.2 L209.3,619.3 L210.3,620.4 L211.3,621.5 L212.3,622.6 L213.3,623.7 L214.3,624.8 L215.3,625.9 L216.3,626.9 L217.3,628 L218.3,629 L219.3,630.1 L220.3,631.1 L221.3,632.1 L222.3,633.1 L223.3,634.1 L224.3,635.1 L225.3,636.1 L226.3,637.1 L227.3,638.1 L228.3,639 L229.3,640 L230.3,640.9 L231.3,641.9 L232.3,642.8 L233.3,643.7 L234.3,644.7 L235.3,645.6 L236.3,646.5 L237.3,647.4 L238.3,648.3 L239.3,649.1 L240.3,650 L241.3,650.9 L242.3,651.8 L243.3,652.6 L244.3,653.5 L245.3,654.3 L246.3,655.1 L247.3,656 L248.3,656.8 L249.3,657.6 L250.3,658.4 L251.3,659.2 L252.3,660 L253.3,660.8 L254.3,661.6 L255.3,662.4 L256.3,663.2 L257.3,663.9 L258.3,664.7 L259.3,665.5 L260.3,666.2 L261.3,667 L262.3,667.7 L263.3,668.4 L264.3,669.2 L265.3,669.9 L266.3,670.6 L267.3,671.3 L268.3,672 L269.3,672.7 L270.3,673.4 L271.3,674.1 L272.3,674.8 L273.3,675.5 L274.3,676.2 L275.3,676.8 L276.3,677.5 L277.3,678.2 L278.3,678.8 L279.3,679.5 L280.3,680.1 L281.3,680.7 L282.3,681.4 L283.3,682 L284.3,682.6 L285.3,683.3 L286.3,683.9 L287.3,684.5 L288.3,685.1 L289.3,685.7 L290.3,686.3 L291.3,686.9 L292.3,687.5 L293.3,688.1 L294.3,688.6 L295.3,689.2 L296.3,689.8 L297.3,690.4 L298.3,690.9 L299.3,691.5 L300.3,692 L301.3,692.6 L302.3,693.1 L303.3,693.7 L304.3,694.2 L305.3,694.7 L306.3,695.3 L307.3,695.8 L308.3,696.3 L309.3,696.8 L310.3,697.3 L311.3,697.9 L312.3,698.4 L313.3,698.9 L314.3,699.4 L315.3,699.9 L316.3,700.4 L317.3,700.8 L318.3,701.3 L319.3,701.8 L320.3,702.3 L321.3,702.8 L322.3,703.2 L323.3,703.7 L324.3,704.2 L325.3,704.6 L326.3,705.1 L327.3,705.5 L328.3,706 L329.3,706.4 L330.3,706.9 L331.3,707.3 L332.3,707.7 L333.3,708.2 L334.3,708.6 L335.3,709 L336.3,709.5 L337.3,709.9 L338.3,710.3 L339.3,710.7 L340.3,711.1 L341.3,711.5 L342.3,711.9 L343.3,712.3 L344.3,712.7 L345.3,713.1 L346.3,713.5 L347.3,713.9 L348.3,714.3 L349.3,714.7 L350.3,715.1 L351.3,715.5 L352.3,715.8 L353.3,716.2 L354.3,716.6 L355.3,716.9 L356.3,717.3 L357.3,717.7 L358.3,718 L359.3,718.4 L360.3,718.7 L361.3,719.1 L362.3,719.4 L363.3,719.8 L364.3,720.1 L365.3,720.5 L366.3,720.8 L367.3,721.2 L368.3,721.5 L369.3,721.8 L370.3,722.2 L371.3,722.5 L372.3,722.8 L373.3,723.1 L374.3,723.5 L375.3,723.8 L376.3,724.1 L377.3,724.4 L378.3,724.7 L379.3,725 L380.3,725.3 L381.3,725.6 L382.3,725.9 L383.3,726.2 L384.3,726.5 L385.3,726.8 L386.3,727.1 L387.3,727.4 L388.3,727.7 L389.3,728 L390.3,728.3 L391.3,728.6 L392.3,728.9 L393.3,729.1 L394.3,729.4 L395.3,729.7 L396.3,730 L397.3,730.2 L398.3,730.5 L399.3,730.8 L400.3,731 L401.3,731.3 L402.3,731.6 L403.3,731.8 L404.3,732.1 L405.3,732.3 L406.3,732.6 L407.3,732.9 L408.3,733.1 L409.3,733.4 L410.3,733.6 L411.3,733.8 L412.3,734.1 L413.3,734.3 L414.3,734.6 L415.3,734.8 L416.3,735.1 L417.3,735.3 L418.3,735.5 L419.3,735.8 L420.3,736 L421.3,736.2 L422.3,736.4 L423.3,736.7 L424.3,736.9 L425.3,737.1 L426.3,737.3 L427.3,737.6 L428.3,737.8 L429.3,738 L430.3,738.2 L431.3,738.4 L432.3,738.6 L433.3,738.8 L434.3,739.1 L435.3,739.3 L436.3,739.5 L437.3,739.7 L438.3,739.9 L439.3,740.1 L440.3,740.3 L441.3,740.5 L442.3,740.7 L443.3,740.9 L444.3,741.1 L445.3,741.3 L446.3,741.5 L447.3,741.7 L448.3,741.8 L449.3,742 L450.3,742.2 L451.3,742.4 L452.3,742.6 L453.3,742.8 L454.3,743 L455.3,743.1 L456.3,743.3 L457.3,743.5 L458.3,743.7 L459.3,743.9 L460.3,744 L461.3,744.2 L462.3,744.4 L463.3,744.5 L464.3,744.7 L465.3,744.9 L466.3,745.1 L467.3,745.2 L468.3,745.4 L469.3,745.5 L470.3,745.7 L471.3,745.9 L472.3,746 L473.3,746.2 L474.3,746.4 L475.3,746.5 L476.3,746.7 L477.3,746.8 L478.3,747 L479.3,747.1 L480,747.2 L482.5,747.6 L485,748 L487.5,748.4 L490,748.7 L492.5,749.1 L495,749.4 L497.5,749.8 L500,750.1 L502.5,750.4 L505,750.7 L507.5,751.1 L510,751.4 L512.5,751.7 L515,752 L517.5,752.3 L520,752.6 L522.5,752.9 L525,753.2 L527.5,753.4 L530,753.7 L532.5,754 L535,754.2 L537.5,754.5 L540,754.8 L542.5,755 L545,755.3 L547.5,755.5 L550,755.8 L552.5,756 L555,756.2 L557.5,756.5 L560,756.7 L562.5,756.9 L565,757.1 L567.5,757.3 L570,757.5 L572.5,757.8 L575,758 L577.5,758.2 L580,758.4 L582.5,758.5 L585,758.7 L587.5,758.9 L590,759.1 L592.5,759.3 L595,759.5 L597.5,759.6 L600,759.8 L602.5,760 L605,760.2 L607.5,760.3 L610,760.5 L612.5,760.6 L615,760.8 L617.5,761 L620,761.1 L622.5,761.3 L625,761.4 L627.5,761.5 L630,761.7 L632.5,761.8 L635,762 L637.5,762.1 L640,762.2 L642.5,762.4 L645,762.5 L647.5,762.6 L650,762.7 L652.5,762.9 L655,763 L657.5,763.1 L660,763.2 L662.5,763.3 L665,763.4 L667.5,763.5 L670,763.6 L672.5,763.8 L675,763.9 L677.5,764 L680,764.1 L682.5,764.2 L685,764.3 L687.5,764.3 L690,764.4 L692.5,764.5 L695,764.6 L697.5,764.7 L700,764.8 L702.5,764.9 L705,765 L707.5,765 L710,765.1 L712.5,765.2 L715,765.3 L717.5,765.3 L720,765.4 L722.5,765.5 L725,765.6 L727.5,765.6 L730,765.7 L732.5,765.8 L735,765.8 L737.5,765.9 L740,765.9 L742.5,766 L745,766.1 L747.5,766.1 L750,766.2 L752.5,766.2 L755,766.3 L757.5,766.3 L760,766.4 L762.5,766.4 L765,766.5 L767.5,766.5 L770,766.6 L772.5,766.6 L775,766.7 L777.5,766.7 L780,766.8 L782.5,766.8 L785,766.8 L787.5,766.9 L790,766.9 L792.5,766.9 L795,767 L797.5,767 L800,767 L802.5,767.1 L805,767.1 L807.5,767.1 L810,767.1 L812.5,767.2 L815,767.2 L817.5,767.2 L820,767.2 L822.5,767.3 L825,767.3 L827.5,767.3 L830,767.3 L832.5,767.3 L835,767.4 L837.5,767.4 L840,767.4 L842.5,767.4 L845,767.4 L847.5,767.4 L850,767.4 L852.5,767.4 L855,767.5 L857.5,767.5 L860,767.5 L862.5,767.5 L865,767.5 L867.5,767.5 L870,767.5 L872.5,767.5 L875,767.5 L877.5,767.5 L880,767.5 L882.5,767.5 L885,767.5 L887.5,767.5 L890,767.5 L892.5,767.5 L895,767.5 L897.5,767.5 L900,767.5 L902.5,767.4 L905,767.4 L907.5,767.4 L910,767.4 L912.5,767.4 L915,767.4 L917.5,767.4 L920,767.4 L922.5,767.3 L925,767.3 L927.5,767.3 L930,767.3 L932.5,767.3 L935,767.2 L937.5,767.2 L940,767.2 L942.5,767.2 L945,767.2 L947.5,767.1 L950,767.1 L952.5,767.1 L955,767.1 L957.5,767 L960,767 L962.5,767 L965,766.9 L967.5,766.9 L970,766.9 L972.5,766.8 L975,766.8 L977.5,766.8 L980,766.7 L982.5,766.7 L985,766.7 L987.5,766.6 L990,766.6 L992.5,766.6 L995,766.5 L997.5,766.5 L1000,766.4 L1002.5,766.4 L1005,766.3 L1007.5,766.3 L1010,766.3 L1012.5,766.2 L1015,766.2 L1017.5,766.1 L1020,766.1 L1022.5,766 L1025,766 L1027.5,765.9 L1030,765.9 L1032.5,765.8 L1035,765.8 L1037.5,765.7 L1040,765.7 L1042.5,765.6 L1045,765.6 L1047.5,765.5 L1050,765.4 L1052.5,765.4 L1055,765.3 L1057.5,765.3 L1060,765.2 L1062.5,765.2 L1065,765.1 L1067.5,765 L1070,765 L1072.5,764.9 L1075,764.8 L1077.5,764.8 L1080,764.7 L1082.5,764.6 L1085,764.6 L1087.5,764.5 L1090,764.4 L1092.5,764.4 L1095,764.3 L1097.5,764.2 L1100,764.2 L1102.5,764.1 L1105,764 L1107.5,763.9 L1110,763.9 L1112.5,763.8 L1115,763.7 L1117.5,763.6 L1120,763.6 L1122.5,763.5 L1125,763.4 L1127.5,763.3 L1130,763.2 L1132.5,763.2 L1135,763.1 L1137.5,763 L1140,762.9 L1142.5,762.8 L1145,762.7 L1147.5,762.7 L1150,762.6 L1152.5,762.5 L1155,762.4 L1157.5,762.3 L1160,762.2 L1162.5,762.1 L1165,762 L1167.5,761.9 L1170,761.9 L1172.5,761.8 L1175,761.7 L1177.5,761.6 L1180,761.5 L1182.5,761.4 L1185,761.3 L1187.5,761.2 L1190,761.1 L1192.5,761 L1195,760.9 L1197.5,760.8 L1200,760.7 L1202.5,760.6 L1205,760.5 L1207.5,760.4 L1210,760.3 L1212.5,760.2 L1215,760.1 L1217.5,760 L1220,759.9 L1222.5,759.8 L1225,759.6 L1227.5,759.5 L1230,759.4 L1232.5,759.3 L1235,759.2 L1237.5,759.1 L1240,759 L1242.5,758.9 L1245,758.8 L1247.5,758.6 L1250,758.5 L1252.5,758.4 L1255,758.3 L1257.5,758.2 L1260,758.1 L1262.5,757.9 L1265,757.8 L1267.5,757.7 L1270,757.6 L1272.5,757.5 L1275,757.3 L1277.5,757.2 L1280,757.1 L1282.5,757 L1285,756.8 L1287.5,756.7 L1290,756.6 L1292.5,756.5 L1295,756.3 L1297.5,756.2 L1300,756.1 L1302.5,755.9 L1305,755.8 L1307.5,755.7 L1310,755.6 L1312.5,755.4 L1315,755.3 L1317.5,755.1 L1320,755 L1322.5,754.9 L1325,754.7 L1327.5,754.6 L1330,754.5 L1332.5,754.3 L1335,754.2 L1337.5,754 L1340,753.9 L1342.5,753.8 L1345,753.6 L1347.5,753.5 L1350,753.3 L1352.5,753.2 L1355,753.1 L1357.5,752.9 L1360,752.8 L1362.5,752.6 L1365,752.5 L1367.5,752.3 L1370,752.2 L1372.5,752 L1375,751.9 L1377.5,751.7 L1379.3,751.6"/><path d="M119.3,433.5 L120.3,436.3 L121.3,439.2 L122.3,442.2 L123.3,445.2 L124.3,448.2 L125.3,451.2 L126.3,454.2 L127.3,457.2 L128.3,460.1 L129.3,463 L130.3,465.9 L131.3,468.7 L132.3,471.4 L133.3,474.1 L134.3,476.7 L135.3,479.3 L136.3,481.8 L137.3,484.3 L138.3,486.7 L139.3,489.1 L140.3,491.4 L141.3,493.6 L142.3,495.9 L143.3,498 L144.3,500.1 L145.3,502.2 L146.3,504.2 L147.3,506.2 L148.3,508.2 L149.3,510.1 L150.3,511.9 L151.3,513.8 L152.3,515.6 L153.3,517.3 L154.3,519 L155.3,520.7 L156.3,522.3 L157.3,523.9 L158.3,525.5 L159.3,527 L160.3,528.5 L161.3,530 L162.3,531.5 L163.3,532.9 L164.3,534.2 L165.3,535.6 L166.3,536.9 L167.3,538.1 L168.3,539.4 L169.3,540.6 L170.3,541.7 L171.3,542.9 L172.3,544 L173.3,545 L174.3,546.1 L175.3,547 L176.3,548 L177.3,548.9 L178.3,549.8 L179.3,550.7 L180.3,551.5 L181.3,552.2 L182.3,553 L183.3,553.7 L184.3,554.3 L185.3,554.9 L186.3,555.5 L187.3,556 L188.3,556.5 L189.3,556.9 L190.3,557.3 L191.3,557.6 L192.3,557.9 L193.3,558.2 L194.3,558.4 L195.3,558.5 L196.3,558.6 L197.3,558.6 L198.3,558.5 L199.3,558.5 L200.3,558.3 L201.3,558.1 L202.3,557.8 L203.3,557.5 L204.3,557 L205.3,556.6 L206.3,556 L207.3,555.4 L208.3,554.7 L209.3,554 L210.3,553.1 L211.3,552.2 L212.3,551.2 L213.3,550.1 L214.3,549 L215.3,547.7 L216.3,546.4 L217.3,545 L218.3,543.5 L219.3,541.9 L220.3,540.2 L221.3,538.4 L222.3,536.5 L223.3,534.5 L224.3,532.5 L225.3,530.3 L226.3,528 L227.3,525.6 L228.3,523.1 L229.3,520.6 L230.3,517.9 L231.3,515.1 L232.3,512.2 L233.3,509.1 L234.3,506 L235.3,502.8 L236.3,499.4 L237.3,496 L238.3,492.4 L239.3,488.7 L240.3,484.9 L241.3,481 L242.3,477 L243.3,472.9 L244.3,468.6 L245.3,464.3 L246.3,459.8 L247.3,455.2 L248.3,450.5 L249.3,445.7 L250.3,440.8 L251.3,435.8 L252.3,430.7 L253.3,425.5 L254.3,420.2 L255.3,414.8 L256.3,409.3 L257.3,403.7 L258.3,398 L259.3,392.2 L260.3,386.3 L261.3,380.4 L262.3,374.3 L263.3,368.2 L264.3,362.1 L265.3,355.8 L266.3,349.5 L267.3,343.2 L268.3,336.8 L269.3,330.3 L270.3,323.8 L271.3,317.3 L272.3,310.7 L273.3,304.1 L274.3,297.5 L275.3,290.9 L276.3,284.2 L277.3,277.6 L278.3,271 L279.3,264.3 L280.3,257.7 L281.3,251.2 L282.3,244.6 L283.3,238.1 L284.3,231.7 L285.3,225.3 L286.3,219 L287.3,212.8 L288.3,206.6 L289.3,200.5 L290.3,194.6 L291.3,188.8 L292.3,183 L293.3,177.5 L294.3,172 L295.3,166.7 L296.3,161.6 L297.3,156.7 L298.3,151.9 L299.3,147.3 L300.3,142.9 L301.3,138.8 L302.3,134.8 L303.3,131.1 L304.3,127.6 L305.3,124.3 L306.3,121.4 L307.3,118.6 L308.3,116.2 L309.3,114 L310.3,112.1 L311.3,110.4 L312.3,109.1 L313.3,108.1 L314.3,107.3 L315.3,106.9 L316.3,106.7 L317.3,106.9 L318.3,107.4 L319.3,108.1 L320.3,109.1 L321.3,110.3 L322.3,111.8 L323.3,113.5 L324.3,115.5 L325.3,117.7 L326.3,120.2 L327.3,122.9 L328.3,125.8 L329.3,129 L330.3,132.3 L331.3,135.9 L332.3,139.7 L333.3,143.8 L334.3,148 L335.3,152.4 L336.3,157 L337.3,161.8 L338.3,166.8 L339.3,171.9 L340.3,177.2 L341.3,182.7 L342.3,188.3 L343.3,194.1 L344.3,200 L345.3,206 L346.3,212.2 L347.3,218.5 L348.3,224.8 L349.3,231.3 L350.3,237.9 L351.3,244.6 L352.3,251.3 L353.3,258.2 L354.3,265 L355.3,272 L356.3,279 L357.3,286.1 L358.3,293.2 L359.3,300.3 L360.3,307.5 L361.3,314.7 L362.3,321.9 L363.3,329.1 L364.3,336.3 L365.3,343.6 L366.3,350.8 L367.3,358 L368.3,365.2 L369.3,372.4 L370.3,379.6 L371.3,386.7 L372.3,393.8 L373.3,400.9 L374.3,407.9 L375.3,414.9 L376.3,421.8 L377.3,428.7 L378.3,435.5 L379.3,442.2 L380.3,448.9 L381.3,455.6 L382.3,462.1 L383.3,468.6 L384.3,475 L385.3,481.4 L386.3,487.6 L387.3,493.8 L388.3,499.9 L389.3,505.9 L390.3,511.8 L391.3,517.7 L392.3,523.4 L393.3,529.1 L394.3,534.6 L395.3,540.1 L396.3,545.5 L397.3,550.8 L398.3,556 L399.3,561 L400.3,566 L401.3,570.9 L402.3,575.7 L403.3,580.4 L404.3,585 L405.3,589.5 L406.3,593.9 L407.3,598.3 L408.3,602.5 L409.3,606.6 L410.3,610.6 L411.3,614.5 L412.3,618.4 L413.3,622.1 L414.3,625.8 L415.3,629.3 L416.3,632.8 L417.3,636.2 L418.3,639.5 L419.3,642.7 L420.3,645.8 L421.3,648.9 L422.3,651.8 L423.3,654.7 L424.3,657.5 L425.3,660.2 L426.3,662.9 L427.3,665.4 L428.3,667.9 L429.3,670.3 L430.3,672.7 L431.3,675 L432.3,677.2 L433.3,679.3 L434.3,681.4 L435.3,683.4 L436.3,685.3 L437.3,687.2 L438.3,689.1 L439.3,690.8 L440.3,692.6 L441.3,694.2 L442.3,695.8 L443.3,697.4 L444.3,698.9 L445.3,700.4 L446.3,701.8 L447.3,703.1 L448.3,704.5 L449.3,705.7 L450.3,707 L451.3,708.2 L452.3,709.3 L453.3,710.4 L454.3,711.5 L455.3,712.6 L456.3,713.6 L457.3,714.6 L458.3,715.5 L459.3,716.4 L460.3,717.3 L461.3,718.2 L462.3,719 L463.3,719.8 L464.3,720.6 L465.3,721.4 L466.3,722.1 L467.3,722.8 L468.3,723.5 L469.3,724.2 L470.3,724.8 L471.3,725.4 L472.3,726 L473.3,726.6 L474.3,727.2 L475.3,727.8 L476.3,728.3 L477.3,728.8 L478.3,729.3 L479.3,729.8 L480,730.2 L482.5,731.3 L485,732.4 L487.5,733.4 L490,734.4 L492.5,735.3 L495,736.1 L497.5,736.9 L500,737.7 L502.5,738.4 L505,739.1 L507.5,739.8 L510,740.4 L512.5,741 L515,741.6 L517.5,742.2 L520,742.7 L522.5,743.3 L525,743.8 L527.5,744.3 L530,744.8 L532.5,745.2 L535,745.7 L537.5,746.2 L540,746.6 L542.5,747 L545,747.4 L547.5,747.8 L550,748.2 L552.5,748.6 L555,749 L557.5,749.4 L560,749.7 L562.5,750.1 L565,750.5 L567.5,750.8 L570,751.1 L572.5,751.5 L575,751.8 L577.5,752.1 L580,752.4 L582.5,752.7 L585,753 L587.5,753.3 L590,753.6 L592.5,753.8 L595,754.1 L597.5,754.4 L600,754.6 L602.5,754.9 L605,755.2 L607.5,755.4 L610,755.6 L612.5,755.9 L615,756.1 L617.5,756.3 L620,756.6 L622.5,756.8 L625,757 L627.5,757.2 L630,757.4 L632.5,757.6 L635,757.8 L637.5,758 L640,758.2 L642.5,758.4 L645,758.6 L647.5,758.8 L650,759 L652.5,759.1 L655,759.3 L657.5,759.5 L660,759.6 L662.5,759.8 L665,760 L667.5,760.1 L670,760.3 L672.5,760.4 L675,760.6 L677.5,760.7 L680,760.9 L682.5,761 L685,761.1 L687.5,761.3 L690,761.4 L692.5,761.5 L695,761.7 L697.5,761.8 L700,761.9 L702.5,762 L705,762.1 L707.5,762.3 L710,762.4 L712.5,762.5 L715,762.6 L717.5,762.7 L720,762.8 L722.5,762.9 L725,763 L727.5,763.1 L730,763.2 L732.5,763.3 L735,763.4 L737.5,763.5 L740,763.6 L742.5,763.7 L745,763.8 L747.5,763.8 L750,763.9 L752.5,764 L755,764.1 L757.5,764.2 L760,764.2 L762.5,764.3 L765,764.4 L767.5,764.4 L770,764.5 L772.5,764.6 L775,764.6 L777.5,764.7 L780,764.8 L782.5,764.8 L785,764.9 L787.5,764.9 L790,765 L792.5,765.1 L795,765.1 L797.5,765.2 L800,765.2 L802.5,765.3 L805,765.3 L807.5,765.4 L810,765.4 L812.5,765.4 L815,765.5 L817.5,765.5 L820,765.6 L822.5,765.6 L825,765.6 L827.5,765.7 L830,765.7 L832.5,765.7 L835,765.8 L837.5,765.8 L840,765.8 L842.5,765.9 L845,765.9 L847.5,765.9 L850,765.9 L852.5,766 L855,766 L857.5,766 L860,766 L862.5,766 L865,766.1 L867.5,766.1 L870,766.1 L872.5,766.1 L875,766.1 L877.5,766.1 L880,766.1 L882.5,766.2 L885,766.2 L887.5,766.2 L890,766.2 L892.5,766.2 L895,766.2 L897.5,766.2 L900,766.2 L902.5,766.2 L905,766.2 L907.5,766.2 L910,766.2 L912.5,766.2 L915,766.2 L917.5,766.2 L920,766.2 L922.5,766.2 L925,766.2 L927.5,766.2 L930,766.1 L932.5,766.1 L935,766.1 L937.5,766.1 L940,766.1 L942.5,766.1 L945,766.1 L947.5,766.1 L950,766 L952.5,766 L955,766 L957.5,766 L960,766 L962.5,765.9 L965,765.9 L967.5,765.9 L970,765.9 L972.5,765.8 L975,765.8 L977.5,765.8 L980,765.8 L982.5,765.7 L985,765.7 L987.5,765.7 L990,765.6 L992.5,765.6 L995,765.6 L997.5,765.5 L1000,765.5 L1002.5,765.5 L1005,765.4 L1007.5,765.4 L1010,765.4 L1012.5,765.3 L1015,765.3 L1017.5,765.2 L1020,765.2 L1022.5,765.2 L1025,765.1 L1027.5,765.1 L1030,765 L1032.5,765 L1035,764.9 L1037.5,764.9 L1040,764.8 L1042.5,764.8 L1045,764.7 L1047.5,764.7 L1050,764.6 L1052.5,764.6 L1055,764.5 L1057.5,764.5 L1060,764.4 L1062.5,764.4 L1065,764.3 L1067.5,764.3 L1070,764.2 L1072.5,764.2 L1075,764.1 L1077.5,764 L1080,764 L1082.5,763.9 L1085,763.8 L1087.5,763.8 L1090,763.7 L1092.5,763.7 L1095,763.6 L1097.5,763.5 L1100,763.5 L1102.5,763.4 L1105,763.3 L1107.5,763.2 L1110,763.2 L1112.5,763.1 L1115,763 L1117.5,763 L1120,762.9 L1122.5,762.8 L1125,762.7 L1127.5,762.7 L1130,762.6 L1132.5,762.5 L1135,762.4 L1137.5,762.4 L1140,762.3 L1142.5,762.2 L1145,762.1 L1147.5,762 L1150,761.9 L1152.5,761.9 L1155,761.8 L1157.5,761.7 L1160,761.6 L1162.5,761.5 L1165,761.4 L1167.5,761.4 L1170,761.3 L1172.5,761.2 L1175,761.1 L1177.5,761 L1180,760.9 L1182.5,760.8 L1185,760.7 L1187.5,760.6 L1190,760.5 L1192.5,760.4 L1195,760.3 L1197.5,760.2 L1200,760.1 L1202.5,760 L1205,759.9 L1207.5,759.8 L1210,759.7 L1212.5,759.6 L1215,759.5 L1217.5,759.4 L1220,759.3 L1222.5,759.2 L1225,759.1 L1227.5,759 L1230,758.9 L1232.5,758.8 L1235,758.7 L1237.5,758.6 L1240,758.5 L1242.5,758.4 L1245,758.3 L1247.5,758.1 L1250,758 L1252.5,757.9 L1255,757.8 L1257.5,757.7 L1260,757.6 L1262.5,757.5 L1265,757.3 L1267.5,757.2 L1270,757.1 L1272.5,757 L1275,756.9 L1277.5,756.7 L1280,756.6 L1282.5,756.5 L1285,756.4 L1287.5,756.3 L1290,756.1 L1292.5,756 L1295,755.9 L1297.5,755.8 L1300,755.6 L1302.5,755.5 L1305,755.4 L1307.5,755.2 L1310,755.1 L1312.5,755 L1315,754.9 L1317.5,754.7 L1320,754.6 L1322.5,754.5 L1325,754.3 L1327.5,754.2 L1330,754 L1332.5,753.9 L1335,753.8 L1337.5,753.6 L1340,753.5 L1342.5,753.4 L1345,753.2 L1347.5,753.1 L1350,752.9 L1352.5,752.8 L1355,752.7 L1357.5,752.5 L1360,752.4 L1362.5,752.2 L1365,752.1 L1367.5,751.9 L1370,751.8 L1372.5,751.6 L1375,751.5 L1377.5,751.3 L1379.3,751.2"/><path d="M119.3,439.2 L120.3,443.4 L121.3,447.4 L122.3,451.4 L123.3,455.2 L124.3,459 L125.3,462.6 L126.3,466.1 L127.3,469.5 L128.3,472.9 L129.3,476.1 L130.3,479.3 L131.3,482.4 L132.3,485.4 L133.3,488.3 L134.3,491.2 L135.3,494 L136.3,496.7 L137.3,499.4 L138.3,502 L139.3,504.6 L140.3,507.1 L141.3,509.6 L142.3,512 L143.3,514.4 L144.3,516.7 L145.3,519 L146.3,521.3 L147.3,523.5 L148.3,525.7 L149.3,527.8 L150.3,529.9 L151.3,532 L152.3,534 L153.3,536 L154.3,538 L155.3,539.9 L156.3,541.9 L157.3,543.8 L158.3,545.6 L159.3,547.5 L160.3,549.3 L161.3,551.1 L162.3,552.9 L163.3,554.6 L164.3,556.3 L165.3,558.1 L166.3,559.7 L167.3,561.4 L168.3,563.1 L169.3,564.7 L170.3,566.3 L171.3,567.9 L172.3,569.5 L173.3,571 L174.3,572.6 L175.3,574.1 L176.3,575.6 L177.3,577.1 L178.3,578.6 L179.3,580 L180.3,581.5 L181.3,582.9 L182.3,584.4 L183.3,585.8 L184.3,587.2 L185.3,588.5 L186.3,589.9 L187.3,591.3 L188.3,592.6 L189.3,593.9 L190.3,595.2 L191.3,596.6 L192.3,597.8 L193.3,599.1 L194.3,600.4 L195.3,601.7 L196.3,602.9 L197.3,604.1 L198.3,605.4 L199.3,606.6 L200.3,607.8 L201.3,609 L202.3,610.2 L203.3,611.3 L204.3,612.5 L205.3,613.7 L206.3,614.8 L207.3,615.9 L208.3,617.1 L209.3,618.2 L210.3,619.3 L211.3,620.4 L212.3,621.5 L213.3,622.6 L214.3,623.6 L215.3,624.7 L216.3,625.7 L217.3,626.8 L218.3,627.8 L219.3,628.8 L220.3,629.9 L221.3,630.9 L222.3,631.9 L223.3,632.9 L224.3,633.8 L225.3,634.8 L226.3,635.8 L227.3,636.7 L228.3,637.7 L229.3,638.6 L230.3,639.6 L231.3,640.5 L232.3,641.4 L233.3,642.3 L234.3,643.3 L235.3,644.2 L236.3,645 L237.3,645.9 L238.3,646.8 L239.3,647.7 L240.3,648.5 L241.3,649.4 L242.3,650.2 L243.3,651.1 L244.3,651.9 L245.3,652.7 L246.3,653.6 L247.3,654.4 L248.3,655.2 L249.3,656 L250.3,656.8 L251.3,657.6 L252.3,658.3 L253.3,659.1 L254.3,659.9 L255.3,660.6 L256.3,661.4 L257.3,662.1 L258.3,662.9 L259.3,663.6 L260.3,664.3 L261.3,665 L262.3,665.7 L263.3,666.4 L264.3,667.1 L265.3,667.8 L266.3,668.5 L267.3,669.2 L268.3,669.9 L269.3,670.5 L270.3,671.2 L271.3,671.8 L272.3,672.5 L273.3,673.1 L274.3,673.7 L275.3,674.4 L276.3,675 L277.3,675.6 L278.3,676.2 L279.3,676.8 L280.3,677.4 L281.3,678 L282.3,678.5 L283.3,679.1 L284.3,679.6 L285.3,680.2 L286.3,680.7 L287.3,681.3 L288.3,681.8 L289.3,682.3 L290.3,682.8 L291.3,683.3 L292.3,683.8 L293.3,684.3 L294.3,684.8 L295.3,685.2 L296.3,685.7 L297.3,686.1 L298.3,686.6 L299.3,687 L300.3,687.4 L301.3,687.8 L302.3,688.2 L303.3,688.6 L304.3,689 L305.3,689.4 L306.3,689.7 L307.3,690.1 L308.3,690.4 L309.3,690.7 L310.3,691 L311.3,691.3 L312.3,691.6 L313.3,691.9 L314.3,692.1 L315.3,692.4 L316.3,692.6 L317.3,692.8 L318.3,693 L319.3,693.2 L320.3,693.4 L321.3,693.6 L322.3,693.7 L323.3,693.9 L324.3,694 L325.3,694.1 L326.3,694.1 L327.3,694.2 L328.3,694.3 L329.3,694.3 L330.3,694.3 L331.3,694.3 L332.3,694.3 L333.3,694.2 L334.3,694.2 L335.3,694.1 L336.3,694 L337.3,693.9 L338.3,693.8 L339.3,693.6 L340.3,693.4 L341.3,693.2 L342.3,693 L343.3,692.8 L344.3,692.5 L345.3,692.2 L346.3,691.9 L347.3,691.6 L348.3,691.3 L349.3,690.9 L350.3,690.5 L351.3,690.1 L352.3,689.7 L353.3,689.2 L354.3,688.8 L355.3,688.3 L356.3,687.8 L357.3,687.2 L358.3,686.7 L359.3,686.1 L360.3,685.5 L361.3,684.9 L362.3,684.2 L363.3,683.5 L364.3,682.9 L365.3,682.2 L366.3,681.4 L367.3,680.7 L368.3,679.9 L369.3,679.1 L370.3,678.3 L371.3,677.5 L372.3,676.7 L373.3,675.8 L374.3,674.9 L375.3,674 L376.3,673.1 L377.3,672.2 L378.3,671.3 L379.3,670.3 L380.3,669.4 L381.3,668.4 L382.3,667.4 L383.3,666.4 L384.3,665.4 L385.3,664.4 L386.3,663.4 L387.3,662.4 L388.3,661.4 L389.3,660.3 L390.3,659.3 L391.3,658.2 L392.3,657.2 L393.3,656.2 L394.3,655.1 L395.3,654.1 L396.3,653 L397.3,652 L398.3,651 L399.3,650 L400.3,649 L401.3,648 L402.3,647 L403.3,646 L404.3,645 L405.3,644.1 L406.3,643.2 L407.3,642.2 L408.3,641.3 L409.3,640.5 L410.3,639.6 L411.3,638.8 L412.3,638 L413.3,637.2 L414.3,636.5 L415.3,635.7 L416.3,635 L417.3,634.4 L418.3,633.8 L419.3,633.2 L420.3,632.6 L421.3,632.1 L422.3,631.6 L423.3,631.2 L424.3,630.8 L425.3,630.4 L426.3,630.1 L427.3,629.8 L428.3,629.6 L429.3,629.4 L430.3,629.3 L431.3,629.2 L432.3,629.1 L433.3,629.1 L434.3,629.2 L435.3,629.3 L436.3,629.4 L437.3,629.6 L438.3,629.8 L439.3,630.1 L440.3,630.4 L441.3,630.8 L442.3,631.3 L443.3,631.7 L444.3,632.2 L445.3,632.8 L446.3,633.4 L447.3,634.1 L448.3,634.8 L449.3,635.5 L450.3,636.3 L451.3,637.2 L452.3,638 L453.3,638.9 L454.3,639.9 L455.3,640.9 L456.3,641.9 L457.3,642.9 L458.3,644 L459.3,645.1 L460.3,646.3 L461.3,647.4 L462.3,648.6 L463.3,649.9 L464.3,651.1 L465.3,652.4 L466.3,653.7 L467.3,655 L468.3,656.4 L469.3,657.7 L470.3,659.1 L471.3,660.5 L472.3,661.9 L473.3,663.3 L474.3,664.7 L475.3,666.2 L476.3,667.6 L477.3,669.1 L478.3,670.5 L479.3,672 L480,673 L482.5,676.7 L485,680.4 L487.5,684.1 L490,687.7 L492.5,691.3 L495,694.8 L497.5,698.3 L500,701.7 L502.5,704.9 L505,708.1 L507.5,711.2 L510,714.2 L512.5,717 L515,719.8 L517.5,722.4 L520,724.8 L522.5,727.2 L525,729.4 L527.5,731.6 L530,733.5 L532.5,735.4 L535,737.2 L537.5,738.8 L540,740.4 L542.5,741.8 L545,743.2 L547.5,744.4 L550,745.6 L552.5,746.7 L555,747.7 L557.5,748.6 L560,749.5 L562.5,750.3 L565,751 L567.5,751.7 L570,752.4 L572.5,752.9 L575,753.5 L577.5,754 L580,754.5 L582.5,754.9 L585,755.4 L587.5,755.8 L590,756.1 L592.5,756.5 L595,756.8 L597.5,757.1 L600,757.4 L602.5,757.7 L605,758 L607.5,758.2 L610,758.5 L612.5,758.7 L615,758.9 L617.5,759.1 L620,759.4 L622.5,759.6 L625,759.8 L627.5,759.9 L630,760.1 L632.5,760.3 L635,760.5 L637.5,760.7 L640,760.8 L642.5,761 L645,761.2 L647.5,761.3 L650,761.5 L652.5,761.6 L655,761.8 L657.5,761.9 L660,762 L662.5,762.2 L665,762.3 L667.5,762.5 L670,762.6 L672.5,762.7 L675,762.8 L677.5,763 L680,763.1 L682.5,763.2 L685,763.3 L687.5,763.4 L690,763.5 L692.5,763.6 L695,763.7 L697.5,763.8 L700,763.9 L702.5,764 L705,764.1 L707.5,764.2 L710,764.3 L712.5,764.4 L715,764.5 L717.5,764.6 L720,764.7 L722.5,764.8 L725,764.8 L727.5,764.9 L730,765 L732.5,765.1 L735,765.2 L737.5,765.2 L740,765.3 L742.5,765.4 L745,765.4 L747.5,765.5 L750,765.6 L752.5,765.6 L755,765.7 L757.5,765.8 L760,765.8 L762.5,765.9 L765,765.9 L767.5,766 L770,766 L772.5,766.1 L775,766.1 L777.5,766.2 L780,766.2 L782.5,766.3 L785,766.3 L787.5,766.4 L790,766.4 L792.5,766.5 L795,766.5 L797.5,766.5 L800,766.6 L802.5,766.6 L805,766.7 L807.5,766.7 L810,766.7 L812.5,766.7 L815,766.8 L817.5,766.8 L820,766.8 L822.5,766.9 L825,766.9 L827.5,766.9 L830,766.9 L832.5,767 L835,767 L837.5,767 L840,767 L842.5,767 L845,767.1 L847.5,767.1 L850,767.1 L852.5,767.1 L855,767.1 L857.5,767.1 L860,767.1 L862.5,767.1 L865,767.2 L867.5,767.2 L870,767.2 L872.5,767.2 L875,767.2 L877.5,767.2 L880,767.2 L882.5,767.2 L885,767.2 L887.5,767.2 L890,767.2 L892.5,767.2 L895,767.2 L897.5,767.2 L900,767.2 L902.5,767.2 L905,767.2 L907.5,767.1 L910,767.1 L912.5,767.1 L915,767.1 L917.5,767.1 L920,767.1 L922.5,767.1 L925,767.1 L927.5,767.1 L930,767 L932.5,767 L935,767 L937.5,767 L940,767 L942.5,766.9 L945,766.9 L947.5,766.9 L950,766.9 L952.5,766.9 L955,766.8 L957.5,766.8 L960,766.8 L962.5,766.7 L965,766.7 L967.5,766.7 L970,766.7 L972.5,766.6 L975,766.6 L977.5,766.6 L980,766.5 L982.5,766.5 L985,766.5 L987.5,766.4 L990,766.4 L992.5,766.4 L995,766.3 L997.5,766.3 L1000,766.2 L1002.5,766.2 L1005,766.2 L1007.5,766.1 L1010,766.1 L1012.5,766 L1015,766 L1017.5,765.9 L1020,765.9 L1022.5,765.8 L1025,765.8 L1027.5,765.8 L1030,765.7 L1032.5,765.7 L1035,765.6 L1037.5,765.6 L1040,765.5 L1042.5,765.4 L1045,765.4 L1047.5,765.3 L1050,765.3 L1052.5,765.2 L1055,765.2 L1057.5,765.1 L1060,765.1 L1062.5,765 L1065,764.9 L1067.5,764.9 L1070,764.8 L1072.5,764.8 L1075,764.7 L1077.5,764.6 L1080,764.6 L1082.5,764.5 L1085,764.4 L1087.5,764.4 L1090,764.3 L1092.5,764.2 L1095,764.2 L1097.5,764.1 L1100,764 L1102.5,763.9 L1105,763.9 L1107.5,763.8 L1110,763.7 L1112.5,763.7 L1115,763.6 L1117.5,763.5 L1120,763.4 L1122.5,763.3 L1125,763.3 L1127.5,763.2 L1130,763.1 L1132.5,763 L1135,762.9 L1137.5,762.9 L1140,762.8 L1142.5,762.7 L1145,762.6 L1147.5,762.5 L1150,762.4 L1152.5,762.4 L1155,762.3 L1157.5,762.2 L1160,762.1 L1162.5,762 L1165,761.9 L1167.5,761.8 L1170,761.7 L1172.5,761.6 L1175,761.6 L1177.5,761.5 L1180,761.4 L1182.5,761.3 L1185,761.2 L1187.5,761.1 L1190,761 L1192.5,760.9 L1195,760.8 L1197.5,760.7 L1200,760.6 L1202.5,760.5 L1205,760.4 L1207.5,760.3 L1210,760.2 L1212.5,760.1 L1215,760 L1217.5,759.9 L1220,759.8 L1222.5,759.7 L1225,759.5 L1227.5,759.4 L1230,759.3 L1232.5,759.2 L1235,759.1 L1237.5,759 L1240,758.9 L1242.5,758.8 L1245,758.7 L1247.5,758.5 L1250,758.4 L1252.5,758.3 L1255,758.2 L1257.5,758.1 L1260,758 L1262.5,757.8 L1265,757.7 L1267.5,757.6 L1270,757.5 L1272.5,757.4 L1275,757.2 L1277.5,757.1 L1280,757 L1282.5,756.9 L1285,756.8 L1287.5,756.6 L1290,756.5 L1292.5,756.4 L1295,756.2 L1297.5,756.1 L1300,756 L1302.5,755.9 L1305,755.7 L1307.5,755.6 L1310,755.5 L1312.5,755.3 L1315,755.2 L1317.5,755.1 L1320,754.9 L1322.5,754.8 L1325,754.7 L1327.5,754.5 L1330,754.4 L1332.5,754.3 L1335,754.1 L1337.5,754 L1340,753.8 L1342.5,753.7 L1345,753.6 L1347.5,753.4 L1350,753.3 L1352.5,753.1 L1355,753 L1357.5,752.8 L1360,752.7 L1362.5,752.5 L1365,752.4 L1367.5,752.2 L1370,752.1 L1372.5,751.9 L1375,751.8 L1377.5,751.6 L1379.3,751.5"/><path d="M119.3,439.3 L120.3,443.5 L121.3,447.6 L122.3,451.5 L123.3,455.4 L124.3,459.1 L125.3,462.7 L126.3,466.2 L127.3,469.7 L128.3,473 L129.3,476.2 L130.3,479.4 L131.3,482.5 L132.3,485.5 L133.3,488.4 L134.3,491.3 L135.3,494.1 L136.3,496.9 L137.3,499.6 L138.3,502.2 L139.3,504.8 L140.3,507.3 L141.3,509.8 L142.3,512.2 L143.3,514.6 L144.3,516.9 L145.3,519.2 L146.3,521.4 L147.3,523.7 L148.3,525.8 L149.3,528 L150.3,530.1 L151.3,532.2 L152.3,534.2 L153.3,536.2 L154.3,538.2 L155.3,540.1 L156.3,542.1 L157.3,544 L158.3,545.8 L159.3,547.7 L160.3,549.5 L161.3,551.3 L162.3,553.1 L163.3,554.8 L164.3,556.6 L165.3,558.3 L166.3,560 L167.3,561.6 L168.3,563.3 L169.3,564.9 L170.3,566.5 L171.3,568.1 L172.3,569.7 L173.3,571.3 L174.3,572.8 L175.3,574.3 L176.3,575.8 L177.3,577.3 L178.3,578.8 L179.3,580.3 L180.3,581.7 L181.3,583.2 L182.3,584.6 L183.3,586 L184.3,587.4 L185.3,588.8 L186.3,590.2 L187.3,591.5 L188.3,592.9 L189.3,594.2 L190.3,595.5 L191.3,596.8 L192.3,598.1 L193.3,599.4 L194.3,600.7 L195.3,602 L196.3,603.2 L197.3,604.5 L198.3,605.7 L199.3,606.9 L200.3,608.1 L201.3,609.3 L202.3,610.5 L203.3,611.7 L204.3,612.8 L205.3,614 L206.3,615.2 L207.3,616.3 L208.3,617.4 L209.3,618.5 L210.3,619.7 L211.3,620.8 L212.3,621.9 L213.3,622.9 L214.3,624 L215.3,625.1 L216.3,626.1 L217.3,627.2 L218.3,628.2 L219.3,629.3 L220.3,630.3 L221.3,631.3 L222.3,632.3 L223.3,633.3 L224.3,634.3 L225.3,635.3 L226.3,636.2 L227.3,637.2 L228.3,638.2 L229.3,639.1 L230.3,640.1 L231.3,641 L232.3,641.9 L233.3,642.9 L234.3,643.8 L235.3,644.7 L236.3,645.6 L237.3,646.5 L238.3,647.4 L239.3,648.2 L240.3,649.1 L241.3,650 L242.3,650.8 L243.3,651.7 L244.3,652.5 L245.3,653.4 L246.3,654.2 L247.3,655 L248.3,655.8 L249.3,656.7 L250.3,657.5 L251.3,658.3 L252.3,659.1 L253.3,659.8 L254.3,660.6 L255.3,661.4 L256.3,662.2 L257.3,662.9 L258.3,663.7 L259.3,664.4 L260.3,665.2 L261.3,665.9 L262.3,666.6 L263.3,667.4 L264.3,668.1 L265.3,668.8 L266.3,669.5 L267.3,670.2 L268.3,670.9 L269.3,671.6 L270.3,672.3 L271.3,673 L272.3,673.7 L273.3,674.3 L274.3,675 L275.3,675.7 L276.3,676.3 L277.3,677 L278.3,677.6 L279.3,678.3 L280.3,678.9 L281.3,679.5 L282.3,680.2 L283.3,680.8 L284.3,681.4 L285.3,682 L286.3,682.6 L287.3,683.2 L288.3,683.8 L289.3,684.4 L290.3,685 L291.3,685.6 L292.3,686.1 L293.3,686.7 L294.3,687.3 L295.3,687.9 L296.3,688.4 L297.3,689 L298.3,689.5 L299.3,690.1 L300.3,690.6 L301.3,691.2 L302.3,691.7 L303.3,692.2 L304.3,692.7 L305.3,693.3 L306.3,693.8 L307.3,694.3 L308.3,694.8 L309.3,695.3 L310.3,695.8 L311.3,696.3 L312.3,696.8 L313.3,697.3 L314.3,697.8 L315.3,698.3 L316.3,698.7 L317.3,699.2 L318.3,699.7 L319.3,700.1 L320.3,700.6 L321.3,701.1 L322.3,701.5 L323.3,702 L324.3,702.4 L325.3,702.9 L326.3,703.3 L327.3,703.7 L328.3,704.2 L329.3,704.6 L330.3,705 L331.3,705.5 L332.3,705.9 L333.3,706.3 L334.3,706.7 L335.3,707.1 L336.3,707.5 L337.3,707.9 L338.3,708.3 L339.3,708.7 L340.3,709.1 L341.3,709.5 L342.3,709.9 L343.3,710.3 L344.3,710.6 L345.3,711 L346.3,711.4 L347.3,711.7 L348.3,712.1 L349.3,712.5 L350.3,712.8 L351.3,713.2 L352.3,713.5 L353.3,713.9 L354.3,714.2 L355.3,714.6 L356.3,714.9 L357.3,715.2 L358.3,715.6 L359.3,715.9 L360.3,716.2 L361.3,716.6 L362.3,716.9 L363.3,717.2 L364.3,717.5 L365.3,717.8 L366.3,718.1 L367.3,718.4 L368.3,718.7 L369.3,719 L370.3,719.3 L371.3,719.6 L372.3,719.9 L373.3,720.1 L374.3,720.4 L375.3,720.7 L376.3,721 L377.3,721.2 L378.3,721.5 L379.3,721.8 L380.3,722 L381.3,722.3 L382.3,722.5 L383.3,722.8 L384.3,723 L385.3,723.2 L386.3,723.5 L387.3,723.7 L388.3,723.9 L389.3,724.1 L390.3,724.3 L391.3,724.5 L392.3,724.8 L393.3,725 L394.3,725.1 L395.3,725.3 L396.3,725.5 L397.3,725.7 L398.3,725.9 L399.3,726.1 L400.3,726.2 L401.3,726.4 L402.3,726.5 L403.3,726.7 L404.3,726.8 L405.3,727 L406.3,727.1 L407.3,727.2 L408.3,727.3 L409.3,727.4 L410.3,727.5 L411.3,727.6 L412.3,727.7 L413.3,727.8 L414.3,727.9 L415.3,728 L416.3,728 L417.3,728.1 L418.3,728.1 L419.3,728.2 L420.3,728.2 L421.3,728.2 L422.3,728.2 L423.3,728.2 L424.3,728.2 L425.3,728.2 L426.3,728.2 L427.3,728.2 L428.3,728.1 L429.3,728.1 L430.3,728 L431.3,727.9 L432.3,727.8 L433.3,727.8 L434.3,727.7 L435.3,727.5 L436.3,727.4 L437.3,727.3 L438.3,727.1 L439.3,727 L440.3,726.8 L441.3,726.6 L442.3,726.4 L443.3,726.2 L444.3,726 L445.3,725.8 L446.3,725.6 L447.3,725.3 L448.3,725.1 L449.3,724.8 L450.3,724.5 L451.3,724.2 L452.3,723.9 L453.3,723.6 L454.3,723.2 L455.3,722.9 L456.3,722.5 L457.3,722.1 L458.3,721.7 L459.3,721.4 L460.3,720.9 L461.3,720.5 L462.3,720.1 L463.3,719.6 L464.3,719.2 L465.3,718.7 L466.3,718.2 L467.3,717.7 L468.3,717.2 L469.3,716.7 L470.3,716.2 L471.3,715.6 L472.3,715.1 L473.3,714.5 L474.3,714 L475.3,713.4 L476.3,712.8 L477.3,712.2 L478.3,711.6 L479.3,711 L480,710.6 L482.5,709 L485,707.4 L487.5,705.8 L490,704.1 L492.5,702.4 L495,700.8 L497.5,699.1 L500,697.5 L502.5,695.9 L505,694.3 L507.5,692.9 L510,691.5 L512.5,690.2 L515,689 L517.5,688 L520,687.2 L522.5,686.5 L525,685.9 L527.5,685.6 L530,685.5 L532.5,685.5 L535,685.8 L537.5,686.3 L540,687 L542.5,687.9 L545,689 L547.5,690.3 L550,691.7 L552.5,693.3 L555,695 L557.5,696.9 L560,698.8 L562.5,700.8 L565,702.9 L567.5,705.1 L570,707.3 L572.5,709.5 L575,711.7 L577.5,713.9 L580,716.1 L582.5,718.3 L585,720.5 L587.5,722.6 L590,724.7 L592.5,726.8 L595,728.7 L597.5,730.7 L600,732.5 L602.5,734.3 L605,736 L607.5,737.7 L610,739.3 L612.5,740.8 L615,742.2 L617.5,743.6 L620,744.9 L622.5,746.1 L625,747.3 L627.5,748.4 L630,749.4 L632.5,750.4 L635,751.3 L637.5,752.1 L640,752.9 L642.5,753.6 L645,754.3 L647.5,755 L650,755.6 L652.5,756.1 L655,756.7 L657.5,757.1 L660,757.6 L662.5,758 L665,758.4 L667.5,758.8 L670,759.1 L672.5,759.5 L675,759.8 L677.5,760.1 L680,760.3 L682.5,760.6 L685,760.8 L687.5,761.1 L690,761.3 L692.5,761.5 L695,761.7 L697.5,761.9 L700,762 L702.5,762.2 L705,762.4 L707.5,762.5 L710,762.7 L712.5,762.8 L715,763 L717.5,763.1 L720,763.3 L722.5,763.4 L725,763.5 L727.5,763.6 L730,763.7 L732.5,763.9 L735,764 L737.5,764.1 L740,764.2 L742.5,764.3 L745,764.4 L747.5,764.5 L750,764.6 L752.5,764.6 L755,764.7 L757.5,764.8 L760,764.9 L762.5,765 L765,765.1 L767.5,765.1 L770,765.2 L772.5,765.3 L775,765.3 L777.5,765.4 L780,765.5 L782.5,765.5 L785,765.6 L787.5,765.7 L790,765.7 L792.5,765.8 L795,765.8 L797.5,765.9 L800,765.9 L802.5,766 L805,766 L807.5,766.1 L810,766.1 L812.5,766.2 L815,766.2 L817.5,766.3 L820,766.3 L822.5,766.3 L825,766.4 L827.5,766.4 L830,766.4 L832.5,766.5 L835,766.5 L837.5,766.5 L840,766.6 L842.5,766.6 L845,766.6 L847.5,766.6 L850,766.7 L852.5,766.7 L855,766.7 L857.5,766.7 L860,766.7 L862.5,766.7 L865,766.8 L867.5,766.8 L870,766.8 L872.5,766.8 L875,766.8 L877.5,766.8 L880,766.8 L882.5,766.8 L885,766.8 L887.5,766.8 L890,766.9 L892.5,766.9 L895,766.9 L897.5,766.9 L900,766.9 L902.5,766.9 L905,766.9 L907.5,766.9 L910,766.8 L912.5,766.8 L915,766.8 L917.5,766.8 L920,766.8 L922.5,766.8 L925,766.8 L927.5,766.8 L930,766.8 L932.5,766.8 L935,766.8 L937.5,766.7 L940,766.7 L942.5,766.7 L945,766.7 L947.5,766.7 L950,766.6 L952.5,766.6 L955,766.6 L957.5,766.6 L960,766.6 L962.5,766.5 L965,766.5 L967.5,766.5 L970,766.5 L972.5,766.4 L975,766.4 L977.5,766.4 L980,766.3 L982.5,766.3 L985,766.3 L987.5,766.2 L990,766.2 L992.5,766.2 L995,766.1 L997.5,766.1 L1000,766.1 L1002.5,766 L1005,766 L1007.5,765.9 L1010,765.9 L1012.5,765.9 L1015,765.8 L1017.5,765.8 L1020,765.7 L1022.5,765.7 L1025,765.6 L1027.5,765.6 L1030,765.6 L1032.5,765.5 L1035,765.5 L1037.5,765.4 L1040,765.4 L1042.5,765.3 L1045,765.3 L1047.5,765.2 L1050,765.1 L1052.5,765.1 L1055,765 L1057.5,765 L1060,764.9 L1062.5,764.9 L1065,764.8 L1067.5,764.7 L1070,764.7 L1072.5,764.6 L1075,764.6 L1077.5,764.5 L1080,764.4 L1082.5,764.4 L1085,764.3 L1087.5,764.2 L1090,764.2 L1092.5,764.1 L1095,764 L1097.5,764 L1100,763.9 L1102.5,763.8 L1105,763.8 L1107.5,763.7 L1110,763.6 L1112.5,763.5 L1115,763.5 L1117.5,763.4 L1120,763.3 L1122.5,763.2 L1125,763.2 L1127.5,763.1 L1130,763 L1132.5,762.9 L1135,762.9 L1137.5,762.8 L1140,762.7 L1142.5,762.6 L1145,762.5 L1147.5,762.4 L1150,762.4 L1152.5,762.3 L1155,762.2 L1157.5,762.1 L1160,762 L1162.5,761.9 L1165,761.8 L1167.5,761.7 L1170,761.7 L1172.5,761.6 L1175,761.5 L1177.5,761.4 L1180,761.3 L1182.5,761.2 L1185,761.1 L1187.5,761 L1190,760.9 L1192.5,760.8 L1195,760.7 L1197.5,760.6 L1200,760.5 L1202.5,760.4 L1205,760.3 L1207.5,760.2 L1210,760.1 L1212.5,760 L1215,759.9 L1217.5,759.8 L1220,759.7 L1222.5,759.6 L1225,759.5 L1227.5,759.4 L1230,759.3 L1232.5,759.2 L1235,759 L1237.5,758.9 L1240,758.8 L1242.5,758.7 L1245,758.6 L1247.5,758.5 L1250,758.4 L1252.5,758.3 L1255,758.1 L1257.5,758 L1260,757.9 L1262.5,757.8 L1265,757.7 L1267.5,757.5 L1270,757.4 L1272.5,757.3 L1275,757.2 L1277.5,757.1 L1280,756.9 L1282.5,756.8 L1285,756.7 L1287.5,756.6 L1290,756.4 L1292.5,756.3 L1295,756.2 L1297.5,756.1 L1300,755.9 L1302.5,755.8 L1305,755.7 L1307.5,755.5 L1310,755.4 L1312.5,755.3 L1315,755.2 L1317.5,755 L1320,754.9 L1322.5,754.7 L1325,754.6 L1327.5,754.5 L1330,754.3 L1332.5,754.2 L1335,754.1 L1337.5,753.9 L1340,753.8 L1342.5,753.6 L1345,753.5 L1347.5,753.4 L1350,753.2 L1352.5,753.1 L1355,752.9 L1357.5,752.8 L1360,752.6 L1362.5,752.5 L1365,752.3 L1367.5,752.2 L1370,752.1 L1372.5,751.9 L1375,751.8 L1377.5,751.6 L1379.3,751.5"/><path d="M119.3,439.5 L120.3,443.8 L121.3,447.8 L122.3,451.8 L123.3,455.6 L124.3,459.4 L125.3,463 L126.3,466.5 L127.3,470 L128.3,473.3 L129.3,476.5 L130.3,479.7 L131.3,482.8 L132.3,485.8 L133.3,488.7 L134.3,491.6 L135.3,494.4 L136.3,497.2 L137.3,499.9 L138.3,502.5 L139.3,505.1 L140.3,507.6 L141.3,510.1 L142.3,512.5 L143.3,514.9 L144.3,517.2 L145.3,519.5 L146.3,521.8 L147.3,524 L148.3,526.2 L149.3,528.3 L150.3,530.4 L151.3,532.5 L152.3,534.5 L153.3,536.5 L154.3,538.5 L155.3,540.5 L156.3,542.4 L157.3,544.3 L158.3,546.2 L159.3,548 L160.3,549.8 L161.3,551.6 L162.3,553.4 L163.3,555.2 L164.3,556.9 L165.3,558.6 L166.3,560.3 L167.3,562 L168.3,563.6 L169.3,565.3 L170.3,566.9 L171.3,568.5 L172.3,570.1 L173.3,571.6 L174.3,573.2 L175.3,574.7 L176.3,576.2 L177.3,577.7 L178.3,579.2 L179.3,580.7 L180.3,582.1 L181.3,583.6 L182.3,585 L183.3,586.4 L184.3,587.8 L185.3,589.2 L186.3,590.6 L187.3,591.9 L188.3,593.3 L189.3,594.6 L190.3,596 L191.3,597.3 L192.3,598.6 L193.3,599.9 L194.3,601.1 L195.3,602.4 L196.3,603.7 L197.3,604.9 L198.3,606.1 L199.3,607.4 L200.3,608.6 L201.3,609.8 L202.3,611 L203.3,612.1 L204.3,613.3 L205.3,614.5 L206.3,615.6 L207.3,616.8 L208.3,617.9 L209.3,619 L210.3,620.1 L211.3,621.2 L212.3,622.3 L213.3,623.4 L214.3,624.5 L215.3,625.6 L216.3,626.6 L217.3,627.7 L218.3,628.7 L219.3,629.8 L220.3,630.8 L221.3,631.8 L222.3,632.8 L223.3,633.8 L224.3,634.8 L225.3,635.8 L226.3,636.8 L227.3,637.8 L228.3,638.7 L229.3,639.7 L230.3,640.6 L231.3,641.6 L232.3,642.5 L233.3,643.4 L234.3,644.3 L235.3,645.3 L236.3,646.2 L237.3,647.1 L238.3,647.9 L239.3,648.8 L240.3,649.7 L241.3,650.6 L242.3,651.4 L243.3,652.3 L244.3,653.1 L245.3,654 L246.3,654.8 L247.3,655.7 L248.3,656.5 L249.3,657.3 L250.3,658.1 L251.3,658.9 L252.3,659.7 L253.3,660.5 L254.3,661.3 L255.3,662.1 L256.3,662.8 L257.3,663.6 L258.3,664.4 L259.3,665.1 L260.3,665.9 L261.3,666.6 L262.3,667.4 L263.3,668.1 L264.3,668.8 L265.3,669.5 L266.3,670.3 L267.3,671 L268.3,671.7 L269.3,672.4 L270.3,673.1 L271.3,673.7 L272.3,674.4 L273.3,675.1 L274.3,675.8 L275.3,676.5 L276.3,677.1 L277.3,677.8 L278.3,678.4 L279.3,679.1 L280.3,679.7 L281.3,680.4 L282.3,681 L283.3,681.6 L284.3,682.2 L285.3,682.9 L286.3,683.5 L287.3,684.1 L288.3,684.7 L289.3,685.3 L290.3,685.9 L291.3,686.5 L292.3,687.1 L293.3,687.6 L294.3,688.2 L295.3,688.8 L296.3,689.4 L297.3,689.9 L298.3,690.5 L299.3,691 L300.3,691.6 L301.3,692.1 L302.3,692.7 L303.3,693.2 L304.3,693.8 L305.3,694.3 L306.3,694.8 L307.3,695.3 L308.3,695.9 L309.3,696.4 L310.3,696.9 L311.3,697.4 L312.3,697.9 L313.3,698.4 L314.3,698.9 L315.3,699.4 L316.3,699.9 L317.3,700.4 L318.3,700.9 L319.3,701.3 L320.3,701.8 L321.3,702.3 L322.3,702.7 L323.3,703.2 L324.3,703.7 L325.3,704.1 L326.3,704.6 L327.3,705 L328.3,705.5 L329.3,705.9 L330.3,706.4 L331.3,706.8 L332.3,707.2 L333.3,707.7 L334.3,708.1 L335.3,708.5 L336.3,708.9 L337.3,709.3 L338.3,709.8 L339.3,710.2 L340.3,710.6 L341.3,711 L342.3,711.4 L343.3,711.8 L344.3,712.2 L345.3,712.6 L346.3,713 L347.3,713.3 L348.3,713.7 L349.3,714.1 L350.3,714.5 L351.3,714.9 L352.3,715.2 L353.3,715.6 L354.3,716 L355.3,716.3 L356.3,716.7 L357.3,717.1 L358.3,717.4 L359.3,717.8 L360.3,718.1 L361.3,718.5 L362.3,718.8 L363.3,719.2 L364.3,719.5 L365.3,719.8 L366.3,720.2 L367.3,720.5 L368.3,720.8 L369.3,721.2 L370.3,721.5 L371.3,721.8 L372.3,722.1 L373.3,722.5 L374.3,722.8 L375.3,723.1 L376.3,723.4 L377.3,723.7 L378.3,724 L379.3,724.3 L380.3,724.6 L381.3,724.9 L382.3,725.2 L383.3,725.5 L384.3,725.8 L385.3,726.1 L386.3,726.4 L387.3,726.7 L388.3,727 L389.3,727.2 L390.3,727.5 L391.3,727.8 L392.3,728.1 L393.3,728.4 L394.3,728.6 L395.3,728.9 L396.3,729.2 L397.3,729.4 L398.3,729.7 L399.3,730 L400.3,730.2 L401.3,730.5 L402.3,730.7 L403.3,731 L404.3,731.2 L405.3,731.5 L406.3,731.7 L407.3,732 L408.3,732.2 L409.3,732.5 L410.3,732.7 L411.3,732.9 L412.3,733.2 L413.3,733.4 L414.3,733.7 L415.3,733.9 L416.3,734.1 L417.3,734.3 L418.3,734.6 L419.3,734.8 L420.3,735 L421.3,735.2 L422.3,735.5 L423.3,735.7 L424.3,735.9 L425.3,736.1 L426.3,736.3 L427.3,736.5 L428.3,736.7 L429.3,736.9 L430.3,737.2 L431.3,737.4 L432.3,737.6 L433.3,737.8 L434.3,738 L435.3,738.2 L436.3,738.4 L437.3,738.6 L438.3,738.7 L439.3,738.9 L440.3,739.1 L441.3,739.3 L442.3,739.5 L443.3,739.7 L444.3,739.9 L445.3,740.1 L446.3,740.2 L447.3,740.4 L448.3,740.6 L449.3,740.8 L450.3,741 L451.3,741.1 L452.3,741.3 L453.3,741.5 L454.3,741.6 L455.3,741.8 L456.3,742 L457.3,742.1 L458.3,742.3 L459.3,742.5 L460.3,742.6 L461.3,742.8 L462.3,742.9 L463.3,743.1 L464.3,743.2 L465.3,743.4 L466.3,743.6 L467.3,743.7 L468.3,743.9 L469.3,744 L470.3,744.1 L471.3,744.3 L472.3,744.4 L473.3,744.6 L474.3,744.7 L475.3,744.8 L476.3,745 L477.3,745.1 L478.3,745.2 L479.3,745.4 L480,745.5 L482.5,745.8 L485,746.1 L487.5,746.4 L490,746.7 L492.5,746.9 L495,747.2 L497.5,747.4 L500,747.7 L502.5,747.9 L505,748.1 L507.5,748.3 L510,748.4 L512.5,748.6 L515,748.7 L517.5,748.8 L520,748.8 L522.5,748.9 L525,748.9 L527.5,748.9 L530,748.8 L532.5,748.7 L535,748.6 L537.5,748.4 L540,748.2 L542.5,747.9 L545,747.6 L547.5,747.3 L550,746.9 L552.5,746.4 L555,745.9 L557.5,745.3 L560,744.6 L562.5,743.9 L565,743.1 L567.5,742.2 L570,741.3 L572.5,740.3 L575,739.3 L577.5,738.2 L580,737 L582.5,735.7 L585,734.4 L587.5,733 L590,731.6 L592.5,730.2 L595,728.6 L597.5,727.1 L600,725.5 L602.5,723.9 L605,722.3 L607.5,720.6 L610,719 L612.5,717.4 L615,715.8 L617.5,714.3 L620,712.8 L622.5,711.4 L625,710 L627.5,708.8 L630,707.6 L632.5,706.6 L635,705.7 L637.5,705 L640,704.4 L642.5,704 L645,703.7 L647.5,703.7 L650,703.8 L652.5,704.1 L655,704.6 L657.5,705.2 L660,706.1 L662.5,707.1 L665,708.2 L667.5,709.5 L670,710.9 L672.5,712.4 L675,714 L677.5,715.6 L680,717.4 L682.5,719.2 L685,721 L687.5,722.9 L690,724.8 L692.5,726.6 L695,728.5 L697.5,730.4 L700,732.2 L702.5,734 L705,735.8 L707.5,737.6 L710,739.2 L712.5,740.9 L715,742.5 L717.5,744 L720,745.4 L722.5,746.8 L725,748.2 L727.5,749.4 L730,750.6 L732.5,751.7 L735,752.8 L737.5,753.8 L740,754.8 L742.5,755.6 L745,756.5 L747.5,757.2 L750,757.9 L752.5,758.6 L755,759.2 L757.5,759.8 L760,760.3 L762.5,760.8 L765,761.2 L767.5,761.6 L770,762 L772.5,762.3 L775,762.7 L777.5,763 L780,763.2 L782.5,763.5 L785,763.7 L787.5,763.9 L790,764.1 L792.5,764.3 L795,764.4 L797.5,764.6 L800,764.7 L802.5,764.8 L805,765 L807.5,765.1 L810,765.2 L812.5,765.3 L815,765.4 L817.5,765.5 L820,765.5 L822.5,765.6 L825,765.7 L827.5,765.7 L830,765.8 L832.5,765.9 L835,765.9 L837.5,766 L840,766 L842.5,766.1 L845,766.1 L847.5,766.2 L850,766.2 L852.5,766.2 L855,766.3 L857.5,766.3 L860,766.3 L862.5,766.4 L865,766.4 L867.5,766.4 L870,766.5 L872.5,766.5 L875,766.5 L877.5,766.5 L880,766.5 L882.5,766.6 L885,766.6 L887.5,766.6 L890,766.6 L892.5,766.6 L895,766.6 L897.5,766.6 L900,766.6 L902.5,766.6 L905,766.7 L907.5,766.7 L910,766.7 L912.5,766.7 L915,766.7 L917.5,766.7 L920,766.7 L922.5,766.7 L925,766.6 L927.5,766.6 L930,766.6 L932.5,766.6 L935,766.6 L937.5,766.6 L940,766.6 L942.5,766.6 L945,766.6 L947.5,766.6 L950,766.5 L952.5,766.5 L955,766.5 L957.5,766.5 L960,766.5 L962.5,766.4 L965,766.4 L967.5,766.4 L970,766.4 L972.5,766.3 L975,766.3 L977.5,766.3 L980,766.3 L982.5,766.2 L985,766.2 L987.5,766.2 L990,766.1 L992.5,766.1 L995,766.1 L997.5,766 L1000,766 L1002.5,766 L1005,765.9 L1007.5,765.9 L1010,765.9 L1012.5,765.8 L1015,765.8 L1017.5,765.7 L1020,765.7 L1022.5,765.7 L1025,765.6 L1027.5,765.6 L1030,765.5 L1032.5,765.5 L1035,765.4 L1037.5,765.4 L1040,765.3 L1042.5,765.3 L1045,765.2 L1047.5,765.2 L1050,765.1 L1052.5,765.1 L1055,765 L1057.5,765 L1060,764.9 L1062.5,764.8 L1065,764.8 L1067.5,764.7 L1070,764.7 L1072.5,764.6 L1075,764.5 L1077.5,764.5 L1080,764.4 L1082.5,764.4 L1085,764.3 L1087.5,764.2 L1090,764.2 L1092.5,764.1 L1095,764 L1097.5,764 L1100,763.9 L1102.5,763.8 L1105,763.8 L1107.5,763.7 L1110,763.6 L1112.5,763.5 L1115,763.5 L1117.5,763.4 L1120,763.3 L1122.5,763.2 L1125,763.2 L1127.5,763.1 L1130,763 L1132.5,762.9 L1135,762.9 L1137.5,762.8 L1140,762.7 L1142.5,762.6 L1145,762.5 L1147.5,762.4 L1150,762.4 L1152.5,762.3 L1155,762.2 L1157.5,762.1 L1160,762 L1162.5,761.9 L1165,761.8 L1167.5,761.7 L1170,761.7 L1172.5,761.6 L1175,761.5 L1177.5,761.4 L1180,761.3 L1182.5,761.2 L1185,761.1 L1187.5,761 L1190,760.9 L1192.5,760.8 L1195,760.7 L1197.5,760.6 L1200,760.5 L1202.5,760.4 L1205,760.3 L1207.5,760.2 L1210,760.1 L1212.5,760 L1215,759.9 L1217.5,759.8 L1220,759.7 L1222.5,759.6 L1225,759.5 L1227.5,759.4 L1230,759.3 L1232.5,759.2 L1235,759.1 L1237.5,758.9 L1240,758.8 L1242.5,758.7 L1245,758.6 L1247.5,758.5 L1250,758.4 L1252.5,758.3 L1255,758.1 L1257.5,758 L1260,757.9 L1262.5,757.8 L1265,757.7 L1267.5,757.6 L1270,757.4 L1272.5,757.3 L1275,757.2 L1277.5,757.1 L1280,757 L1282.5,756.8 L1285,756.7 L1287.5,756.6 L1290,756.5 L1292.5,756.3 L1295,756.2 L1297.5,756.1 L1300,755.9 L1302.5,755.8 L1305,755.7 L1307.5,755.6 L1310,755.4 L1312.5,755.3 L1315,755.2 L1317.5,755 L1320,754.9 L1322.5,754.8 L1325,754.6 L1327.5,754.5 L1330,754.4 L1332.5,754.2 L1335,754.1 L1337.5,753.9 L1340,753.8 L1342.5,753.7 L1345,753.5 L1347.5,753.4 L1350,753.2 L1352.5,753.1 L1355,752.9 L1357.5,752.8 L1360,752.7 L1362.5,752.5 L1365,752.4 L1367.5,752.2 L1370,752.1 L1372.5,751.9 L1375,751.8 L1377.5,751.6 L1379.3,751.5"/><path d="M119.3,439.7 L120.3,443.9 L121.3,448 L122.3,451.9 L123.3,455.8 L124.3,459.5 L125.3,463.1 L126.3,466.6 L127.3,470.1 L128.3,473.4 L129.3,476.7 L130.3,479.8 L131.3,482.9 L132.3,485.9 L133.3,488.9 L134.3,491.7 L135.3,494.6 L136.3,497.3 L137.3,500 L138.3,502.6 L139.3,505.2 L140.3,507.7 L141.3,510.2 L142.3,512.6 L143.3,515 L144.3,517.3 L145.3,519.6 L146.3,521.9 L147.3,524.1 L148.3,526.3 L149.3,528.4 L150.3,530.5 L151.3,532.6 L152.3,534.7 L153.3,536.7 L154.3,538.7 L155.3,540.6 L156.3,542.5 L157.3,544.4 L158.3,546.3 L159.3,548.2 L160.3,550 L161.3,551.8 L162.3,553.6 L163.3,555.3 L164.3,557 L165.3,558.8 L166.3,560.5 L167.3,562.1 L168.3,563.8 L169.3,565.4 L170.3,567 L171.3,568.6 L172.3,570.2 L173.3,571.8 L174.3,573.3 L175.3,574.9 L176.3,576.4 L177.3,577.9 L178.3,579.4 L179.3,580.8 L180.3,582.3 L181.3,583.7 L182.3,585.2 L183.3,586.6 L184.3,588 L185.3,589.4 L186.3,590.7 L187.3,592.1 L188.3,593.4 L189.3,594.8 L190.3,596.1 L191.3,597.4 L192.3,598.7 L193.3,600 L194.3,601.3 L195.3,602.6 L196.3,603.8 L197.3,605.1 L198.3,606.3 L199.3,607.5 L200.3,608.7 L201.3,609.9 L202.3,611.1 L203.3,612.3 L204.3,613.5 L205.3,614.6 L206.3,615.8 L207.3,616.9 L208.3,618.1 L209.3,619.2 L210.3,620.3 L211.3,621.4 L212.3,622.5 L213.3,623.6 L214.3,624.7 L215.3,625.8 L216.3,626.8 L217.3,627.9 L218.3,628.9 L219.3,629.9 L220.3,631 L221.3,632 L222.3,633 L223.3,634 L224.3,635 L225.3,636 L226.3,637 L227.3,637.9 L228.3,638.9 L229.3,639.9 L230.3,640.8 L231.3,641.8 L232.3,642.7 L233.3,643.6 L234.3,644.5 L235.3,645.5 L236.3,646.4 L237.3,647.3 L238.3,648.1 L239.3,649 L240.3,649.9 L241.3,650.8 L242.3,651.6 L243.3,652.5 L244.3,653.4 L245.3,654.2 L246.3,655 L247.3,655.9 L248.3,656.7 L249.3,657.5 L250.3,658.3 L251.3,659.1 L252.3,659.9 L253.3,660.7 L254.3,661.5 L255.3,662.3 L256.3,663.1 L257.3,663.8 L258.3,664.6 L259.3,665.3 L260.3,666.1 L261.3,666.8 L262.3,667.6 L263.3,668.3 L264.3,669 L265.3,669.8 L266.3,670.5 L267.3,671.2 L268.3,671.9 L269.3,672.6 L270.3,673.3 L271.3,674 L272.3,674.7 L273.3,675.4 L274.3,676 L275.3,676.7 L276.3,677.4 L277.3,678 L278.3,678.7 L279.3,679.3 L280.3,680 L281.3,680.6 L282.3,681.2 L283.3,681.9 L284.3,682.5 L285.3,683.1 L286.3,683.7 L287.3,684.3 L288.3,685 L289.3,685.6 L290.3,686.2 L291.3,686.7 L292.3,687.3 L293.3,687.9 L294.3,688.5 L295.3,689.1 L296.3,689.6 L297.3,690.2 L298.3,690.8 L299.3,691.3 L300.3,691.9 L301.3,692.4 L302.3,693 L303.3,693.5 L304.3,694.1 L305.3,694.6 L306.3,695.1 L307.3,695.6 L308.3,696.2 L309.3,696.7 L310.3,697.2 L311.3,697.7 L312.3,698.2 L313.3,698.7 L314.3,699.2 L315.3,699.7 L316.3,700.2 L317.3,700.7 L318.3,701.2 L319.3,701.6 L320.3,702.1 L321.3,702.6 L322.3,703.1 L323.3,703.5 L324.3,704 L325.3,704.5 L326.3,704.9 L327.3,705.4 L328.3,705.8 L329.3,706.3 L330.3,706.7 L331.3,707.1 L332.3,707.6 L333.3,708 L334.3,708.4 L335.3,708.9 L336.3,709.3 L337.3,709.7 L338.3,710.1 L339.3,710.5 L340.3,710.9 L341.3,711.4 L342.3,711.8 L343.3,712.2 L344.3,712.6 L345.3,713 L346.3,713.3 L347.3,713.7 L348.3,714.1 L349.3,714.5 L350.3,714.9 L351.3,715.3 L352.3,715.6 L353.3,716 L354.3,716.4 L355.3,716.8 L356.3,717.1 L357.3,717.5 L358.3,717.8 L359.3,718.2 L360.3,718.6 L361.3,718.9 L362.3,719.3 L363.3,719.6 L364.3,719.9 L365.3,720.3 L366.3,720.6 L367.3,721 L368.3,721.3 L369.3,721.6 L370.3,722 L371.3,722.3 L372.3,722.6 L373.3,722.9 L374.3,723.2 L375.3,723.6 L376.3,723.9 L377.3,724.2 L378.3,724.5 L379.3,724.8 L380.3,725.1 L381.3,725.4 L382.3,725.7 L383.3,726 L384.3,726.3 L385.3,726.6 L386.3,726.9 L387.3,727.2 L388.3,727.5 L389.3,727.8 L390.3,728.1 L391.3,728.3 L392.3,728.6 L393.3,728.9 L394.3,729.2 L395.3,729.5 L396.3,729.7 L397.3,730 L398.3,730.3 L399.3,730.5 L400.3,730.8 L401.3,731.1 L402.3,731.3 L403.3,731.6 L404.3,731.8 L405.3,732.1 L406.3,732.3 L407.3,732.6 L408.3,732.9 L409.3,733.1 L410.3,733.3 L411.3,733.6 L412.3,733.8 L413.3,734.1 L414.3,734.3 L415.3,734.6 L416.3,734.8 L417.3,735 L418.3,735.3 L419.3,735.5 L420.3,735.7 L421.3,735.9 L422.3,736.2 L423.3,736.4 L424.3,736.6 L425.3,736.8 L426.3,737.1 L427.3,737.3 L428.3,737.5 L429.3,737.7 L430.3,737.9 L431.3,738.1 L432.3,738.3 L433.3,738.6 L434.3,738.8 L435.3,739 L436.3,739.2 L437.3,739.4 L438.3,739.6 L439.3,739.8 L440.3,740 L441.3,740.2 L442.3,740.4 L443.3,740.6 L444.3,740.8 L445.3,741 L446.3,741.1 L447.3,741.3 L448.3,741.5 L449.3,741.7 L450.3,741.9 L451.3,742.1 L452.3,742.3 L453.3,742.4 L454.3,742.6 L455.3,742.8 L456.3,743 L457.3,743.2 L458.3,743.3 L459.3,743.5 L460.3,743.7 L461.3,743.8 L462.3,744 L463.3,744.2 L464.3,744.4 L465.3,744.5 L466.3,744.7 L467.3,744.9 L468.3,745 L469.3,745.2 L470.3,745.3 L471.3,745.5 L472.3,745.7 L473.3,745.8 L474.3,746 L475.3,746.1 L476.3,746.3 L477.3,746.4 L478.3,746.6 L479.3,746.7 L480,746.8 L482.5,747.2 L485,747.6 L487.5,747.9 L490,748.3 L492.5,748.6 L495,749 L497.5,749.3 L500,749.6 L502.5,749.9 L505,750.3 L507.5,750.6 L510,750.9 L512.5,751.2 L515,751.5 L517.5,751.8 L520,752 L522.5,752.3 L525,752.6 L527.5,752.9 L530,753.1 L532.5,753.4 L535,753.6 L537.5,753.9 L540,754.1 L542.5,754.4 L545,754.6 L547.5,754.8 L550,755 L552.5,755.3 L555,755.5 L557.5,755.7 L560,755.9 L562.5,756.1 L565,756.3 L567.5,756.5 L570,756.6 L572.5,756.8 L575,757 L577.5,757.2 L580,757.3 L582.5,757.5 L585,757.6 L587.5,757.8 L590,757.9 L592.5,758 L595,758.1 L597.5,758.2 L600,758.3 L602.5,758.4 L605,758.5 L607.5,758.5 L610,758.5 L612.5,758.6 L615,758.6 L617.5,758.5 L620,758.5 L622.5,758.4 L625,758.4 L627.5,758.2 L630,758.1 L632.5,757.9 L635,757.7 L637.5,757.5 L640,757.2 L642.5,756.9 L645,756.5 L647.5,756.1 L650,755.6 L652.5,755.1 L655,754.6 L657.5,753.9 L660,753.3 L662.5,752.5 L665,751.8 L667.5,750.9 L670,750 L672.5,749.1 L675,748.1 L677.5,747 L680,745.9 L682.5,744.7 L685,743.5 L687.5,742.2 L690,740.9 L692.5,739.6 L695,738.2 L697.5,736.9 L700,735.5 L702.5,734.1 L705,732.7 L707.5,731.3 L710,729.9 L712.5,728.5 L715,727.2 L717.5,726 L720,724.8 L722.5,723.6 L725,722.6 L727.5,721.6 L730,720.8 L732.5,720 L735,719.4 L737.5,718.9 L740,718.6 L742.5,718.4 L745,718.3 L747.5,718.4 L750,718.6 L752.5,719 L755,719.5 L757.5,720.2 L760,720.9 L762.5,721.8 L765,722.8 L767.5,723.9 L770,725.1 L772.5,726.4 L775,727.7 L777.5,729.1 L780,730.6 L782.5,732 L785,733.5 L787.5,735.1 L790,736.6 L792.5,738.1 L795,739.6 L797.5,741.1 L800,742.6 L802.5,744 L805,745.4 L807.5,746.8 L810,748.1 L812.5,749.4 L815,750.6 L817.5,751.8 L820,752.9 L822.5,754 L825,755 L827.5,755.9 L830,756.8 L832.5,757.7 L835,758.5 L837.5,759.2 L840,759.9 L842.5,760.5 L845,761.1 L847.5,761.6 L850,762.1 L852.5,762.6 L855,763 L857.5,763.3 L860,763.7 L862.5,764 L865,764.3 L867.5,764.5 L870,764.8 L872.5,765 L875,765.1 L877.5,765.3 L880,765.5 L882.5,765.6 L885,765.7 L887.5,765.8 L890,765.9 L892.5,766 L895,766.1 L897.5,766.1 L900,766.2 L902.5,766.2 L905,766.3 L907.5,766.3 L910,766.3 L912.5,766.4 L915,766.4 L917.5,766.4 L920,766.4 L922.5,766.4 L925,766.5 L927.5,766.5 L930,766.5 L932.5,766.5 L935,766.5 L937.5,766.5 L940,766.5 L942.5,766.5 L945,766.5 L947.5,766.5 L950,766.4 L952.5,766.4 L955,766.4 L957.5,766.4 L960,766.4 L962.5,766.4 L965,766.4 L967.5,766.3 L970,766.3 L972.5,766.3 L975,766.3 L977.5,766.3 L980,766.2 L982.5,766.2 L985,766.2 L987.5,766.2 L990,766.1 L992.5,766.1 L995,766.1 L997.5,766 L1000,766 L1002.5,766 L1005,765.9 L1007.5,765.9 L1010,765.9 L1012.5,765.8 L1015,765.8 L1017.5,765.7 L1020,765.7 L1022.5,765.7 L1025,765.6 L1027.5,765.6 L1030,765.5 L1032.5,765.5 L1035,765.4 L1037.5,765.4 L1040,765.3 L1042.5,765.3 L1045,765.2 L1047.5,765.2 L1050,765.1 L1052.5,765.1 L1055,765 L1057.5,765 L1060,764.9 L1062.5,764.9 L1065,764.8 L1067.5,764.8 L1070,764.7 L1072.5,764.6 L1075,764.6 L1077.5,764.5 L1080,764.4 L1082.5,764.4 L1085,764.3 L1087.5,764.3 L1090,764.2 L1092.5,764.1 L1095,764.1 L1097.5,764 L1100,763.9 L1102.5,763.9 L1105,763.8 L1107.5,763.7 L1110,763.6 L1112.5,763.6 L1115,763.5 L1117.5,763.4 L1120,763.3 L1122.5,763.3 L1125,763.2 L1127.5,763.1 L1130,763 L1132.5,763 L1135,762.9 L1137.5,762.8 L1140,762.7 L1142.5,762.6 L1145,762.6 L1147.5,762.5 L1150,762.4 L1152.5,762.3 L1155,762.2 L1157.5,762.1 L1160,762 L1162.5,762 L1165,761.9 L1167.5,761.8 L1170,761.7 L1172.5,761.6 L1175,761.5 L1177.5,761.4 L1180,761.3 L1182.5,761.2 L1185,761.1 L1187.5,761 L1190,760.9 L1192.5,760.8 L1195,760.7 L1197.5,760.6 L1200,760.5 L1202.5,760.4 L1205,760.3 L1207.5,760.2 L1210,760.1 L1212.5,760 L1215,759.9 L1217.5,759.8 L1220,759.7 L1222.5,759.6 L1225,759.5 L1227.5,759.4 L1230,759.3 L1232.5,759.2 L1235,759.1 L1237.5,759 L1240,758.9 L1242.5,758.8 L1245,758.6 L1247.5,758.5 L1250,758.4 L1252.5,758.3 L1255,758.2 L1257.5,758.1 L1260,757.9 L1262.5,757.8 L1265,757.7 L1267.5,757.6 L1270,757.5 L1272.5,757.4 L1275,757.2 L1277.5,757.1 L1280,757 L1282.5,756.9 L1285,756.7 L1287.5,756.6 L1290,756.5 L1292.5,756.4 L1295,756.2 L1297.5,756.1 L1300,756 L1302.5,755.9 L1305,755.7 L1307.5,755.6 L1310,755.5 L1312.5,755.3 L1315,755.2 L1317.5,755.1 L1320,754.9 L1322.5,754.8 L1325,754.7 L1327.5,754.5 L1330,754.4 L1332.5,754.2 L1335,754.1 L1337.5,754 L1340,753.8 L1342.5,753.7 L1345,753.5 L1347.5,753.4 L1350,753.3 L1352.5,753.1 L1355,753 L1357.5,752.8 L1360,752.7 L1362.5,752.5 L1365,752.4 L1367.5,752.2 L1370,752.1 L1372.5,751.9 L1375,751.8 L1377.5,751.6 L1379.3,751.5"/><path d="M119.3,439.7 L120.3,444 L121.3,448 L122.3,452 L123.3,455.8 L124.3,459.6 L125.3,463.2 L126.3,466.7 L127.3,470.1 L128.3,473.5 L129.3,476.7 L130.3,479.9 L131.3,483 L132.3,486 L133.3,488.9 L134.3,491.8 L135.3,494.6 L136.3,497.4 L137.3,500.1 L138.3,502.7 L139.3,505.3 L140.3,507.8 L141.3,510.3 L142.3,512.7 L143.3,515.1 L144.3,517.4 L145.3,519.7 L146.3,522 L147.3,524.2 L148.3,526.4 L149.3,528.5 L150.3,530.6 L151.3,532.7 L152.3,534.7 L153.3,536.8 L154.3,538.7 L155.3,540.7 L156.3,542.6 L157.3,544.5 L158.3,546.4 L159.3,548.2 L160.3,550.1 L161.3,551.9 L162.3,553.6 L163.3,555.4 L164.3,557.1 L165.3,558.8 L166.3,560.5 L167.3,562.2 L168.3,563.9 L169.3,565.5 L170.3,567.1 L171.3,568.7 L172.3,570.3 L173.3,571.9 L174.3,573.4 L175.3,574.9 L176.3,576.5 L177.3,578 L178.3,579.5 L179.3,580.9 L180.3,582.4 L181.3,583.8 L182.3,585.2 L183.3,586.7 L184.3,588.1 L185.3,589.5 L186.3,590.8 L187.3,592.2 L188.3,593.5 L189.3,594.9 L190.3,596.2 L191.3,597.5 L192.3,598.8 L193.3,600.1 L194.3,601.4 L195.3,602.7 L196.3,603.9 L197.3,605.2 L198.3,606.4 L199.3,607.6 L200.3,608.8 L201.3,610 L202.3,611.2 L203.3,612.4 L204.3,613.6 L205.3,614.7 L206.3,615.9 L207.3,617 L208.3,618.2 L209.3,619.3 L210.3,620.4 L211.3,621.5 L212.3,622.6 L213.3,623.7 L214.3,624.8 L215.3,625.9 L216.3,626.9 L217.3,628 L218.3,629 L219.3,630.1 L220.3,631.1 L221.3,632.1 L222.3,633.1 L223.3,634.1 L224.3,635.1 L225.3,636.1 L226.3,637.1 L227.3,638.1 L228.3,639 L229.3,640 L230.3,640.9 L231.3,641.9 L232.3,642.8 L233.3,643.7 L234.3,644.7 L235.3,645.6 L236.3,646.5 L237.3,647.4 L238.3,648.3 L239.3,649.1 L240.3,650 L241.3,650.9 L242.3,651.8 L243.3,652.6 L244.3,653.5 L245.3,654.3 L246.3,655.1 L247.3,656 L248.3,656.8 L249.3,657.6 L250.3,658.4 L251.3,659.2 L252.3,660 L253.3,660.8 L254.3,661.6 L255.3,662.4 L256.3,663.2 L257.3,663.9 L258.3,664.7 L259.3,665.5 L260.3,666.2 L261.3,667 L262.3,667.7 L263.3,668.4 L264.3,669.2 L265.3,669.9 L266.3,670.6 L267.3,671.3 L268.3,672 L269.3,672.7 L270.3,673.4 L271.3,674.1 L272.3,674.8 L273.3,675.5 L274.3,676.2 L275.3,676.8 L276.3,677.5 L277.3,678.2 L278.3,678.8 L279.3,679.5 L280.3,680.1 L281.3,680.7 L282.3,681.4 L283.3,682 L284.3,682.6 L285.3,683.3 L286.3,683.9 L287.3,684.5 L288.3,685.1 L289.3,685.7 L290.3,686.3 L291.3,686.9 L292.3,687.5 L293.3,688.1 L294.3,688.6 L295.3,689.2 L296.3,689.8 L297.3,690.4 L298.3,690.9 L299.3,691.5 L300.3,692 L301.3,692.6 L302.3,693.1 L303.3,693.7 L304.3,694.2 L305.3,694.7 L306.3,695.3 L307.3,695.8 L308.3,696.3 L309.3,696.8 L310.3,697.3 L311.3,697.9 L312.3,698.4 L313.3,698.9 L314.3,699.4 L315.3,699.9 L316.3,700.4 L317.3,700.8 L318.3,701.3 L319.3,701.8 L320.3,702.3 L321.3,702.8 L322.3,703.2 L323.3,703.7 L324.3,704.2 L325.3,704.6 L326.3,705.1 L327.3,705.5 L328.3,706 L329.3,706.4 L330.3,706.9 L331.3,707.3 L332.3,707.7 L333.3,708.2 L334.3,708.6 L335.3,709 L336.3,709.5 L337.3,709.9 L338.3,710.3 L339.3,710.7 L340.3,711.1 L341.3,711.5 L342.3,711.9 L343.3,712.3 L344.3,712.7 L345.3,713.1 L346.3,713.5 L347.3,713.9 L348.3,714.3 L349.3,714.7 L350.3,715.1 L351.3,715.5 L352.3,715.8 L353.3,716.2 L354.3,716.6 L355.3,716.9 L356.3,717.3 L357.3,717.7 L358.3,718 L359.3,718.4 L360.3,718.7 L361.3,719.1 L362.3,719.4 L363.3,719.8 L364.3,720.1 L365.3,720.5 L366.3,720.8 L367.3,721.2 L368.3,721.5 L369.3,721.8 L370.3,722.2 L371.3,722.5 L372.3,722.8 L373.3,723.1 L374.3,723.5 L375.3,723.8 L376.3,724.1 L377.3,724.4 L378.3,724.7 L379.3,725 L380.3,725.3 L381.3,725.6 L382.3,725.9 L383.3,726.2 L384.3,726.5 L385.3,726.8 L386.3,727.1 L387.3,727.4 L388.3,727.7 L389.3,728 L390.3,728.3 L391.3,728.6 L392.3,728.9 L393.3,729.1 L394.3,729.4 L395.3,729.7 L396.3,730 L397.3,730.2 L398.3,730.5 L399.3,730.8 L400.3,731 L401.3,731.3 L402.3,731.6 L403.3,731.8 L404.3,732.1 L405.3,732.3 L406.3,732.6 L407.3,732.9 L408.3,733.1 L409.3,733.4 L410.3,733.6 L411.3,733.8 L412.3,734.1 L413.3,734.3 L414.3,734.6 L415.3,734.8 L416.3,735.1 L417.3,735.3 L418.3,735.5 L419.3,735.8 L420.3,736 L421.3,736.2 L422.3,736.4 L423.3,736.7 L424.3,736.9 L425.3,737.1 L426.3,737.3 L427.3,737.6 L428.3,737.8 L429.3,738 L430.3,738.2 L431.3,738.4 L432.3,738.6 L433.3,738.8 L434.3,739.1 L435.3,739.3 L436.3,739.5 L437.3,739.7 L438.3,739.9 L439.3,740.1 L440.3,740.3 L441.3,740.5 L442.3,740.7 L443.3,740.9 L444.3,741.1 L445.3,741.3 L446.3,741.5 L447.3,741.7 L448.3,741.8 L449.3,742 L450.3,742.2 L451.3,742.4 L452.3,742.6 L453.3,742.8 L454.3,743 L455.3,743.1 L456.3,743.3 L457.3,743.5 L458.3,743.7 L459.3,743.9 L460.3,744 L461.3,744.2 L462.3,744.4 L463.3,744.5 L464.3,744.7 L465.3,744.9 L466.3,745.1 L467.3,745.2 L468.3,745.4 L469.3,745.5 L470.3,745.7 L471.3,745.9 L472.3,746 L473.3,746.2 L474.3,746.4 L475.3,746.5 L476.3,746.7 L477.3,746.8 L478.3,747 L479.3,747.1 L480,747.2 L482.5,747.6 L485,748 L487.5,748.4 L490,748.7 L492.5,749.1 L495,749.4 L497.5,749.8 L500,750.1 L502.5,750.4 L505,750.7 L507.5,751.1 L510,751.4 L512.5,751.7 L515,752 L517.5,752.3 L520,752.6 L522.5,752.9 L525,753.2 L527.5,753.4 L530,753.7 L532.5,754 L535,754.2 L537.5,754.5 L540,754.8 L542.5,755 L545,755.3 L547.5,755.5 L550,755.8 L552.5,756 L555,756.2 L557.5,756.5 L560,756.7 L562.5,756.9 L565,757.1 L567.5,757.3 L570,757.5 L572.5,757.8 L575,758 L577.5,758.2 L580,758.4 L582.5,758.5 L585,758.7 L587.5,758.9 L590,759.1 L592.5,759.3 L595,759.5 L597.5,759.6 L600,759.8 L602.5,760 L605,760.2 L607.5,760.3 L610,760.5 L612.5,760.6 L615,760.8 L617.5,761 L620,761.1 L622.5,761.3 L625,761.4 L627.5,761.5 L630,761.7 L632.5,761.8 L635,762 L637.5,762.1 L640,762.2 L642.5,762.4 L645,762.5 L647.5,762.6 L650,762.7 L652.5,762.9 L655,763 L657.5,763.1 L660,763.2 L662.5,763.3 L665,763.4 L667.5,763.5 L670,763.6 L672.5,763.7 L675,763.8 L677.5,763.9 L680,764 L682.5,764.1 L685,764.2 L687.5,764.3 L690,764.4 L692.5,764.4 L695,764.5 L697.5,764.6 L700,764.6 L702.5,764.7 L705,764.8 L707.5,764.8 L710,764.8 L712.5,764.8 L715,764.9 L717.5,764.9 L720,764.9 L722.5,764.8 L725,764.8 L727.5,764.7 L730,764.7 L732.5,764.6 L735,764.4 L737.5,764.3 L740,764.1 L742.5,763.9 L745,763.7 L747.5,763.4 L750,763.1 L752.5,762.7 L755,762.3 L757.5,761.9 L760,761.4 L762.5,760.9 L765,760.3 L767.5,759.6 L770,758.9 L772.5,758.2 L775,757.4 L777.5,756.5 L780,755.6 L782.5,754.6 L785,753.5 L787.5,752.4 L790,751.3 L792.5,750.1 L795,748.8 L797.5,747.5 L800,746.2 L802.5,744.8 L805,743.4 L807.5,742 L810,740.6 L812.5,739.1 L815,737.7 L817.5,736.3 L820,734.9 L822.5,733.6 L825,732.2 L827.5,731 L830,729.8 L832.5,728.6 L835,727.6 L837.5,726.6 L840,725.8 L842.5,725 L845,724.3 L847.5,723.8 L850,723.4 L852.5,723.1 L855,722.9 L857.5,722.9 L860,723 L862.5,723.2 L865,723.5 L867.5,724 L870,724.6 L872.5,725.3 L875,726.1 L877.5,727 L880,728 L882.5,729.1 L885,730.2 L887.5,731.5 L890,732.8 L892.5,734.1 L895,735.5 L897.5,736.9 L900,738.3 L902.5,739.8 L905,741.2 L907.5,742.7 L910,744.1 L912.5,745.5 L915,746.9 L917.5,748.2 L920,749.5 L922.5,750.8 L925,752 L927.5,753.2 L930,754.3 L932.5,755.3 L935,756.3 L937.5,757.3 L940,758.1 L942.5,759 L945,759.7 L947.5,760.4 L950,761.1 L952.5,761.7 L955,762.2 L957.5,762.7 L960,763.2 L962.5,763.6 L965,763.9 L967.5,764.3 L970,764.6 L972.5,764.8 L975,765 L977.5,765.2 L980,765.4 L982.5,765.5 L985,765.7 L987.5,765.8 L990,765.9 L992.5,765.9 L995,766 L997.5,766 L1000,766 L1002.5,766.1 L1005,766.1 L1007.5,766.1 L1010,766.1 L1012.5,766.1 L1015,766 L1017.5,766 L1020,766 L1022.5,765.9 L1025,765.9 L1027.5,765.9 L1030,765.8 L1032.5,765.8 L1035,765.7 L1037.5,765.7 L1040,765.6 L1042.5,765.6 L1045,765.5 L1047.5,765.5 L1050,765.4 L1052.5,765.4 L1055,765.3 L1057.5,765.3 L1060,765.2 L1062.5,765.1 L1065,765.1 L1067.5,765 L1070,765 L1072.5,764.9 L1075,764.8 L1077.5,764.8 L1080,764.7 L1082.5,764.6 L1085,764.6 L1087.5,764.5 L1090,764.4 L1092.5,764.4 L1095,764.3 L1097.5,764.2 L1100,764.2 L1102.5,764.1 L1105,764 L1107.5,763.9 L1110,763.9 L1112.5,763.8 L1115,763.7 L1117.5,763.6 L1120,763.6 L1122.5,763.5 L1125,763.4 L1127.5,763.3 L1130,763.2 L1132.5,763.2 L1135,763.1 L1137.5,763 L1140,762.9 L1142.5,762.8 L1145,762.7 L1147.5,762.7 L1150,762.6 L1152.5,762.5 L1155,762.4 L1157.5,762.3 L1160,762.2 L1162.5,762.1 L1165,762 L1167.5,761.9 L1170,761.9 L1172.5,761.8 L1175,761.7 L1177.5,761.6 L1180,761.5 L1182.5,761.4 L1185,761.3 L1187.5,761.2 L1190,761.1 L1192.5,761 L1195,760.9 L1197.5,760.8 L1200,760.7 L1202.5,760.6 L1205,760.5 L1207.5,760.4 L1210,760.3 L1212.5,760.2 L1215,760.1 L1217.5,760 L1220,759.9 L1222.5,759.8 L1225,759.6 L1227.5,759.5 L1230,759.4 L1232.5,759.3 L1235,759.2 L1237.5,759.1 L1240,759 L1242.5,758.9 L1245,758.8 L1247.5,758.6 L1250,758.5 L1252.5,758.4 L1255,758.3 L1257.5,758.2 L1260,758.1 L1262.5,757.9 L1265,757.8 L1267.5,757.7 L1270,757.6 L1272.5,757.5 L1275,757.3 L1277.5,757.2 L1280,757.1 L1282.5,757 L1285,756.8 L1287.5,756.7 L1290,756.6 L1292.5,756.5 L1295,756.3 L1297.5,756.2 L1300,756.1 L1302.5,755.9 L1305,755.8 L1307.5,755.7 L1310,755.6 L1312.5,755.4 L1315,755.3 L1317.5,755.1 L1320,755 L1322.5,754.9 L1325,754.7 L1327.5,754.6 L1330,754.5 L1332.5,754.3 L1335,754.2 L1337.5,754 L1340,753.9 L1342.5,753.8 L1345,753.6 L1347.5,753.5 L1350,753.3 L1352.5,753.2 L1355,753.1 L1357.5,752.9 L1360,752.8 L1362.5,752.6 L1365,752.5 L1367.5,752.3 L1370,752.2 L1372.5,752 L1375,751.9 L1377.5,751.7 L1379.3,751.6"/><path d="M119.3,439.7 L120.3,444 L121.3,448 L122.3,452 L123.3,455.8 L124.3,459.6 L125.3,463.2 L126.3,466.7 L127.3,470.1 L128.3,473.5 L129.3,476.7 L130.3,479.9 L131.3,483 L132.3,486 L133.3,488.9 L134.3,491.8 L135.3,494.6 L136.3,497.4 L137.3,500.1 L138.3,502.7 L139.3,505.3 L140.3,507.8 L141.3,510.3 L142.3,512.7 L143.3,515.1 L144.3,517.4 L145.3,519.7 L146.3,522 L147.3,524.2 L148.3,526.4 L149.3,528.5 L150.3,530.6 L151.3,532.7 L152.3,534.7 L153.3,536.8 L154.3,538.7 L155.3,540.7 L156.3,542.6 L157.3,544.5 L158.3,546.4 L159.3,548.2 L160.3,550.1 L161.3,551.9 L162.3,553.6 L163.3,555.4 L164.3,557.1 L165.3,558.8 L166.3,560.5 L167.3,562.2 L168.3,563.9 L169.3,565.5 L170.3,567.1 L171.3,568.7 L172.3,570.3 L173.3,571.9 L174.3,573.4 L175.3,574.9 L176.3,576.5 L177.3,578 L178.3,579.5 L179.3,580.9 L180.3,582.4 L181.3,583.8 L182.3,585.2 L183.3,586.7 L184.3,588.1 L185.3,589.5 L186.3,590.8 L187.3,592.2 L188.3,593.5 L189.3,594.9 L190.3,596.2 L191.3,597.5 L192.3,598.8 L193.3,600.1 L194.3,601.4 L195.3,602.7 L196.3,603.9 L197.3,605.2 L198.3,606.4 L199.3,607.6 L200.3,608.8 L201.3,610 L202.3,611.2 L203.3,612.4 L204.3,613.6 L205.3,614.7 L206.3,615.9 L207.3,617 L208.3,618.2 L209.3,619.3 L210.3,620.4 L211.3,621.5 L212.3,622.6 L213.3,623.7 L214.3,624.8 L215.3,625.9 L216.3,626.9 L217.3,628 L218.3,629 L219.3,630.1 L220.3,631.1 L221.3,632.1 L222.3,633.1 L223.3,634.1 L224.3,635.1 L225.3,636.1 L226.3,637.1 L227.3,638.1 L228.3,639 L229.3,640 L230.3,640.9 L231.3,641.9 L232.3,642.8 L233.3,643.7 L234.3,644.7 L235.3,645.6 L236.3,646.5 L237.3,647.4 L238.3,648.3 L239.3,649.1 L240.3,650 L241.3,650.9 L242.3,651.8 L243.3,652.6 L244.3,653.5 L245.3,654.3 L246.3,655.1 L247.3,656 L248.3,656.8 L249.3,657.6 L250.3,658.4 L251.3,659.2 L252.3,660 L253.3,660.8 L254.3,661.6 L255.3,662.4 L256.3,663.2 L257.3,663.9 L258.3,664.7 L259.3,665.5 L260.3,666.2 L261.3,667 L262.3,667.7 L263.3,668.4 L264.3,669.2 L265.3,669.9 L266.3,670.6 L267.3,671.3 L268.3,672 L269.3,672.7 L270.3,673.4 L271.3,674.1 L272.3,674.8 L273.3,675.5 L274.3,676.2 L275.3,676.8 L276.3,677.5 L277.3,678.2 L278.3,678.8 L279.3,679.5 L280.3,680.1 L281.3,680.7 L282.3,681.4 L283.3,682 L284.3,682.6 L285.3,683.3 L286.3,683.9 L287.3,684.5 L288.3,685.1 L289.3,685.7 L290.3,686.3 L291.3,686.9 L292.3,687.5 L293.3,688.1 L294.3,688.6 L295.3,689.2 L296.3,689.8 L297.3,690.4 L298.3,690.9 L299.3,691.5 L300.3,692 L301.3,692.6 L302.3,693.1 L303.3,693.7 L304.3,694.2 L305.3,694.7 L306.3,695.3 L307.3,695.8 L308.3,696.3 L309.3,696.8 L310.3,697.3 L311.3,697.9 L312.3,698.4 L313.3,698.9 L314.3,699.4 L315.3,699.9 L316.3,700.4 L317.3,700.8 L318.3,701.3 L319.3,701.8 L320.3,702.3 L321.3,702.8 L322.3,703.2 L323.3,703.7 L324.3,704.2 L325.3,704.6 L326.3,705.1 L327.3,705.5 L328.3,706 L329.3,706.4 L330.3,706.9 L331.3,707.3 L332.3,707.7 L333.3,708.2 L334.3,708.6 L335.3,709 L336.3,709.5 L337.3,709.9 L338.3,710.3 L339.3,710.7 L340.3,711.1 L341.3,711.5 L342.3,711.9 L343.3,712.3 L344.3,712.7 L345.3,713.1 L346.3,713.5 L347.3,713.9 L348.3,714.3 L349.3,714.7 L350.3,715.1 L351.3,715.5 L352.3,715.8 L353.3,716.2 L354.3,716.6 L355.3,716.9 L356.3,717.3 L357.3,717.7 L358.3,718 L359.3,718.4 L360.3,718.7 L361.3,719.1 L362.3,719.4 L363.3,719.8 L364.3,720.1 L365.3,720.5 L366.3,720.8 L367.3,721.2 L368.3,721.5 L369.3,721.8 L370.3,722.2 L371.3,722.5 L372.3,722.8 L373.3,723.1 L374.3,723.5 L375.3,723.8 L376.3,724.1 L377.3,724.4 L378.3,724.7 L379.3,725 L380.3,725.3 L381.3,725.6 L382.3,725.9 L383.3,726.2 L384.3,726.5 L385.3,726.8 L386.3,727.1 L387.3,727.4 L388.3,727.7 L389.3,728 L390.3,728.3 L391.3,728.6 L392.3,728.9 L393.3,729.1 L394.3,729.4 L395.3,729.7 L396.3,730 L397.3,730.2 L398.3,730.5 L399.3,730.8 L400.3,731 L401.3,731.3 L402.3,731.6 L403.3,731.8 L404.3,732.1 L405.3,732.3 L406.3,732.6 L407.3,732.9 L408.3,733.1 L409.3,733.4 L410.3,733.6 L411.3,733.8 L412.3,734.1 L413.3,734.3 L414.3,734.6 L415.3,734.8 L416.3,735.1 L417.3,735.3 L418.3,735.5 L419.3,735.8 L420.3,736 L421.3,736.2 L422.3,736.4 L423.3,736.7 L424.3,736.9 L425.3,737.1 L426.3,737.3 L427.3,737.6 L428.3,737.8 L429.3,738 L430.3,738.2 L431.3,738.4 L432.3,738.6 L433.3,738.8 L434.3,739.1 L435.3,739.3 L436.3,739.5 L437.3,739.7 L438.3,739.9 L439.3,740.1 L440.3,740.3 L441.3,740.5 L442.3,740.7 L443.3,740.9 L444.3,741.1 L445.3,741.3 L446.3,741.5 L447.3,741.7 L448.3,741.8 L449.3,742 L450.3,742.2 L451.3,742.4 L452.3,742.6 L453.3,742.8 L454.3,743 L455.3,743.1 L456.3,743.3 L457.3,743.5 L458.3,743.7 L459.3,743.9 L460.3,744 L461.3,744.2 L462.3,744.4 L463.3,744.5 L464.3,744.7 L465.3,744.9 L466.3,745.1 L467.3,745.2 L468.3,745.4 L469.3,745.5 L470.3,745.7 L471.3,745.9 L472.3,746 L473.3,746.2 L474.3,746.4 L475.3,746.5 L476.3,746.7 L477.3,746.8 L478.3,747 L479.3,747.1 L480,747.2 L482.5,747.6 L485,748 L487.5,748.4 L490,748.7 L492.5,749.1 L495,749.4 L497.5,749.8 L500,750.1 L502.5,750.4 L505,750.7 L507.5,751.1 L510,751.4 L512.5,751.7 L515,752 L517.5,752.3 L520,752.6 L522.5,752.9 L525,753.2 L527.5,753.4 L530,753.7 L532.5,754 L535,754.2 L537.5,754.5 L540,754.8 L542.5,755 L545,755.3 L547.5,755.5 L550,755.8 L552.5,756 L555,756.2 L557.5,756.5 L560,756.7 L562.5,756.9 L565,757.1 L567.5,757.3 L570,757.5 L572.5,757.8 L575,758 L577.5,758.2 L580,758.4 L582.5,758.5 L585,758.7 L587.5,758.9 L590,759.1 L592.5,759.3 L595,759.5 L597.5,759.6 L600,759.8 L602.5,760 L605,760.2 L607.5,760.3 L610,760.5 L612.5,760.6 L615,760.8 L617.5,761 L620,761.1 L622.5,761.3 L625,761.4 L627.5,761.5 L630,761.7 L632.5,761.8 L635,762 L637.5,762.1 L640,762.2 L642.5,762.4 L645,762.5 L647.5,762.6 L650,762.7 L652.5,762.9 L655,763 L657.5,763.1 L660,763.2 L662.5,763.3 L665,763.4 L667.5,763.5 L670,763.6 L672.5,763.8 L675,763.9 L677.5,764 L680,764.1 L682.5,764.2 L685,764.3 L687.5,764.3 L690,764.4 L692.5,764.5 L695,764.6 L697.5,764.7 L700,764.8 L702.5,764.9 L705,765 L707.5,765 L710,765.1 L712.5,765.2 L715,765.3 L717.5,765.3 L720,765.4 L722.5,765.5 L725,765.6 L727.5,765.6 L730,765.7 L732.5,765.8 L735,765.8 L737.5,765.9 L740,765.9 L742.5,766 L745,766.1 L747.5,766.1 L750,766.2 L752.5,766.2 L755,766.3 L757.5,766.3 L760,766.4 L762.5,766.4 L765,766.5 L767.5,766.5 L770,766.6 L772.5,766.6 L775,766.6 L777.5,766.7 L780,766.7 L782.5,766.7 L785,766.8 L787.5,766.8 L790,766.8 L792.5,766.8 L795,766.8 L797.5,766.9 L800,766.9 L802.5,766.9 L805,766.8 L807.5,766.8 L810,766.8 L812.5,766.8 L815,766.7 L817.5,766.7 L820,766.6 L822.5,766.5 L825,766.4 L827.5,766.3 L830,766.1 L832.5,766 L835,765.8 L837.5,765.5 L840,765.3 L842.5,765 L845,764.7 L847.5,764.3 L850,764 L852.5,763.5 L855,763 L857.5,762.5 L860,761.9 L862.5,761.3 L865,760.6 L867.5,759.9 L870,759.1 L872.5,758.2 L875,757.3 L877.5,756.3 L880,755.2 L882.5,754.1 L885,752.9 L887.5,751.7 L890,750.4 L892.5,749.1 L895,747.7 L897.5,746.2 L900,744.7 L902.5,743.2 L905,741.7 L907.5,740.1 L910,738.5 L912.5,736.9 L915,735.3 L917.5,733.7 L920,732.2 L922.5,730.7 L925,729.2 L927.5,727.7 L930,726.4 L932.5,725.1 L935,723.9 L937.5,722.7 L940,721.7 L942.5,720.8 L945,719.9 L947.5,719.3 L950,718.7 L952.5,718.2 L955,717.9 L957.5,717.8 L960,717.7 L962.5,717.8 L965,718.1 L967.5,718.5 L970,719 L972.5,719.6 L975,720.3 L977.5,721.2 L980,722.2 L982.5,723.2 L985,724.4 L987.5,725.6 L990,726.9 L992.5,728.3 L995,729.7 L997.5,731.2 L1000,732.7 L1002.5,734.2 L1005,735.8 L1007.5,737.3 L1010,738.8 L1012.5,740.3 L1015,741.8 L1017.5,743.3 L1020,744.7 L1022.5,746.1 L1025,747.5 L1027.5,748.8 L1030,750 L1032.5,751.2 L1035,752.3 L1037.5,753.4 L1040,754.4 L1042.5,755.3 L1045,756.2 L1047.5,757 L1050,757.8 L1052.5,758.5 L1055,759.1 L1057.5,759.7 L1060,760.2 L1062.5,760.7 L1065,761.1 L1067.5,761.5 L1070,761.9 L1072.5,762.2 L1075,762.4 L1077.5,762.7 L1080,762.9 L1082.5,763 L1085,763.2 L1087.5,763.3 L1090,763.4 L1092.5,763.5 L1095,763.5 L1097.5,763.6 L1100,763.6 L1102.5,763.6 L1105,763.6 L1107.5,763.6 L1110,763.6 L1112.5,763.5 L1115,763.5 L1117.5,763.5 L1120,763.4 L1122.5,763.4 L1125,763.3 L1127.5,763.2 L1130,763.2 L1132.5,763.1 L1135,763 L1137.5,763 L1140,762.9 L1142.5,762.8 L1145,762.7 L1147.5,762.6 L1150,762.6 L1152.5,762.5 L1155,762.4 L1157.5,762.3 L1160,762.2 L1162.5,762.1 L1165,762 L1167.5,761.9 L1170,761.8 L1172.5,761.8 L1175,761.7 L1177.5,761.6 L1180,761.5 L1182.5,761.4 L1185,761.3 L1187.5,761.2 L1190,761.1 L1192.5,761 L1195,760.9 L1197.5,760.8 L1200,760.7 L1202.5,760.6 L1205,760.5 L1207.5,760.4 L1210,760.3 L1212.5,760.2 L1215,760.1 L1217.5,760 L1220,759.9 L1222.5,759.8 L1225,759.6 L1227.5,759.5 L1230,759.4 L1232.5,759.3 L1235,759.2 L1237.5,759.1 L1240,759 L1242.5,758.9 L1245,758.8 L1247.5,758.6 L1250,758.5 L1252.5,758.4 L1255,758.3 L1257.5,758.2 L1260,758.1 L1262.5,757.9 L1265,757.8 L1267.5,757.7 L1270,757.6 L1272.5,757.5 L1275,757.3 L1277.5,757.2 L1280,757.1 L1282.5,757 L1285,756.8 L1287.5,756.7 L1290,756.6 L1292.5,756.5 L1295,756.3 L1297.5,756.2 L1300,756.1 L1302.5,755.9 L1305,755.8 L1307.5,755.7 L1310,755.6 L1312.5,755.4 L1315,755.3 L1317.5,755.1 L1320,755 L1322.5,754.9 L1325,754.7 L1327.5,754.6 L1330,754.5 L1332.5,754.3 L1335,754.2 L1337.5,754 L1340,753.9 L1342.5,753.8 L1345,753.6 L1347.5,753.5 L1350,753.3 L1352.5,753.2 L1355,753.1 L1357.5,752.9 L1360,752.8 L1362.5,752.6 L1365,752.5 L1367.5,752.3 L1370,752.2 L1372.5,752 L1375,751.9 L1377.5,751.7 L1379.3,751.6"/><path d="M119.3,439.7 L120.3,444 L121.3,448 L122.3,452 L123.3,455.8 L124.3,459.6 L125.3,463.2 L126.3,466.7 L127.3,470.1 L128.3,473.5 L129.3,476.7 L130.3,479.9 L131.3,483 L132.3,486 L133.3,488.9 L134.3,491.8 L135.3,494.6 L136.3,497.4 L137.3,500.1 L138.3,502.7 L139.3,505.3 L140.3,507.8 L141.3,510.3 L142.3,512.7 L143.3,515.1 L144.3,517.4 L145.3,519.7 L146.3,522 L147.3,524.2 L148.3,526.4 L149.3,528.5 L150.3,530.6 L151.3,532.7 L152.3,534.7 L153.3,536.8 L154.3,538.7 L155.3,540.7 L156.3,542.6 L157.3,544.5 L158.3,546.4 L159.3,548.2 L160.3,550.1 L161.3,551.9 L162.3,553.6 L163.3,555.4 L164.3,557.1 L165.3,558.8 L166.3,560.5 L167.3,562.2 L168.3,563.9 L169.3,565.5 L170.3,567.1 L171.3,568.7 L172.3,570.3 L173.3,571.9 L174.3,573.4 L175.3,574.9 L176.3,576.5 L177.3,578 L178.3,579.5 L179.3,580.9 L180.3,582.4 L181.3,583.8 L182.3,585.2 L183.3,586.7 L184.3,588.1 L185.3,589.5 L186.3,590.8 L187.3,592.2 L188.3,593.5 L189.3,594.9 L190.3,596.2 L191.3,597.5 L192.3,598.8 L193.3,600.1 L194.3,601.4 L195.3,602.7 L196.3,603.9 L197.3,605.2 L198.3,606.4 L199.3,607.6 L200.3,608.8 L201.3,610 L202.3,611.2 L203.3,612.4 L204.3,613.6 L205.3,614.7 L206.3,615.9 L207.3,617 L208.3,618.2 L209.3,619.3 L210.3,620.4 L211.3,621.5 L212.3,622.6 L213.3,623.7 L214.3,624.8 L215.3,625.9 L216.3,626.9 L217.3,628 L218.3,629 L219.3,630.1 L220.3,631.1 L221.3,632.1 L222.3,633.1 L223.3,634.1 L224.3,635.1 L225.3,636.1 L226.3,637.1 L227.3,638.1 L228.3,639 L229.3,640 L230.3,640.9 L231.3,641.9 L232.3,642.8 L233.3,643.7 L234.3,644.7 L235.3,645.6 L236.3,646.5 L237.3,647.4 L238.3,648.3 L239.3,649.1 L240.3,650 L241.3,650.9 L242.3,651.8 L243.3,652.6 L244.3,653.5 L245.3,654.3 L246.3,655.1 L247.3,656 L248.3,656.8 L249.3,657.6 L250.3,658.4 L251.3,659.2 L252.3,660 L253.3,660.8 L254.3,661.6 L255.3,662.4 L256.3,663.2 L257.3,663.9 L258.3,664.7 L259.3,665.5 L260.3,666.2 L261.3,667 L262.3,667.7 L263.3,668.4 L264.3,669.2 L265.3,669.9 L266.3,670.6 L267.3,671.3 L268.3,672 L269.3,672.7 L270.3,673.4 L271.3,674.1 L272.3,674.8 L273.3,675.5 L274.3,676.2 L275.3,676.8 L276.3,677.5 L277.3,678.2 L278.3,678.8 L279.3,679.5 L280.3,680.1 L281.3,680.7 L282.3,681.4 L283.3,682 L284.3,682.6 L285.3,683.3 L286.3,683.9 L287.3,684.5 L288.3,685.1 L289.3,685.7 L290.3,686.3 L291.3,686.9 L292.3,687.5 L293.3,688.1 L294.3,688.6 L295.3,689.2 L296.3,689.8 L297.3,690.4 L298.3,690.9 L299.3,691.5 L300.3,692 L301.3,692.6 L302.3,693.1 L303.3,693.7 L304.3,694.2 L305.3,694.7 L306.3,695.3 L307.3,695.8 L308.3,696.3 L309.3,696.8 L310.3,697.3 L311.3,697.9 L312.3,698.4 L313.3,698.9 L314.3,699.4 L315.3,699.9 L316.3,700.4 L317.3,700.8 L318.3,701.3 L319.3,701.8 L320.3,702.3 L321.3,702.8 L322.3,703.2 L323.3,703.7 L324.3,704.2 L325.3,704.6 L326.3,705.1 L327.3,705.5 L328.3,706 L329.3,706.4 L330.3,706.9 L331.3,707.3 L332.3,707.7 L333.3,708.2 L334.3,708.6 L335.3,709 L336.3,709.5 L337.3,709.9 L338.3,710.3 L339.3,710.7 L340.3,711.1 L341.3,711.5 L342.3,711.9 L343.3,712.3 L344.3,712.7 L345.3,713.1 L346.3,713.5 L347.3,713.9 L348.3,714.3 L349.3,714.7 L350.3,715.1 L351.3,715.5 L352.3,715.8 L353.3,716.2 L354.3,716.6 L355.3,716.9 L356.3,717.3 L357.3,717.7 L358.3,718 L359.3,718.4 L360.3,718.7 L361.3,719.1 L362.3,719.4 L363.3,719.8 L364.3,720.1 L365.3,720.5 L366.3,720.8 L367.3,721.2 L368.3,721.5 L369.3,721.8 L370.3,722.2 L371.3,722.5 L372.3,722.8 L373.3,723.1 L374.3,723.5 L375.3,723.8 L376.3,724.1 L377.3,724.4 L378.3,724.7 L379.3,725 L380.3,725.3 L381.3,725.6 L382.3,725.9 L383.3,726.2 L384.3,726.5 L385.3,726.8 L386.3,727.1 L387.3,727.4 L388.3,727.7 L389.3,728 L390.3,728.3 L391.3,728.6 L392.3,728.9 L393.3,729.1 L394.3,729.4 L395.3,729.7 L396.3,730 L397.3,730.2 L398.3,730.5 L399.3,730.8 L400.3,731 L401.3,731.3 L402.3,731.6 L403.3,731.8 L404.3,732.1 L405.3,732.3 L406.3,732.6 L407.3,732.9 L408.3,733.1 L409.3,733.4 L410.3,733.6 L411.3,733.8 L412.3,734.1 L413.3,734.3 L414.3,734.6 L415.3,734.8 L416.3,735.1 L417.3,735.3 L418.3,735.5 L419.3,735.8 L420.3,736 L421.3,736.2 L422.3,736.4 L423.3,736.7 L424.3,736.9 L425.3,737.1 L426.3,737.3 L427.3,737.6 L428.3,737.8 L429.3,738 L430.3,738.2 L431.3,738.4 L432.3,738.6 L433.3,738.8 L434.3,739.1 L435.3,739.3 L436.3,739.5 L437.3,739.7 L438.3,739.9 L439.3,740.1 L440.3,740.3 L441.3,740.5 L442.3,740.7 L443.3,740.9 L444.3,741.1 L445.3,741.3 L446.3,741.5 L447.3,741.7 L448.3,741.8 L449.3,742 L450.3,742.2 L451.3,742.4 L452.3,742.6 L453.3,742.8 L454.3,743 L455.3,743.1 L456.3,743.3 L457.3,743.5 L458.3,743.7 L459.3,743.9 L460.3,744 L461.3,744.2 L462.3,744.4 L463.3,744.5 L464.3,744.7 L465.3,744.9 L466.3,745.1 L467.3,745.2 L468.3,745.4 L469.3,745.5 L470.3,745.7 L471.3,745.9 L472.3,746 L473.3,746.2 L474.3,746.4 L475.3,746.5 L476.3,746.7 L477.3,746.8 L478.3,747 L479.3,747.1 L480,747.2 L482.5,747.6 L485,748 L487.5,748.4 L490,748.7 L492.5,749.1 L495,749.4 L497.5,749.8 L500,750.1 L502.5,750.4 L505,750.7 L507.5,751.1 L510,751.4 L512.5,751.7 L515,752 L517.5,752.3 L520,752.6 L522.5,752.9 L525,753.2 L527.5,753.4 L530,753.7 L532.5,754 L535,754.2 L537.5,754.5 L540,754.8 L542.5,755 L545,755.3 L547.5,755.5 L550,755.8 L552.5,756 L555,756.2 L557.5,756.5 L560,756.7 L562.5,756.9 L565,757.1 L567.5,757.3 L570,757.5 L572.5,757.8 L575,758 L577.5,758.2 L580,758.4 L582.5,758.5 L585,758.7 L587.5,758.9 L590,759.1 L592.5,759.3 L595,759.5 L597.5,759.6 L600,759.8 L602.5,760 L605,760.2 L607.5,760.3 L610,760.5 L612.5,760.6 L615,760.8 L617.5,761 L620,761.1 L622.5,761.3 L625,761.4 L627.5,761.5 L630,761.7 L632.5,761.8 L635,762 L637.5,762.1 L640,762.2 L642.5,762.4 L645,762.5 L647.5,762.6 L650,762.7 L652.5,762.9 L655,763 L657.5,763.1 L660,763.2 L662.5,763.3 L665,763.4 L667.5,763.5 L670,763.6 L672.5,763.8 L675,763.9 L677.5,764 L680,764.1 L682.5,764.2 L685,764.3 L687.5,764.3 L690,764.4 L692.5,764.5 L695,764.6 L697.5,764.7 L700,764.8 L702.5,764.9 L705,765 L707.5,765 L710,765.1 L712.5,765.2 L715,765.3 L717.5,765.3 L720,765.4 L722.5,765.5 L725,765.6 L727.5,765.6 L730,765.7 L732.5,765.8 L735,765.8 L737.5,765.9 L740,765.9 L742.5,766 L745,766.1 L747.5,766.1 L750,766.2 L752.5,766.2 L755,766.3 L757.5,766.3 L760,766.4 L762.5,766.4 L765,766.5 L767.5,766.5 L770,766.6 L772.5,766.6 L775,766.7 L777.5,766.7 L780,766.8 L782.5,766.8 L785,766.8 L787.5,766.9 L790,766.9 L792.5,766.9 L795,767 L797.5,767 L800,767 L802.5,767.1 L805,767.1 L807.5,767.1 L810,767.1 L812.5,767.2 L815,767.2 L817.5,767.2 L820,767.2 L822.5,767.3 L825,767.3 L827.5,767.3 L830,767.3 L832.5,767.3 L835,767.4 L837.5,767.4 L840,767.4 L842.5,767.4 L845,767.4 L847.5,767.4 L850,767.4 L852.5,767.4 L855,767.5 L857.5,767.5 L860,767.5 L862.5,767.5 L865,767.5 L867.5,767.5 L870,767.5 L872.5,767.5 L875,767.5 L877.5,767.5 L880,767.5 L882.5,767.4 L885,767.4 L887.5,767.4 L890,767.4 L892.5,767.4 L895,767.4 L897.5,767.3 L900,767.3 L902.5,767.3 L905,767.2 L907.5,767.2 L910,767.1 L912.5,767 L915,767 L917.5,766.9 L920,766.8 L922.5,766.7 L925,766.6 L927.5,766.4 L930,766.3 L932.5,766.1 L935,765.9 L937.5,765.7 L940,765.5 L942.5,765.3 L945,765 L947.5,764.7 L950,764.3 L952.5,764 L955,763.6 L957.5,763.2 L960,762.7 L962.5,762.2 L965,761.6 L967.5,761 L970,760.4 L972.5,759.7 L975,759 L977.5,758.3 L980,757.5 L982.5,756.6 L985,755.7 L987.5,754.8 L990,753.8 L992.5,752.8 L995,751.8 L997.5,750.7 L1000,749.6 L1002.5,748.5 L1005,747.4 L1007.5,746.2 L1010,745.1 L1012.5,743.9 L1015,742.8 L1017.5,741.6 L1020,740.5 L1022.5,739.4 L1025,738.3 L1027.5,737.3 L1030,736.3 L1032.5,735.4 L1035,734.5 L1037.5,733.7 L1040,732.9 L1042.5,732.3 L1045,731.7 L1047.5,731.2 L1050,730.7 L1052.5,730.4 L1055,730.2 L1057.5,730 L1060,730 L1062.5,730 L1065,730.2 L1067.5,730.4 L1070,730.7 L1072.5,731.1 L1075,731.6 L1077.5,732.2 L1080,732.8 L1082.5,733.5 L1085,734.3 L1087.5,735.1 L1090,736 L1092.5,736.9 L1095,737.9 L1097.5,738.9 L1100,739.9 L1102.5,740.9 L1105,741.9 L1107.5,743 L1110,744 L1112.5,745 L1115,746.1 L1117.5,747 L1120,748 L1122.5,749 L1125,749.9 L1127.5,750.8 L1130,751.6 L1132.5,752.4 L1135,753.2 L1137.5,753.9 L1140,754.5 L1142.5,755.2 L1145,755.8 L1147.5,756.3 L1150,756.8 L1152.5,757.3 L1155,757.7 L1157.5,758.1 L1160,758.4 L1162.5,758.7 L1165,759 L1167.5,759.3 L1170,759.5 L1172.5,759.6 L1175,759.8 L1177.5,759.9 L1180,760 L1182.5,760.1 L1185,760.2 L1187.5,760.2 L1190,760.3 L1192.5,760.3 L1195,760.3 L1197.5,760.3 L1200,760.2 L1202.5,760.2 L1205,760.1 L1207.5,760.1 L1210,760 L1212.5,760 L1215,759.9 L1217.5,759.8 L1220,759.7 L1222.5,759.6 L1225,759.6 L1227.5,759.5 L1230,759.4 L1232.5,759.3 L1235,759.2 L1237.5,759.1 L1240,759 L1242.5,758.8 L1245,758.7 L1247.5,758.6 L1250,758.5 L1252.5,758.4 L1255,758.3 L1257.5,758.2 L1260,758.1 L1262.5,757.9 L1265,757.8 L1267.5,757.7 L1270,757.6 L1272.5,757.5 L1275,757.3 L1277.5,757.2 L1280,757.1 L1282.5,757 L1285,756.8 L1287.5,756.7 L1290,756.6 L1292.5,756.5 L1295,756.3 L1297.5,756.2 L1300,756.1 L1302.5,755.9 L1305,755.8 L1307.5,755.7 L1310,755.6 L1312.5,755.4 L1315,755.3 L1317.5,755.1 L1320,755 L1322.5,754.9 L1325,754.7 L1327.5,754.6 L1330,754.5 L1332.5,754.3 L1335,754.2 L1337.5,754 L1340,753.9 L1342.5,753.8 L1345,753.6 L1347.5,753.5 L1350,753.3 L1352.5,753.2 L1355,753.1 L1357.5,752.9 L1360,752.8 L1362.5,752.6 L1365,752.5 L1367.5,752.3 L1370,752.2 L1372.5,752 L1375,751.9 L1377.5,751.7 L1379.3,751.6"/><path d="M119.3,439.7 L120.3,443.9 L121.3,448 L122.3,452 L123.3,455.8 L124.3,459.5 L125.3,463.2 L126.3,466.7 L127.3,470.1 L128.3,473.5 L129.3,476.7 L130.3,479.9 L131.3,483 L132.3,486 L133.3,488.9 L134.3,491.8 L135.3,494.6 L136.3,497.4 L137.3,500 L138.3,502.7 L139.3,505.3 L140.3,507.8 L141.3,510.2 L142.3,512.7 L143.3,515.1 L144.3,517.4 L145.3,519.7 L146.3,521.9 L147.3,524.2 L148.3,526.3 L149.3,528.5 L150.3,530.6 L151.3,532.7 L152.3,534.7 L153.3,536.7 L154.3,538.7 L155.3,540.7 L156.3,542.6 L157.3,544.5 L158.3,546.4 L159.3,548.2 L160.3,550 L161.3,551.8 L162.3,553.6 L163.3,555.4 L164.3,557.1 L165.3,558.8 L166.3,560.5 L167.3,562.2 L168.3,563.8 L169.3,565.5 L170.3,567.1 L171.3,568.7 L172.3,570.3 L173.3,571.8 L174.3,573.4 L175.3,574.9 L176.3,576.4 L177.3,577.9 L178.3,579.4 L179.3,580.9 L180.3,582.4 L181.3,583.8 L182.3,585.2 L183.3,586.6 L184.3,588 L185.3,589.4 L186.3,590.8 L187.3,592.2 L188.3,593.5 L189.3,594.9 L190.3,596.2 L191.3,597.5 L192.3,598.8 L193.3,600.1 L194.3,601.4 L195.3,602.6 L196.3,603.9 L197.3,605.1 L198.3,606.4 L199.3,607.6 L200.3,608.8 L201.3,610 L202.3,611.2 L203.3,612.4 L204.3,613.6 L205.3,614.7 L206.3,615.9 L207.3,617 L208.3,618.1 L209.3,619.3 L210.3,620.4 L211.3,621.5 L212.3,622.6 L213.3,623.7 L214.3,624.8 L215.3,625.8 L216.3,626.9 L217.3,627.9 L218.3,629 L219.3,630 L220.3,631.1 L221.3,632.1 L222.3,633.1 L223.3,634.1 L224.3,635.1 L225.3,636.1 L226.3,637.1 L227.3,638 L228.3,639 L229.3,639.9 L230.3,640.9 L231.3,641.8 L232.3,642.8 L233.3,643.7 L234.3,644.6 L235.3,645.5 L236.3,646.4 L237.3,647.3 L238.3,648.2 L239.3,649.1 L240.3,650 L241.3,650.9 L242.3,651.7 L243.3,652.6 L244.3,653.4 L245.3,654.3 L246.3,655.1 L247.3,655.9 L248.3,656.8 L249.3,657.6 L250.3,658.4 L251.3,659.2 L252.3,660 L253.3,660.8 L254.3,661.6 L255.3,662.4 L256.3,663.1 L257.3,663.9 L258.3,664.7 L259.3,665.4 L260.3,666.2 L261.3,666.9 L262.3,667.7 L263.3,668.4 L264.3,669.1 L265.3,669.9 L266.3,670.6 L267.3,671.3 L268.3,672 L269.3,672.7 L270.3,673.4 L271.3,674.1 L272.3,674.8 L273.3,675.5 L274.3,676.1 L275.3,676.8 L276.3,677.5 L277.3,678.1 L278.3,678.8 L279.3,679.4 L280.3,680.1 L281.3,680.7 L282.3,681.3 L283.3,682 L284.3,682.6 L285.3,683.2 L286.3,683.8 L287.3,684.5 L288.3,685.1 L289.3,685.7 L290.3,686.3 L291.3,686.9 L292.3,687.4 L293.3,688 L294.3,688.6 L295.3,689.2 L296.3,689.8 L297.3,690.3 L298.3,690.9 L299.3,691.4 L300.3,692 L301.3,692.5 L302.3,693.1 L303.3,693.6 L304.3,694.2 L305.3,694.7 L306.3,695.2 L307.3,695.8 L308.3,696.3 L309.3,696.8 L310.3,697.3 L311.3,697.8 L312.3,698.3 L313.3,698.8 L314.3,699.3 L315.3,699.8 L316.3,700.3 L317.3,700.8 L318.3,701.3 L319.3,701.8 L320.3,702.3 L321.3,702.7 L322.3,703.2 L323.3,703.7 L324.3,704.1 L325.3,704.6 L326.3,705 L327.3,705.5 L328.3,705.9 L329.3,706.4 L330.3,706.8 L331.3,707.3 L332.3,707.7 L333.3,708.1 L334.3,708.6 L335.3,709 L336.3,709.4 L337.3,709.8 L338.3,710.3 L339.3,710.7 L340.3,711.1 L341.3,711.5 L342.3,711.9 L343.3,712.3 L344.3,712.7 L345.3,713.1 L346.3,713.5 L347.3,713.9 L348.3,714.3 L349.3,714.7 L350.3,715 L351.3,715.4 L352.3,715.8 L353.3,716.2 L354.3,716.5 L355.3,716.9 L356.3,717.3 L357.3,717.6 L358.3,718 L359.3,718.4 L360.3,718.7 L361.3,719.1 L362.3,719.4 L363.3,719.8 L364.3,720.1 L365.3,720.4 L366.3,720.8 L367.3,721.1 L368.3,721.5 L369.3,721.8 L370.3,722.1 L371.3,722.4 L372.3,722.8 L373.3,723.1 L374.3,723.4 L375.3,723.7 L376.3,724.1 L377.3,724.4 L378.3,724.7 L379.3,725 L380.3,725.3 L381.3,725.6 L382.3,725.9 L383.3,726.2 L384.3,726.5 L385.3,726.8 L386.3,727.1 L387.3,727.4 L388.3,727.7 L389.3,728 L390.3,728.2 L391.3,728.5 L392.3,728.8 L393.3,729.1 L394.3,729.4 L395.3,729.6 L396.3,729.9 L397.3,730.2 L398.3,730.5 L399.3,730.7 L400.3,731 L401.3,731.3 L402.3,731.5 L403.3,731.8 L404.3,732 L405.3,732.3 L406.3,732.6 L407.3,732.8 L408.3,733.1 L409.3,733.3 L410.3,733.6 L411.3,733.8 L412.3,734 L413.3,734.3 L414.3,734.5 L415.3,734.8 L416.3,735 L417.3,735.2 L418.3,735.5 L419.3,735.7 L420.3,735.9 L421.3,736.2 L422.3,736.4 L423.3,736.6 L424.3,736.8 L425.3,737.1 L426.3,737.3 L427.3,737.5 L428.3,737.7 L429.3,737.9 L430.3,738.2 L431.3,738.4 L432.3,738.6 L433.3,738.8 L434.3,739 L435.3,739.2 L436.3,739.4 L437.3,739.6 L438.3,739.8 L439.3,740 L440.3,740.2 L441.3,740.4 L442.3,740.6 L443.3,740.8 L444.3,741 L445.3,741.2 L446.3,741.4 L447.3,741.6 L448.3,741.8 L449.3,742 L450.3,742.2 L451.3,742.4 L452.3,742.5 L453.3,742.7 L454.3,742.9 L455.3,743.1 L456.3,743.3 L457.3,743.4 L458.3,743.6 L459.3,743.8 L460.3,744 L461.3,744.1 L462.3,744.3 L463.3,744.5 L464.3,744.7 L465.3,744.8 L466.3,745 L467.3,745.2 L468.3,745.3 L469.3,745.5 L470.3,745.7 L471.3,745.8 L472.3,746 L473.3,746.1 L474.3,746.3 L475.3,746.5 L476.3,746.6 L477.3,746.8 L478.3,746.9 L479.3,747.1 L480,747.2 L482.5,747.6 L485,747.9 L487.5,748.3 L490,748.7 L492.5,749 L495,749.4 L497.5,749.7 L500,750 L502.5,750.4 L505,750.7 L507.5,751 L510,751.3 L512.5,751.6 L515,751.9 L517.5,752.2 L520,752.5 L522.5,752.8 L525,753.1 L527.5,753.4 L530,753.7 L532.5,753.9 L535,754.2 L537.5,754.4 L540,754.7 L542.5,755 L545,755.2 L547.5,755.4 L550,755.7 L552.5,755.9 L555,756.2 L557.5,756.4 L560,756.6 L562.5,756.8 L565,757 L567.5,757.3 L570,757.5 L572.5,757.7 L575,757.9 L577.5,758.1 L580,758.3 L582.5,758.5 L585,758.7 L587.5,758.9 L590,759 L592.5,759.2 L595,759.4 L597.5,759.6 L600,759.7 L602.5,759.9 L605,760.1 L607.5,760.2 L610,760.4 L612.5,760.6 L615,760.7 L617.5,760.9 L620,761 L622.5,761.2 L625,761.3 L627.5,761.5 L630,761.6 L632.5,761.7 L635,761.9 L637.5,762 L640,762.1 L642.5,762.3 L645,762.4 L647.5,762.5 L650,762.6 L652.5,762.8 L655,762.9 L657.5,763 L660,763.1 L662.5,763.2 L665,763.3 L667.5,763.4 L670,763.5 L672.5,763.6 L675,763.8 L677.5,763.9 L680,764 L682.5,764 L685,764.1 L687.5,764.2 L690,764.3 L692.5,764.4 L695,764.5 L697.5,764.6 L700,764.7 L702.5,764.8 L705,764.8 L707.5,764.9 L710,765 L712.5,765.1 L715,765.1 L717.5,765.2 L720,765.3 L722.5,765.4 L725,765.4 L727.5,765.5 L730,765.6 L732.5,765.6 L735,765.7 L737.5,765.7 L740,765.8 L742.5,765.9 L745,765.9 L747.5,766 L750,766 L752.5,766.1 L755,766.1 L757.5,766.2 L760,766.2 L762.5,766.3 L765,766.3 L767.5,766.4 L770,766.4 L772.5,766.5 L775,766.5 L777.5,766.5 L780,766.6 L782.5,766.6 L785,766.7 L787.5,766.7 L790,766.7 L792.5,766.8 L795,766.8 L797.5,766.8 L800,766.8 L802.5,766.9 L805,766.9 L807.5,766.9 L810,767 L812.5,767 L815,767 L817.5,767 L820,767 L822.5,767.1 L825,767.1 L827.5,767.1 L830,767.1 L832.5,767.1 L835,767.1 L837.5,767.1 L840,767.2 L842.5,767.2 L845,767.2 L847.5,767.2 L850,767.2 L852.5,767.2 L855,767.2 L857.5,767.2 L860,767.2 L862.5,767.2 L865,767.2 L867.5,767.2 L870,767.2 L872.5,767.2 L875,767.2 L877.5,767.2 L880,767.2 L882.5,767.2 L885,767.2 L887.5,767.2 L890,767.1 L892.5,767.1 L895,767.1 L897.5,767.1 L900,767.1 L902.5,767.1 L905,767.1 L907.5,767 L910,767 L912.5,767 L915,767 L917.5,767 L920,766.9 L922.5,766.9 L925,766.9 L927.5,766.9 L930,766.8 L932.5,766.8 L935,766.8 L937.5,766.7 L940,766.7 L942.5,766.7 L945,766.6 L947.5,766.6 L950,766.6 L952.5,766.5 L955,766.5 L957.5,766.5 L960,766.4 L962.5,766.4 L965,766.3 L967.5,766.3 L970,766.2 L972.5,766.2 L975,766.1 L977.5,766.1 L980,766 L982.5,765.9 L985,765.9 L987.5,765.8 L990,765.8 L992.5,765.7 L995,765.6 L997.5,765.5 L1000,765.4 L1002.5,765.4 L1005,765.3 L1007.5,765.2 L1010,765.1 L1012.5,764.9 L1015,764.8 L1017.5,764.7 L1020,764.5 L1022.5,764.4 L1025,764.2 L1027.5,764 L1030,763.9 L1032.5,763.6 L1035,763.4 L1037.5,763.2 L1040,762.9 L1042.5,762.6 L1045,762.3 L1047.5,762 L1050,761.6 L1052.5,761.2 L1055,760.8 L1057.5,760.4 L1060,759.9 L1062.5,759.4 L1065,758.8 L1067.5,758.3 L1070,757.6 L1072.5,757 L1075,756.3 L1077.5,755.5 L1080,754.7 L1082.5,753.9 L1085,753.1 L1087.5,752.2 L1090,751.2 L1092.5,750.3 L1095,749.2 L1097.5,748.2 L1100,747.1 L1102.5,746 L1105,744.9 L1107.5,743.8 L1110,742.6 L1112.5,741.5 L1115,740.3 L1117.5,739.1 L1120,738 L1122.5,736.8 L1125,735.7 L1127.5,734.6 L1130,733.5 L1132.5,732.5 L1135,731.6 L1137.5,730.6 L1140,729.8 L1142.5,729 L1145,728.3 L1147.5,727.7 L1150,727.2 L1152.5,726.8 L1155,726.5 L1157.5,726.2 L1160,726.1 L1162.5,726.1 L1165,726.2 L1167.5,726.4 L1170,726.7 L1172.5,727.1 L1175,727.6 L1177.5,728.2 L1180,728.8 L1182.5,729.5 L1185,730.3 L1187.5,731.1 L1190,732 L1192.5,732.9 L1195,733.8 L1197.5,734.8 L1200,735.7 L1202.5,736.7 L1205,737.7 L1207.5,738.7 L1210,739.7 L1212.5,740.7 L1215,741.6 L1217.5,742.5 L1220,743.4 L1222.5,744.3 L1225,745.2 L1227.5,746 L1230,746.7 L1232.5,747.5 L1235,748.2 L1237.5,748.8 L1240,749.5 L1242.5,750 L1245,750.6 L1247.5,751.1 L1250,751.5 L1252.5,752 L1255,752.3 L1257.5,752.7 L1260,753 L1262.5,753.3 L1265,753.5 L1267.5,753.8 L1270,753.9 L1272.5,754.1 L1275,754.2 L1277.5,754.4 L1280,754.5 L1282.5,754.5 L1285,754.6 L1287.5,754.6 L1290,754.6 L1292.5,754.7 L1295,754.6 L1297.5,754.6 L1300,754.6 L1302.5,754.6 L1305,754.5 L1307.5,754.4 L1310,754.4 L1312.5,754.3 L1315,754.2 L1317.5,754.1 L1320,754 L1322.5,754 L1325,753.9 L1327.5,753.8 L1330,753.6 L1332.5,753.5 L1335,753.4 L1337.5,753.3 L1340,753.2 L1342.5,753.1 L1345,752.9 L1347.5,752.8 L1350,752.7 L1352.5,752.6 L1355,752.4 L1357.5,752.3 L1360,752.2 L1362.5,752 L1365,751.9 L1367.5,751.8 L1370,751.6 L1372.5,751.5 L1375,751.4 L1377.5,751.2 L1379.3,751.1"/><path d="M119.3,439.7 L120.3,443.9 L121.3,448 L122.3,452 L123.3,455.8 L124.3,459.6 L125.3,463.2 L126.3,466.7 L127.3,470.1 L128.3,473.5 L129.3,476.7 L130.3,479.9 L131.3,483 L132.3,486 L133.3,488.9 L134.3,491.8 L135.3,494.6 L136.3,497.4 L137.3,500.1 L138.3,502.7 L139.3,505.3 L140.3,507.8 L141.3,510.3 L142.3,512.7 L143.3,515.1 L144.3,517.4 L145.3,519.7 L146.3,522 L147.3,524.2 L148.3,526.4 L149.3,528.5 L150.3,530.6 L151.3,532.7 L152.3,534.7 L153.3,536.7 L154.3,538.7 L155.3,540.7 L156.3,542.6 L157.3,544.5 L158.3,546.4 L159.3,548.2 L160.3,550 L161.3,551.8 L162.3,553.6 L163.3,555.4 L164.3,557.1 L165.3,558.8 L166.3,560.5 L167.3,562.2 L168.3,563.9 L169.3,565.5 L170.3,567.1 L171.3,568.7 L172.3,570.3 L173.3,571.9 L174.3,573.4 L175.3,574.9 L176.3,576.4 L177.3,577.9 L178.3,579.4 L179.3,580.9 L180.3,582.4 L181.3,583.8 L182.3,585.2 L183.3,586.6 L184.3,588 L185.3,589.4 L186.3,590.8 L187.3,592.2 L188.3,593.5 L189.3,594.9 L190.3,596.2 L191.3,597.5 L192.3,598.8 L193.3,600.1 L194.3,601.4 L195.3,602.6 L196.3,603.9 L197.3,605.1 L198.3,606.4 L199.3,607.6 L200.3,608.8 L201.3,610 L202.3,611.2 L203.3,612.4 L204.3,613.6 L205.3,614.7 L206.3,615.9 L207.3,617 L208.3,618.2 L209.3,619.3 L210.3,620.4 L211.3,621.5 L212.3,622.6 L213.3,623.7 L214.3,624.8 L215.3,625.8 L216.3,626.9 L217.3,628 L218.3,629 L219.3,630 L220.3,631.1 L221.3,632.1 L222.3,633.1 L223.3,634.1 L224.3,635.1 L225.3,636.1 L226.3,637.1 L227.3,638 L228.3,639 L229.3,640 L230.3,640.9 L231.3,641.8 L232.3,642.8 L233.3,643.7 L234.3,644.6 L235.3,645.5 L236.3,646.5 L237.3,647.3 L238.3,648.2 L239.3,649.1 L240.3,650 L241.3,650.9 L242.3,651.7 L243.3,652.6 L244.3,653.4 L245.3,654.3 L246.3,655.1 L247.3,656 L248.3,656.8 L249.3,657.6 L250.3,658.4 L251.3,659.2 L252.3,660 L253.3,660.8 L254.3,661.6 L255.3,662.4 L256.3,663.2 L257.3,663.9 L258.3,664.7 L259.3,665.4 L260.3,666.2 L261.3,666.9 L262.3,667.7 L263.3,668.4 L264.3,669.1 L265.3,669.9 L266.3,670.6 L267.3,671.3 L268.3,672 L269.3,672.7 L270.3,673.4 L271.3,674.1 L272.3,674.8 L273.3,675.5 L274.3,676.1 L275.3,676.8 L276.3,677.5 L277.3,678.1 L278.3,678.8 L279.3,679.4 L280.3,680.1 L281.3,680.7 L282.3,681.4 L283.3,682 L284.3,682.6 L285.3,683.2 L286.3,683.9 L287.3,684.5 L288.3,685.1 L289.3,685.7 L290.3,686.3 L291.3,686.9 L292.3,687.5 L293.3,688 L294.3,688.6 L295.3,689.2 L296.3,689.8 L297.3,690.3 L298.3,690.9 L299.3,691.5 L300.3,692 L301.3,692.6 L302.3,693.1 L303.3,693.6 L304.3,694.2 L305.3,694.7 L306.3,695.2 L307.3,695.8 L308.3,696.3 L309.3,696.8 L310.3,697.3 L311.3,697.8 L312.3,698.3 L313.3,698.8 L314.3,699.3 L315.3,699.8 L316.3,700.3 L317.3,700.8 L318.3,701.3 L319.3,701.8 L320.3,702.3 L321.3,702.7 L322.3,703.2 L323.3,703.7 L324.3,704.1 L325.3,704.6 L326.3,705.1 L327.3,705.5 L328.3,706 L329.3,706.4 L330.3,706.8 L331.3,707.3 L332.3,707.7 L333.3,708.2 L334.3,708.6 L335.3,709 L336.3,709.4 L337.3,709.9 L338.3,710.3 L339.3,710.7 L340.3,711.1 L341.3,711.5 L342.3,711.9 L343.3,712.3 L344.3,712.7 L345.3,713.1 L346.3,713.5 L347.3,713.9 L348.3,714.3 L349.3,714.7 L350.3,715 L351.3,715.4 L352.3,715.8 L353.3,716.2 L354.3,716.5 L355.3,716.9 L356.3,717.3 L357.3,717.6 L358.3,718 L359.3,718.4 L360.3,718.7 L361.3,719.1 L362.3,719.4 L363.3,719.8 L364.3,720.1 L365.3,720.5 L366.3,720.8 L367.3,721.1 L368.3,721.5 L369.3,721.8 L370.3,722.1 L371.3,722.5 L372.3,722.8 L373.3,723.1 L374.3,723.4 L375.3,723.7 L376.3,724.1 L377.3,724.4 L378.3,724.7 L379.3,725 L380.3,725.3 L381.3,725.6 L382.3,725.9 L383.3,726.2 L384.3,726.5 L385.3,726.8 L386.3,727.1 L387.3,727.4 L388.3,727.7 L389.3,728 L390.3,728.3 L391.3,728.5 L392.3,728.8 L393.3,729.1 L394.3,729.4 L395.3,729.7 L396.3,729.9 L397.3,730.2 L398.3,730.5 L399.3,730.7 L400.3,731 L401.3,731.3 L402.3,731.5 L403.3,731.8 L404.3,732.1 L405.3,732.3 L406.3,732.6 L407.3,732.8 L408.3,733.1 L409.3,733.3 L410.3,733.6 L411.3,733.8 L412.3,734.1 L413.3,734.3 L414.3,734.5 L415.3,734.8 L416.3,735 L417.3,735.3 L418.3,735.5 L419.3,735.7 L420.3,736 L421.3,736.2 L422.3,736.4 L423.3,736.6 L424.3,736.9 L425.3,737.1 L426.3,737.3 L427.3,737.5 L428.3,737.7 L429.3,738 L430.3,738.2 L431.3,738.4 L432.3,738.6 L433.3,738.8 L434.3,739 L435.3,739.2 L436.3,739.4 L437.3,739.6 L438.3,739.9 L439.3,740.1 L440.3,740.3 L441.3,740.5 L442.3,740.7 L443.3,740.8 L444.3,741 L445.3,741.2 L446.3,741.4 L447.3,741.6 L448.3,741.8 L449.3,742 L450.3,742.2 L451.3,742.4 L452.3,742.6 L453.3,742.7 L454.3,742.9 L455.3,743.1 L456.3,743.3 L457.3,743.5 L458.3,743.6 L459.3,743.8 L460.3,744 L461.3,744.2 L462.3,744.3 L463.3,744.5 L464.3,744.7 L465.3,744.8 L466.3,745 L467.3,745.2 L468.3,745.4 L469.3,745.5 L470.3,745.7 L471.3,745.8 L472.3,746 L473.3,746.2 L474.3,746.3 L475.3,746.5 L476.3,746.6 L477.3,746.8 L478.3,746.9 L479.3,747.1 L480,747.2 L482.5,747.6 L485,748 L487.5,748.3 L490,748.7 L492.5,749 L495,749.4 L497.5,749.7 L500,750.1 L502.5,750.4 L505,750.7 L507.5,751 L510,751.3 L512.5,751.7 L515,752 L517.5,752.3 L520,752.5 L522.5,752.8 L525,753.1 L527.5,753.4 L530,753.7 L532.5,753.9 L535,754.2 L537.5,754.5 L540,754.7 L542.5,755 L545,755.2 L547.5,755.5 L550,755.7 L552.5,756 L555,756.2 L557.5,756.4 L560,756.6 L562.5,756.9 L565,757.1 L567.5,757.3 L570,757.5 L572.5,757.7 L575,757.9 L577.5,758.1 L580,758.3 L582.5,758.5 L585,758.7 L587.5,758.9 L590,759.1 L592.5,759.2 L595,759.4 L597.5,759.6 L600,759.8 L602.5,759.9 L605,760.1 L607.5,760.3 L610,760.4 L612.5,760.6 L615,760.8 L617.5,760.9 L620,761.1 L622.5,761.2 L625,761.4 L627.5,761.5 L630,761.6 L632.5,761.8 L635,761.9 L637.5,762 L640,762.2 L642.5,762.3 L645,762.4 L647.5,762.6 L650,762.7 L652.5,762.8 L655,762.9 L657.5,763 L660,763.1 L662.5,763.3 L665,763.4 L667.5,763.5 L670,763.6 L672.5,763.7 L675,763.8 L677.5,763.9 L680,764 L682.5,764.1 L685,764.2 L687.5,764.3 L690,764.4 L692.5,764.5 L695,764.6 L697.5,764.6 L700,764.7 L702.5,764.8 L705,764.9 L707.5,765 L710,765 L712.5,765.1 L715,765.2 L717.5,765.3 L720,765.3 L722.5,765.4 L725,765.5 L727.5,765.6 L730,765.6 L732.5,765.7 L735,765.7 L737.5,765.8 L740,765.9 L742.5,765.9 L745,766 L747.5,766 L750,766.1 L752.5,766.2 L755,766.2 L757.5,766.3 L760,766.3 L762.5,766.4 L765,766.4 L767.5,766.4 L770,766.5 L772.5,766.5 L775,766.6 L777.5,766.6 L780,766.7 L782.5,766.7 L785,766.7 L787.5,766.8 L790,766.8 L792.5,766.8 L795,766.9 L797.5,766.9 L800,766.9 L802.5,767 L805,767 L807.5,767 L810,767 L812.5,767.1 L815,767.1 L817.5,767.1 L820,767.1 L822.5,767.2 L825,767.2 L827.5,767.2 L830,767.2 L832.5,767.2 L835,767.2 L837.5,767.3 L840,767.3 L842.5,767.3 L845,767.3 L847.5,767.3 L850,767.3 L852.5,767.3 L855,767.3 L857.5,767.3 L860,767.3 L862.5,767.3 L865,767.3 L867.5,767.3 L870,767.4 L872.5,767.4 L875,767.3 L877.5,767.3 L880,767.3 L882.5,767.3 L885,767.3 L887.5,767.3 L890,767.3 L892.5,767.3 L895,767.3 L897.5,767.3 L900,767.3 L902.5,767.3 L905,767.3 L907.5,767.3 L910,767.2 L912.5,767.2 L915,767.2 L917.5,767.2 L920,767.2 L922.5,767.2 L925,767.1 L927.5,767.1 L930,767.1 L932.5,767.1 L935,767 L937.5,767 L940,767 L942.5,767 L945,766.9 L947.5,766.9 L950,766.9 L952.5,766.9 L955,766.8 L957.5,766.8 L960,766.8 L962.5,766.7 L965,766.7 L967.5,766.7 L970,766.6 L972.5,766.6 L975,766.6 L977.5,766.5 L980,766.5 L982.5,766.4 L985,766.4 L987.5,766.3 L990,766.3 L992.5,766.3 L995,766.2 L997.5,766.2 L1000,766.1 L1002.5,766.1 L1005,766 L1007.5,766 L1010,765.9 L1012.5,765.9 L1015,765.8 L1017.5,765.8 L1020,765.7 L1022.5,765.7 L1025,765.6 L1027.5,765.5 L1030,765.5 L1032.5,765.4 L1035,765.4 L1037.5,765.3 L1040,765.2 L1042.5,765.2 L1045,765.1 L1047.5,765 L1050,765 L1052.5,764.9 L1055,764.8 L1057.5,764.7 L1060,764.7 L1062.5,764.6 L1065,764.5 L1067.5,764.4 L1070,764.3 L1072.5,764.3 L1075,764.2 L1077.5,764.1 L1080,764 L1082.5,763.9 L1085,763.8 L1087.5,763.7 L1090,763.6 L1092.5,763.5 L1095,763.3 L1097.5,763.2 L1100,763.1 L1102.5,762.9 L1105,762.8 L1107.5,762.6 L1110,762.5 L1112.5,762.3 L1115,762.1 L1117.5,761.9 L1120,761.7 L1122.5,761.5 L1125,761.2 L1127.5,761 L1130,760.7 L1132.5,760.4 L1135,760.1 L1137.5,759.8 L1140,759.4 L1142.5,759 L1145,758.6 L1147.5,758.2 L1150,757.8 L1152.5,757.3 L1155,756.8 L1157.5,756.2 L1160,755.7 L1162.5,755.1 L1165,754.5 L1167.5,753.8 L1170,753.2 L1172.5,752.4 L1175,751.7 L1177.5,751 L1180,750.2 L1182.5,749.4 L1185,748.5 L1187.5,747.7 L1190,746.8 L1192.5,745.9 L1195,745.1 L1197.5,744.2 L1200,743.3 L1202.5,742.3 L1205,741.4 L1207.5,740.5 L1210,739.7 L1212.5,738.8 L1215,738 L1217.5,737.1 L1220,736.4 L1222.5,735.6 L1225,734.9 L1227.5,734.3 L1230,733.7 L1232.5,733.1 L1235,732.6 L1237.5,732.2 L1240,731.9 L1242.5,731.6 L1245,731.4 L1247.5,731.3 L1250,731.3 L1252.5,731.3 L1255,731.4 L1257.5,731.6 L1260,731.8 L1262.5,732.1 L1265,732.5 L1267.5,732.9 L1270,733.3 L1272.5,733.8 L1275,734.4 L1277.5,735 L1280,735.6 L1282.5,736.2 L1285,736.9 L1287.5,737.5 L1290,738.2 L1292.5,738.9 L1295,739.6 L1297.5,740.2 L1300,740.9 L1302.5,741.5 L1305,742.2 L1307.5,742.8 L1310,743.4 L1312.5,744 L1315,744.6 L1317.5,745.1 L1320,745.6 L1322.5,746.1 L1325,746.5 L1327.5,747 L1330,747.3 L1332.5,747.7 L1335,748.1 L1337.5,748.4 L1340,748.6 L1342.5,748.9 L1345,749.1 L1347.5,749.3 L1350,749.5 L1352.5,749.6 L1355,749.8 L1357.5,749.9 L1360,750 L1362.5,750 L1365,750.1 L1367.5,750.1 L1370,750.1 L1372.5,750.1 L1375,750.1 L1377.5,750.1 L1379.3,750.1"/></g>
<path clip-path="url(#c)" d="M119.3,432.1 L120.3,434.9 L121.3,437.8 L122.3,440.8 L123.3,443.8 L124.3,446.8 L125.3,449.8 L126.3,452.8 L127.3,455.8 L128.3,458.7 L129.3,461.6 L130.3,464.4 L131.3,467.2 L132.3,470 L133.3,472.6 L134.3,475.3 L135.3,477.8 L136.3,480.3 L137.3,482.8 L138.3,485.2 L139.3,487.6 L140.3,489.9 L141.3,492.1 L142.3,494.3 L143.3,496.5 L144.3,498.6 L145.3,500.7 L146.3,502.7 L147.3,504.7 L148.3,506.6 L149.3,508.5 L150.3,510.4 L151.3,512.2 L152.3,513.9 L153.3,515.7 L154.3,517.4 L155.3,519.1 L156.3,520.7 L157.3,522.3 L158.3,523.8 L159.3,525.4 L160.3,526.9 L161.3,528.3 L162.3,529.7 L163.3,531.1 L164.3,532.5 L165.3,533.8 L166.3,535.1 L167.3,536.4 L168.3,537.6 L169.3,538.8 L170.3,539.9 L171.3,541.1 L172.3,542.1 L173.3,543.2 L174.3,544.2 L175.3,545.2 L176.3,546.2 L177.3,547.1 L178.3,547.9 L179.3,548.8 L180.3,549.6 L181.3,550.3 L182.3,551.1 L183.3,551.7 L184.3,552.4 L185.3,553 L186.3,553.5 L187.3,554 L188.3,554.5 L189.3,554.9 L190.3,555.3 L191.3,555.6 L192.3,555.9 L193.3,556.1 L194.3,556.3 L195.3,556.4 L196.3,556.5 L197.3,556.5 L198.3,556.4 L199.3,556.3 L200.3,556.1 L201.3,555.9 L202.3,555.6 L203.3,555.3 L204.3,554.8 L205.3,554.3 L206.3,553.8 L207.3,553.2 L208.3,552.4 L209.3,551.7 L210.3,550.8 L211.3,549.9 L212.3,548.9 L213.3,547.8 L214.3,546.6 L215.3,545.3 L216.3,544 L217.3,542.6 L218.3,541 L219.3,539.4 L220.3,537.7 L221.3,535.9 L222.3,534 L223.3,532 L224.3,529.9 L225.3,527.7 L226.3,525.4 L227.3,523 L228.3,520.5 L229.3,517.9 L230.3,515.2 L231.3,512.4 L232.3,509.5 L233.3,506.4 L234.3,503.3 L235.3,500 L236.3,496.6 L237.3,493.2 L238.3,489.6 L239.3,485.9 L240.3,482 L241.3,478.1 L242.3,474.1 L243.3,469.9 L244.3,465.6 L245.3,461.2 L246.3,456.8 L247.3,452.1 L248.3,447.4 L249.3,442.6 L250.3,437.7 L251.3,432.6 L252.3,427.5 L253.3,422.3 L254.3,416.9 L255.3,411.5 L256.3,405.9 L257.3,400.3 L258.3,394.6 L259.3,388.7 L260.3,382.8 L261.3,376.9 L262.3,370.8 L263.3,364.7 L264.3,358.4 L265.3,352.2 L266.3,345.8 L267.3,339.4 L268.3,333 L269.3,326.5 L270.3,319.9 L271.3,313.3 L272.3,306.7 L273.3,300.1 L274.3,293.4 L275.3,286.7 L276.3,280 L277.3,273.3 L278.3,266.6 L279.3,259.9 L280.3,253.2 L281.3,246.6 L282.3,240 L283.3,233.4 L284.3,226.9 L285.3,220.4 L286.3,214 L287.3,207.7 L288.3,201.4 L289.3,195.3 L290.3,189.2 L291.3,183.3 L292.3,177.5 L293.3,171.8 L294.3,166.2 L295.3,160.8 L296.3,155.5 L297.3,150.5 L298.3,145.5 L299.3,140.8 L300.3,136.3 L301.3,132 L302.3,127.8 L303.3,123.9 L304.3,120.3 L305.3,116.9 L306.3,113.7 L307.3,110.7 L308.3,108.1 L309.3,105.7 L310.3,103.5 L311.3,101.7 L312.3,100.1 L313.3,98.8 L314.3,97.8 L315.3,97.1 L316.3,96.7 L317.3,96.6 L318.3,96.8 L319.3,97.2 L320.3,97.9 L321.3,98.8 L322.3,99.9 L323.3,101.3 L324.3,102.9 L325.3,104.7 L326.3,106.8 L327.3,109.1 L328.3,111.6 L329.3,114.3 L330.3,117.2 L331.3,120.3 L332.3,123.7 L333.3,127.2 L334.3,130.9 L335.3,134.8 L336.3,138.9 L337.3,143.1 L338.3,147.5 L339.3,152 L340.3,156.7 L341.3,161.6 L342.3,166.6 L343.3,171.7 L344.3,176.9 L345.3,182.2 L346.3,187.6 L347.3,193.2 L348.3,198.8 L349.3,204.5 L350.3,210.3 L351.3,216.1 L352.3,222.1 L353.3,228 L354.3,234 L355.3,240.1 L356.3,246.2 L357.3,252.3 L358.3,258.5 L359.3,264.6 L360.3,270.8 L361.3,277 L362.3,283.2 L363.3,289.3 L364.3,295.5 L365.3,301.6 L366.3,307.8 L367.3,313.9 L368.3,319.9 L369.3,325.9 L370.3,331.9 L371.3,337.9 L372.3,343.8 L373.3,349.6 L374.3,355.4 L375.3,361.1 L376.3,366.7 L377.3,372.3 L378.3,377.9 L379.3,383.3 L380.3,388.7 L381.3,394 L382.3,399.2 L383.3,404.3 L384.3,409.4 L385.3,414.3 L386.3,419.2 L387.3,424 L388.3,428.7 L389.3,433.3 L390.3,437.8 L391.3,442.3 L392.3,446.6 L393.3,450.8 L394.3,455 L395.3,459.1 L396.3,463 L397.3,466.9 L398.3,470.7 L399.3,474.4 L400.3,478 L401.3,481.5 L402.3,484.9 L403.3,488.3 L404.3,491.5 L405.3,494.7 L406.3,497.8 L407.3,500.8 L408.3,503.7 L409.3,506.6 L410.3,509.3 L411.3,512 L412.3,514.7 L413.3,517.2 L414.3,519.7 L415.3,522.1 L416.3,524.5 L417.3,526.8 L418.3,529 L419.3,531.2 L420.3,533.3 L421.3,535.4 L422.3,537.4 L423.3,539.4 L424.3,541.3 L425.3,543.2 L426.3,545.1 L427.3,546.9 L428.3,548.7 L429.3,550.4 L430.3,552.1 L431.3,553.8 L432.3,555.4 L433.3,557 L434.3,558.6 L435.3,560.2 L436.3,561.7 L437.3,563.2 L438.3,564.7 L439.3,566.2 L440.3,567.7 L441.3,569.2 L442.3,570.6 L443.3,572 L444.3,573.4 L445.3,574.8 L446.3,576.2 L447.3,577.6 L448.3,579 L449.3,580.3 L450.3,581.7 L451.3,583 L452.3,584.3 L453.3,585.7 L454.3,587 L455.3,588.3 L456.3,589.6 L457.3,590.9 L458.3,592.1 L459.3,593.4 L460.3,594.7 L461.3,595.9 L462.3,597.1 L463.3,598.4 L464.3,599.6 L465.3,600.8 L466.3,602 L467.3,603.2 L468.3,604.3 L469.3,605.5 L470.3,606.7 L471.3,607.8 L472.3,608.9 L473.3,610 L474.3,611.1 L475.3,612.2 L476.3,613.2 L477.3,614.3 L478.3,615.3 L479.3,616.3 L480,617 L482.5,619.5 L485,621.8 L487.5,624 L490,626.2 L492.5,628.2 L495,630.1 L497.5,631.9 L500,633.6 L502.5,635.3 L505,636.8 L507.5,638.3 L510,639.7 L512.5,641.1 L515,642.5 L517.5,643.8 L520,645.2 L522.5,646.5 L525,647.9 L527.5,649.3 L530,650.8 L532.5,652.3 L535,653.8 L537.5,655.5 L540,657.1 L542.5,658.9 L545,660.7 L547.5,662.5 L550,664.3 L552.5,666.2 L555,668 L557.5,669.9 L560,671.7 L562.5,673.5 L565,675.2 L567.5,676.8 L570,678.4 L572.5,679.9 L575,681.3 L577.5,682.6 L580,683.8 L582.5,684.9 L585,685.8 L587.5,686.6 L590,687.3 L592.5,687.9 L595,688.4 L597.5,688.7 L600,689 L602.5,689.1 L605,689.1 L607.5,689 L610,688.9 L612.5,688.6 L615,688.3 L617.5,687.9 L620,687.5 L622.5,687.1 L625,686.7 L627.5,686.2 L630,685.8 L632.5,685.4 L635,685 L637.5,684.7 L640,684.4 L642.5,684.3 L645,684.2 L647.5,684.2 L650,684.3 L652.5,684.5 L655,684.8 L657.5,685.2 L660,685.6 L662.5,686.2 L665,686.8 L667.5,687.4 L670,688.1 L672.5,688.8 L675,689.6 L677.5,690.3 L680,691.1 L682.5,691.8 L685,692.6 L687.5,693.2 L690,693.9 L692.5,694.5 L695,695.1 L697.5,695.6 L700,696.1 L702.5,696.5 L705,696.9 L707.5,697.3 L710,697.6 L712.5,697.9 L715,698.1 L717.5,698.3 L720,698.5 L722.5,698.7 L725,698.9 L727.5,699.1 L730,699.3 L732.5,699.6 L735,699.9 L737.5,700.2 L740,700.6 L742.5,701 L745,701.4 L747.5,702 L750,702.6 L752.5,703.2 L755,703.9 L757.5,704.6 L760,705.4 L762.5,706.2 L765,707 L767.5,707.8 L770,708.7 L772.5,709.5 L775,710.3 L777.5,711.1 L780,711.8 L782.5,712.5 L785,713.1 L787.5,713.7 L790,714.2 L792.5,714.7 L795,715.1 L797.5,715.4 L800,715.6 L802.5,715.7 L805,715.8 L807.5,715.8 L810,715.7 L812.5,715.6 L815,715.4 L817.5,715.1 L820,714.8 L822.5,714.5 L825,714.1 L827.5,713.7 L830,713.3 L832.5,712.9 L835,712.5 L837.5,712.1 L840,711.7 L842.5,711.3 L845,710.9 L847.5,710.6 L850,710.3 L852.5,710.1 L855,709.9 L857.5,709.7 L860,709.6 L862.5,709.5 L865,709.5 L867.5,709.5 L870,709.5 L872.5,709.6 L875,709.7 L877.5,709.8 L880,709.9 L882.5,710.1 L885,710.2 L887.5,710.3 L890,710.5 L892.5,710.6 L895,710.6 L897.5,710.7 L900,710.7 L902.5,710.7 L905,710.7 L907.5,710.6 L910,710.5 L912.5,710.3 L915,710.1 L917.5,709.9 L920,709.6 L922.5,709.3 L925,709 L927.5,708.7 L930,708.4 L932.5,708 L935,707.7 L937.5,707.4 L940,707.1 L942.5,706.8 L945,706.5 L947.5,706.3 L950,706.2 L952.5,706 L955,705.9 L957.5,705.9 L960,705.9 L962.5,706 L965,706.1 L967.5,706.3 L970,706.6 L972.5,706.9 L975,707.2 L977.5,707.6 L980,708 L982.5,708.4 L985,708.9 L987.5,709.4 L990,709.9 L992.5,710.4 L995,710.9 L997.5,711.4 L1000,711.9 L1002.5,712.3 L1005,712.8 L1007.5,713.2 L1010,713.6 L1012.5,714 L1015,714.4 L1017.5,714.7 L1020,715 L1022.5,715.3 L1025,715.5 L1027.5,715.7 L1030,715.9 L1032.5,716.1 L1035,716.2 L1037.5,716.3 L1040,716.4 L1042.5,716.6 L1045,716.7 L1047.5,716.8 L1050,716.9 L1052.5,717 L1055,717.1 L1057.5,717.2 L1060,717.3 L1062.5,717.4 L1065,717.6 L1067.5,717.7 L1070,717.9 L1072.5,718.1 L1075,718.2 L1077.5,718.4 L1080,718.6 L1082.5,718.8 L1085,718.9 L1087.5,719.1 L1090,719.2 L1092.5,719.4 L1095,719.5 L1097.5,719.6 L1100,719.6 L1102.5,719.7 L1105,719.7 L1107.5,719.6 L1110,719.6 L1112.5,719.5 L1115,719.3 L1117.5,719.2 L1120,718.9 L1122.5,718.7 L1125,718.5 L1127.5,718.2 L1130,717.9 L1132.5,717.5 L1135,717.2 L1137.5,716.9 L1140,716.5 L1142.5,716.2 L1145,715.9 L1147.5,715.6 L1150,715.3 L1152.5,715 L1155,714.8 L1157.5,714.6 L1160,714.5 L1162.5,714.4 L1165,714.4 L1167.5,714.3 L1170,714.4 L1172.5,714.4 L1175,714.5 L1177.5,714.7 L1180,714.8 L1182.5,715 L1185,715.2 L1187.5,715.5 L1190,715.7 L1192.5,715.9 L1195,716.2 L1197.5,716.4 L1200,716.7 L1202.5,716.9 L1205,717.2 L1207.5,717.5 L1210,717.7 L1212.5,718 L1215,718.2 L1217.5,718.5 L1220,718.7 L1222.5,719 L1225,719.3 L1227.5,719.5 L1230,719.8 L1232.5,720.2 L1235,720.5 L1237.5,720.9 L1240,721.3 L1242.5,721.7 L1245,722.2 L1247.5,722.7 L1250,723.2 L1252.5,723.8 L1255,724.4 L1257.5,725.1 L1260,725.8 L1262.5,726.5 L1265,727.2 L1267.5,728 L1270,728.7 L1272.5,729.6 L1275,730.4 L1277.5,731.2 L1280,732 L1282.5,732.9 L1285,733.7 L1287.5,734.5 L1290,735.4 L1292.5,736.2 L1295,737 L1297.5,737.8 L1300,738.5 L1302.5,739.3 L1305,740 L1307.5,740.7 L1310,741.4 L1312.5,742 L1315,742.6 L1317.5,743.2 L1320,743.8 L1322.5,744.3 L1325,744.8 L1327.5,745.3 L1330,745.7 L1332.5,746.1 L1335,746.5 L1337.5,746.8 L1340,747.1 L1342.5,747.4 L1345,747.6 L1347.5,747.9 L1350,748.1 L1352.5,748.2 L1355,748.4 L1357.5,748.5 L1360,748.6 L1362.5,748.7 L1365,748.8 L1367.5,748.8 L1370,748.9 L1372.5,748.9 L1375,748.9 L1377.5,748.9 L1379.3,748.8" fill="none" stroke="#ff0000" stroke-width="6.2" stroke-linejoin="round" stroke-linecap="round"/>
<g stroke="#000" stroke-width="1.5" fill="none">
<path d="M119.3 10.3V807.5H1379.3"/>
<path d="M110 807.5 H119.3"/><path d="M110 693.6 H119.3"/><path d="M110 579.7 H119.3"/><path d="M110 465.8 H119.3"/><path d="M110 352 H119.3"/><path d="M110 238.1 H119.3"/><path d="M110 124.2 H119.3"/><path d="M110 10.3 H119.3"/>
<path d="M119.3 807.5 V816"/><path d="M245.3 807.5 V816"/><path d="M371.3 807.5 V816"/><path d="M497.3 807.5 V816"/><path d="M623.3 807.5 V816"/><path d="M749.3 807.5 V816"/><path d="M875.3 807.5 V816"/><path d="M1001.3 807.5 V816"/><path d="M1127.3 807.5 V816"/><path d="M1253.3 807.5 V816"/><path d="M1379.3 807.5 V816"/>
</g>
<g class="t" text-anchor="end">
<text x="93.6" y="815.8">0</text><text x="93.6" y="701.9">500</text><text x="93.6" y="588">1000</text><text x="93.6" y="474.1">1500</text><text x="93.6" y="360.3">2000</text><text x="93.6" y="246.4">2500</text><text x="93.6" y="132.5">3000</text><text x="93.6" y="18.6">3500</text>
</g>
<g class="t" text-anchor="middle">
<text x="119" y="852">10</text><text x="245" y="852">20</text><text x="371" y="852">30</text><text x="497" y="852">40</text><text x="623" y="852">50</text><text x="749" y="852">60</text><text x="875" y="852">70</text><text x="1001" y="852">80</text><text x="1127" y="852">90</text><text x="1253" y="852">100</text><text x="1379" y="852">110</text>
</g>
<text x="748.5" y="899" text-anchor="middle" style="font-family:'Liberation Serif',serif;font-size:32.5px;stroke:#000;stroke-width:0.7">2θ<tspan dy="-4.5" style="font-size:28px">°</tspan></text>
<text transform="translate(23,407) rotate(-90)" text-anchor="middle" style="font-family:'Liberation Sans',sans-serif;font-size:29px;font-weight:bold" textLength="267" lengthAdjust="spacingAndGlyphs">Intensity (arb. units)</text>
</svg>
</body></html>
